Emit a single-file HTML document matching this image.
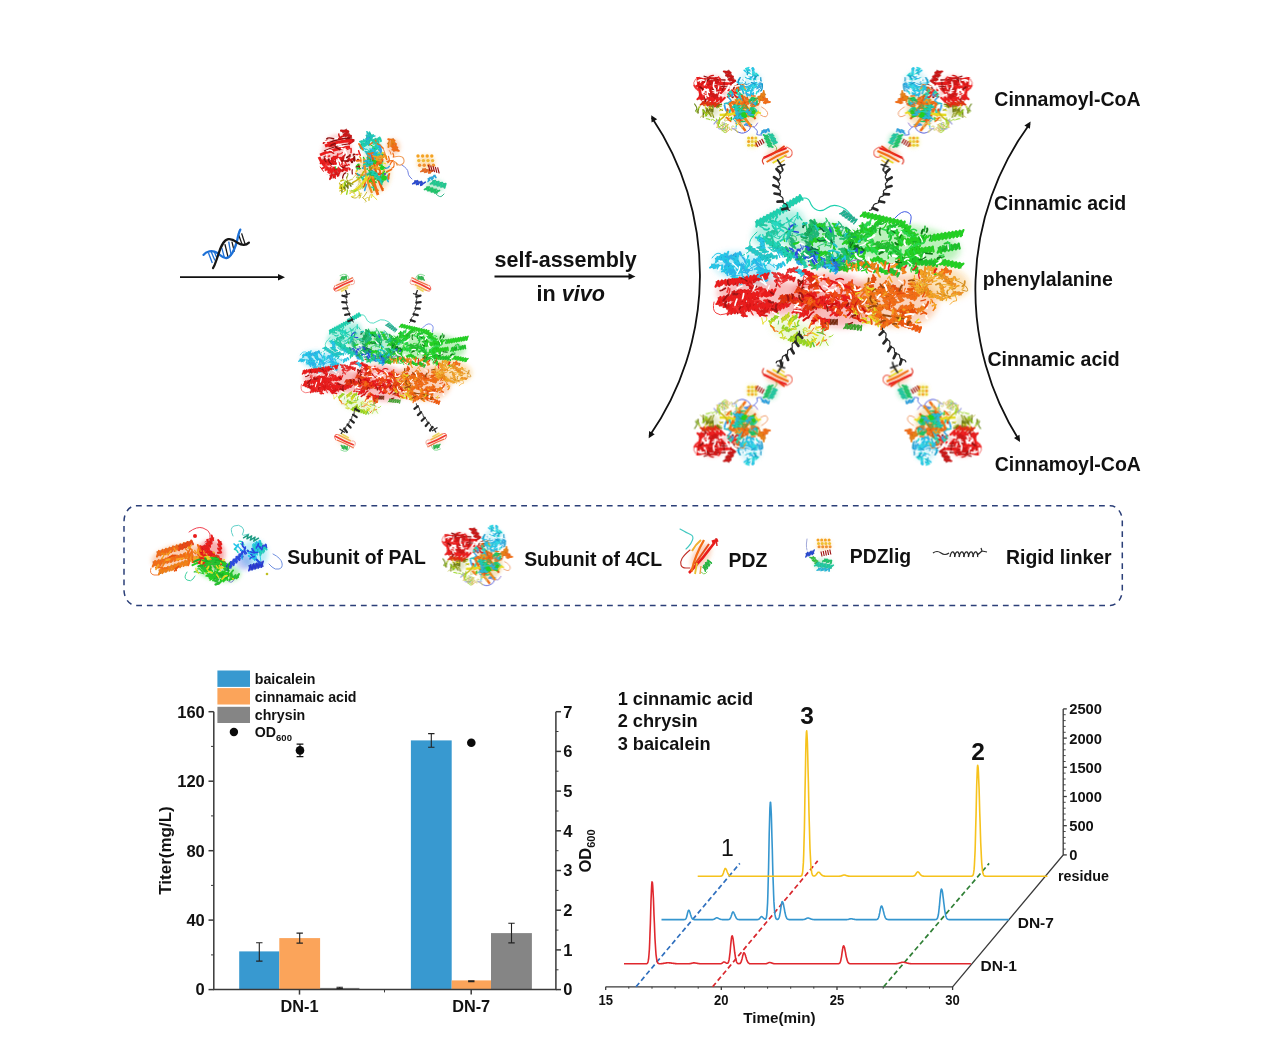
<!DOCTYPE html>
<html><head><meta charset="utf-8"><title>Figure</title>
<style>html,body{margin:0;padding:0;background:#fff}svg{display:block}</style></head>
<body>
<svg width="1269" height="1051" viewBox="0 0 1269 1051" font-family="&quot;Liberation Sans&quot;, sans-serif">
<defs>
<filter id="bl3" x="-30%" y="-30%" width="160%" height="160%"><feGaussianBlur stdDeviation="3"/></filter>
<filter id="bl2" x="-40%" y="-40%" width="180%" height="180%"><feGaussianBlur stdDeviation="2"/></filter>
<filter id="bl05" x="-5%" y="-5%" width="110%" height="110%"><feGaussianBlur stdDeviation="0.45"/></filter>
<g id="core"><g filter="url(#bl3)"><ellipse cx="778" cy="228" rx="28" ry="15" transform="rotate(-28 778 228)" fill="#1fd0ae" opacity="0.34"/><ellipse cx="825" cy="245" rx="40" ry="23" transform="rotate(8 825 245)" fill="#1fc46a" opacity="0.3"/><ellipse cx="905" cy="246" rx="55" ry="21" transform="rotate(5 905 246)" fill="#22d022" opacity="0.3"/><ellipse cx="745" cy="268" rx="32" ry="15" transform="rotate(12 745 268)" fill="#25c6e8" opacity="0.34"/><ellipse cx="770" cy="297" rx="53" ry="18" transform="rotate(5 770 297)" fill="#ea1d1d" opacity="0.3"/><ellipse cx="835" cy="300" rx="43" ry="27" transform="rotate(10 835 300)" fill="#ea1d1d" opacity="0.3"/><ellipse cx="895" cy="300" rx="43" ry="27" transform="rotate(5 895 300)" fill="#f26c14" opacity="0.3"/><ellipse cx="940" cy="282" rx="30" ry="17" transform="rotate(10 940 282)" fill="#f4a224" opacity="0.3"/><ellipse cx="800" cy="333" rx="30" ry="10" transform="rotate(15 800 333)" fill="#98d622" opacity="0.2"/></g><line x1="781.7" y1="320.2" x2="789.1" y2="314.7" stroke="#a0ac19" stroke-width="3.8" stroke-dasharray="2.2 1.4" opacity="0.8"/><path d="M782.1,322.2 L782.9,317.2 L785.0,320.0 L785.8,315.0 L788.0,317.8 L788.8,312.8" fill="none" stroke="#c8d820" stroke-width="1.5" stroke-linejoin="round" stroke-linecap="round"/><line x1="788.7" y1="325.1" x2="793.5" y2="317.0" stroke="#b8b01b" stroke-width="3.4" stroke-dasharray="2.2 1.4" opacity="0.8"/><path d="M789.6,326.7 L788.7,321.9 L791.6,323.4 L790.6,318.6 L793.5,320.2 L792.6,315.4" fill="none" stroke="#e6dc22" stroke-width="1.5" stroke-linejoin="round" stroke-linecap="round"/><path d="M761.7,317.8 Q763.6,325.6 762.9,324.3 Q762.2,323.0 764.7,321.8 Q767.3,320.7 766.8,318.9 L766.3,317.2" fill="none" stroke="#e6dc22" stroke-width="0.9" stroke-linecap="round" opacity="1"/><path d="M803.9,332.6 Q802.9,327.5 805.0,327.8 Q807.2,328.0 807.0,329.4 Q806.7,330.8 804.8,330.3 L802.8,329.8" fill="none" stroke="#c8d820" stroke-width="0.9" stroke-linecap="round" opacity="1"/><line x1="778.4" y1="314.9" x2="769.4" y2="322.5" stroke="#79ab1b" stroke-width="3.4" stroke-dasharray="2.2 1.4" opacity="0.8"/><path d="M778.0,313.1 L777.2,318.0 L775.0,315.7 L774.2,320.6 L772.0,318.2 L771.2,323.1 L769.1,320.7" fill="none" stroke="#98d622" stroke-width="1.5" stroke-linejoin="round" stroke-linecap="round"/><path d="M816.1,328.0 Q823.0,325.7 823.2,327.1 Q823.4,328.5 822.5,330.6 Q821.6,332.7 820.9,332.9 L820.1,333.1" fill="none" stroke="#f26c14" stroke-width="0.9" stroke-linecap="round" opacity="1"/><path d="M824.4,327.3 Q818.4,330.3 822.0,328.5 Q825.6,326.7 823.2,329.4 Q820.7,332.1 823.2,333.7 L825.7,335.3" fill="none" stroke="#f26c14" stroke-width="0.9" stroke-linecap="round" opacity="1"/><path d="M815.8,326.1 Q816.6,329.5 819.0,328.0 Q821.4,326.5 817.4,327.5 Q813.4,328.6 815.9,329.6 L818.4,330.6" fill="none" stroke="#e6dc22" stroke-width="0.9" stroke-linecap="round" opacity="1"/><path d="M828.2,345.5 Q825.9,340.7 824.2,339.7 Q822.4,338.7 822.9,338.8 Q823.5,338.8 821.7,342.3 L819.9,345.9" fill="none" stroke="#98d622" stroke-width="0.9" stroke-linecap="round" opacity="1"/><line x1="789.5" y1="321.4" x2="797.2" y2="316.0" stroke="#79ab1b" stroke-width="3.4" stroke-dasharray="2.2 1.4" opacity="0.8"/><path d="M789.7,323.2 L790.8,318.4 L792.7,321.1 L793.9,316.3 L795.8,318.9 L797.0,314.1" fill="none" stroke="#98d622" stroke-width="1.5" stroke-linejoin="round" stroke-linecap="round"/><line x1="790.0" y1="330.8" x2="782.2" y2="326.5" stroke="#79ab1b" stroke-width="3.9" stroke-dasharray="2.2 1.4" opacity="0.8"/><path d="M791.7,329.6 L786.4,330.9 L787.8,327.5 L782.5,328.8 L783.9,325.4" fill="none" stroke="#98d622" stroke-width="1.5" stroke-linejoin="round" stroke-linecap="round"/><path d="M794.7,327.2 Q790.0,331.4 790.8,330.2 Q791.5,328.9 794.2,329.2 Q796.9,329.6 793.9,329.0 L790.9,328.4" fill="none" stroke="#c8d820" stroke-width="0.9" stroke-linecap="round" opacity="1"/><line x1="790.1" y1="339.7" x2="797.6" y2="334.3" stroke="#a0ac19" stroke-width="3.4" stroke-dasharray="2.2 1.4" opacity="0.8"/><path d="M790.4,341.5 L791.4,336.8 L793.4,339.4 L794.4,334.6 L796.4,337.2 L797.4,332.5" fill="none" stroke="#c8d820" stroke-width="1.5" stroke-linejoin="round" stroke-linecap="round"/><path d="M812.4,340.9 Q817.4,341.5 814.8,338.5 Q812.2,335.5 812.9,336.2 Q813.5,337.0 814.6,338.9 L815.6,340.8" fill="none" stroke="#e6dc22" stroke-width="0.9" stroke-linecap="round" opacity="1"/><path d="M783.7,339.7 Q786.0,335.2 785.0,336.9 Q784.0,338.6 781.0,337.9 Q778.0,337.1 782.4,337.8 L786.8,338.4" fill="none" stroke="#c8d820" stroke-width="0.9" stroke-linecap="round" opacity="1"/><path d="M813.9,328.0 Q808.3,336.7 807.7,334.7 Q807.0,332.8 809.1,333.1 Q811.2,333.4 811.9,333.1 L812.6,332.9" fill="none" stroke="#f26c14" stroke-width="0.9" stroke-linecap="round" opacity="1"/><line x1="790.0" y1="338.0" x2="812.0" y2="345.0" stroke="#79ab1b" stroke-width="5.0" stroke-dasharray="2.2 1.4" opacity="0.8"/><path d="M788.4,340.0 L793.4,336.6 L792.1,341.2 L797.1,337.7 L795.7,342.3 L800.8,338.9 L799.4,343.5 L804.4,340.1 L803.1,344.7 L808.1,341.2 L806.7,345.8 L811.8,342.4 L810.4,347.0" fill="none" stroke="#98d622" stroke-width="1.9" stroke-linejoin="round" stroke-linecap="round"/><line x1="845.0" y1="326.0" x2="862.0" y2="328.0" stroke="#2e8421" stroke-width="5.5" stroke-dasharray="2.0 1.2" opacity="0.8"/><path d="M843.8,328.5 L847.9,323.7 L847.2,328.9 L851.3,324.1 L850.6,329.3 L854.7,324.5 L854.0,329.7 L858.1,324.9 L857.4,330.1 L861.5,325.3 L860.8,330.5" fill="none" stroke="#3aa52a" stroke-width="1.3" stroke-linejoin="round" stroke-linecap="round"/><line x1="822.0" y1="322.0" x2="838.0" y2="322.0" stroke="#61210c" stroke-width="5.5" stroke-dasharray="2.0 1.2" opacity="0.8"/><path d="M821.1,324.6 L824.5,319.4 L824.3,324.6 L827.7,319.4 L827.5,324.6 L830.9,319.4 L830.7,324.6 L834.1,319.4 L833.9,324.6 L837.3,319.4 L837.1,324.6" fill="none" stroke="#7a2a10" stroke-width="1.3" stroke-linejoin="round" stroke-linecap="round"/><path d="M747.1,281.0 Q740.5,285.3 739.8,284.8 Q739.1,284.3 742.1,279.4 Q745.0,274.5 740.7,275.1 L736.4,275.7" fill="none" stroke="#25c6e8" stroke-width="0.9" stroke-linecap="round" opacity="1"/><path d="M731.6,272.4 Q730.5,271.3 729.5,271.3 Q728.5,271.4 731.0,266.7 Q733.5,261.9 728.5,264.5 L723.6,267.1" fill="none" stroke="#25c6e8" stroke-width="0.9" stroke-linecap="round" opacity="1"/><path d="M763.9,283.5 Q765.3,276.7 765.0,278.7 Q764.7,280.6 767.0,276.8 Q769.2,273.0 767.3,274.2 L765.4,275.4" fill="none" stroke="#25c6e8" stroke-width="0.9" stroke-linecap="round" opacity="1"/><line x1="723.6" y1="269.9" x2="735.3" y2="274.4" stroke="#1d9eb9" stroke-width="4.3" stroke-dasharray="2.2 1.4" opacity="0.8"/><path d="M722.0,271.5 L727.1,269.1 L725.9,273.0 L731.0,270.6 L729.8,274.5 L734.9,272.0 L733.7,275.9" fill="none" stroke="#25c6e8" stroke-width="1.9" stroke-linejoin="round" stroke-linecap="round"/><line x1="739.8" y1="264.7" x2="748.8" y2="272.1" stroke="#2190b9" stroke-width="4.1" stroke-dasharray="2.2 1.4" opacity="0.8"/><path d="M737.8,265.6 L743.2,265.0 L740.8,268.1 L746.2,267.4 L743.8,270.5 L749.2,269.9 L746.8,273.0" fill="none" stroke="#2ab4e8" stroke-width="1.9" stroke-linejoin="round" stroke-linecap="round"/><line x1="724.9" y1="258.9" x2="733.2" y2="272.0" stroke="#2190b9" stroke-width="3.7" stroke-dasharray="2.2 1.4" opacity="0.8"/><path d="M723.0,259.1 L727.9,260.4 L725.0,262.4 L730.0,263.6 L727.1,265.6 L732.1,266.9 L729.2,268.9 L734.1,270.2 L731.2,272.1" fill="none" stroke="#2ab4e8" stroke-width="1.9" stroke-linejoin="round" stroke-linecap="round"/><path d="M736.0,267.4 Q745.0,270.2 741.0,269.1 Q737.0,268.0 740.2,264.3 Q743.4,260.7 744.8,265.9 L746.2,271.1" fill="none" stroke="#2ab4e8" stroke-width="0.9" stroke-linecap="round" opacity="1"/><line x1="735.5" y1="259.6" x2="740.7" y2="273.2" stroke="#1d9eb9" stroke-width="4.8" stroke-dasharray="2.2 1.4" opacity="0.8"/><path d="M733.0,259.5 L738.6,261.3 L734.3,263.0 L739.9,264.7 L735.6,266.4 L741.2,268.1 L736.9,269.8 L742.5,271.6 L738.3,273.2" fill="none" stroke="#25c6e8" stroke-width="1.9" stroke-linejoin="round" stroke-linecap="round"/><path d="M739.3,264.2 Q733.7,263.0 736.9,264.0 Q740.1,264.9 737.1,267.4 Q734.2,269.9 738.0,269.8 L741.8,269.7" fill="none" stroke="#25c6e8" stroke-width="0.9" stroke-linecap="round" opacity="1"/><line x1="715.7" y1="260.2" x2="728.5" y2="254.0" stroke="#1d9eb9" stroke-width="4.6" stroke-dasharray="2.2 1.4" opacity="0.8"/><path d="M715.8,262.6 L717.4,257.0 L719.5,260.8 L721.0,255.2 L723.1,259.0 L724.7,253.4 L726.8,257.2 L728.3,251.6" fill="none" stroke="#25c6e8" stroke-width="1.9" stroke-linejoin="round" stroke-linecap="round"/><line x1="761.2" y1="271.8" x2="766.0" y2="281.9" stroke="#2190b9" stroke-width="4.2" stroke-dasharray="2.2 1.4" opacity="0.8"/><path d="M759.0,271.8 L764.1,273.4 L760.6,275.2 L765.8,276.8 L762.2,278.6 L767.4,280.2 L763.8,282.0" fill="none" stroke="#2ab4e8" stroke-width="1.9" stroke-linejoin="round" stroke-linecap="round"/><line x1="751.8" y1="262.8" x2="764.1" y2="257.3" stroke="#1d9eb9" stroke-width="3.8" stroke-dasharray="2.2 1.4" opacity="0.8"/><path d="M751.7,264.8 L753.7,260.0 L755.3,263.2 L757.2,258.5 L758.8,261.7 L760.7,256.9 L762.3,260.1 L764.2,255.3" fill="none" stroke="#25c6e8" stroke-width="1.9" stroke-linejoin="round" stroke-linecap="round"/><line x1="724.4" y1="268.4" x2="734.4" y2="267.1" stroke="#1d9eb9" stroke-width="3.9" stroke-dasharray="2.2 1.4" opacity="0.8"/><path d="M723.7,270.4 L727.0,266.2 L727.7,269.8 L731.0,265.7 L731.7,269.3 L735.0,265.1" fill="none" stroke="#25c6e8" stroke-width="1.9" stroke-linejoin="round" stroke-linecap="round"/><line x1="740.3" y1="279.8" x2="749.3" y2="279.3" stroke="#2190b9" stroke-width="4.7" stroke-dasharray="2.2 1.4" opacity="0.8"/><path d="M739.5,282.1 L742.9,277.4 L743.1,281.9 L746.5,277.2 L746.7,281.7 L750.1,277.0" fill="none" stroke="#2ab4e8" stroke-width="1.9" stroke-linejoin="round" stroke-linecap="round"/><path d="M749.3,263.7 Q747.9,263.7 751.3,267.4 Q754.6,271.1 750.8,270.6 Q747.1,270.0 752.2,267.5 L757.4,264.9" fill="none" stroke="#2ab4e8" stroke-width="0.9" stroke-linecap="round" opacity="1"/><line x1="756.2" y1="267.8" x2="770.0" y2="272.7" stroke="#1d9eb9" stroke-width="3.8" stroke-dasharray="2.2 1.4" opacity="0.8"/><path d="M754.7,269.2 L759.3,267.0 L758.2,270.4 L762.8,268.2 L761.6,271.7 L766.3,269.5 L765.1,272.9 L769.7,270.7 L768.5,274.1" fill="none" stroke="#25c6e8" stroke-width="1.9" stroke-linejoin="round" stroke-linecap="round"/><line x1="721.3" y1="258.9" x2="736.2" y2="256.2" stroke="#2190b9" stroke-width="4.0" stroke-dasharray="2.2 1.4" opacity="0.8"/><path d="M720.8,260.9 L723.7,256.6 L724.5,260.2 L727.4,255.9 L728.2,259.6 L731.2,255.2 L731.9,258.9 L734.9,254.6 L735.6,258.3" fill="none" stroke="#2ab4e8" stroke-width="1.9" stroke-linejoin="round" stroke-linecap="round"/><line x1="733.4" y1="256.0" x2="741.6" y2="253.5" stroke="#2190b9" stroke-width="4.0" stroke-dasharray="2.2 1.4" opacity="0.8"/><path d="M733.1,258.1 L735.7,253.3 L737.2,256.8 L739.8,252.1 L741.3,255.6" fill="none" stroke="#2ab4e8" stroke-width="1.9" stroke-linejoin="round" stroke-linecap="round"/><line x1="711.0" y1="265.8" x2="723.0" y2="267.5" stroke="#1d9eb9" stroke-width="4.4" stroke-dasharray="2.2 1.4" opacity="0.8"/><path d="M709.9,267.7 L714.2,264.2 L713.8,268.3 L718.2,264.7 L717.8,268.9 L722.2,265.3 L721.8,269.4" fill="none" stroke="#25c6e8" stroke-width="1.9" stroke-linejoin="round" stroke-linecap="round"/><line x1="735.0" y1="257.0" x2="738.9" y2="266.9" stroke="#1d9eb9" stroke-width="3.8" stroke-dasharray="2.2 1.4" opacity="0.8"/><path d="M733.0,256.9 L737.8,259.2 L734.5,260.8 L739.4,263.1 L736.1,264.7 L740.9,267.1" fill="none" stroke="#25c6e8" stroke-width="1.9" stroke-linejoin="round" stroke-linecap="round"/><path d="M712.0,258.0 Q716.0,252.0 720.0,253.5 Q724.0,255.0 723.0,258.5 Q722.0,262.0 726.0,263.0 L730.0,264.0" fill="none" stroke="#25c6e8" stroke-width="1.0" stroke-linecap="round" opacity="1"/><line x1="756.0" y1="224.0" x2="786.0" y2="208.0" stroke="#18a68b" stroke-width="5.5" stroke-dasharray="2.2 1.4" opacity="0.8"/><path d="M756.4,226.7 L757.2,220.4 L759.8,224.9 L760.6,218.6 L763.1,223.2 L763.9,216.8 L766.4,221.4 L767.2,215.1 L769.8,219.6 L770.6,213.3 L773.1,217.8 L773.9,211.5 L776.4,216.1 L777.2,209.7 L779.8,214.3 L780.6,207.9 L783.1,212.5 L783.9,206.2 L786.4,210.7" fill="none" stroke="#1fd0ae" stroke-width="2.2" stroke-linejoin="round" stroke-linecap="round"/><line x1="783.0" y1="208.0" x2="802.0" y2="197.0" stroke="#18a68b" stroke-width="5.5" stroke-dasharray="2.2 1.4" opacity="0.8"/><path d="M783.5,210.7 L784.1,204.4 L786.7,208.9 L787.2,202.5 L789.9,207.0 L790.4,200.7 L793.0,205.2 L793.6,198.9 L796.2,203.4 L796.7,197.0 L799.4,201.5 L799.9,195.2 L802.5,199.7" fill="none" stroke="#1fd0ae" stroke-width="2.2" stroke-linejoin="round" stroke-linecap="round"/><line x1="763.0" y1="238.0" x2="792.0" y2="257.0" stroke="#18a68b" stroke-width="5.0" stroke-dasharray="2.2 1.4" opacity="0.8"/><path d="M760.9,239.5 L766.6,237.5 L764.0,241.5 L769.6,239.5 L767.0,243.5 L772.7,241.5 L770.1,245.5 L775.8,243.5 L773.1,247.5 L778.8,245.5 L776.2,249.5 L781.9,247.5 L779.2,251.5 L784.9,249.5 L782.3,253.5 L788.0,251.5 L785.4,255.5 L791.0,253.5 L788.4,257.5 L794.1,255.5" fill="none" stroke="#1fd0ae" stroke-width="2.1" stroke-linejoin="round" stroke-linecap="round"/><line x1="748.0" y1="247.0" x2="770.0" y2="262.0" stroke="#19a0a0" stroke-width="4.6" stroke-dasharray="2.2 1.4" opacity="0.8"/><path d="M746.0,248.3 L751.6,246.8 L749.2,250.5 L754.7,248.9 L752.3,252.6 L757.8,251.0 L755.4,254.7 L761.0,253.2 L758.6,256.9 L764.1,255.3 L761.7,259.0 L767.3,257.5 L764.9,261.2 L770.4,259.6 L768.0,263.3" fill="none" stroke="#20c8c8" stroke-width="1.9" stroke-linejoin="round" stroke-linecap="round"/><path d="M800.0,199.0 Q808.0,196.0 810.0,202.0 Q812.0,208.0 817.0,210.0 Q822.0,212.0 827.0,208.0 Q832.0,204.0 838.5,206.0 Q845.0,208.0 848.5,212.0 L852.0,216.0" fill="none" stroke="#1fd0ae" stroke-width="1.1" stroke-linecap="round" opacity="1"/><path d="M757.0,232.0 Q748.0,240.0 750.0,245.0 Q752.0,250.0 747.0,253.0 L742.0,256.0" fill="none" stroke="#1fd0ae" stroke-width="1.0" stroke-linecap="round" opacity="1"/><line x1="842.0" y1="212.0" x2="856.0" y2="222.0" stroke="#188c73" stroke-width="5.9" stroke-dasharray="2.0 1.2" opacity="0.8"/><path d="M839.6,213.8 L845.8,211.2 L842.4,215.8 L848.6,213.2 L845.2,217.8 L851.4,215.2 L848.0,219.8 L854.2,217.2 L850.8,221.8 L857.0,219.2 L853.6,223.8" fill="none" stroke="#1fb090" stroke-width="1.4" stroke-linejoin="round" stroke-linecap="round"/><path d="M781.0,229.5 Q778.4,232.3 776.8,233.6 Q775.2,234.9 774.0,236.7 Q772.9,238.5 777.1,234.1 L781.4,229.6" fill="none" stroke="#1fd0ae" stroke-width="0.9" stroke-linecap="round" opacity="1"/><path d="M802.5,233.7 Q792.2,236.6 798.6,235.0 Q805.0,233.5 803.8,234.9 Q802.7,236.3 798.2,234.1 L793.7,231.9" fill="none" stroke="#20c8a0" stroke-width="0.9" stroke-linecap="round" opacity="1"/><path d="M778.4,241.3 Q792.7,237.3 788.8,234.8 Q784.8,232.2 781.4,236.0 Q778.1,239.7 779.8,237.6 L781.6,235.5" fill="none" stroke="#1fd0ae" stroke-width="0.9" stroke-linecap="round" opacity="1"/><line x1="769.9" y1="220.9" x2="782.3" y2="225.9" stroke="#18a68b" stroke-width="3.5" stroke-dasharray="2.2 1.4" opacity="0.8"/><path d="M768.4,222.1 L773.1,220.4 L772.0,223.5 L776.6,221.8 L775.5,224.9 L780.2,223.3 L779.1,226.4 L783.7,224.7" fill="none" stroke="#1fd0ae" stroke-width="1.9" stroke-linejoin="round" stroke-linecap="round"/><path d="M789.8,222.2 Q792.0,217.7 792.4,218.9 Q792.8,220.2 787.8,222.1 Q782.9,224.1 783.7,223.9 L784.6,223.8" fill="none" stroke="#1fd0ae" stroke-width="0.9" stroke-linecap="round" opacity="1"/><path d="M771.3,234.9 Q779.9,240.8 779.9,238.0 Q779.9,235.2 778.8,236.4 Q777.7,237.6 777.3,235.2 L777.0,232.8" fill="none" stroke="#1fd0ae" stroke-width="0.9" stroke-linecap="round" opacity="1"/><path d="M786.3,218.9 Q801.3,226.9 796.3,226.2 Q791.4,225.6 795.8,218.7 Q800.3,211.9 793.4,217.3 L786.5,222.8" fill="none" stroke="#1fd0ae" stroke-width="0.9" stroke-linecap="round" opacity="1"/><line x1="766.3" y1="234.8" x2="777.6" y2="231.2" stroke="#19a080" stroke-width="4.4" stroke-dasharray="2.2 1.4" opacity="0.8"/><path d="M766.1,237.0 L768.4,231.9 L769.8,235.8 L772.2,230.7 L773.6,234.6 L775.9,229.5 L777.3,233.5" fill="none" stroke="#20c8a0" stroke-width="1.9" stroke-linejoin="round" stroke-linecap="round"/><line x1="772.8" y1="247.3" x2="779.8" y2="243.1" stroke="#18a68b" stroke-width="4.4" stroke-dasharray="2.2 1.4" opacity="0.8"/><path d="M773.2,249.6 L774.2,244.0 L776.6,247.4 L777.7,241.9 L780.1,245.3" fill="none" stroke="#1fd0ae" stroke-width="1.9" stroke-linejoin="round" stroke-linecap="round"/><line x1="810.8" y1="247.8" x2="818.2" y2="256.0" stroke="#189c54" stroke-width="3.4" stroke-dasharray="2.2 1.4" opacity="0.8"/><path d="M809.0,248.2 L813.8,248.8 L811.5,250.9 L816.3,251.5 L813.9,253.7 L818.7,254.2 L816.4,256.4" fill="none" stroke="#1fc46a" stroke-width="1.9" stroke-linejoin="round" stroke-linecap="round"/><line x1="832.1" y1="259.5" x2="847.4" y2="261.3" stroke="#189c54" stroke-width="3.8" stroke-dasharray="2.2 1.4" opacity="0.8"/><path d="M831.0,261.2 L835.2,258.1 L834.9,261.7 L839.0,258.5 L838.7,262.1 L842.8,259.0 L842.5,262.6 L846.6,259.4 L846.3,263.0" fill="none" stroke="#1fc46a" stroke-width="1.9" stroke-linejoin="round" stroke-linecap="round"/><line x1="818.1" y1="232.1" x2="810.0" y2="241.9" stroke="#189360" stroke-width="4.5" stroke-dasharray="2.2 1.4" opacity="0.8"/><path d="M817.1,230.0 L818.0,235.5 L814.7,232.8 L815.7,238.3 L812.4,235.6 L813.4,241.1 L810.1,238.4 L811.0,243.9" fill="none" stroke="#1fb878" stroke-width="1.9" stroke-linejoin="round" stroke-linecap="round"/><line x1="844.4" y1="237.5" x2="857.6" y2="236.9" stroke="#189c54" stroke-width="3.8" stroke-dasharray="2.2 1.4" opacity="0.8"/><path d="M843.6,239.3 L847.1,235.6 L847.3,239.2 L850.9,235.4 L851.1,239.0 L854.7,235.2 L854.9,238.8 L858.5,235.0" fill="none" stroke="#1fc46a" stroke-width="1.9" stroke-linejoin="round" stroke-linecap="round"/><line x1="819.9" y1="224.3" x2="831.5" y2="234.9" stroke="#189c54" stroke-width="4.3" stroke-dasharray="2.2 1.4" opacity="0.8"/><path d="M817.9,225.2 L823.4,224.7 L820.8,227.9 L826.3,227.4 L823.7,230.5 L829.2,230.0 L826.6,233.1 L832.1,232.6 L829.5,235.8" fill="none" stroke="#1fc46a" stroke-width="1.9" stroke-linejoin="round" stroke-linecap="round"/><line x1="818.4" y1="253.5" x2="832.3" y2="252.7" stroke="#1ba61b" stroke-width="3.6" stroke-dasharray="2.2 1.4" opacity="0.8"/><path d="M817.6,255.2 L821.2,251.6 L821.6,255.0 L825.2,251.4 L825.5,254.8 L829.1,251.2 L829.5,254.6 L833.1,251.0" fill="none" stroke="#22d022" stroke-width="1.9" stroke-linejoin="round" stroke-linecap="round"/><line x1="853.8" y1="240.8" x2="848.0" y2="251.8" stroke="#189c54" stroke-width="3.9" stroke-dasharray="2.2 1.4" opacity="0.8"/><path d="M852.6,239.1 L854.0,244.3 L850.6,242.8 L852.1,247.9 L848.7,246.5 L850.2,251.6 L846.8,250.1" fill="none" stroke="#1fc46a" stroke-width="1.9" stroke-linejoin="round" stroke-linecap="round"/><line x1="809.3" y1="247.2" x2="803.3" y2="255.3" stroke="#189c54" stroke-width="4.2" stroke-dasharray="2.2 1.4" opacity="0.8"/><path d="M808.3,245.3 L809.2,250.8 L805.9,248.6 L806.8,254.0 L803.5,251.8 L804.4,257.2" fill="none" stroke="#1fc46a" stroke-width="1.9" stroke-linejoin="round" stroke-linecap="round"/><line x1="812.4" y1="226.3" x2="821.8" y2="228.4" stroke="#1ba61b" stroke-width="4.0" stroke-dasharray="2.2 1.4" opacity="0.8"/><path d="M811.1,228.0 L815.6,225.1 L814.8,228.9 L819.3,225.9 L818.6,229.7 L823.1,226.8" fill="none" stroke="#22d022" stroke-width="1.9" stroke-linejoin="round" stroke-linecap="round"/><path d="M806.5,246.5 Q805.0,248.9 807.4,253.6 Q809.9,258.3 811.2,254.8 Q812.5,251.2 810.0,252.1 L807.6,252.9" fill="none" stroke="#1fc46a" stroke-width="0.9" stroke-linecap="round" opacity="1"/><path d="M814.8,236.2 Q819.2,231.2 815.5,231.4 Q811.9,231.6 812.7,232.8 Q813.5,234.0 816.9,236.5 L820.3,238.9" fill="none" stroke="#1fb878" stroke-width="0.9" stroke-linecap="round" opacity="1"/><line x1="851.7" y1="242.2" x2="854.2" y2="249.8" stroke="#1ba61b" stroke-width="4.7" stroke-dasharray="2.2 1.4" opacity="0.8"/><path d="M849.3,242.0 L854.7,244.3 L850.5,245.9 L856.0,248.1 L851.7,249.7" fill="none" stroke="#22d022" stroke-width="1.9" stroke-linejoin="round" stroke-linecap="round"/><path d="M825.7,245.0 Q832.8,245.7 830.3,246.1 Q827.8,246.4 826.2,244.6 Q824.6,242.8 821.0,244.8 L817.4,246.7" fill="none" stroke="#1fc46a" stroke-width="0.9" stroke-linecap="round" opacity="1"/><line x1="799.4" y1="253.3" x2="801.2" y2="263.6" stroke="#189c54" stroke-width="4.1" stroke-dasharray="2.2 1.4" opacity="0.8"/><path d="M797.3,252.8 L801.9,255.9 L798.0,256.9 L802.6,260.1 L798.7,261.0 L803.3,264.2" fill="none" stroke="#1fc46a" stroke-width="1.9" stroke-linejoin="round" stroke-linecap="round"/><path d="M813.7,257.5 Q810.4,254.3 816.7,252.7 Q822.9,251.1 818.6,254.6 Q814.4,258.1 813.9,256.1 L813.5,254.2" fill="none" stroke="#18a860" stroke-width="0.9" stroke-linecap="round" opacity="1"/><path d="M829.4,225.7 Q828.2,219.1 830.1,224.4 Q832.1,229.7 828.6,222.7 Q825.1,215.6 826.0,218.7 L826.9,221.7" fill="none" stroke="#1fc46a" stroke-width="0.9" stroke-linecap="round" opacity="1"/><path d="M838.5,226.8 Q843.0,226.7 840.5,227.3 Q838.0,227.9 841.5,226.6 Q845.1,225.2 842.9,229.4 L840.7,233.6" fill="none" stroke="#18a860" stroke-width="0.9" stroke-linecap="round" opacity="1"/><path d="M851.8,243.6 Q857.7,242.9 853.1,242.5 Q848.4,242.1 850.1,246.3 Q851.8,250.6 854.3,249.7 L856.8,248.9" fill="none" stroke="#18a860" stroke-width="0.9" stroke-linecap="round" opacity="1"/><line x1="815.7" y1="221.5" x2="808.5" y2="233.5" stroke="#189c54" stroke-width="4.4" stroke-dasharray="2.2 1.4" opacity="0.8"/><path d="M814.3,219.6 L816.0,225.1 L812.3,223.1 L813.9,228.5 L810.2,226.5 L811.9,231.9 L808.2,229.9 L809.8,235.3" fill="none" stroke="#1fc46a" stroke-width="1.9" stroke-linejoin="round" stroke-linecap="round"/><line x1="816.7" y1="225.3" x2="825.4" y2="225.4" stroke="#1ba61b" stroke-width="3.5" stroke-dasharray="2.2 1.4" opacity="0.8"/><path d="M815.8,227.0 L819.8,223.6 L820.1,227.0 L824.2,223.7 L824.5,227.1" fill="none" stroke="#22d022" stroke-width="1.9" stroke-linejoin="round" stroke-linecap="round"/><line x1="811.7" y1="250.0" x2="808.7" y2="261.0" stroke="#189c54" stroke-width="3.6" stroke-dasharray="2.2 1.4" opacity="0.8"/><path d="M810.3,248.6 L812.7,253.1 L809.3,252.3 L811.7,256.8 L808.3,256.0 L810.7,260.5 L807.3,259.7" fill="none" stroke="#1fc46a" stroke-width="1.9" stroke-linejoin="round" stroke-linecap="round"/><path d="M825.0,246.3 Q830.9,233.4 824.8,233.6 Q818.7,233.8 826.1,235.4 Q833.5,237.0 832.0,242.4 L830.6,247.7" fill="none" stroke="#22d022" stroke-width="0.9" stroke-linecap="round" opacity="1"/><line x1="815.9" y1="226.0" x2="808.7" y2="236.7" stroke="#189360" stroke-width="4.4" stroke-dasharray="2.2 1.4" opacity="0.8"/><path d="M814.7,224.1 L816.1,229.5 L812.6,227.2 L814.0,232.5 L810.5,230.2 L812.0,235.6 L808.5,233.3 L809.9,238.6" fill="none" stroke="#1fb878" stroke-width="1.9" stroke-linejoin="round" stroke-linecap="round"/><path d="M852.1,238.3 Q863.2,245.6 858.8,240.2 Q854.4,234.8 854.8,236.7 Q855.1,238.6 858.9,236.2 L862.7,233.8" fill="none" stroke="#1fc46a" stroke-width="0.9" stroke-linecap="round" opacity="1"/><line x1="846.2" y1="249.7" x2="842.5" y2="263.4" stroke="#13864c" stroke-width="4.6" stroke-dasharray="2.2 1.4" opacity="0.8"/><path d="M844.3,248.3 L847.5,253.1 L843.2,252.2 L846.5,257.1 L842.2,256.1 L845.4,261.0 L841.1,260.0 L844.3,264.9" fill="none" stroke="#18a860" stroke-width="1.9" stroke-linejoin="round" stroke-linecap="round"/><line x1="816.6" y1="249.2" x2="820.0" y2="260.7" stroke="#1ba61b" stroke-width="3.7" stroke-dasharray="2.2 1.4" opacity="0.8"/><path d="M814.6,248.8 L819.1,251.4 L815.8,252.7 L820.3,255.3 L816.9,256.5 L821.4,259.2 L818.1,260.4" fill="none" stroke="#22d022" stroke-width="1.9" stroke-linejoin="round" stroke-linecap="round"/><line x1="832.6" y1="230.0" x2="823.5" y2="242.0" stroke="#189c54" stroke-width="3.5" stroke-dasharray="2.2 1.4" opacity="0.8"/><path d="M831.8,228.2 L832.2,233.2 L829.5,231.2 L829.9,236.2 L827.2,234.2 L827.7,239.2 L825.0,237.2 L825.4,242.2 L822.7,240.2" fill="none" stroke="#1fc46a" stroke-width="1.9" stroke-linejoin="round" stroke-linecap="round"/><path d="M792.1,244.1 Q789.0,239.2 792.7,240.7 Q796.4,242.3 796.5,239.0 Q796.5,235.8 793.0,235.6 L789.6,235.4" fill="none" stroke="#1fc46a" stroke-width="0.9" stroke-linecap="round" opacity="1"/><path d="M810.3,230.8 Q804.0,228.8 807.8,229.4 Q811.6,230.0 807.2,231.8 Q802.9,233.5 805.3,234.5 L807.7,235.5" fill="none" stroke="#1fc46a" stroke-width="0.9" stroke-linecap="round" opacity="1"/><path d="M789.6,231.0 Q787.7,246.1 791.2,245.7 Q794.7,245.3 792.8,244.7 Q791.0,244.2 791.6,238.8 L792.3,233.5" fill="none" stroke="#1fb878" stroke-width="0.9" stroke-linecap="round" opacity="1"/><line x1="791.6" y1="238.3" x2="793.9" y2="247.8" stroke="#189360" stroke-width="3.4" stroke-dasharray="2.2 1.4" opacity="0.8"/><path d="M789.8,237.8 L793.9,240.7 L790.7,241.6 L794.8,244.5 L791.6,245.4 L795.6,248.3" fill="none" stroke="#1fb878" stroke-width="1.9" stroke-linejoin="round" stroke-linecap="round"/><line x1="839.7" y1="256.4" x2="836.2" y2="270.6" stroke="#1ba61b" stroke-width="3.6" stroke-dasharray="2.2 1.4" opacity="0.8"/><path d="M838.3,255.1 L840.7,259.5 L837.4,258.7 L839.8,263.0 L836.5,262.2 L839.0,266.6 L835.6,265.7 L838.1,270.1 L834.7,269.3" fill="none" stroke="#22d022" stroke-width="1.9" stroke-linejoin="round" stroke-linecap="round"/><line x1="811.9" y1="222.0" x2="809.5" y2="234.2" stroke="#189c54" stroke-width="4.5" stroke-dasharray="2.2 1.4" opacity="0.8"/><path d="M810.0,220.7 L813.4,225.3 L809.1,224.8 L812.6,229.4 L808.3,228.8 L811.8,233.4 L807.5,232.9" fill="none" stroke="#1fc46a" stroke-width="1.9" stroke-linejoin="round" stroke-linecap="round"/><line x1="834.6" y1="223.7" x2="840.3" y2="235.7" stroke="#1ba61b" stroke-width="4.0" stroke-dasharray="2.2 1.4" opacity="0.8"/><path d="M832.6,223.7 L837.5,225.4 L834.2,227.1 L839.1,228.8 L835.8,230.5 L840.8,232.3 L837.4,233.9 L842.4,235.7" fill="none" stroke="#22d022" stroke-width="1.9" stroke-linejoin="round" stroke-linecap="round"/><line x1="810.8" y1="227.9" x2="805.0" y2="236.7" stroke="#13864c" stroke-width="4.0" stroke-dasharray="2.2 1.4" opacity="0.8"/><path d="M809.7,226.2 L810.7,231.5 L807.4,229.7 L808.4,235.0 L805.1,233.2 L806.1,238.5" fill="none" stroke="#18a860" stroke-width="1.9" stroke-linejoin="round" stroke-linecap="round"/><line x1="840.9" y1="248.5" x2="848.9" y2="256.4" stroke="#189c54" stroke-width="3.6" stroke-dasharray="2.2 1.4" opacity="0.8"/><path d="M839.0,249.1 L844.0,249.3 L841.7,251.8 L846.7,251.9 L844.3,254.4 L849.4,254.5 L847.0,257.0" fill="none" stroke="#1fc46a" stroke-width="1.9" stroke-linejoin="round" stroke-linecap="round"/><line x1="830.3" y1="233.5" x2="829.0" y2="242.4" stroke="#189c54" stroke-width="4.3" stroke-dasharray="2.2 1.4" opacity="0.8"/><path d="M828.4,232.3 L832.0,236.4 L827.9,235.9 L831.5,240.0 L827.4,239.4 L830.9,243.6" fill="none" stroke="#1fc46a" stroke-width="1.9" stroke-linejoin="round" stroke-linecap="round"/><path d="M829.4,233.9 Q831.7,241.5 834.0,241.7 Q836.2,242.0 833.5,242.2 Q830.8,242.4 829.4,242.8 L828.0,243.2" fill="none" stroke="#1fb878" stroke-width="0.9" stroke-linecap="round" opacity="1"/><line x1="807.6" y1="241.5" x2="809.2" y2="250.0" stroke="#13864c" stroke-width="4.7" stroke-dasharray="2.2 1.4" opacity="0.8"/><path d="M805.2,241.0 L810.3,244.1 L806.0,245.3 L811.1,248.3 L806.9,249.5" fill="none" stroke="#18a860" stroke-width="1.9" stroke-linejoin="round" stroke-linecap="round"/><line x1="829.9" y1="253.7" x2="832.8" y2="266.3" stroke="#189c54" stroke-width="3.6" stroke-dasharray="2.2 1.4" opacity="0.8"/><path d="M828.0,253.2 L832.2,256.0 L828.9,256.8 L833.1,259.6 L829.7,260.4 L833.9,263.2 L830.5,264.0 L834.7,266.8" fill="none" stroke="#1fc46a" stroke-width="1.9" stroke-linejoin="round" stroke-linecap="round"/><path d="M808.7,239.8 Q798.3,240.7 802.6,239.3 Q806.9,237.9 805.8,235.6 Q804.6,233.3 802.8,234.2 L800.9,235.1" fill="none" stroke="#1fc46a" stroke-width="0.9" stroke-linecap="round" opacity="1"/><line x1="846.7" y1="253.6" x2="848.4" y2="264.0" stroke="#189c54" stroke-width="4.3" stroke-dasharray="2.2 1.4" opacity="0.8"/><path d="M844.6,253.1 L849.2,256.3 L845.2,257.2 L849.9,260.4 L845.9,261.3 L850.6,264.5" fill="none" stroke="#1fc46a" stroke-width="1.9" stroke-linejoin="round" stroke-linecap="round"/><line x1="812.9" y1="240.5" x2="825.8" y2="239.0" stroke="#1ba61b" stroke-width="4.0" stroke-dasharray="2.2 1.4" opacity="0.8"/><path d="M812.3,242.5 L815.4,238.3 L815.9,242.1 L819.1,237.9 L819.6,241.6 L822.8,237.4 L823.3,241.2 L826.5,237.0" fill="none" stroke="#22d022" stroke-width="1.9" stroke-linejoin="round" stroke-linecap="round"/><path d="M823.5,256.9 Q822.9,257.1 826.5,253.7 Q830.1,250.2 831.2,250.5 Q832.3,250.9 833.2,256.9 L834.0,263.0" fill="none" stroke="#22d022" stroke-width="0.9" stroke-linecap="round" opacity="1"/><path d="M820.9,225.2 Q829.1,218.5 825.4,223.7 Q821.7,228.8 822.8,228.3 Q823.8,227.8 827.1,227.0 L830.5,226.2" fill="none" stroke="#1fc46a" stroke-width="0.9" stroke-linecap="round" opacity="1"/><path d="M847.5,229.7 Q846.2,227.7 843.8,233.7 Q841.4,239.7 839.1,234.6 Q836.8,229.5 839.1,230.0 L841.4,230.4" fill="none" stroke="#1fb878" stroke-width="0.9" stroke-linecap="round" opacity="1"/><line x1="811.9" y1="255.9" x2="808.2" y2="259.9" stroke="#2139b3" stroke-width="2.9" stroke-dasharray="2.2 1.4" opacity="0.8"/><path d="M811.5,254.3 L811.1,258.8 L809.0,257.0 L808.6,261.5" fill="none" stroke="#2a48e0" stroke-width="1.5" stroke-linejoin="round" stroke-linecap="round"/><line x1="816.7" y1="253.5" x2="814.2" y2="248.7" stroke="#214cb3" stroke-width="2.9" stroke-dasharray="2.2 1.4" opacity="0.8"/><path d="M818.4,253.6 L814.2,251.8 L816.7,250.4 L812.5,248.6" fill="none" stroke="#2a60e0" stroke-width="1.5" stroke-linejoin="round" stroke-linecap="round"/><path d="M803.1,244.5 Q803.6,245.8 803.0,248.1 Q802.4,250.5 802.2,249.4 Q802.1,248.4 801.2,246.3 L800.3,244.2" fill="none" stroke="#2a48e0" stroke-width="0.9" stroke-linecap="round" opacity="1"/><line x1="809.8" y1="250.9" x2="806.7" y2="246.4" stroke="#2139b3" stroke-width="2.6" stroke-dasharray="2.2 1.4" opacity="0.8"/><path d="M811.4,250.9 L807.3,249.4 L809.2,247.9 L805.1,246.4" fill="none" stroke="#2a48e0" stroke-width="1.5" stroke-linejoin="round" stroke-linecap="round"/><line x1="790.9" y1="248.2" x2="794.1" y2="254.5" stroke="#214cb3" stroke-width="3.2" stroke-dasharray="2.2 1.4" opacity="0.8"/><path d="M789.1,248.0 L793.7,250.4 L791.3,252.3 L795.9,254.6" fill="none" stroke="#2a60e0" stroke-width="1.5" stroke-linejoin="round" stroke-linecap="round"/><line x1="793.7" y1="255.6" x2="799.8" y2="249.3" stroke="#2139b3" stroke-width="3.0" stroke-dasharray="2.2 1.4" opacity="0.8"/><path d="M794.1,257.3 L794.8,252.4 L797.1,254.1 L797.8,249.3 L800.2,251.0" fill="none" stroke="#2a48e0" stroke-width="1.5" stroke-linejoin="round" stroke-linecap="round"/><line x1="893.7" y1="229.3" x2="904.4" y2="240.9" stroke="#1ba61b" stroke-width="4.2" stroke-dasharray="2.2 1.4" opacity="0.8"/><path d="M891.7,230.0 L897.2,230.0 L894.3,232.9 L899.8,232.9 L897.0,235.7 L902.5,235.8 L899.7,238.6 L905.1,238.7 L902.3,241.5" fill="none" stroke="#22d022" stroke-width="1.9" stroke-linejoin="round" stroke-linecap="round"/><line x1="864.8" y1="248.9" x2="880.2" y2="249.8" stroke="#20ac39" stroke-width="4.7" stroke-dasharray="2.2 1.4" opacity="0.8"/><path d="M863.8,251.1 L867.7,246.8 L867.6,251.3 L871.6,247.1 L871.5,251.5 L875.5,247.3 L875.4,251.7 L879.3,247.5 L879.2,252.0" fill="none" stroke="#28d848" stroke-width="1.9" stroke-linejoin="round" stroke-linecap="round"/><line x1="843.6" y1="242.3" x2="853.5" y2="242.1" stroke="#1ba61b" stroke-width="3.5" stroke-dasharray="2.2 1.4" opacity="0.8"/><path d="M842.7,244.0 L846.4,240.6 L846.7,243.9 L850.4,240.5 L850.6,243.8 L854.3,240.4" fill="none" stroke="#22d022" stroke-width="1.9" stroke-linejoin="round" stroke-linecap="round"/><line x1="888.3" y1="254.2" x2="898.4" y2="249.2" stroke="#20ac39" stroke-width="3.6" stroke-dasharray="2.2 1.4" opacity="0.8"/><path d="M888.3,256.1 L890.0,251.4 L891.6,254.4 L893.4,249.7 L895.0,252.8 L896.8,248.0 L898.4,251.1" fill="none" stroke="#28d848" stroke-width="1.9" stroke-linejoin="round" stroke-linecap="round"/><line x1="865.2" y1="239.2" x2="876.0" y2="228.6" stroke="#20ac39" stroke-width="3.4" stroke-dasharray="2.2 1.4" opacity="0.8"/><path d="M865.6,241.0 L866.0,236.1 L868.3,238.3 L868.7,233.5 L871.0,235.7 L871.5,230.8 L873.8,233.1 L874.2,228.2 L876.5,230.4" fill="none" stroke="#28d848" stroke-width="1.9" stroke-linejoin="round" stroke-linecap="round"/><path d="M919.8,253.2 Q913.9,250.8 916.0,257.6 Q918.1,264.3 918.5,258.7 Q918.9,253.2 911.5,256.3 L904.0,259.4" fill="none" stroke="#28d848" stroke-width="0.9" stroke-linecap="round" opacity="1"/><line x1="894.6" y1="246.6" x2="902.5" y2="260.2" stroke="#199926" stroke-width="4.8" stroke-dasharray="2.2 1.4" opacity="0.8"/><path d="M892.2,246.9 L898.0,247.9 L894.2,250.3 L900.0,251.3 L896.2,253.7 L902.0,254.7 L898.1,257.2 L903.9,258.2 L900.1,260.6" fill="none" stroke="#20c030" stroke-width="1.9" stroke-linejoin="round" stroke-linecap="round"/><line x1="857.6" y1="262.4" x2="864.4" y2="254.9" stroke="#1ba61b" stroke-width="3.7" stroke-dasharray="2.2 1.4" opacity="0.8"/><path d="M858.3,264.3 L858.3,259.1 L861.0,261.3 L861.0,256.1 L863.7,258.3 L863.7,253.1" fill="none" stroke="#22d022" stroke-width="1.9" stroke-linejoin="round" stroke-linecap="round"/><line x1="855.8" y1="234.9" x2="866.0" y2="239.1" stroke="#20ac39" stroke-width="4.1" stroke-dasharray="2.2 1.4" opacity="0.8"/><path d="M854.2,236.4 L859.0,234.1 L857.6,237.8 L862.5,235.5 L861.0,239.2 L865.9,236.9 L864.4,240.5" fill="none" stroke="#28d848" stroke-width="1.9" stroke-linejoin="round" stroke-linecap="round"/><path d="M907.4,253.4 Q921.1,257.0 915.1,254.6 Q909.1,252.2 908.3,257.2 Q907.6,262.3 912.1,262.3 L916.6,262.4" fill="none" stroke="#22d022" stroke-width="0.9" stroke-linecap="round" opacity="1"/><line x1="900.4" y1="224.7" x2="910.6" y2="228.6" stroke="#1ba61b" stroke-width="4.5" stroke-dasharray="2.2 1.4" opacity="0.8"/><path d="M898.8,226.3 L903.7,223.7 L902.2,227.6 L907.1,224.9 L905.6,228.9 L910.5,226.2 L909.0,230.2" fill="none" stroke="#22d022" stroke-width="1.9" stroke-linejoin="round" stroke-linecap="round"/><path d="M906.3,244.0 Q903.8,244.1 903.8,241.0 Q903.8,237.9 900.7,236.8 Q897.7,235.7 901.5,236.4 L905.3,237.0" fill="none" stroke="#22d022" stroke-width="0.9" stroke-linecap="round" opacity="1"/><path d="M874.0,244.3 Q874.1,240.6 872.4,238.7 Q870.6,236.8 872.2,239.9 Q873.8,242.9 869.5,241.3 L865.2,239.6" fill="none" stroke="#20c030" stroke-width="0.9" stroke-linecap="round" opacity="1"/><line x1="848.6" y1="244.2" x2="857.6" y2="235.5" stroke="#1ba61b" stroke-width="3.8" stroke-dasharray="2.2 1.4" opacity="0.8"/><path d="M849.2,246.1 L849.5,240.8 L852.2,243.2 L852.5,237.9 L855.2,240.3 L855.5,235.0 L858.2,237.4" fill="none" stroke="#22d022" stroke-width="1.9" stroke-linejoin="round" stroke-linecap="round"/><path d="M879.7,244.4 Q884.8,239.3 882.3,240.7 Q879.7,242.0 882.6,241.3 Q885.4,240.6 886.3,240.8 L887.3,241.0" fill="none" stroke="#22d022" stroke-width="0.9" stroke-linecap="round" opacity="1"/><line x1="857.1" y1="250.0" x2="865.9" y2="251.5" stroke="#1ba61b" stroke-width="4.8" stroke-dasharray="2.2 1.4" opacity="0.8"/><path d="M855.8,252.1 L860.6,248.3 L860.2,252.9 L865.0,249.0 L864.6,253.6" fill="none" stroke="#22d022" stroke-width="1.9" stroke-linejoin="round" stroke-linecap="round"/><line x1="887.1" y1="227.9" x2="895.7" y2="226.3" stroke="#20ac39" stroke-width="4.5" stroke-dasharray="2.2 1.4" opacity="0.8"/><path d="M886.6,230.2 L889.7,225.3 L890.9,229.3 L894.0,224.4 L895.2,228.5" fill="none" stroke="#28d848" stroke-width="1.9" stroke-linejoin="round" stroke-linecap="round"/><line x1="873.0" y1="250.3" x2="883.4" y2="249.4" stroke="#20ac39" stroke-width="4.1" stroke-dasharray="2.2 1.4" opacity="0.8"/><path d="M872.3,252.4 L875.8,248.1 L876.5,252.0 L880.0,247.7 L880.6,251.6 L884.1,247.3" fill="none" stroke="#28d848" stroke-width="1.9" stroke-linejoin="round" stroke-linecap="round"/><line x1="868.5" y1="262.2" x2="879.3" y2="257.8" stroke="#1ba61b" stroke-width="3.8" stroke-dasharray="2.2 1.4" opacity="0.8"/><path d="M868.3,264.2 L870.4,259.4 L872.0,262.8 L874.1,258.0 L875.6,261.3 L877.7,256.5 L879.2,259.8" fill="none" stroke="#22d022" stroke-width="1.9" stroke-linejoin="round" stroke-linecap="round"/><line x1="850.1" y1="253.2" x2="862.3" y2="260.1" stroke="#1ba61b" stroke-width="4.4" stroke-dasharray="2.2 1.4" opacity="0.8"/><path d="M848.3,254.6 L853.7,252.8 L851.8,256.5 L857.2,254.8 L855.3,258.5 L860.6,256.7 L858.7,260.5 L864.1,258.7" fill="none" stroke="#22d022" stroke-width="1.9" stroke-linejoin="round" stroke-linecap="round"/><line x1="860.2" y1="231.6" x2="873.2" y2="229.4" stroke="#1ba61b" stroke-width="3.8" stroke-dasharray="2.2 1.4" opacity="0.8"/><path d="M859.6,233.6 L862.6,229.4 L863.3,232.9 L866.3,228.8 L867.0,232.3 L870.0,228.1 L870.7,231.6 L873.7,227.5" fill="none" stroke="#22d022" stroke-width="1.9" stroke-linejoin="round" stroke-linecap="round"/><line x1="897.8" y1="257.3" x2="910.3" y2="262.9" stroke="#1ba61b" stroke-width="4.2" stroke-dasharray="2.2 1.4" opacity="0.8"/><path d="M896.1,258.8 L901.2,256.6 L899.7,260.4 L904.8,258.2 L903.3,262.0 L908.4,259.8 L906.9,263.6 L912.0,261.4" fill="none" stroke="#22d022" stroke-width="1.9" stroke-linejoin="round" stroke-linecap="round"/><path d="M875.9,227.7 Q869.7,227.1 870.6,228.0 Q871.6,228.9 871.4,227.8 Q871.2,226.7 875.1,227.7 L878.9,228.7" fill="none" stroke="#22d022" stroke-width="0.9" stroke-linecap="round" opacity="1"/><line x1="910.9" y1="250.7" x2="920.8" y2="239.6" stroke="#20ac39" stroke-width="4.1" stroke-dasharray="2.2 1.4" opacity="0.8"/><path d="M911.8,252.6 L911.3,247.3 L914.2,249.8 L913.7,244.5 L916.7,247.1 L916.2,241.7 L919.2,244.3 L918.7,239.0 L921.6,241.5" fill="none" stroke="#28d848" stroke-width="1.9" stroke-linejoin="round" stroke-linecap="round"/><path d="M891.7,248.7 Q898.8,244.7 898.4,246.6 Q898.0,248.6 898.1,247.2 Q898.3,245.7 899.9,245.6 L901.5,245.5" fill="none" stroke="#28d848" stroke-width="0.9" stroke-linecap="round" opacity="1"/><line x1="888.8" y1="234.8" x2="896.7" y2="230.6" stroke="#20ac39" stroke-width="4.3" stroke-dasharray="2.2 1.4" opacity="0.8"/><path d="M888.9,237.0 L890.6,231.5 L892.9,234.9 L894.5,229.4 L896.9,232.8" fill="none" stroke="#28d848" stroke-width="1.9" stroke-linejoin="round" stroke-linecap="round"/><line x1="848.3" y1="232.9" x2="858.2" y2="242.4" stroke="#1ba61b" stroke-width="4.0" stroke-dasharray="2.2 1.4" opacity="0.8"/><path d="M846.4,233.7 L851.7,233.5 L849.2,236.4 L854.5,236.2 L852.0,239.1 L857.3,239.0 L854.8,241.8 L860.2,241.7" fill="none" stroke="#22d022" stroke-width="1.9" stroke-linejoin="round" stroke-linecap="round"/><line x1="874.3" y1="249.1" x2="887.7" y2="248.9" stroke="#1ba61b" stroke-width="3.8" stroke-dasharray="2.2 1.4" opacity="0.8"/><path d="M873.4,251.0 L877.0,247.2 L877.2,250.9 L880.9,247.2 L881.0,250.8 L884.7,247.1 L884.9,250.8 L888.5,247.1" fill="none" stroke="#22d022" stroke-width="1.9" stroke-linejoin="round" stroke-linecap="round"/><line x1="859.9" y1="225.3" x2="872.6" y2="234.5" stroke="#1ba61b" stroke-width="3.5" stroke-dasharray="2.2 1.4" opacity="0.8"/><path d="M858.2,226.1 L863.2,225.6 L861.4,228.4 L866.4,227.9 L864.5,230.7 L869.5,230.2 L867.7,233.0 L872.7,232.5 L870.9,235.3" fill="none" stroke="#22d022" stroke-width="1.9" stroke-linejoin="round" stroke-linecap="round"/><line x1="885.9" y1="242.8" x2="895.7" y2="249.9" stroke="#199926" stroke-width="4.0" stroke-dasharray="2.2 1.4" opacity="0.8"/><path d="M884.1,243.8 L889.4,242.9 L887.3,246.1 L892.6,245.3 L890.6,248.5 L895.9,247.7 L893.8,250.9" fill="none" stroke="#20c030" stroke-width="1.9" stroke-linejoin="round" stroke-linecap="round"/><line x1="896.7" y1="237.6" x2="903.5" y2="243.5" stroke="#199926" stroke-width="3.7" stroke-dasharray="2.2 1.4" opacity="0.8"/><path d="M894.9,238.3 L900.3,238.4 L898.3,241.3 L903.6,241.3 L901.6,244.3" fill="none" stroke="#20c030" stroke-width="1.9" stroke-linejoin="round" stroke-linecap="round"/><line x1="871.5" y1="229.0" x2="883.0" y2="218.9" stroke="#199926" stroke-width="3.5" stroke-dasharray="2.2 1.4" opacity="0.8"/><path d="M871.9,230.8 L872.5,225.9 L874.8,228.3 L875.4,223.4 L877.7,225.8 L878.3,220.8 L880.6,223.3 L881.2,218.3 L883.5,220.8" fill="none" stroke="#20c030" stroke-width="1.9" stroke-linejoin="round" stroke-linecap="round"/><line x1="866.3" y1="231.2" x2="873.1" y2="245.4" stroke="#20ac39" stroke-width="3.6" stroke-dasharray="2.2 1.4" opacity="0.8"/><path d="M864.4,231.1 L869.1,233.0 L866.1,234.6 L870.8,236.6 L867.8,238.2 L872.5,240.1 L869.5,241.8 L874.2,243.7 L871.2,245.3" fill="none" stroke="#28d848" stroke-width="1.9" stroke-linejoin="round" stroke-linecap="round"/><line x1="903.8" y1="229.5" x2="916.1" y2="235.8" stroke="#1ba61b" stroke-width="4.3" stroke-dasharray="2.2 1.4" opacity="0.8"/><path d="M902.1,230.9 L907.3,229.0 L905.6,232.7 L910.8,230.8 L909.1,234.5 L914.3,232.6 L912.6,236.3 L917.8,234.3" fill="none" stroke="#22d022" stroke-width="1.9" stroke-linejoin="round" stroke-linecap="round"/><line x1="904.0" y1="259.5" x2="914.3" y2="260.6" stroke="#1ba61b" stroke-width="4.1" stroke-dasharray="2.2 1.4" opacity="0.8"/><path d="M902.9,261.3 L907.2,257.9 L907.1,261.8 L911.3,258.4 L911.2,262.2 L915.4,258.8" fill="none" stroke="#22d022" stroke-width="1.9" stroke-linejoin="round" stroke-linecap="round"/><line x1="903.1" y1="230.3" x2="914.2" y2="238.0" stroke="#20ac39" stroke-width="4.1" stroke-dasharray="2.2 1.4" opacity="0.8"/><path d="M901.2,231.4 L906.5,230.3 L904.4,233.6 L909.7,232.5 L907.6,235.8 L912.9,234.7 L910.8,238.0 L916.0,236.9" fill="none" stroke="#28d848" stroke-width="1.9" stroke-linejoin="round" stroke-linecap="round"/><line x1="901.6" y1="260.0" x2="914.8" y2="258.4" stroke="#199926" stroke-width="4.0" stroke-dasharray="2.2 1.4" opacity="0.8"/><path d="M901.0,262.0 L904.2,257.8 L904.7,261.6 L907.9,257.4 L908.5,261.1 L911.7,256.9 L912.2,260.6 L915.4,256.4" fill="none" stroke="#20c030" stroke-width="1.9" stroke-linejoin="round" stroke-linecap="round"/><path d="M901.4,259.5 Q900.6,245.3 901.0,249.8 Q901.5,254.4 893.9,248.6 Q886.4,242.9 895.0,248.9 L903.7,254.8" fill="none" stroke="#28d848" stroke-width="0.9" stroke-linecap="round" opacity="1"/><line x1="862.5" y1="227.5" x2="870.8" y2="222.1" stroke="#20ac39" stroke-width="3.6" stroke-dasharray="2.2 1.4" opacity="0.8"/><path d="M862.6,229.4 L863.9,224.5 L865.9,227.2 L867.3,222.3 L869.3,225.1 L870.6,220.2" fill="none" stroke="#28d848" stroke-width="1.9" stroke-linejoin="round" stroke-linecap="round"/><line x1="909.5" y1="263.4" x2="922.6" y2="255.8" stroke="#1ba61b" stroke-width="4.7" stroke-dasharray="2.2 1.4" opacity="0.8"/><path d="M909.9,265.7 L910.8,260.0 L913.1,263.9 L914.1,258.2 L916.4,262.0 L917.4,256.3 L919.7,260.1 L920.7,254.4 L923.0,258.2" fill="none" stroke="#22d022" stroke-width="1.9" stroke-linejoin="round" stroke-linecap="round"/><line x1="900.6" y1="263.9" x2="912.7" y2="257.9" stroke="#1ba61b" stroke-width="4.0" stroke-dasharray="2.2 1.4" opacity="0.8"/><path d="M900.6,266.0 L902.3,260.9 L904.1,264.3 L905.8,259.2 L907.6,262.5 L909.2,257.5 L911.0,260.8 L912.7,255.7" fill="none" stroke="#22d022" stroke-width="1.9" stroke-linejoin="round" stroke-linecap="round"/><line x1="910.6" y1="250.6" x2="920.0" y2="247.5" stroke="#1ba61b" stroke-width="4.2" stroke-dasharray="2.2 1.4" opacity="0.8"/><path d="M910.4,252.8 L912.7,247.8 L914.1,251.6 L916.5,246.6 L917.9,250.3 L920.2,245.4" fill="none" stroke="#22d022" stroke-width="1.9" stroke-linejoin="round" stroke-linecap="round"/><line x1="878.1" y1="258.9" x2="886.3" y2="264.5" stroke="#1ba61b" stroke-width="4.6" stroke-dasharray="2.2 1.4" opacity="0.8"/><path d="M876.1,260.2 L881.7,258.7 L879.4,262.4 L885.0,260.9 L882.7,264.7 L888.3,263.1" fill="none" stroke="#22d022" stroke-width="1.9" stroke-linejoin="round" stroke-linecap="round"/><line x1="875.8" y1="242.9" x2="888.6" y2="250.2" stroke="#199926" stroke-width="4.8" stroke-dasharray="2.2 1.4" opacity="0.8"/><path d="M873.9,244.4 L879.3,242.2 L877.1,246.2 L882.5,244.1 L880.3,248.1 L885.7,245.9 L883.5,249.9 L888.9,247.7 L886.7,251.7" fill="none" stroke="#20c030" stroke-width="1.9" stroke-linejoin="round" stroke-linecap="round"/><line x1="898.0" y1="243.0" x2="926.0" y2="239.0" stroke="#1ba61b" stroke-width="5.9" stroke-dasharray="2.2 1.4" opacity="0.8"/><path d="M897.5,245.9 L900.4,239.8 L901.2,245.4 L904.1,239.3 L905.0,244.8 L907.8,238.8 L908.7,244.3 L911.6,238.2 L912.4,243.8 L915.3,237.7 L916.2,243.2 L919.0,237.2 L919.9,242.7 L922.8,236.6 L923.6,242.2 L926.5,236.1" fill="none" stroke="#22d022" stroke-width="2.3" stroke-linejoin="round" stroke-linecap="round"/><line x1="932.0" y1="238.0" x2="963.0" y2="233.0" stroke="#1ba61b" stroke-width="5.9" stroke-dasharray="2.2 1.4" opacity="0.8"/><path d="M931.6,240.9 L934.3,234.8 L935.2,240.3 L937.9,234.2 L938.9,239.7 L941.6,233.6 L942.5,239.1 L945.2,233.0 L946.1,238.6 L948.9,232.4 L949.8,238.0 L952.5,231.9 L953.4,237.4 L956.1,231.3 L957.1,236.8 L959.8,230.7 L960.7,236.2 L963.4,230.1" fill="none" stroke="#22d022" stroke-width="2.3" stroke-linejoin="round" stroke-linecap="round"/><line x1="905.0" y1="253.0" x2="934.0" y2="249.0" stroke="#1ba61b" stroke-width="5.5" stroke-dasharray="2.2 1.4" opacity="0.8"/><path d="M904.5,255.7 L907.3,250.1 L908.1,255.2 L911.0,249.6 L911.7,254.7 L914.6,249.1 L915.3,254.2 L918.2,248.6 L919.0,253.7 L921.8,248.1 L922.6,253.2 L925.5,247.6 L926.2,252.7 L929.1,247.1 L929.8,252.2 L932.7,246.6 L933.5,251.7" fill="none" stroke="#22d022" stroke-width="2.2" stroke-linejoin="round" stroke-linecap="round"/><line x1="938.0" y1="250.0" x2="960.0" y2="246.0" stroke="#189b21" stroke-width="5.5" stroke-dasharray="2.2 1.4" opacity="0.8"/><path d="M937.6,252.7 L940.3,246.9 L941.2,252.1 L943.9,246.3 L944.9,251.4 L947.6,245.6 L948.6,250.7 L951.3,244.9 L952.2,250.1 L954.9,244.3 L955.9,249.4 L958.6,243.6 L959.6,248.7" fill="none" stroke="#1fc22a" stroke-width="2.2" stroke-linejoin="round" stroke-linecap="round"/><line x1="912.0" y1="261.0" x2="938.0" y2="264.0" stroke="#189b21" stroke-width="5.5" stroke-dasharray="2.2 1.4" opacity="0.8"/><path d="M910.8,263.5 L915.0,258.7 L914.5,263.9 L918.8,259.2 L918.2,264.3 L922.5,259.6 L922.0,264.8 L926.2,260.0 L925.7,265.2 L929.9,260.4 L929.4,265.6 L933.6,260.9 L933.1,266.1 L937.3,261.3 L936.8,266.5" fill="none" stroke="#1fc22a" stroke-width="2.2" stroke-linejoin="round" stroke-linecap="round"/><line x1="942.0" y1="262.0" x2="962.0" y2="266.0" stroke="#1ba61b" stroke-width="5.5" stroke-dasharray="2.2 1.4" opacity="0.8"/><path d="M940.6,264.4 L945.2,260.0 L944.2,265.1 L948.8,260.7 L947.9,265.8 L952.5,261.4 L951.5,266.6 L956.1,262.2 L955.2,267.3 L959.8,262.9 L958.8,268.0 L963.4,263.6" fill="none" stroke="#22d022" stroke-width="2.2" stroke-linejoin="round" stroke-linecap="round"/><line x1="862.0" y1="214.0" x2="905.0" y2="224.0" stroke="#1ba61b" stroke-width="5.2" stroke-dasharray="2.2 1.4" opacity="0.8"/><path d="M860.6,216.2 L865.2,212.2 L864.1,217.1 L868.8,213.0 L867.7,217.9 L872.4,213.9 L871.3,218.7 L876.0,214.7 L874.9,219.6 L879.6,215.5 L878.5,220.4 L883.2,216.4 L882.1,221.2 L886.7,217.2 L885.6,222.1 L890.3,218.0 L889.2,222.9 L893.9,218.9 L892.8,223.7 L897.5,219.7 L896.4,224.6 L901.1,220.5 L900.0,225.4 L904.7,221.4 L903.6,226.2" fill="none" stroke="#22d022" stroke-width="2.0" stroke-linejoin="round" stroke-linecap="round"/><path d="M895.0,218.0 Q902.0,210.0 907.0,212.0 Q912.0,214.0 911.0,219.0 L910.0,224.0" fill="none" stroke="#2a48e0" stroke-width="0.9" stroke-linecap="round" opacity="1"/><path d="M850.0,262.0 Q858.0,258.0 862.0,261.0 Q866.0,264.0 863.0,267.0 L860.0,270.0" fill="none" stroke="#a040c0" stroke-width="0.9" stroke-linecap="round" opacity="1"/><line x1="857.3" y1="248.1" x2="855.4" y2="251.7" stroke="#2139b3" stroke-width="3.1" stroke-dasharray="2.2 1.4" opacity="0.8"/><path d="M856.4,246.6 L857.2,251.4 L854.5,250.2" fill="none" stroke="#2a48e0" stroke-width="1.2" stroke-linejoin="round" stroke-linecap="round"/><path d="M853.4,253.7 Q850.2,255.0 851.4,253.7 Q852.6,252.4 851.2,253.2 Q849.8,254.1 850.3,255.8 L850.8,257.4" fill="none" stroke="#2a48e0" stroke-width="0.9" stroke-linecap="round" opacity="1"/><line x1="841.8" y1="257.8" x2="843.2" y2="262.7" stroke="#6140a6" stroke-width="2.8" stroke-dasharray="2.2 1.4" opacity="0.8"/><path d="M840.3,257.3 L844.1,260.7 L841.7,262.2" fill="none" stroke="#7a50d0" stroke-width="1.2" stroke-linejoin="round" stroke-linecap="round"/><line x1="857.4" y1="253.1" x2="863.6" y2="251.5" stroke="#2139b3" stroke-width="2.2" stroke-dasharray="2.2 1.4" opacity="0.8"/><path d="M856.9,254.4 L860.1,251.3 L860.9,253.3 L864.2,250.2" fill="none" stroke="#2a48e0" stroke-width="1.2" stroke-linejoin="round" stroke-linecap="round"/><path d="M761.7,315.1 Q766.5,314.5 764.2,313.0 Q761.8,311.5 764.6,310.8 Q767.3,310.1 765.1,311.7 L762.8,313.4" fill="none" stroke="#ea1d1d" stroke-width="0.9" stroke-linecap="round" opacity="1"/><line x1="760.3" y1="313.0" x2="768.6" y2="308.8" stroke="#ac1313" stroke-width="4.5" stroke-dasharray="2.2 1.4" opacity="0.8"/><path d="M760.4,315.3 L761.8,309.9 L763.8,313.7 L765.1,308.2 L767.1,312.0 L768.5,306.5" fill="none" stroke="#d81818" stroke-width="1.9" stroke-linejoin="round" stroke-linecap="round"/><line x1="773.0" y1="304.6" x2="789.4" y2="305.1" stroke="#bb1717" stroke-width="3.7" stroke-dasharray="2.2 1.4" opacity="0.8"/><path d="M772.1,306.4 L775.8,302.9 L775.7,306.5 L779.5,303.0 L779.4,306.6 L783.1,303.2 L783.0,306.7 L786.8,303.3 L786.7,306.8 L790.4,303.4" fill="none" stroke="#ea1d1d" stroke-width="1.9" stroke-linejoin="round" stroke-linecap="round"/><line x1="731.6" y1="293.5" x2="744.5" y2="292.8" stroke="#ac1313" stroke-width="4.7" stroke-dasharray="2.2 1.4" opacity="0.8"/><path d="M730.8,295.7 L734.2,291.1 L734.5,295.5 L737.9,290.9 L738.2,295.3 L741.6,290.7 L741.8,295.1 L745.2,290.5" fill="none" stroke="#d81818" stroke-width="1.9" stroke-linejoin="round" stroke-linecap="round"/><line x1="746.4" y1="291.9" x2="757.2" y2="303.6" stroke="#bb1717" stroke-width="4.7" stroke-dasharray="2.2 1.4" opacity="0.8"/><path d="M744.1,292.7 L750.0,292.5 L746.8,295.6 L752.7,295.4 L749.5,298.6 L755.4,298.4 L752.2,301.5 L758.1,301.3 L754.9,304.5" fill="none" stroke="#ea1d1d" stroke-width="1.9" stroke-linejoin="round" stroke-linecap="round"/><line x1="742.5" y1="279.7" x2="756.7" y2="280.7" stroke="#ac1313" stroke-width="4.1" stroke-dasharray="2.2 1.4" opacity="0.8"/><path d="M741.4,281.6 L745.5,278.0 L745.5,281.9 L749.6,278.3 L749.6,282.1 L753.7,278.5 L753.7,282.4 L757.8,278.8" fill="none" stroke="#d81818" stroke-width="1.9" stroke-linejoin="round" stroke-linecap="round"/><line x1="742.1" y1="280.3" x2="751.6" y2="285.7" stroke="#bb1717" stroke-width="4.0" stroke-dasharray="2.2 1.4" opacity="0.8"/><path d="M740.4,281.5 L745.4,280.0 L743.6,283.3 L748.6,281.8 L746.8,285.1 L751.8,283.5 L749.9,286.9" fill="none" stroke="#ea1d1d" stroke-width="1.9" stroke-linejoin="round" stroke-linecap="round"/><line x1="727.3" y1="281.2" x2="738.5" y2="283.6" stroke="#ac1313" stroke-width="4.4" stroke-dasharray="2.2 1.4" opacity="0.8"/><path d="M726.0,283.1 L730.5,279.7 L729.7,283.9 L734.2,280.5 L733.5,284.7 L738.0,281.3 L737.2,285.5" fill="none" stroke="#d81818" stroke-width="1.9" stroke-linejoin="round" stroke-linecap="round"/><line x1="766.1" y1="299.9" x2="776.0" y2="312.0" stroke="#bb1717" stroke-width="4.2" stroke-dasharray="2.2 1.4" opacity="0.8"/><path d="M764.0,300.5 L769.4,300.9 L766.4,303.5 L771.9,303.9 L768.9,306.5 L774.4,306.9 L771.4,309.5 L776.8,309.9 L773.9,312.5" fill="none" stroke="#ea1d1d" stroke-width="1.9" stroke-linejoin="round" stroke-linecap="round"/><line x1="746.3" y1="295.8" x2="756.4" y2="309.7" stroke="#bb1717" stroke-width="3.4" stroke-dasharray="2.2 1.4" opacity="0.8"/><path d="M744.5,296.0 L749.3,297.1 L746.7,299.1 L751.5,300.2 L749.0,302.2 L753.8,303.3 L751.2,305.3 L756.0,306.4 L753.5,308.4 L758.3,309.5" fill="none" stroke="#ea1d1d" stroke-width="1.9" stroke-linejoin="round" stroke-linecap="round"/><line x1="729.8" y1="306.2" x2="745.7" y2="300.9" stroke="#bb1717" stroke-width="3.8" stroke-dasharray="2.2 1.4" opacity="0.8"/><path d="M729.5,308.2 L731.9,303.6 L733.1,307.1 L735.4,302.5 L736.6,305.9 L738.9,301.3 L740.1,304.7 L742.5,300.1 L743.7,303.5 L746.0,298.9" fill="none" stroke="#ea1d1d" stroke-width="1.9" stroke-linejoin="round" stroke-linecap="round"/><line x1="748.4" y1="281.1" x2="753.2" y2="289.9" stroke="#ac1313" stroke-width="4.5" stroke-dasharray="2.2 1.4" opacity="0.8"/><path d="M746.1,281.3 L751.7,282.6 L748.0,284.9 L753.6,286.2 L749.9,288.4 L755.5,289.7" fill="none" stroke="#d81818" stroke-width="1.9" stroke-linejoin="round" stroke-linecap="round"/><line x1="743.9" y1="305.3" x2="755.2" y2="307.3" stroke="#ac1313" stroke-width="3.8" stroke-dasharray="2.2 1.4" opacity="0.8"/><path d="M742.7,306.9 L747.0,304.0 L746.4,307.5 L750.7,304.7 L750.2,308.2 L754.5,305.3 L753.9,308.9" fill="none" stroke="#d81818" stroke-width="1.9" stroke-linejoin="round" stroke-linecap="round"/><line x1="755.2" y1="297.8" x2="765.4" y2="308.0" stroke="#ac1313" stroke-width="3.4" stroke-dasharray="2.2 1.4" opacity="0.8"/><path d="M753.4,298.3 L758.4,298.7 L756.3,301.2 L761.3,301.7 L759.2,304.1 L764.2,304.6 L762.1,307.0 L767.1,307.5" fill="none" stroke="#d81818" stroke-width="1.9" stroke-linejoin="round" stroke-linecap="round"/><line x1="717.8" y1="302.5" x2="734.1" y2="309.6" stroke="#bb1717" stroke-width="4.4" stroke-dasharray="2.2 1.4" opacity="0.8"/><path d="M716.2,304.1 L721.3,301.8 L719.8,305.7 L724.9,303.3 L723.4,307.2 L728.6,304.9 L727.1,308.8 L732.2,306.5 L730.7,310.4 L735.8,308.1" fill="none" stroke="#ea1d1d" stroke-width="1.9" stroke-linejoin="round" stroke-linecap="round"/><line x1="754.1" y1="306.9" x2="762.2" y2="315.2" stroke="#bb1717" stroke-width="3.8" stroke-dasharray="2.2 1.4" opacity="0.8"/><path d="M752.2,307.5 L757.3,307.7 L754.9,310.3 L760.0,310.5 L757.6,313.0 L762.7,313.2 L760.2,315.8" fill="none" stroke="#ea1d1d" stroke-width="1.9" stroke-linejoin="round" stroke-linecap="round"/><path d="M775.9,311.9 Q770.6,311.7 770.3,310.2 Q770.0,308.7 770.3,308.4 Q770.5,308.1 769.6,309.9 L768.6,311.8" fill="none" stroke="#d81818" stroke-width="0.9" stroke-linecap="round" opacity="1"/><line x1="732.0" y1="280.2" x2="747.3" y2="281.4" stroke="#bb1717" stroke-width="3.4" stroke-dasharray="2.2 1.4" opacity="0.8"/><path d="M731.0,281.7 L734.9,278.8 L734.8,282.0 L738.8,279.1 L738.6,282.3 L742.6,279.4 L742.5,282.7 L746.4,279.7 L746.3,283.0" fill="none" stroke="#ea1d1d" stroke-width="1.9" stroke-linejoin="round" stroke-linecap="round"/><line x1="737.9" y1="295.7" x2="749.4" y2="299.6" stroke="#bb1717" stroke-width="4.2" stroke-dasharray="2.2 1.4" opacity="0.8"/><path d="M736.4,297.3 L741.3,294.7 L740.2,298.6 L745.1,296.0 L744.1,299.9 L749.0,297.3 L747.9,301.2" fill="none" stroke="#ea1d1d" stroke-width="1.9" stroke-linejoin="round" stroke-linecap="round"/><path d="M757.6,293.6 Q754.6,294.5 755.9,297.7 Q757.2,300.9 753.8,301.4 Q750.4,301.8 752.0,301.4 L753.6,301.0" fill="none" stroke="#ea1d1d" stroke-width="0.9" stroke-linecap="round" opacity="1"/><line x1="737.6" y1="297.6" x2="748.2" y2="292.3" stroke="#bb1717" stroke-width="4.1" stroke-dasharray="2.2 1.4" opacity="0.8"/><path d="M737.7,299.8 L739.3,294.6 L741.2,298.0 L742.8,292.8 L744.7,296.2 L746.3,291.0 L748.3,294.4" fill="none" stroke="#ea1d1d" stroke-width="1.9" stroke-linejoin="round" stroke-linecap="round"/><path d="M749.8,301.0 Q752.9,292.1 755.2,294.1 Q757.4,296.1 758.9,296.5 Q760.3,296.8 751.0,293.6 L741.7,290.3" fill="none" stroke="#ea1d1d" stroke-width="0.9" stroke-linecap="round" opacity="1"/><line x1="734.0" y1="301.2" x2="750.1" y2="305.1" stroke="#bb1717" stroke-width="4.3" stroke-dasharray="2.2 1.4" opacity="0.8"/><path d="M732.6,303.0 L737.1,299.8 L736.2,303.8 L740.7,300.7 L739.8,304.7 L744.3,301.6 L743.4,305.6 L747.9,302.5 L747.0,306.4 L751.5,303.3" fill="none" stroke="#ea1d1d" stroke-width="1.9" stroke-linejoin="round" stroke-linecap="round"/><line x1="776.3" y1="309.2" x2="787.0" y2="304.0" stroke="#bb1717" stroke-width="4.8" stroke-dasharray="2.2 1.4" opacity="0.8"/><path d="M776.5,311.7 L777.9,305.9 L780.1,309.9 L781.5,304.2 L783.6,308.2 L785.0,302.5 L787.2,306.5" fill="none" stroke="#ea1d1d" stroke-width="1.9" stroke-linejoin="round" stroke-linecap="round"/><line x1="759.3" y1="293.6" x2="769.6" y2="295.3" stroke="#bb1717" stroke-width="3.7" stroke-dasharray="2.2 1.4" opacity="0.8"/><path d="M758.2,295.1 L762.6,292.3 L762.3,295.8 L766.7,293.0 L766.4,296.6 L770.8,293.8" fill="none" stroke="#ea1d1d" stroke-width="1.9" stroke-linejoin="round" stroke-linecap="round"/><line x1="735.5" y1="302.9" x2="744.9" y2="316.5" stroke="#bb1717" stroke-width="4.1" stroke-dasharray="2.2 1.4" opacity="0.8"/><path d="M733.4,303.3 L738.7,304.0 L735.5,306.3 L740.8,307.1 L737.5,309.3 L742.8,310.1 L739.6,312.4 L744.9,313.1 L741.7,315.4 L747.0,316.2" fill="none" stroke="#ea1d1d" stroke-width="1.9" stroke-linejoin="round" stroke-linecap="round"/><line x1="763.6" y1="306.2" x2="773.2" y2="308.5" stroke="#bb1717" stroke-width="4.7" stroke-dasharray="2.2 1.4" opacity="0.8"/><path d="M762.2,308.2 L766.9,304.7 L766.0,309.1 L770.8,305.6 L769.9,310.0 L774.6,306.5" fill="none" stroke="#ea1d1d" stroke-width="1.9" stroke-linejoin="round" stroke-linecap="round"/><line x1="758.1" y1="288.1" x2="772.5" y2="294.5" stroke="#bb1717" stroke-width="3.9" stroke-dasharray="2.2 1.4" opacity="0.8"/><path d="M756.5,289.4 L761.5,287.5 L760.1,291.0 L765.1,289.2 L763.7,292.6 L768.7,290.8 L767.3,294.2 L772.3,292.4 L770.9,295.9" fill="none" stroke="#ea1d1d" stroke-width="1.9" stroke-linejoin="round" stroke-linecap="round"/><line x1="738.0" y1="291.7" x2="751.0" y2="292.4" stroke="#bb1717" stroke-width="4.7" stroke-dasharray="2.2 1.4" opacity="0.8"/><path d="M737.0,293.9 L740.9,289.7 L740.7,294.1 L744.6,289.9 L744.4,294.3 L748.3,290.0 L748.1,294.5 L752.0,290.2" fill="none" stroke="#ea1d1d" stroke-width="1.9" stroke-linejoin="round" stroke-linecap="round"/><path d="M750.0,309.2 Q751.6,314.3 752.9,315.2 Q754.2,316.1 750.6,310.4 Q747.0,304.8 745.1,310.7 L743.2,316.7" fill="none" stroke="#ea1d1d" stroke-width="0.9" stroke-linecap="round" opacity="1"/><line x1="716.0" y1="284.0" x2="768.0" y2="276.0" stroke="#bb1717" stroke-width="5.5" stroke-dasharray="2.2 1.4" opacity="0.8"/><path d="M715.5,286.7 L718.3,281.0 L719.1,286.2 L721.9,280.5 L722.7,285.6 L725.5,279.9 L726.3,285.1 L729.0,279.4 L729.9,284.5 L732.6,278.8 L733.4,283.9 L736.2,278.3 L737.0,283.4 L739.8,277.7 L740.6,282.8 L743.4,277.2 L744.2,282.3 L747.0,276.6 L747.8,281.7 L750.6,276.1 L751.4,281.2 L754.1,275.5 L755.0,280.6 L757.7,274.9 L758.5,280.1 L761.3,274.4 L762.1,279.5 L764.9,273.8 L765.7,279.0 L768.5,273.3" fill="none" stroke="#ea1d1d" stroke-width="2.2" stroke-linejoin="round" stroke-linecap="round"/><line x1="718.0" y1="300.0" x2="775.0" y2="292.0" stroke="#bb1717" stroke-width="5.5" stroke-dasharray="2.2 1.4" opacity="0.8"/><path d="M717.5,302.7 L720.4,297.0 L721.1,302.2 L724.0,296.5 L724.8,301.7 L727.7,296.0 L728.5,301.2 L731.4,295.5 L732.2,300.6 L735.1,295.0 L735.9,300.1 L738.8,294.5 L739.5,299.6 L742.4,293.9 L743.2,299.1 L746.1,293.4 L746.9,298.6 L749.8,292.9 L750.6,298.1 L753.5,292.4 L754.2,297.5 L757.1,291.9 L757.9,297.0 L760.8,291.4 L761.6,296.5 L764.5,290.8 L765.3,296.0 L768.2,290.3 L769.0,295.5 L771.9,289.8 L772.6,295.0 L775.5,289.3" fill="none" stroke="#ea1d1d" stroke-width="2.2" stroke-linejoin="round" stroke-linecap="round"/><line x1="728.0" y1="312.0" x2="770.0" y2="304.0" stroke="#bb1717" stroke-width="5.2" stroke-dasharray="2.2 1.4" opacity="0.8"/><path d="M727.6,314.6 L730.2,309.0 L731.2,313.9 L733.9,308.3 L734.9,313.2 L737.5,307.6 L738.5,312.5 L741.2,306.9 L742.2,311.8 L744.9,306.2 L745.8,311.1 L748.5,305.5 L749.5,310.5 L752.2,304.9 L753.1,309.8 L755.8,304.2 L756.8,309.1 L759.5,303.5 L760.5,308.4 L763.1,302.8 L764.1,307.7 L766.8,302.1 L767.8,307.0 L770.4,301.4" fill="none" stroke="#ea1d1d" stroke-width="2.1" stroke-linejoin="round" stroke-linecap="round"/><path d="M714.0,302.0 Q712.0,310.0 716.0,313.0 Q720.0,316.0 725.0,314.0 L730.0,312.0" fill="none" stroke="#f04040" stroke-width="1.0" stroke-linecap="round" opacity="1"/><line x1="808.6" y1="287.8" x2="817.9" y2="282.1" stroke="#b3260c" stroke-width="3.4" stroke-dasharray="2.2 1.4" opacity="0.8"/><path d="M808.7,289.7 L810.0,285.0 L811.8,287.8 L813.1,283.1 L814.9,285.9 L816.3,281.2 L818.0,284.0" fill="none" stroke="#e03010" stroke-width="1.9" stroke-linejoin="round" stroke-linecap="round"/><line x1="834.7" y1="308.9" x2="848.1" y2="302.1" stroke="#b3260c" stroke-width="3.7" stroke-dasharray="2.2 1.4" opacity="0.8"/><path d="M834.7,310.9 L836.4,306.0 L838.1,309.2 L839.7,304.3 L841.4,307.5 L843.1,302.7 L844.7,305.8 L846.4,301.0 L848.1,304.1" fill="none" stroke="#e03010" stroke-width="1.9" stroke-linejoin="round" stroke-linecap="round"/><line x1="779.8" y1="297.1" x2="794.2" y2="296.4" stroke="#b3260c" stroke-width="3.8" stroke-dasharray="2.2 1.4" opacity="0.8"/><path d="M779.0,298.9 L782.4,295.1 L782.6,298.8 L786.0,295.0 L786.2,298.6 L789.6,294.8 L789.8,298.5 L793.2,294.7 L793.4,298.3" fill="none" stroke="#e03010" stroke-width="1.9" stroke-linejoin="round" stroke-linecap="round"/><path d="M858.3,320.1 Q853.8,310.1 852.4,309.9 Q851.0,309.7 852.1,311.0 Q853.2,312.2 851.5,315.2 L849.9,318.2" fill="none" stroke="#e03010" stroke-width="0.9" stroke-linecap="round" opacity="1"/><path d="M841.3,299.6 Q831.9,298.3 837.2,296.7 Q842.5,295.1 840.0,294.5 Q837.5,294.0 834.7,298.5 L831.9,303.1" fill="none" stroke="#f04818" stroke-width="0.9" stroke-linecap="round" opacity="1"/><line x1="840.7" y1="291.2" x2="847.7" y2="286.0" stroke="#c03913" stroke-width="3.6" stroke-dasharray="2.2 1.4" opacity="0.8"/><path d="M841.1,293.2 L842.1,288.0 L844.5,290.5 L845.6,285.4 L848.0,287.9" fill="none" stroke="#f04818" stroke-width="1.9" stroke-linejoin="round" stroke-linecap="round"/><line x1="792.0" y1="299.3" x2="798.0" y2="306.7" stroke="#b3260c" stroke-width="3.5" stroke-dasharray="2.2 1.4" opacity="0.8"/><path d="M790.1,299.7 L795.0,300.4 L792.5,302.6 L797.4,303.4 L795.0,305.5 L799.9,306.3" fill="none" stroke="#e03010" stroke-width="1.9" stroke-linejoin="round" stroke-linecap="round"/><line x1="842.3" y1="295.0" x2="845.9" y2="302.7" stroke="#b3260c" stroke-width="4.6" stroke-dasharray="2.2 1.4" opacity="0.8"/><path d="M840.0,295.1 L845.6,296.9 L841.7,299.0 L847.3,300.7 L843.5,302.8" fill="none" stroke="#e03010" stroke-width="1.9" stroke-linejoin="round" stroke-linecap="round"/><path d="M856.8,300.1 Q854.9,313.6 850.1,311.0 Q845.3,308.4 850.2,309.9 Q855.1,311.3 853.1,312.0 L851.1,312.7" fill="none" stroke="#f04818" stroke-width="0.9" stroke-linecap="round" opacity="1"/><line x1="814.9" y1="278.4" x2="816.8" y2="293.5" stroke="#c03913" stroke-width="4.7" stroke-dasharray="2.2 1.4" opacity="0.8"/><path d="M812.6,277.7 L817.4,280.9 L813.0,281.5 L817.9,284.7 L813.5,285.3 L818.4,288.5 L814.0,289.1 L818.9,292.2 L814.5,292.9" fill="none" stroke="#f04818" stroke-width="1.9" stroke-linejoin="round" stroke-linecap="round"/><line x1="809.6" y1="273.2" x2="814.1" y2="283.9" stroke="#bb1717" stroke-width="4.1" stroke-dasharray="2.2 1.4" opacity="0.8"/><path d="M807.4,273.2 L812.5,275.1 L808.9,276.7 L814.0,278.6 L810.4,280.3 L815.5,282.2 L811.9,283.8" fill="none" stroke="#ea1d1d" stroke-width="1.9" stroke-linejoin="round" stroke-linecap="round"/><path d="M811.0,284.0 Q803.0,285.2 805.3,283.0 Q807.5,280.7 805.1,280.6 Q802.7,280.5 803.4,278.4 L804.1,276.3" fill="none" stroke="#ea1d1d" stroke-width="0.9" stroke-linecap="round" opacity="1"/><path d="M795.8,290.7 Q802.2,280.7 799.8,284.0 Q797.4,287.4 799.2,285.3 Q801.0,283.2 804.7,280.4 L808.4,277.5" fill="none" stroke="#e03010" stroke-width="0.9" stroke-linecap="round" opacity="1"/><line x1="829.5" y1="306.5" x2="838.5" y2="315.6" stroke="#bb1717" stroke-width="4.7" stroke-dasharray="2.2 1.4" opacity="0.8"/><path d="M827.3,307.4 L833.1,306.8 L829.9,310.0 L835.6,309.4 L832.4,312.6 L838.2,312.1 L835.0,315.2 L840.8,314.7" fill="none" stroke="#ea1d1d" stroke-width="1.9" stroke-linejoin="round" stroke-linecap="round"/><line x1="842.9" y1="297.3" x2="853.4" y2="295.1" stroke="#c03913" stroke-width="4.2" stroke-dasharray="2.2 1.4" opacity="0.8"/><path d="M842.4,299.4 L845.5,294.7 L846.6,298.6 L849.7,293.9 L850.8,297.7 L853.9,293.0" fill="none" stroke="#f04818" stroke-width="1.9" stroke-linejoin="round" stroke-linecap="round"/><line x1="812.1" y1="301.3" x2="821.2" y2="301.7" stroke="#b3260c" stroke-width="4.0" stroke-dasharray="2.2 1.4" opacity="0.8"/><path d="M811.1,303.2 L814.9,299.5 L814.8,303.3 L818.5,299.7 L818.4,303.5 L822.2,299.8" fill="none" stroke="#e03010" stroke-width="1.9" stroke-linejoin="round" stroke-linecap="round"/><line x1="833.1" y1="293.0" x2="840.1" y2="297.9" stroke="#c03913" stroke-width="4.3" stroke-dasharray="2.2 1.4" opacity="0.8"/><path d="M831.2,294.2 L836.8,293.0 L834.7,296.6 L840.3,295.5 L838.2,299.1" fill="none" stroke="#f04818" stroke-width="1.9" stroke-linejoin="round" stroke-linecap="round"/><line x1="796.3" y1="290.6" x2="811.8" y2="294.3" stroke="#c03913" stroke-width="4.5" stroke-dasharray="2.2 1.4" opacity="0.8"/><path d="M794.9,292.5 L799.6,289.1 L798.8,293.4 L803.5,290.1 L802.7,294.3 L807.4,291.0 L806.5,295.3 L811.2,291.9 L810.4,296.2" fill="none" stroke="#f04818" stroke-width="1.9" stroke-linejoin="round" stroke-linecap="round"/><line x1="780.5" y1="301.1" x2="793.8" y2="299.4" stroke="#b3260c" stroke-width="4.5" stroke-dasharray="2.2 1.4" opacity="0.8"/><path d="M779.9,303.4 L783.0,298.6 L783.7,302.9 L786.8,298.1 L787.5,302.4 L790.6,297.6 L791.3,301.9 L794.4,297.1" fill="none" stroke="#e03010" stroke-width="1.9" stroke-linejoin="round" stroke-linecap="round"/><path d="M796.7,291.8 Q795.2,287.5 797.4,289.6 Q799.7,291.6 798.1,288.4 Q796.6,285.1 797.4,287.5 L798.2,289.9" fill="none" stroke="#e03010" stroke-width="0.9" stroke-linecap="round" opacity="1"/><line x1="806.3" y1="290.6" x2="811.0" y2="299.2" stroke="#c03913" stroke-width="4.4" stroke-dasharray="2.2 1.4" opacity="0.8"/><path d="M804.0,290.8 L809.5,292.1 L805.9,294.2 L811.4,295.5 L807.8,297.7 L813.2,298.9" fill="none" stroke="#f04818" stroke-width="1.9" stroke-linejoin="round" stroke-linecap="round"/><path d="M819.2,297.3 Q822.2,308.3 821.1,308.0 Q820.1,307.7 818.4,307.9 Q816.8,308.1 817.9,303.7 L819.0,299.3" fill="none" stroke="#e03010" stroke-width="0.9" stroke-linecap="round" opacity="1"/><line x1="799.6" y1="315.8" x2="807.8" y2="313.6" stroke="#bb1717" stroke-width="3.5" stroke-dasharray="2.2 1.4" opacity="0.8"/><path d="M799.2,317.6 L802.1,313.4 L803.3,316.5 L806.2,312.3 L807.4,315.4" fill="none" stroke="#ea1d1d" stroke-width="1.9" stroke-linejoin="round" stroke-linecap="round"/><line x1="850.5" y1="305.9" x2="859.0" y2="298.7" stroke="#c03913" stroke-width="4.5" stroke-dasharray="2.2 1.4" opacity="0.8"/><path d="M851.2,308.1 L851.2,302.5 L854.0,305.7 L854.1,300.1 L856.9,303.3 L856.9,297.7 L859.7,301.0" fill="none" stroke="#f04818" stroke-width="1.9" stroke-linejoin="round" stroke-linecap="round"/><line x1="818.5" y1="316.8" x2="826.6" y2="330.0" stroke="#c03913" stroke-width="3.9" stroke-dasharray="2.2 1.4" opacity="0.8"/><path d="M816.5,317.0 L821.6,318.3 L818.5,320.3 L823.6,321.6 L820.5,323.6 L825.6,324.9 L822.6,326.9 L827.7,328.2 L824.6,330.2" fill="none" stroke="#f04818" stroke-width="1.9" stroke-linejoin="round" stroke-linecap="round"/><line x1="837.3" y1="300.7" x2="838.4" y2="315.2" stroke="#bb1717" stroke-width="4.5" stroke-dasharray="2.2 1.4" opacity="0.8"/><path d="M835.2,299.9 L839.6,303.2 L835.4,303.5 L839.9,306.9 L835.7,307.2 L840.2,310.5 L835.9,310.8 L840.4,314.1 L836.2,314.5" fill="none" stroke="#ea1d1d" stroke-width="1.9" stroke-linejoin="round" stroke-linecap="round"/><line x1="844.0" y1="295.8" x2="847.4" y2="309.1" stroke="#bb1717" stroke-width="3.5" stroke-dasharray="2.2 1.4" opacity="0.8"/><path d="M842.1,295.4 L846.3,298.2 L843.1,299.1 L847.3,301.9 L844.1,302.9 L848.2,305.7 L845.0,306.7 L849.2,309.5" fill="none" stroke="#ea1d1d" stroke-width="1.9" stroke-linejoin="round" stroke-linecap="round"/><line x1="812.7" y1="304.0" x2="822.3" y2="298.2" stroke="#bb1717" stroke-width="4.5" stroke-dasharray="2.2 1.4" opacity="0.8"/><path d="M813.1,306.3 L814.0,300.7 L816.3,304.4 L817.2,298.8 L819.5,302.5 L820.4,296.9 L822.7,300.5" fill="none" stroke="#ea1d1d" stroke-width="1.9" stroke-linejoin="round" stroke-linecap="round"/><line x1="847.8" y1="309.2" x2="859.2" y2="311.3" stroke="#c03913" stroke-width="3.9" stroke-dasharray="2.2 1.4" opacity="0.8"/><path d="M846.5,310.8 L850.9,307.9 L850.3,311.5 L854.7,308.6 L854.1,312.3 L858.5,309.3 L858.0,313.0" fill="none" stroke="#f04818" stroke-width="1.9" stroke-linejoin="round" stroke-linecap="round"/><line x1="808.6" y1="294.5" x2="817.8" y2="303.9" stroke="#bb1717" stroke-width="4.6" stroke-dasharray="2.2 1.4" opacity="0.8"/><path d="M806.4,295.4 L812.1,294.9 L809.0,298.1 L814.7,297.6 L811.7,300.8 L817.4,300.3 L814.3,303.4 L820.0,303.0" fill="none" stroke="#ea1d1d" stroke-width="1.9" stroke-linejoin="round" stroke-linecap="round"/><line x1="820.5" y1="299.2" x2="830.3" y2="295.5" stroke="#bb1717" stroke-width="3.9" stroke-dasharray="2.2 1.4" opacity="0.8"/><path d="M820.4,301.2 L822.7,296.4 L824.3,299.8 L826.6,294.9 L828.2,298.3 L830.5,293.5" fill="none" stroke="#ea1d1d" stroke-width="1.9" stroke-linejoin="round" stroke-linecap="round"/><line x1="793.3" y1="311.1" x2="809.1" y2="311.9" stroke="#bb1717" stroke-width="3.7" stroke-dasharray="2.2 1.4" opacity="0.8"/><path d="M792.3,312.8 L796.3,309.5 L796.3,313.0 L800.2,309.7 L800.2,313.2 L804.2,309.9 L804.1,313.4 L808.1,310.1 L808.1,313.6" fill="none" stroke="#ea1d1d" stroke-width="1.9" stroke-linejoin="round" stroke-linecap="round"/><line x1="813.0" y1="321.5" x2="818.6" y2="315.3" stroke="#c03913" stroke-width="4.1" stroke-dasharray="2.2 1.4" opacity="0.8"/><path d="M813.9,323.5 L813.5,318.0 L816.7,320.4 L816.3,314.8 L819.4,317.2" fill="none" stroke="#f04818" stroke-width="1.9" stroke-linejoin="round" stroke-linecap="round"/><line x1="802.4" y1="300.6" x2="816.1" y2="305.6" stroke="#c03913" stroke-width="3.9" stroke-dasharray="2.2 1.4" opacity="0.8"/><path d="M800.9,302.0 L805.6,299.8 L804.3,303.3 L809.0,301.0 L807.7,304.5 L812.4,302.3 L811.2,305.7 L815.8,303.5 L814.6,307.0" fill="none" stroke="#f04818" stroke-width="1.9" stroke-linejoin="round" stroke-linecap="round"/><path d="M831.7,292.7 Q834.7,295.5 837.3,298.6 Q839.8,301.8 836.7,297.5 Q833.5,293.3 834.6,297.8 L835.7,302.3" fill="none" stroke="#ea1d1d" stroke-width="0.9" stroke-linecap="round" opacity="1"/><line x1="811.6" y1="294.6" x2="813.2" y2="303.9" stroke="#b3260c" stroke-width="3.5" stroke-dasharray="2.2 1.4" opacity="0.8"/><path d="M809.9,294.0 L813.7,297.1 L810.5,297.7 L814.3,300.8 L811.1,301.4 L814.9,304.5" fill="none" stroke="#e03010" stroke-width="1.9" stroke-linejoin="round" stroke-linecap="round"/><line x1="809.8" y1="277.8" x2="815.8" y2="286.3" stroke="#b3260c" stroke-width="4.8" stroke-dasharray="2.2 1.4" opacity="0.8"/><path d="M807.4,278.4 L813.4,278.9 L809.8,281.8 L815.8,282.3 L812.2,285.2 L818.2,285.7" fill="none" stroke="#e03010" stroke-width="1.9" stroke-linejoin="round" stroke-linecap="round"/><line x1="851.6" y1="303.8" x2="860.9" y2="299.5" stroke="#bb1717" stroke-width="3.6" stroke-dasharray="2.2 1.4" opacity="0.8"/><path d="M851.5,305.8 L853.5,301.0 L855.2,304.0 L857.3,299.3 L859.0,302.3 L861.0,297.5" fill="none" stroke="#ea1d1d" stroke-width="1.9" stroke-linejoin="round" stroke-linecap="round"/><line x1="795.2" y1="297.8" x2="802.6" y2="305.7" stroke="#bb1717" stroke-width="3.4" stroke-dasharray="2.2 1.4" opacity="0.8"/><path d="M793.4,298.3 L798.2,298.7 L795.9,300.9 L800.7,301.3 L798.4,303.5 L803.2,303.9 L800.8,306.1" fill="none" stroke="#ea1d1d" stroke-width="1.9" stroke-linejoin="round" stroke-linecap="round"/><line x1="821.4" y1="319.4" x2="830.0" y2="321.5" stroke="#bb1717" stroke-width="3.6" stroke-dasharray="2.2 1.4" opacity="0.8"/><path d="M820.1,320.9 L824.8,318.5 L824.4,321.9 L829.1,319.5 L828.7,323.0" fill="none" stroke="#ea1d1d" stroke-width="1.9" stroke-linejoin="round" stroke-linecap="round"/><line x1="817.9" y1="303.3" x2="830.9" y2="301.6" stroke="#bb1717" stroke-width="4.0" stroke-dasharray="2.2 1.4" opacity="0.8"/><path d="M817.2,305.3 L820.4,301.1 L820.9,304.8 L824.1,300.6 L824.7,304.4 L827.8,300.1 L828.4,303.9 L831.6,299.6" fill="none" stroke="#ea1d1d" stroke-width="1.9" stroke-linejoin="round" stroke-linecap="round"/><line x1="844.8" y1="287.6" x2="852.6" y2="282.4" stroke="#c03913" stroke-width="4.3" stroke-dasharray="2.2 1.4" opacity="0.8"/><path d="M845.2,289.8 L846.0,284.4 L848.3,287.7 L849.1,282.3 L851.4,285.6 L852.2,280.2" fill="none" stroke="#f04818" stroke-width="1.9" stroke-linejoin="round" stroke-linecap="round"/><line x1="804.6" y1="307.2" x2="813.9" y2="308.3" stroke="#b3260c" stroke-width="4.6" stroke-dasharray="2.2 1.4" opacity="0.8"/><path d="M803.5,309.3 L807.6,305.3 L807.2,309.7 L811.3,305.7 L810.9,310.1 L815.0,306.2" fill="none" stroke="#e03010" stroke-width="1.9" stroke-linejoin="round" stroke-linecap="round"/><line x1="796.3" y1="305.1" x2="803.0" y2="298.0" stroke="#c03913" stroke-width="4.8" stroke-dasharray="2.2 1.4" opacity="0.8"/><path d="M797.4,307.3 L796.6,301.5 L800.0,304.5 L799.3,298.7 L802.7,301.7 L802.0,295.8" fill="none" stroke="#f04818" stroke-width="1.9" stroke-linejoin="round" stroke-linecap="round"/><line x1="815.1" y1="305.6" x2="823.4" y2="304.1" stroke="#bb1717" stroke-width="4.7" stroke-dasharray="2.2 1.4" opacity="0.8"/><path d="M814.6,307.9 L817.7,302.9 L818.7,307.2 L821.8,302.1 L822.9,306.5" fill="none" stroke="#ea1d1d" stroke-width="1.9" stroke-linejoin="round" stroke-linecap="round"/><line x1="846.1" y1="289.4" x2="856.9" y2="300.8" stroke="#c03913" stroke-width="3.5" stroke-dasharray="2.2 1.4" opacity="0.8"/><path d="M844.3,289.9 L849.3,290.4 L847.0,292.8 L852.0,293.2 L849.7,295.6 L854.7,296.0 L852.4,298.4 L857.4,298.9 L855.1,301.3" fill="none" stroke="#f04818" stroke-width="1.9" stroke-linejoin="round" stroke-linecap="round"/><line x1="833.4" y1="306.8" x2="841.6" y2="314.6" stroke="#c03913" stroke-width="4.1" stroke-dasharray="2.2 1.4" opacity="0.8"/><path d="M831.4,307.6 L836.8,307.3 L834.2,310.2 L839.5,309.9 L836.9,312.8 L842.2,312.5 L839.6,315.4" fill="none" stroke="#f04818" stroke-width="1.9" stroke-linejoin="round" stroke-linecap="round"/><path d="M855.2,290.6 Q848.4,289.8 851.7,289.8 Q855.0,289.8 853.6,293.9 Q852.2,298.0 850.7,297.6 L849.2,297.3" fill="none" stroke="#ea1d1d" stroke-width="0.9" stroke-linecap="round" opacity="1"/><path d="M832.3,293.4 Q825.7,298.1 825.3,295.3 Q824.9,292.5 829.7,291.5 Q834.5,290.6 832.0,295.2 L829.4,299.8" fill="none" stroke="#f04818" stroke-width="0.9" stroke-linecap="round" opacity="1"/><line x1="845.0" y1="287.4" x2="858.7" y2="288.9" stroke="#c03913" stroke-width="4.2" stroke-dasharray="2.2 1.4" opacity="0.8"/><path d="M843.9,289.2 L848.1,285.7 L847.8,289.7 L852.0,286.1 L851.7,290.1 L855.9,286.6 L855.6,290.6 L859.8,287.0" fill="none" stroke="#f04818" stroke-width="1.9" stroke-linejoin="round" stroke-linecap="round"/><line x1="802.1" y1="298.3" x2="816.3" y2="293.8" stroke="#bb1717" stroke-width="4.8" stroke-dasharray="2.2 1.4" opacity="0.8"/><path d="M802.0,300.7 L804.1,295.2 L805.5,299.6 L807.6,294.1 L809.1,298.5 L811.2,293.0 L812.6,297.4 L814.7,291.9 L816.1,296.3" fill="none" stroke="#ea1d1d" stroke-width="1.9" stroke-linejoin="round" stroke-linecap="round"/><line x1="835.0" y1="292.7" x2="831.1" y2="304.3" stroke="#c03913" stroke-width="3.7" stroke-dasharray="2.2 1.4" opacity="0.8"/><path d="M833.6,291.3 L835.7,296.0 L832.3,295.2 L834.4,299.9 L831.0,299.0 L833.1,303.8 L829.7,302.9" fill="none" stroke="#f04818" stroke-width="1.9" stroke-linejoin="round" stroke-linecap="round"/><path d="M790.0,270.0 Q826.1,277.5 860.0,292.0" fill="none" stroke="#ea1d1d" stroke-width="2.6" stroke-linecap="butt"/><path d="M894.6,298.1 Q882.6,307.7 888.4,308.3 Q894.2,308.8 890.2,303.8 Q886.3,298.8 891.9,297.8 L897.5,296.8" fill="none" stroke="#e85010" stroke-width="0.9" stroke-linecap="round" opacity="1"/><path d="M914.1,286.8 Q910.9,293.4 912.8,293.2 Q914.8,293.1 915.2,289.2 Q915.7,285.3 912.6,284.7 L909.5,284.2" fill="none" stroke="#f08018" stroke-width="0.9" stroke-linecap="round" opacity="1"/><line x1="898.2" y1="309.5" x2="909.1" y2="312.7" stroke="#b9400c" stroke-width="4.6" stroke-dasharray="2.2 1.4" opacity="0.8"/><path d="M896.7,311.4 L901.5,308.2 L900.3,312.4 L905.1,309.2 L904.0,313.5 L908.7,310.3 L907.6,314.5" fill="none" stroke="#e85010" stroke-width="1.9" stroke-linejoin="round" stroke-linecap="round"/><line x1="873.3" y1="308.0" x2="882.1" y2="306.3" stroke="#c15610" stroke-width="3.4" stroke-dasharray="2.2 1.4" opacity="0.8"/><path d="M872.7,309.7 L876.1,305.8 L877.1,308.9 L880.4,304.9 L881.5,308.1" fill="none" stroke="#f26c14" stroke-width="1.9" stroke-linejoin="round" stroke-linecap="round"/><line x1="862.9" y1="289.0" x2="870.6" y2="292.0" stroke="#c06613" stroke-width="4.7" stroke-dasharray="2.2 1.4" opacity="0.8"/><path d="M861.2,290.8 L866.5,287.9 L865.1,292.3 L870.4,289.4 L869.0,293.8" fill="none" stroke="#f08018" stroke-width="1.9" stroke-linejoin="round" stroke-linecap="round"/><line x1="891.6" y1="285.5" x2="901.0" y2="293.3" stroke="#b9400c" stroke-width="4.2" stroke-dasharray="2.2 1.4" opacity="0.8"/><path d="M889.6,286.5 L895.1,285.9 L892.8,289.1 L898.3,288.5 L895.9,291.7 L901.4,291.0 L899.0,294.3" fill="none" stroke="#e85010" stroke-width="1.9" stroke-linejoin="round" stroke-linecap="round"/><line x1="912.2" y1="304.0" x2="908.5" y2="318.5" stroke="#c15610" stroke-width="4.4" stroke-dasharray="2.2 1.4" opacity="0.8"/><path d="M910.4,302.6 L913.5,307.2 L909.5,306.3 L912.6,310.8 L908.6,309.9 L911.7,314.5 L907.7,313.5 L910.8,318.1 L906.7,317.2" fill="none" stroke="#f26c14" stroke-width="1.9" stroke-linejoin="round" stroke-linecap="round"/><line x1="853.3" y1="284.7" x2="854.4" y2="295.5" stroke="#c15610" stroke-width="4.5" stroke-dasharray="2.2 1.4" opacity="0.8"/><path d="M851.1,284.1 L855.8,287.6 L851.6,288.3 L856.2,291.9 L852.0,292.6 L856.6,296.1" fill="none" stroke="#f26c14" stroke-width="1.9" stroke-linejoin="round" stroke-linecap="round"/><line x1="860.1" y1="299.2" x2="875.1" y2="303.5" stroke="#b9400c" stroke-width="4.4" stroke-dasharray="2.2 1.4" opacity="0.8"/><path d="M858.7,301.0 L863.4,298.0 L862.4,302.1 L867.2,299.1 L866.2,303.1 L870.9,300.1 L870.0,304.2 L874.7,301.2 L873.7,305.2" fill="none" stroke="#e85010" stroke-width="1.9" stroke-linejoin="round" stroke-linecap="round"/><line x1="904.8" y1="314.4" x2="910.5" y2="324.5" stroke="#c15610" stroke-width="3.7" stroke-dasharray="2.2 1.4" opacity="0.8"/><path d="M902.8,314.5 L907.7,316.0 L904.7,317.8 L909.6,319.4 L906.6,321.2 L911.5,322.7 L908.5,324.6" fill="none" stroke="#f26c14" stroke-width="1.9" stroke-linejoin="round" stroke-linecap="round"/><path d="M905.2,324.2 Q898.9,320.4 904.0,321.1 Q909.1,321.7 906.0,319.0 Q903.0,316.2 899.5,317.0 L896.0,317.7" fill="none" stroke="#f26c14" stroke-width="0.9" stroke-linecap="round" opacity="1"/><line x1="879.7" y1="286.3" x2="888.7" y2="287.9" stroke="#b9400c" stroke-width="3.7" stroke-dasharray="2.2 1.4" opacity="0.8"/><path d="M878.5,287.9 L882.7,285.1 L882.1,288.5 L886.3,285.7 L885.7,289.2 L889.9,286.3" fill="none" stroke="#e85010" stroke-width="1.9" stroke-linejoin="round" stroke-linecap="round"/><line x1="862.7" y1="296.9" x2="876.0" y2="304.9" stroke="#c06613" stroke-width="3.6" stroke-dasharray="2.2 1.4" opacity="0.8"/><path d="M861.1,297.9 L866.0,296.9 L864.4,299.9 L869.3,298.9 L867.7,301.9 L872.7,301.0 L871.0,303.9 L876.0,303.0 L874.3,305.9" fill="none" stroke="#f08018" stroke-width="1.9" stroke-linejoin="round" stroke-linecap="round"/><line x1="899.7" y1="307.8" x2="912.7" y2="307.5" stroke="#c15610" stroke-width="4.5" stroke-dasharray="2.2 1.4" opacity="0.8"/><path d="M898.8,310.0 L902.4,305.6 L902.6,309.9 L906.1,305.5 L906.3,309.8 L909.8,305.4 L910.0,309.7 L913.5,305.3" fill="none" stroke="#f26c14" stroke-width="1.9" stroke-linejoin="round" stroke-linecap="round"/><line x1="859.7" y1="302.8" x2="866.2" y2="312.5" stroke="#b9400c" stroke-width="3.5" stroke-dasharray="2.2 1.4" opacity="0.8"/><path d="M857.8,303.0 L862.6,304.2 L860.0,306.2 L864.8,307.5 L862.1,309.5 L867.0,310.7 L864.3,312.7" fill="none" stroke="#e85010" stroke-width="1.9" stroke-linejoin="round" stroke-linecap="round"/><line x1="869.6" y1="294.4" x2="878.0" y2="293.3" stroke="#c06613" stroke-width="3.5" stroke-dasharray="2.2 1.4" opacity="0.8"/><path d="M868.9,296.1 L872.4,292.3 L873.1,295.6 L876.6,291.8 L877.3,295.1" fill="none" stroke="#f08018" stroke-width="1.9" stroke-linejoin="round" stroke-linecap="round"/><path d="M862.8,303.0 Q863.1,300.1 862.1,300.0 Q861.2,300.0 860.7,299.4 Q860.3,298.8 864.6,297.8 L868.9,296.9" fill="none" stroke="#f26c14" stroke-width="0.9" stroke-linecap="round" opacity="1"/><line x1="909.2" y1="294.1" x2="917.5" y2="296.8" stroke="#c06613" stroke-width="4.7" stroke-dasharray="2.2 1.4" opacity="0.8"/><path d="M907.7,296.0 L912.8,292.9 L911.8,297.3 L917.0,294.2 L916.0,298.7" fill="none" stroke="#f08018" stroke-width="1.9" stroke-linejoin="round" stroke-linecap="round"/><path d="M902.1,287.3 Q901.8,296.2 902.6,295.9 Q903.5,295.5 904.3,291.2 Q905.2,286.8 905.4,288.0 L905.6,289.1" fill="none" stroke="#f26c14" stroke-width="0.9" stroke-linecap="round" opacity="1"/><line x1="897.4" y1="292.2" x2="902.2" y2="301.9" stroke="#c15610" stroke-width="4.2" stroke-dasharray="2.2 1.4" opacity="0.8"/><path d="M895.2,292.3 L900.4,293.7 L896.8,295.5 L902.0,297.0 L898.4,298.7 L903.6,300.2 L900.0,302.0" fill="none" stroke="#f26c14" stroke-width="1.9" stroke-linejoin="round" stroke-linecap="round"/><line x1="874.0" y1="317.1" x2="882.4" y2="316.8" stroke="#b9400c" stroke-width="4.7" stroke-dasharray="2.2 1.4" opacity="0.8"/><path d="M873.2,319.3 L876.9,314.7 L877.4,319.2 L881.1,314.6 L881.5,319.1" fill="none" stroke="#e85010" stroke-width="1.9" stroke-linejoin="round" stroke-linecap="round"/><path d="M886.2,297.4 Q891.3,300.7 893.4,303.5 Q895.5,306.3 892.4,302.4 Q889.3,298.4 888.6,297.3 L888.0,296.1" fill="none" stroke="#f26c14" stroke-width="0.9" stroke-linecap="round" opacity="1"/><line x1="894.0" y1="315.7" x2="900.8" y2="321.8" stroke="#c15610" stroke-width="4.1" stroke-dasharray="2.2 1.4" opacity="0.8"/><path d="M892.0,316.5 L897.4,316.0 L894.8,319.0 L900.1,318.5 L897.5,321.4 L902.8,320.9" fill="none" stroke="#f26c14" stroke-width="1.9" stroke-linejoin="round" stroke-linecap="round"/><line x1="878.6" y1="290.4" x2="890.2" y2="297.1" stroke="#c15610" stroke-width="3.6" stroke-dasharray="2.2 1.4" opacity="0.8"/><path d="M877.0,291.4 L881.9,290.3 L880.3,293.3 L885.2,292.2 L883.6,295.2 L888.5,294.1 L886.9,297.2 L891.8,296.1" fill="none" stroke="#f26c14" stroke-width="1.9" stroke-linejoin="round" stroke-linecap="round"/><line x1="870.5" y1="293.7" x2="877.4" y2="302.0" stroke="#c15610" stroke-width="4.2" stroke-dasharray="2.2 1.4" opacity="0.8"/><path d="M868.4,294.3 L874.0,294.8 L871.2,297.6 L876.7,298.1 L873.9,300.9 L879.5,301.4" fill="none" stroke="#f26c14" stroke-width="1.9" stroke-linejoin="round" stroke-linecap="round"/><line x1="887.1" y1="294.0" x2="896.2" y2="303.3" stroke="#c15610" stroke-width="4.8" stroke-dasharray="2.2 1.4" opacity="0.8"/><path d="M884.8,295.0 L890.6,294.4 L887.4,297.7 L893.2,297.1 L890.0,300.3 L895.8,299.7 L892.6,303.0 L898.4,302.4" fill="none" stroke="#f26c14" stroke-width="1.9" stroke-linejoin="round" stroke-linecap="round"/><line x1="892.5" y1="321.1" x2="904.0" y2="314.3" stroke="#c06613" stroke-width="4.0" stroke-dasharray="2.2 1.4" opacity="0.8"/><path d="M892.6,323.2 L893.9,318.0 L896.0,321.3 L897.2,316.1 L899.3,319.3 L900.5,314.2 L902.6,317.4 L903.9,312.2" fill="none" stroke="#f08018" stroke-width="1.9" stroke-linejoin="round" stroke-linecap="round"/><line x1="871.8" y1="310.9" x2="886.0" y2="306.2" stroke="#c15610" stroke-width="3.7" stroke-dasharray="2.2 1.4" opacity="0.8"/><path d="M871.5,312.8 L873.9,308.4 L875.0,311.7 L877.4,307.2 L878.6,310.5 L881.0,306.0 L882.1,309.4 L884.5,304.9 L885.7,308.2" fill="none" stroke="#f26c14" stroke-width="1.9" stroke-linejoin="round" stroke-linecap="round"/><line x1="902.2" y1="314.6" x2="914.4" y2="311.0" stroke="#b9400c" stroke-width="3.7" stroke-dasharray="2.2 1.4" opacity="0.8"/><path d="M901.9,316.6 L904.3,312.2 L905.3,315.5 L907.8,311.1 L908.8,314.5 L911.3,310.1 L912.3,313.5 L914.7,309.1" fill="none" stroke="#e85010" stroke-width="1.9" stroke-linejoin="round" stroke-linecap="round"/><line x1="878.5" y1="290.7" x2="894.2" y2="289.7" stroke="#c15610" stroke-width="3.5" stroke-dasharray="2.2 1.4" opacity="0.8"/><path d="M877.7,292.4 L881.2,288.8 L881.6,292.1 L885.2,288.6 L885.5,291.9 L889.1,288.3 L889.5,291.6 L893.0,288.1 L893.4,291.4" fill="none" stroke="#f26c14" stroke-width="1.9" stroke-linejoin="round" stroke-linecap="round"/><line x1="914.3" y1="295.3" x2="925.5" y2="290.2" stroke="#c06613" stroke-width="3.7" stroke-dasharray="2.2 1.4" opacity="0.8"/><path d="M914.3,297.3 L916.3,292.5 L918.0,295.6 L920.0,290.8 L921.7,293.9 L923.7,289.1 L925.4,292.1" fill="none" stroke="#f08018" stroke-width="1.9" stroke-linejoin="round" stroke-linecap="round"/><line x1="884.3" y1="297.1" x2="888.7" y2="310.3" stroke="#c15610" stroke-width="4.4" stroke-dasharray="2.2 1.4" opacity="0.8"/><path d="M882.0,296.9 L887.2,299.2 L883.3,300.7 L888.4,302.9 L884.6,304.4 L889.7,306.7 L885.8,308.2 L891.0,310.5" fill="none" stroke="#f26c14" stroke-width="1.9" stroke-linejoin="round" stroke-linecap="round"/><line x1="910.9" y1="282.7" x2="920.0" y2="290.5" stroke="#c15610" stroke-width="4.8" stroke-dasharray="2.2 1.4" opacity="0.8"/><path d="M908.7,283.8 L914.6,282.9 L911.8,286.4 L917.6,285.5 L914.8,289.1 L920.7,288.1 L917.9,291.7" fill="none" stroke="#f26c14" stroke-width="1.9" stroke-linejoin="round" stroke-linecap="round"/><line x1="889.2" y1="294.4" x2="893.5" y2="306.0" stroke="#c15610" stroke-width="4.5" stroke-dasharray="2.2 1.4" opacity="0.8"/><path d="M886.9,294.3 L892.3,296.4 L888.3,298.2 L893.7,300.3 L889.8,302.0 L895.1,304.2 L891.2,305.9" fill="none" stroke="#f26c14" stroke-width="1.9" stroke-linejoin="round" stroke-linecap="round"/><path d="M862.3,318.1 Q859.4,308.2 857.5,312.8 Q855.6,317.5 855.3,318.0 Q855.0,318.5 855.7,313.3 L856.4,308.1" fill="none" stroke="#f08018" stroke-width="0.9" stroke-linecap="round" opacity="1"/><line x1="901.8" y1="294.3" x2="915.8" y2="299.0" stroke="#c15610" stroke-width="3.5" stroke-dasharray="2.2 1.4" opacity="0.8"/><path d="M900.4,295.6 L905.0,293.6 L903.9,296.8 L908.4,294.7 L907.4,297.9 L911.9,295.9 L910.9,299.1 L915.4,297.1 L914.4,300.3" fill="none" stroke="#f26c14" stroke-width="1.9" stroke-linejoin="round" stroke-linecap="round"/><line x1="881.4" y1="306.1" x2="876.3" y2="318.9" stroke="#c15610" stroke-width="3.9" stroke-dasharray="2.2 1.4" opacity="0.8"/><path d="M880.0,304.5 L882.1,309.4 L878.6,308.2 L880.6,313.1 L877.1,311.9 L879.2,316.7 L875.7,315.5 L877.7,320.4" fill="none" stroke="#f26c14" stroke-width="1.9" stroke-linejoin="round" stroke-linecap="round"/><line x1="876.9" y1="289.3" x2="881.5" y2="296.2" stroke="#c15610" stroke-width="3.6" stroke-dasharray="2.2 1.4" opacity="0.8"/><path d="M875.0,289.5 L880.0,290.8 L877.3,292.9 L882.3,294.3 L879.6,296.4" fill="none" stroke="#f26c14" stroke-width="1.9" stroke-linejoin="round" stroke-linecap="round"/><line x1="881.7" y1="314.2" x2="887.0" y2="321.4" stroke="#c15610" stroke-width="3.5" stroke-dasharray="2.2 1.4" opacity="0.8"/><path d="M879.8,314.5 L884.9,315.7 L882.5,318.1 L887.5,319.3 L885.2,321.6" fill="none" stroke="#f26c14" stroke-width="1.9" stroke-linejoin="round" stroke-linecap="round"/><line x1="874.6" y1="276.5" x2="869.8" y2="290.7" stroke="#b9400c" stroke-width="4.2" stroke-dasharray="2.2 1.4" opacity="0.8"/><path d="M873.0,275.0 L875.6,279.8 L871.8,278.5 L874.4,283.3 L870.6,282.1 L873.2,286.9 L869.4,285.6 L872.0,290.4 L868.2,289.2" fill="none" stroke="#e85010" stroke-width="1.9" stroke-linejoin="round" stroke-linecap="round"/><line x1="908.3" y1="290.6" x2="915.3" y2="294.9" stroke="#c15610" stroke-width="4.1" stroke-dasharray="2.2 1.4" opacity="0.8"/><path d="M906.5,291.8 L911.8,290.5 L910.0,294.0 L915.3,292.6 L913.5,296.1" fill="none" stroke="#f26c14" stroke-width="1.9" stroke-linejoin="round" stroke-linecap="round"/><line x1="852.7" y1="299.1" x2="858.5" y2="310.5" stroke="#b9400c" stroke-width="4.4" stroke-dasharray="2.2 1.4" opacity="0.8"/><path d="M850.4,299.2 L855.8,300.6 L852.1,302.5 L857.4,303.8 L853.7,305.7 L859.1,307.1 L855.4,309.0 L860.8,310.4" fill="none" stroke="#e85010" stroke-width="1.9" stroke-linejoin="round" stroke-linecap="round"/><line x1="889.4" y1="283.1" x2="884.6" y2="294.3" stroke="#c06613" stroke-width="3.7" stroke-dasharray="2.2 1.4" opacity="0.8"/><path d="M888.2,281.6 L889.9,286.5 L886.6,285.3 L888.3,290.2 L885.0,289.0 L886.7,293.9 L883.4,292.7" fill="none" stroke="#f08018" stroke-width="1.9" stroke-linejoin="round" stroke-linecap="round"/><line x1="917.1" y1="311.6" x2="924.9" y2="306.5" stroke="#c06613" stroke-width="3.8" stroke-dasharray="2.2 1.4" opacity="0.8"/><path d="M917.3,313.6 L918.4,308.5 L920.5,311.5 L921.6,306.5 L923.6,309.5 L924.7,304.4" fill="none" stroke="#f08018" stroke-width="1.9" stroke-linejoin="round" stroke-linecap="round"/><line x1="880.4" y1="321.7" x2="890.9" y2="323.7" stroke="#b9400c" stroke-width="3.4" stroke-dasharray="2.2 1.4" opacity="0.8"/><path d="M879.2,323.2 L883.7,320.7 L883.4,323.9 L887.9,321.5 L887.6,324.7 L892.1,322.2" fill="none" stroke="#e85010" stroke-width="1.9" stroke-linejoin="round" stroke-linecap="round"/><line x1="880.9" y1="327.5" x2="888.6" y2="322.5" stroke="#c15610" stroke-width="3.8" stroke-dasharray="2.2 1.4" opacity="0.8"/><path d="M881.1,329.4 L882.2,324.5 L884.2,327.5 L885.3,322.5 L887.3,325.5 L888.4,320.5" fill="none" stroke="#f26c14" stroke-width="1.9" stroke-linejoin="round" stroke-linecap="round"/><line x1="887.2" y1="285.9" x2="894.8" y2="295.4" stroke="#c15610" stroke-width="3.4" stroke-dasharray="2.2 1.4" opacity="0.8"/><path d="M885.3,286.2 L890.3,287.1 L887.9,289.4 L892.8,290.3 L890.4,292.5 L895.4,293.5 L893.0,295.7" fill="none" stroke="#f26c14" stroke-width="1.9" stroke-linejoin="round" stroke-linecap="round"/><line x1="894.9" y1="308.4" x2="892.5" y2="322.4" stroke="#c15610" stroke-width="3.8" stroke-dasharray="2.2 1.4" opacity="0.8"/><path d="M893.3,307.2 L896.2,311.6 L892.6,311.2 L895.5,315.6 L891.9,315.2 L894.8,319.6 L891.2,319.2 L894.1,323.6" fill="none" stroke="#f26c14" stroke-width="1.9" stroke-linejoin="round" stroke-linecap="round"/><line x1="879.2" y1="325.0" x2="875.5" y2="319.9" stroke="#c09919" stroke-width="3.1" stroke-dasharray="2.2 1.4" opacity="0.8"/><path d="M880.9,324.8 L876.2,323.4 L878.5,321.5 L873.8,320.0" fill="none" stroke="#f0c020" stroke-width="1.5" stroke-linejoin="round" stroke-linecap="round"/><line x1="867.9" y1="305.4" x2="870.1" y2="310.2" stroke="#c09919" stroke-width="3.5" stroke-dasharray="2.2 1.4" opacity="0.8"/><path d="M866.0,305.3 L870.9,307.9 L868.2,310.1" fill="none" stroke="#f0c020" stroke-width="1.5" stroke-linejoin="round" stroke-linecap="round"/><path d="M871.4,316.1 Q876.2,311.5 876.8,310.7 Q877.4,310.0 875.3,308.7 Q873.1,307.4 873.8,308.7 L874.6,310.0" fill="none" stroke="#e6dc22" stroke-width="0.9" stroke-linecap="round" opacity="1"/><line x1="875.4" y1="309.4" x2="872.2" y2="317.5" stroke="#b8b01b" stroke-width="2.9" stroke-dasharray="2.2 1.4" opacity="0.8"/><path d="M874.4,308.1 L875.5,312.7 L872.8,312.1 L873.9,316.8 L871.3,316.1" fill="none" stroke="#e6dc22" stroke-width="1.5" stroke-linejoin="round" stroke-linecap="round"/><line x1="856.2" y1="314.6" x2="852.6" y2="307.6" stroke="#b8b01b" stroke-width="2.9" stroke-dasharray="2.2 1.4" opacity="0.8"/><path d="M857.8,314.8 L853.6,312.7 L856.0,311.3 L851.9,309.2 L854.2,307.8" fill="none" stroke="#e6dc22" stroke-width="1.5" stroke-linejoin="round" stroke-linecap="round"/><line x1="862.0" y1="318.5" x2="866.8" y2="320.0" stroke="#b8b01b" stroke-width="2.7" stroke-dasharray="2.2 1.4" opacity="0.8"/><path d="M860.7,319.4 L865.7,318.3 L865.6,321.0" fill="none" stroke="#e6dc22" stroke-width="1.5" stroke-linejoin="round" stroke-linecap="round"/><line x1="863.4" y1="321.7" x2="871.3" y2="322.7" stroke="#b8b01b" stroke-width="2.6" stroke-dasharray="2.2 1.4" opacity="0.8"/><path d="M862.4,322.8 L866.4,320.8 L866.3,323.3 L870.4,321.3 L870.2,323.8" fill="none" stroke="#e6dc22" stroke-width="1.5" stroke-linejoin="round" stroke-linecap="round"/><line x1="877.1" y1="325.2" x2="879.1" y2="319.8" stroke="#b8b01b" stroke-width="3.5" stroke-dasharray="2.2 1.4" opacity="0.8"/><path d="M878.3,326.6 L876.5,322.0 L879.7,323.1 L877.8,318.4" fill="none" stroke="#e6dc22" stroke-width="1.5" stroke-linejoin="round" stroke-linecap="round"/><line x1="919.9" y1="270.2" x2="926.6" y2="279.6" stroke="#c07319" stroke-width="4.1" stroke-dasharray="2.2 1.4" opacity="0.8"/><path d="M917.8,270.6 L923.1,271.4 L920.0,273.7 L925.4,274.5 L922.2,276.9 L927.6,277.7 L924.5,280.0" fill="none" stroke="#f09020" stroke-width="1.6" stroke-linejoin="round" stroke-linecap="round"/><line x1="916.2" y1="285.8" x2="919.9" y2="292.5" stroke="#c08c26" stroke-width="4.3" stroke-dasharray="2.2 1.4" opacity="0.8"/><path d="M914.0,286.0 L919.4,287.3 L915.8,289.4 L921.2,290.6 L917.6,292.7" fill="none" stroke="#f0b030" stroke-width="1.6" stroke-linejoin="round" stroke-linecap="round"/><line x1="928.8" y1="290.5" x2="931.0" y2="297.3" stroke="#c08c26" stroke-width="4.3" stroke-dasharray="2.2 1.4" opacity="0.8"/><path d="M926.6,290.2 L931.8,293.0 L928.1,294.8 L933.3,297.5" fill="none" stroke="#f0b030" stroke-width="1.6" stroke-linejoin="round" stroke-linecap="round"/><path d="M909.8,281.3 Q916.8,279.4 914.1,279.3 Q911.5,279.2 913.3,282.1 Q915.0,285.0 912.1,285.7 L909.1,286.3" fill="none" stroke="#f4a224" stroke-width="0.9" stroke-linecap="round" opacity="1"/><line x1="938.6" y1="272.7" x2="948.8" y2="280.3" stroke="#c07319" stroke-width="4.1" stroke-dasharray="2.2 1.4" opacity="0.8"/><path d="M936.7,273.7 L941.9,272.8 L939.6,275.9 L944.8,274.9 L942.5,278.0 L947.7,277.1 L945.4,280.2 L950.6,279.3" fill="none" stroke="#f09020" stroke-width="1.6" stroke-linejoin="round" stroke-linecap="round"/><line x1="925.7" y1="283.2" x2="926.2" y2="293.3" stroke="#c08c26" stroke-width="3.7" stroke-dasharray="2.2 1.4" opacity="0.8"/><path d="M923.9,282.4 L927.6,286.0 L924.1,286.4 L927.8,290.1 L924.3,290.5 L928.1,294.1" fill="none" stroke="#f0b030" stroke-width="1.6" stroke-linejoin="round" stroke-linecap="round"/><path d="M928.2,272.7 Q931.5,277.6 929.8,273.9 Q928.2,270.1 927.8,270.5 Q927.5,270.9 928.5,271.1 L929.6,271.4" fill="none" stroke="#f0b030" stroke-width="0.9" stroke-linecap="round" opacity="1"/><line x1="940.9" y1="284.4" x2="944.0" y2="297.1" stroke="#c3811c" stroke-width="3.5" stroke-dasharray="2.2 1.4" opacity="0.8"/><path d="M939.1,283.9 L943.2,286.7 L939.9,287.5 L944.0,290.3 L940.8,291.2 L944.9,294.0 L941.7,294.8 L945.8,297.6" fill="none" stroke="#f4a224" stroke-width="1.6" stroke-linejoin="round" stroke-linecap="round"/><line x1="948.4" y1="279.8" x2="951.2" y2="287.8" stroke="#c08c26" stroke-width="3.5" stroke-dasharray="2.2 1.4" opacity="0.8"/><path d="M946.5,279.6 L951.0,282.1 L947.9,283.6 L952.4,286.1 L949.4,287.6" fill="none" stroke="#f0b030" stroke-width="1.6" stroke-linejoin="round" stroke-linecap="round"/><path d="M922.6,286.2 Q925.6,281.4 923.5,283.9 Q921.4,286.3 923.9,290.1 Q926.4,293.8 924.4,288.8 L922.3,283.7" fill="none" stroke="#f4a224" stroke-width="0.9" stroke-linecap="round" opacity="1"/><line x1="921.6" y1="272.8" x2="930.0" y2="274.4" stroke="#c3811c" stroke-width="3.6" stroke-dasharray="2.2 1.4" opacity="0.8"/><path d="M920.4,274.3 L924.9,271.7 L924.6,275.1 L929.1,272.5 L928.8,275.9" fill="none" stroke="#f4a224" stroke-width="1.6" stroke-linejoin="round" stroke-linecap="round"/><line x1="917.1" y1="288.5" x2="930.2" y2="293.2" stroke="#c3811c" stroke-width="4.3" stroke-dasharray="2.2 1.4" opacity="0.8"/><path d="M915.6,290.1 L920.5,287.5 L919.3,291.4 L924.3,288.9 L923.1,292.8 L928.0,290.2 L926.8,294.1 L931.7,291.6" fill="none" stroke="#f4a224" stroke-width="1.6" stroke-linejoin="round" stroke-linecap="round"/><path d="M920.8,274.1 Q918.9,274.0 920.7,272.4 Q922.5,270.8 922.5,271.5 Q922.5,272.1 922.1,274.2 L921.6,276.4" fill="none" stroke="#f4a224" stroke-width="0.9" stroke-linecap="round" opacity="1"/><line x1="918.4" y1="284.7" x2="918.5" y2="293.8" stroke="#c3811c" stroke-width="3.2" stroke-dasharray="2.2 1.4" opacity="0.8"/><path d="M916.9,283.8 L920.0,287.4 L916.9,287.5 L920.0,291.1 L917.0,291.1 L920.1,294.7" fill="none" stroke="#f4a224" stroke-width="1.6" stroke-linejoin="round" stroke-linecap="round"/><line x1="921.0" y1="280.9" x2="933.3" y2="280.7" stroke="#c07319" stroke-width="3.1" stroke-dasharray="2.2 1.4" opacity="0.8"/><path d="M920.2,282.4 L924.0,279.3 L924.3,282.3 L928.1,279.3 L928.3,282.3 L932.1,279.2 L932.4,282.2" fill="none" stroke="#f09020" stroke-width="1.6" stroke-linejoin="round" stroke-linecap="round"/><line x1="922.6" y1="287.5" x2="931.0" y2="297.7" stroke="#c3811c" stroke-width="3.3" stroke-dasharray="2.2 1.4" opacity="0.8"/><path d="M920.8,287.8 L925.5,288.7 L923.2,290.7 L928.0,291.6 L925.6,293.6 L930.4,294.5 L928.0,296.5 L932.8,297.4" fill="none" stroke="#f4a224" stroke-width="1.6" stroke-linejoin="round" stroke-linecap="round"/><path d="M923.1,275.1 Q911.9,287.9 918.0,284.8 Q924.2,281.7 917.3,279.6 Q910.3,277.4 914.2,280.3 L918.0,283.3" fill="none" stroke="#f4a224" stroke-width="0.9" stroke-linecap="round" opacity="1"/><line x1="931.7" y1="294.4" x2="943.5" y2="299.7" stroke="#c3811c" stroke-width="3.3" stroke-dasharray="2.2 1.4" opacity="0.8"/><path d="M930.3,295.5 L934.9,294.1 L933.6,297.0 L938.2,295.6 L937.0,298.5 L941.6,297.1 L940.3,300.0 L945.0,298.6" fill="none" stroke="#f4a224" stroke-width="1.6" stroke-linejoin="round" stroke-linecap="round"/><line x1="948.0" y1="281.4" x2="956.0" y2="277.6" stroke="#c3811c" stroke-width="3.3" stroke-dasharray="2.2 1.4" opacity="0.8"/><path d="M947.8,283.2 L950.1,278.6 L951.8,281.3 L954.1,276.7 L955.9,279.4" fill="none" stroke="#f4a224" stroke-width="1.6" stroke-linejoin="round" stroke-linecap="round"/><line x1="926.8" y1="267.4" x2="935.5" y2="269.5" stroke="#c08c26" stroke-width="4.3" stroke-dasharray="2.2 1.4" opacity="0.8"/><path d="M925.4,269.2 L930.3,266.1 L929.8,270.2 L934.7,267.1 L934.1,271.3" fill="none" stroke="#f0b030" stroke-width="1.6" stroke-linejoin="round" stroke-linecap="round"/><line x1="952.6" y1="292.8" x2="961.8" y2="293.8" stroke="#c07319" stroke-width="3.2" stroke-dasharray="2.2 1.4" opacity="0.8"/><path d="M951.6,294.3 L955.5,291.6 L955.3,294.7 L959.2,292.0 L958.9,295.0 L962.9,292.4" fill="none" stroke="#f09020" stroke-width="1.6" stroke-linejoin="round" stroke-linecap="round"/><path d="M950.1,304.3 Q953.2,300.2 955.5,300.9 Q957.9,301.7 955.3,295.8 Q952.7,289.9 952.3,289.5 L952.0,289.1" fill="none" stroke="#f4a224" stroke-width="0.9" stroke-linecap="round" opacity="1"/><line x1="945.2" y1="280.2" x2="955.6" y2="285.7" stroke="#c07319" stroke-width="3.4" stroke-dasharray="2.2 1.4" opacity="0.8"/><path d="M943.6,281.2 L948.5,280.1 L947.1,283.0 L952.0,281.9 L950.6,284.9 L955.4,283.8 L954.0,286.7" fill="none" stroke="#f09020" stroke-width="1.6" stroke-linejoin="round" stroke-linecap="round"/><path d="M951.2,298.8 Q947.8,298.4 947.9,297.1 Q948.0,295.9 949.5,296.9 Q950.9,297.9 949.0,297.6 L947.0,297.3" fill="none" stroke="#f09020" stroke-width="0.9" stroke-linecap="round" opacity="1"/><line x1="900.0" y1="322.0" x2="921.0" y2="330.0" stroke="#c0480c" stroke-width="5.5" stroke-dasharray="2.2 1.4" opacity="0.8"/><path d="M898.2,324.1 L903.5,320.6 L901.7,325.4 L907.0,321.9 L905.2,326.8 L910.5,323.2 L908.7,328.1 L914.0,324.6 L912.2,329.4 L917.5,325.9 L915.7,330.8 L921.0,327.2 L919.2,332.1" fill="none" stroke="#f05a10" stroke-width="2.1" stroke-linejoin="round" stroke-linecap="round"/><path d="M955.0,280.0 Q965.0,284.0 967.0,288.0 Q969.0,292.0 965.5,291.0 L962.0,290.0" fill="none" stroke="#d09020" stroke-width="1.0" stroke-linecap="round" opacity="1"/><line x1="894.2" y1="264.8" x2="902.1" y2="268.2" stroke="#199926" stroke-width="3.7" stroke-dasharray="2.2 1.4" opacity="0.8"/><path d="M892.7,266.0 L897.7,264.4 L896.6,267.7 L901.6,266.1 L900.5,269.5" fill="none" stroke="#20c030" stroke-width="1.8" stroke-linejoin="round" stroke-linecap="round"/><line x1="902.1" y1="266.8" x2="904.6" y2="273.7" stroke="#c06613" stroke-width="3.5" stroke-dasharray="2.2 1.4" opacity="0.8"/><path d="M900.2,266.5 L904.6,268.8 L901.5,270.0 L905.8,272.3 L902.7,273.4" fill="none" stroke="#f08018" stroke-width="1.8" stroke-linejoin="round" stroke-linecap="round"/><line x1="851.3" y1="263.6" x2="858.1" y2="267.7" stroke="#199926" stroke-width="4.5" stroke-dasharray="2.2 1.4" opacity="0.8"/><path d="M849.5,265.0 L854.9,263.3 L852.9,267.0 L858.3,265.3 L856.3,269.1" fill="none" stroke="#20c030" stroke-width="1.8" stroke-linejoin="round" stroke-linecap="round"/><line x1="931.9" y1="268.8" x2="936.4" y2="276.5" stroke="#c3811c" stroke-width="4.3" stroke-dasharray="2.2 1.4" opacity="0.8"/><path d="M929.6,269.1 L935.2,270.5 L931.9,273.0 L937.5,274.3 L934.2,276.8" fill="none" stroke="#f4a224" stroke-width="1.8" stroke-linejoin="round" stroke-linecap="round"/><line x1="858.6" y1="264.3" x2="870.3" y2="262.8" stroke="#c06613" stroke-width="4.1" stroke-dasharray="2.2 1.4" opacity="0.8"/><path d="M857.9,266.3 L861.2,262.0 L861.8,265.8 L865.1,261.5 L865.7,265.3 L869.0,261.0 L869.6,264.8" fill="none" stroke="#f08018" stroke-width="1.8" stroke-linejoin="round" stroke-linecap="round"/><line x1="863.2" y1="265.3" x2="870.9" y2="265.8" stroke="#199926" stroke-width="3.4" stroke-dasharray="2.2 1.4" opacity="0.8"/><path d="M862.2,266.9 L866.1,263.8 L866.0,267.1 L870.0,264.1 L869.9,267.4" fill="none" stroke="#20c030" stroke-width="1.8" stroke-linejoin="round" stroke-linecap="round"/><line x1="891.2" y1="267.0" x2="899.4" y2="261.4" stroke="#c15610" stroke-width="3.9" stroke-dasharray="2.2 1.4" opacity="0.8"/><path d="M891.5,269.0 L892.5,263.8 L894.8,266.8 L895.8,261.6 L898.0,264.5 L899.1,259.3" fill="none" stroke="#f26c14" stroke-width="1.8" stroke-linejoin="round" stroke-linecap="round"/><path d="M925.4,270.2 Q926.2,266.9 926.0,269.0 Q925.9,271.2 925.3,270.3 Q924.6,269.5 927.9,267.7 L931.1,265.9" fill="none" stroke="#f4a224" stroke-width="0.9" stroke-linecap="round" opacity="1"/><line x1="879.7" y1="269.6" x2="888.2" y2="273.3" stroke="#1ba61b" stroke-width="3.7" stroke-dasharray="2.2 1.4" opacity="0.8"/><path d="M878.2,270.8 L883.0,269.1 L881.6,272.3 L886.3,270.6 L884.9,273.8 L889.7,272.1" fill="none" stroke="#22d022" stroke-width="1.8" stroke-linejoin="round" stroke-linecap="round"/><line x1="943.5" y1="269.5" x2="951.4" y2="272.8" stroke="#c15610" stroke-width="4.0" stroke-dasharray="2.2 1.4" opacity="0.8"/><path d="M942.0,270.9 L947.1,268.9 L945.9,272.6 L951.0,270.6 L949.8,274.2" fill="none" stroke="#f26c14" stroke-width="1.8" stroke-linejoin="round" stroke-linecap="round"/><line x1="874.5" y1="270.6" x2="881.8" y2="269.2" stroke="#199926" stroke-width="3.9" stroke-dasharray="2.2 1.4" opacity="0.8"/><path d="M873.9,272.6 L876.8,268.2 L877.6,271.9 L880.5,267.5 L881.2,271.2" fill="none" stroke="#20c030" stroke-width="1.8" stroke-linejoin="round" stroke-linecap="round"/><line x1="889.7" y1="270.6" x2="895.1" y2="275.3" stroke="#c06613" stroke-width="4.5" stroke-dasharray="2.2 1.4" opacity="0.8"/><path d="M887.6,271.7 L893.6,271.2 L891.2,274.8 L897.2,274.3" fill="none" stroke="#f08018" stroke-width="1.8" stroke-linejoin="round" stroke-linecap="round"/><line x1="914.9" y1="265.8" x2="917.7" y2="273.4" stroke="#1ba61b" stroke-width="3.9" stroke-dasharray="2.2 1.4" opacity="0.8"/><path d="M912.8,265.6 L917.6,267.9 L914.3,269.4 L919.1,271.7 L915.7,273.2" fill="none" stroke="#22d022" stroke-width="1.8" stroke-linejoin="round" stroke-linecap="round"/><line x1="889.3" y1="269.4" x2="899.1" y2="275.2" stroke="#199926" stroke-width="4.5" stroke-dasharray="2.2 1.4" opacity="0.8"/><path d="M887.4,270.8 L892.8,269.0 L890.7,272.7 L896.1,270.9 L894.0,274.7 L899.3,272.9 L897.3,276.6" fill="none" stroke="#20c030" stroke-width="1.8" stroke-linejoin="round" stroke-linecap="round"/><line x1="864.4" y1="266.4" x2="874.1" y2="265.8" stroke="#1ba61b" stroke-width="3.3" stroke-dasharray="2.2 1.4" opacity="0.8"/><path d="M863.6,268.0 L867.1,264.6 L867.4,267.7 L871.0,264.4 L871.3,267.5 L874.9,264.1" fill="none" stroke="#22d022" stroke-width="1.8" stroke-linejoin="round" stroke-linecap="round"/><line x1="841.7" y1="267.9" x2="848.7" y2="270.1" stroke="#c15610" stroke-width="3.9" stroke-dasharray="2.2 1.4" opacity="0.8"/><path d="M840.3,269.4 L844.8,267.0 L843.8,270.5 L848.3,268.1 L847.2,271.6" fill="none" stroke="#f26c14" stroke-width="1.8" stroke-linejoin="round" stroke-linecap="round"/><line x1="836.1" y1="268.2" x2="846.6" y2="268.2" stroke="#199926" stroke-width="4.4" stroke-dasharray="2.2 1.4" opacity="0.8"/><path d="M835.2,270.3 L839.1,266.1 L839.4,270.3 L843.3,266.1 L843.6,270.3 L847.5,266.1" fill="none" stroke="#20c030" stroke-width="1.8" stroke-linejoin="round" stroke-linecap="round"/><line x1="848.6" y1="264.5" x2="855.5" y2="265.9" stroke="#c06613" stroke-width="3.6" stroke-dasharray="2.2 1.4" opacity="0.8"/><path d="M847.3,265.9 L852.1,263.5 L851.9,266.9 L856.7,264.5" fill="none" stroke="#f08018" stroke-width="1.8" stroke-linejoin="round" stroke-linecap="round"/><line x1="868.4" y1="261.3" x2="874.6" y2="269.5" stroke="#c06613" stroke-width="4.1" stroke-dasharray="2.2 1.4" opacity="0.8"/><path d="M866.2,261.8 L871.7,262.5 L868.7,265.1 L874.2,265.8 L871.2,268.4 L876.7,269.1" fill="none" stroke="#f08018" stroke-width="1.8" stroke-linejoin="round" stroke-linecap="round"/><line x1="866.0" y1="265.7" x2="875.6" y2="264.9" stroke="#c06613" stroke-width="3.5" stroke-dasharray="2.2 1.4" opacity="0.8"/><path d="M865.2,267.4 L868.7,263.8 L869.0,267.1 L872.5,263.5 L872.9,266.8 L876.3,263.2" fill="none" stroke="#f08018" stroke-width="1.8" stroke-linejoin="round" stroke-linecap="round"/><path d="M819.2,264.3 Q817.3,266.5 815.5,268.1" fill="none" stroke="#f4a224" stroke-width="2.1" stroke-linecap="round"/><path d="M858.7,270.4 Q859.1,264.8 857.1,264.3" fill="none" stroke="#22d022" stroke-width="1.6" stroke-linecap="round"/><path d="M889.7,263.9 Q888.0,268.5 888.7,270.8" fill="none" stroke="#ea1d1d" stroke-width="1.8" stroke-linecap="round"/><path d="M866.1,269.1 Q865.7,272.2 867.3,273.0" fill="none" stroke="#22d022" stroke-width="1.2" stroke-linecap="round"/><path d="M891.1,267.2 Q895.1,265.9 896.2,264.5" fill="none" stroke="#f4a224" stroke-width="2.0" stroke-linecap="round"/><path d="M884.5,268.4 Q885.1,265.0 885.6,261.9" fill="none" stroke="#f26c14" stroke-width="2.0" stroke-linecap="round"/><path d="M944.3,273.1 Q944.5,271.9 941.9,269.5" fill="none" stroke="#f26c14" stroke-width="2.1" stroke-linecap="round"/><path d="M832.3,269.5 Q834.3,267.1 832.7,262.2" fill="none" stroke="#f26c14" stroke-width="1.5" stroke-linecap="round"/><path d="M845.3,264.0 Q847.2,266.1 847.0,271.6" fill="none" stroke="#22d022" stroke-width="1.5" stroke-linecap="round"/><path d="M833.9,266.6 Q830.5,262.2 830.2,261.3" fill="none" stroke="#f26c14" stroke-width="1.6" stroke-linecap="round"/><path d="M904.4,267.3 Q906.5,267.1 906.1,264.1" fill="none" stroke="#ea1d1d" stroke-width="1.7" stroke-linecap="round"/><path d="M850.8,268.4 Q852.7,263.9 850.8,262.9" fill="none" stroke="#20c030" stroke-width="1.5" stroke-linecap="round"/><path d="M852.3,270.6 Q852.3,269.4 852.5,266.6" fill="none" stroke="#f26c14" stroke-width="1.8" stroke-linecap="round"/><path d="M850.8,267.6 Q851.2,267.7 853.2,269.4" fill="none" stroke="#f4a224" stroke-width="1.3" stroke-linecap="round"/><path d="M856.6,263.8 Q855.0,268.7 856.8,270.5" fill="none" stroke="#f4a224" stroke-width="2.0" stroke-linecap="round"/><path d="M911.3,271.9 Q910.3,269.8 911.3,268.3" fill="none" stroke="#22d022" stroke-width="1.2" stroke-linecap="round"/><path d="M883.2,265.7 Q882.3,263.8 881.0,262.8" fill="none" stroke="#f4a224" stroke-width="1.9" stroke-linecap="round"/><path d="M913.7,270.5 Q911.5,269.4 911.9,267.6" fill="none" stroke="#20c030" stroke-width="1.5" stroke-linecap="round"/><path d="M846.7,260.7 Q846.2,262.7 847.0,264.4" fill="none" stroke="#f4a224" stroke-width="1.7" stroke-linecap="round"/><path d="M835.4,267.1 Q831.8,266.6 830.6,266.9" fill="none" stroke="#f26c14" stroke-width="2.2" stroke-linecap="round"/><path d="M939.0,275.2 Q935.6,273.4 934.9,274.3" fill="none" stroke="#22d022" stroke-width="1.7" stroke-linecap="round"/><path d="M921.4,273.9 Q921.5,270.8 919.9,270.1" fill="none" stroke="#f4a224" stroke-width="2.2" stroke-linecap="round"/><path d="M867.0,268.1 Q867.5,270.7 871.6,271.8" fill="none" stroke="#f26c14" stroke-width="1.4" stroke-linecap="round"/><path d="M893.5,274.7 Q892.5,273.4 892.7,271.5" fill="none" stroke="#22d022" stroke-width="1.2" stroke-linecap="round"/><path d="M895.5,274.3 Q897.6,272.0 897.3,270.0" fill="none" stroke="#f26c14" stroke-width="1.2" stroke-linecap="round"/><path d="M943.0,270.2 Q940.9,271.8 940.2,272.1" fill="none" stroke="#f26c14" stroke-width="1.4" stroke-linecap="round"/><path d="M857.8,261.6 Q857.9,265.1 859.1,265.5" fill="none" stroke="#22d022" stroke-width="2.0" stroke-linecap="round"/><path d="M876.5,272.5 Q878.7,269.6 877.9,265.1" fill="none" stroke="#f26c14" stroke-width="2.1" stroke-linecap="round"/><path d="M819.9,262.4 Q819.6,264.5 814.6,265.7" fill="none" stroke="#20c030" stroke-width="1.9" stroke-linecap="round"/><path d="M912.7,269.8 Q917.0,267.9 916.4,263.0" fill="none" stroke="#ea1d1d" stroke-width="1.4" stroke-linecap="round"/><path d="M861.4,270.9 Q865.1,270.3 866.5,268.8" fill="none" stroke="#22d022" stroke-width="1.3" stroke-linecap="round"/><path d="M919.4,278.3 Q917.9,275.2 919.4,271.1" fill="none" stroke="#ea1d1d" stroke-width="1.4" stroke-linecap="round"/><path d="M880.0,276.8 Q878.1,275.3 877.4,270.8" fill="none" stroke="#f4a224" stroke-width="2.0" stroke-linecap="round"/><path d="M869.2,266.3 Q866.2,263.9 865.1,260.4" fill="none" stroke="#20c030" stroke-width="2.0" stroke-linecap="round"/><path d="M809.0,265.1 Q811.6,265.0 812.5,265.4" fill="none" stroke="#ea1d1d" stroke-width="1.5" stroke-linecap="round"/><path d="M828.3,265.7 Q830.3,265.1 832.6,268.2" fill="none" stroke="#f4a224" stroke-width="1.3" stroke-linecap="round"/><path d="M850.8,268.6 Q849.4,267.8 844.9,270.9" fill="none" stroke="#22d022" stroke-width="1.6" stroke-linecap="round"/><path d="M936.4,269.0 Q934.5,270.1 934.6,272.2" fill="none" stroke="#ea1d1d" stroke-width="2.1" stroke-linecap="round"/><path d="M946.0,266.7 Q946.2,270.7 943.0,273.4" fill="none" stroke="#f26c14" stroke-width="1.6" stroke-linecap="round"/><path d="M827.6,264.3 Q825.9,263.9 821.9,261.8" fill="none" stroke="#ea1d1d" stroke-width="1.9" stroke-linecap="round"/><line x1="830.2" y1="269.8" x2="840.1" y2="263.9" stroke="#189c54" stroke-width="3.1" stroke-dasharray="2.2 1.4" opacity="0.8"/><path d="M830.2,271.6 L831.8,267.1 L833.5,269.6 L835.1,265.1 L836.8,267.6 L838.4,263.2 L840.0,265.6" fill="none" stroke="#1fc46a" stroke-width="1.7" stroke-linejoin="round" stroke-linecap="round"/><line x1="823.0" y1="258.1" x2="823.9" y2="267.3" stroke="#2159b3" stroke-width="4.1" stroke-dasharray="2.2 1.4" opacity="0.8"/><path d="M820.9,257.4 L825.2,260.7 L821.3,261.1 L825.6,264.3 L821.7,264.7 L825.9,268.0" fill="none" stroke="#2a70e0" stroke-width="1.7" stroke-linejoin="round" stroke-linecap="round"/><path d="M775.9,265.8 Q772.2,262.7 773.5,265.6 Q774.8,268.6 774.6,267.6 Q774.5,266.7 769.8,263.9 L765.2,261.0" fill="none" stroke="#25c6e8" stroke-width="0.9" stroke-linecap="round" opacity="1"/><line x1="816.6" y1="267.9" x2="823.4" y2="261.4" stroke="#18a68b" stroke-width="3.4" stroke-dasharray="2.2 1.4" opacity="0.8"/><path d="M817.0,269.7 L817.5,264.8 L819.8,267.1 L820.2,262.2 L822.5,264.5 L822.9,259.6" fill="none" stroke="#1fd0ae" stroke-width="1.7" stroke-linejoin="round" stroke-linecap="round"/><line x1="832.0" y1="258.8" x2="840.6" y2="263.0" stroke="#2159b3" stroke-width="4.1" stroke-dasharray="2.2 1.4" opacity="0.8"/><path d="M830.3,260.2 L835.4,258.3 L833.8,261.9 L838.8,260.0 L837.2,263.5 L842.2,261.7" fill="none" stroke="#2a70e0" stroke-width="1.7" stroke-linejoin="round" stroke-linecap="round"/><line x1="827.8" y1="256.3" x2="828.8" y2="267.5" stroke="#189c54" stroke-width="4.1" stroke-dasharray="2.2 1.4" opacity="0.8"/><path d="M825.8,255.6 L830.0,258.9 L826.1,259.4 L830.4,262.7 L826.4,263.1 L830.7,266.4 L826.8,266.8" fill="none" stroke="#1fc46a" stroke-width="1.7" stroke-linejoin="round" stroke-linecap="round"/><line x1="806.4" y1="253.2" x2="817.6" y2="258.3" stroke="#2086b9" stroke-width="4.2" stroke-dasharray="2.2 1.4" opacity="0.8"/><path d="M804.7,254.6 L809.9,252.6 L808.5,256.3 L813.6,254.3 L812.2,258.1 L817.4,256.0 L816.0,259.8" fill="none" stroke="#28a8e8" stroke-width="1.7" stroke-linejoin="round" stroke-linecap="round"/><line x1="776.8" y1="267.1" x2="784.7" y2="263.2" stroke="#1d9eb9" stroke-width="4.3" stroke-dasharray="2.2 1.4" opacity="0.8"/><path d="M776.9,269.4 L778.7,263.9 L780.9,267.4 L782.7,262.0 L784.8,265.5" fill="none" stroke="#25c6e8" stroke-width="1.7" stroke-linejoin="round" stroke-linecap="round"/><line x1="834.6" y1="258.9" x2="840.5" y2="265.3" stroke="#2159b3" stroke-width="3.4" stroke-dasharray="2.2 1.4" opacity="0.8"/><path d="M832.8,259.4 L837.9,260.1 L835.8,262.6 L840.9,263.2 L838.7,265.7" fill="none" stroke="#2a70e0" stroke-width="1.7" stroke-linejoin="round" stroke-linecap="round"/><line x1="802.1" y1="257.5" x2="811.2" y2="255.3" stroke="#2159b3" stroke-width="3.6" stroke-dasharray="2.2 1.4" opacity="0.8"/><path d="M801.6,259.4 L804.4,255.2 L805.3,258.6 L808.0,254.3 L808.9,257.7 L811.7,253.4" fill="none" stroke="#2a70e0" stroke-width="1.7" stroke-linejoin="round" stroke-linecap="round"/><path d="M821.2,264.0 Q824.8,266.9 823.6,263.3 Q822.4,259.6 822.3,262.6 Q822.2,265.7 822.3,266.1 L822.3,266.6" fill="none" stroke="#1fc46a" stroke-width="0.9" stroke-linecap="round" opacity="1"/><line x1="802.7" y1="252.6" x2="812.9" y2="257.3" stroke="#189c54" stroke-width="4.3" stroke-dasharray="2.2 1.4" opacity="0.8"/><path d="M801.0,254.1 L806.1,251.9 L804.4,255.7 L809.4,253.5 L807.8,257.2 L812.8,255.0 L811.2,258.8" fill="none" stroke="#1fc46a" stroke-width="1.7" stroke-linejoin="round" stroke-linecap="round"/><line x1="786.7" y1="261.1" x2="794.6" y2="254.4" stroke="#18a68b" stroke-width="3.6" stroke-dasharray="2.2 1.4" opacity="0.8"/><path d="M787.2,263.0 L787.9,257.9 L790.3,260.3 L791.0,255.2 L793.4,257.7 L794.2,252.6" fill="none" stroke="#1fd0ae" stroke-width="1.7" stroke-linejoin="round" stroke-linecap="round"/><line x1="835.2" y1="258.9" x2="846.0" y2="257.6" stroke="#1d9eb9" stroke-width="3.5" stroke-dasharray="2.2 1.4" opacity="0.8"/><path d="M834.5,260.7 L837.7,256.9 L838.1,260.3 L841.3,256.5 L841.7,259.8 L844.9,256.0 L845.3,259.4" fill="none" stroke="#25c6e8" stroke-width="1.7" stroke-linejoin="round" stroke-linecap="round"/><line x1="795.5" y1="256.5" x2="799.6" y2="264.6" stroke="#2086b9" stroke-width="3.2" stroke-dasharray="2.2 1.4" opacity="0.8"/><path d="M793.7,256.4 L798.1,258.2 L795.4,259.6 L799.7,261.4 L797.0,262.8 L801.4,264.7" fill="none" stroke="#28a8e8" stroke-width="1.7" stroke-linejoin="round" stroke-linecap="round"/><line x1="833.0" y1="258.5" x2="834.5" y2="267.1" stroke="#2086b9" stroke-width="3.1" stroke-dasharray="2.2 1.4" opacity="0.8"/><path d="M831.3,257.8 L835.0,261.2 L832.1,262.1 L835.7,265.5 L832.9,266.4" fill="none" stroke="#28a8e8" stroke-width="1.7" stroke-linejoin="round" stroke-linecap="round"/><line x1="802.1" y1="257.5" x2="806.0" y2="267.8" stroke="#18a68b" stroke-width="3.3" stroke-dasharray="2.2 1.4" opacity="0.8"/><path d="M800.3,257.2 L804.5,259.5 L801.6,260.6 L805.8,262.9 L802.9,264.0 L807.1,266.3 L804.2,267.5" fill="none" stroke="#1fd0ae" stroke-width="1.7" stroke-linejoin="round" stroke-linecap="round"/><line x1="828.5" y1="264.4" x2="837.1" y2="273.0" stroke="#2086b9" stroke-width="3.9" stroke-dasharray="2.2 1.4" opacity="0.8"/><path d="M826.5,265.0 L831.9,265.1 L829.4,267.9 L834.7,268.0 L832.2,270.8 L837.6,270.8 L835.1,273.6" fill="none" stroke="#28a8e8" stroke-width="1.7" stroke-linejoin="round" stroke-linecap="round"/><line x1="833.8" y1="258.2" x2="836.9" y2="270.2" stroke="#2159b3" stroke-width="3.2" stroke-dasharray="2.2 1.4" opacity="0.8"/><path d="M832.1,257.7 L836.0,260.7 L833.1,261.7 L837.0,264.7 L834.2,265.7 L838.1,268.7 L835.2,269.7" fill="none" stroke="#2a70e0" stroke-width="1.7" stroke-linejoin="round" stroke-linecap="round"/><line x1="827.1" y1="264.7" x2="834.1" y2="269.8" stroke="#1d9eb9" stroke-width="3.8" stroke-dasharray="2.2 1.4" opacity="0.8"/><path d="M825.3,265.7 L830.6,265.0 L828.8,268.2 L834.1,267.5 L832.3,270.7" fill="none" stroke="#25c6e8" stroke-width="1.7" stroke-linejoin="round" stroke-linecap="round"/><line x1="811.7" y1="260.5" x2="813.8" y2="269.1" stroke="#189c54" stroke-width="4.3" stroke-dasharray="2.2 1.4" opacity="0.8"/><path d="M809.5,260.1 L814.4,263.0 L810.5,264.4 L815.5,267.3 L811.6,268.7" fill="none" stroke="#1fc46a" stroke-width="1.7" stroke-linejoin="round" stroke-linecap="round"/><line x1="837.4" y1="259.5" x2="842.4" y2="265.0" stroke="#189c54" stroke-width="3.6" stroke-dasharray="2.2 1.4" opacity="0.8"/><path d="M835.5,259.9 L840.5,260.3 L838.0,262.7 L843.0,263.1 L840.5,265.5" fill="none" stroke="#1fc46a" stroke-width="1.7" stroke-linejoin="round" stroke-linecap="round"/><line x1="776.2" y1="249.2" x2="786.4" y2="255.3" stroke="#19a0a0" stroke-width="4.3" stroke-dasharray="2.2 1.4" opacity="0.8"/><path d="M774.4,250.6 L779.7,248.9 L777.8,252.6 L783.1,250.9 L781.2,254.6 L786.5,252.9 L784.6,256.6" fill="none" stroke="#20c8c8" stroke-width="1.8" stroke-linejoin="round" stroke-linecap="round"/><line x1="757.7" y1="236.9" x2="763.8" y2="243.1" stroke="#1d9eb9" stroke-width="3.5" stroke-dasharray="2.2 1.4" opacity="0.8"/><path d="M755.8,237.5 L761.0,237.9 L758.9,240.6 L764.1,241.0 L761.9,243.7" fill="none" stroke="#25c6e8" stroke-width="1.8" stroke-linejoin="round" stroke-linecap="round"/><line x1="765.8" y1="256.3" x2="777.6" y2="257.1" stroke="#19a0a0" stroke-width="3.2" stroke-dasharray="2.2 1.4" opacity="0.8"/><path d="M764.8,257.8 L768.8,255.0 L768.7,258.1 L772.7,255.2 L772.7,258.3 L776.7,255.5 L776.6,258.6" fill="none" stroke="#20c8c8" stroke-width="1.8" stroke-linejoin="round" stroke-linecap="round"/><path d="M768.0,247.3 Q778.2,247.5 776.5,250.4 Q774.7,253.3 771.0,250.2 Q767.3,247.1 770.2,248.8 L773.1,250.5" fill="none" stroke="#20c8c8" stroke-width="0.9" stroke-linecap="round" opacity="1"/><line x1="759.1" y1="246.7" x2="766.2" y2="252.5" stroke="#19a0a0" stroke-width="4.1" stroke-dasharray="2.2 1.4" opacity="0.8"/><path d="M757.2,247.7 L762.4,246.9 L760.0,250.0 L765.3,249.3 L762.8,252.3 L768.1,251.6" fill="none" stroke="#20c8c8" stroke-width="1.8" stroke-linejoin="round" stroke-linecap="round"/><path d="M764.5,243.8 Q763.4,251.1 763.2,251.0 Q763.0,250.9 760.5,250.9 Q757.9,250.8 760.9,248.6 L763.9,246.5" fill="none" stroke="#1fd0ae" stroke-width="0.9" stroke-linecap="round" opacity="1"/><path d="M783.1,257.4 Q780.7,252.6 779.2,252.1 Q777.8,251.5 779.3,255.9 Q780.7,260.2 779.0,255.3 L777.3,250.3" fill="none" stroke="#25c6e8" stroke-width="0.9" stroke-linecap="round" opacity="1"/><line x1="760.8" y1="237.9" x2="763.2" y2="248.7" stroke="#1d9eb9" stroke-width="3.7" stroke-dasharray="2.2 1.4" opacity="0.8"/><path d="M758.9,237.4 L763.1,240.2 L759.7,241.0 L763.9,243.8 L760.5,244.6 L764.7,247.4 L761.3,248.2" fill="none" stroke="#25c6e8" stroke-width="1.8" stroke-linejoin="round" stroke-linecap="round"/><line x1="783.9" y1="247.3" x2="786.2" y2="256.4" stroke="#18a68b" stroke-width="4.3" stroke-dasharray="2.2 1.4" opacity="0.8"/><path d="M781.7,246.9 L786.6,249.5 L782.6,250.6 L787.5,253.1 L783.5,254.2 L788.4,256.8" fill="none" stroke="#1fd0ae" stroke-width="1.8" stroke-linejoin="round" stroke-linecap="round"/><line x1="765.3" y1="256.7" x2="772.6" y2="254.8" stroke="#19a0a0" stroke-width="3.7" stroke-dasharray="2.2 1.4" opacity="0.8"/><path d="M764.9,258.7 L767.6,254.3 L768.6,257.7 L771.2,253.3 L772.2,256.8" fill="none" stroke="#20c8c8" stroke-width="1.8" stroke-linejoin="round" stroke-linecap="round"/><line x1="781.0" y1="274.0" x2="784.7" y2="281.1" stroke="#b92626" stroke-width="4.6" stroke-dasharray="2.2 1.4" opacity="0.8"/><path d="M778.6,274.2 L784.2,275.6 L780.5,277.8 L786.1,279.1 L782.3,281.3" fill="none" stroke="#e83030" stroke-width="1.8" stroke-linejoin="round" stroke-linecap="round"/><path d="M780.2,275.2 Q787.8,277.4 784.0,280.4 Q780.2,283.4 785.3,280.9 Q790.5,278.5 785.6,281.3 L780.6,284.1" fill="none" stroke="#e83030" stroke-width="0.9" stroke-linecap="round" opacity="1"/><line x1="787.2" y1="271.1" x2="797.1" y2="269.2" stroke="#b92626" stroke-width="4.1" stroke-dasharray="2.2 1.4" opacity="0.8"/><path d="M786.7,273.2 L789.7,268.7 L790.7,272.4 L793.7,267.9 L794.6,271.7 L797.6,267.1" fill="none" stroke="#e83030" stroke-width="1.8" stroke-linejoin="round" stroke-linecap="round"/><path d="M780.3,275.9 Q775.6,272.0 778.2,272.6 Q780.7,273.2 780.7,273.6 Q780.7,274.0 778.8,273.8 L777.0,273.5" fill="none" stroke="#ea1d1d" stroke-width="0.9" stroke-linecap="round" opacity="1"/><line x1="802.7" y1="270.2" x2="812.7" y2="275.6" stroke="#bb1717" stroke-width="3.8" stroke-dasharray="2.2 1.4" opacity="0.8"/><path d="M801.1,271.4 L806.0,269.9 L804.4,273.2 L809.4,271.7 L807.7,275.0 L812.7,273.5 L811.0,276.8" fill="none" stroke="#ea1d1d" stroke-width="1.8" stroke-linejoin="round" stroke-linecap="round"/><path d="M805.1,284.6 Q805.0,277.8 808.2,280.3 Q811.4,282.8 810.5,282.3 Q809.6,281.8 806.2,278.1 L802.8,274.4" fill="none" stroke="#e83030" stroke-width="0.9" stroke-linecap="round" opacity="1"/><line x1="774.0" y1="272.7" x2="778.8" y2="281.7" stroke="#b92626" stroke-width="3.4" stroke-dasharray="2.2 1.4" opacity="0.8"/><path d="M772.1,272.7 L776.8,274.6 L774.0,276.3 L778.7,278.1 L776.0,279.9 L780.7,281.7" fill="none" stroke="#e83030" stroke-width="1.8" stroke-linejoin="round" stroke-linecap="round"/><line x1="797.8" y1="269.7" x2="803.1" y2="275.4" stroke="#1d9eb9" stroke-width="3.9" stroke-dasharray="2.2 1.4" opacity="0.8"/><path d="M795.8,270.3 L801.1,270.5 L798.5,273.1 L803.7,273.3 L801.1,276.0" fill="none" stroke="#25c6e8" stroke-width="1.8" stroke-linejoin="round" stroke-linecap="round"/><line x1="809.9" y1="273.2" x2="814.1" y2="279.3" stroke="#bb1717" stroke-width="4.3" stroke-dasharray="2.2 1.4" opacity="0.8"/><path d="M807.7,273.7 L813.2,274.3 L809.8,276.7 L815.2,277.3 L811.9,279.7" fill="none" stroke="#ea1d1d" stroke-width="1.8" stroke-linejoin="round" stroke-linecap="round"/><line x1="784.9" y1="275.7" x2="795.1" y2="279.7" stroke="#bb1717" stroke-width="4.1" stroke-dasharray="2.2 1.4" opacity="0.8"/><path d="M783.3,277.2 L788.1,274.8 L786.7,278.5 L791.5,276.2 L790.1,279.8 L794.9,277.5 L793.5,281.2" fill="none" stroke="#ea1d1d" stroke-width="1.8" stroke-linejoin="round" stroke-linecap="round"/><path d="M833.8,245.0 Q831.0,241.0 831.0,239.9" fill="none" stroke="#0f6a40" stroke-width="1.4" stroke-linecap="round"/><path d="M839.9,259.1 Q838.8,253.0 836.2,252.1" fill="none" stroke="#20c8c8" stroke-width="1.9" stroke-linecap="round"/><path d="M789.0,229.7 Q789.3,225.6 794.9,224.4" fill="none" stroke="#2a48e0" stroke-width="2.0" stroke-linecap="round"/><path d="M791.1,244.2 Q791.7,241.4 797.8,243.3" fill="none" stroke="#1fb878" stroke-width="1.9" stroke-linecap="round"/><path d="M848.9,230.9 Q848.6,234.0 843.0,236.1" fill="none" stroke="#18a860" stroke-width="2.1" stroke-linecap="round"/><path d="M836.6,260.4 Q840.9,255.8 842.7,256.6" fill="none" stroke="#22d022" stroke-width="2.0" stroke-linecap="round"/><path d="M813.6,255.2 Q814.8,260.0 816.8,262.2" fill="none" stroke="#2a48e0" stroke-width="2.0" stroke-linecap="round"/><path d="M813.7,223.7 Q816.7,226.8 817.8,230.3" fill="none" stroke="#20c8c8" stroke-width="1.5" stroke-linecap="round"/><path d="M801.7,236.1 Q805.0,237.8 805.8,236.7" fill="none" stroke="#20c8c8" stroke-width="1.2" stroke-linecap="round"/><path d="M847.0,233.2 Q845.1,233.4 845.1,236.1" fill="none" stroke="#20c8c8" stroke-width="1.6" stroke-linecap="round"/><path d="M810.8,220.4 Q811.5,220.3 814.7,224.0" fill="none" stroke="#18a860" stroke-width="2.1" stroke-linecap="round"/><path d="M814.6,263.6 Q810.6,258.2 811.7,256.4" fill="none" stroke="#2a48e0" stroke-width="2.0" stroke-linecap="round"/><path d="M853.9,255.9 Q853.5,256.9 850.6,257.4" fill="none" stroke="#22d022" stroke-width="1.9" stroke-linecap="round"/><path d="M840.9,254.6 Q839.3,257.4 841.0,258.9" fill="none" stroke="#18a860" stroke-width="1.8" stroke-linecap="round"/><path d="M831.5,253.0 Q830.1,249.8 831.3,249.3" fill="none" stroke="#ffffff" stroke-width="1.5" stroke-linecap="round"/><path d="M820.5,265.4 Q820.6,262.3 818.8,261.4" fill="none" stroke="#1fb878" stroke-width="1.5" stroke-linecap="round"/><path d="M811.6,246.9 Q815.9,252.7 815.3,253.9" fill="none" stroke="#0f6a40" stroke-width="1.5" stroke-linecap="round"/><path d="M848.6,237.5 Q851.7,233.5 852.9,232.0" fill="none" stroke="#1fc46a" stroke-width="2.0" stroke-linecap="round"/><path d="M845.2,251.2 Q842.8,253.1 843.6,255.2" fill="none" stroke="#1fc46a" stroke-width="1.6" stroke-linecap="round"/><path d="M834.4,246.1 Q833.3,248.7 834.9,249.4" fill="none" stroke="#22d022" stroke-width="2.1" stroke-linecap="round"/><path d="M810.2,241.1 Q812.2,242.7 812.4,245.4" fill="none" stroke="#22d022" stroke-width="1.7" stroke-linecap="round"/><path d="M793.1,229.8 Q793.3,228.6 794.4,225.6" fill="none" stroke="#18a860" stroke-width="1.8" stroke-linecap="round"/><path d="M850.8,260.4 Q853.3,258.0 853.3,257.1" fill="none" stroke="#1fc46a" stroke-width="1.3" stroke-linecap="round"/><path d="M833.8,257.9 Q833.7,258.5 834.1,261.0" fill="none" stroke="#0f6a40" stroke-width="1.8" stroke-linecap="round"/><path d="M826.8,238.4 Q825.5,238.3 819.2,239.1" fill="none" stroke="#1fc46a" stroke-width="1.3" stroke-linecap="round"/><path d="M793.4,231.4 Q790.0,229.5 785.8,232.9" fill="none" stroke="#18a860" stroke-width="1.7" stroke-linecap="round"/><path d="M796.0,244.7 Q799.1,242.0 803.6,244.7" fill="none" stroke="#ffffff" stroke-width="1.7" stroke-linecap="round"/><path d="M803.1,227.3 Q803.0,225.0 805.7,224.2" fill="none" stroke="#0f6a40" stroke-width="2.0" stroke-linecap="round"/><path d="M793.1,253.5 Q791.3,253.1 790.8,251.0" fill="none" stroke="#1fb878" stroke-width="1.3" stroke-linecap="round"/><path d="M860.8,246.2 Q861.8,247.6 862.1,249.0" fill="none" stroke="#1fc46a" stroke-width="1.8" stroke-linecap="round"/><path d="M834.0,258.1 Q832.7,256.2 832.1,254.9" fill="none" stroke="#20c8c8" stroke-width="1.9" stroke-linecap="round"/><path d="M850.5,242.3 Q851.3,241.5 853.7,240.1" fill="none" stroke="#1fb878" stroke-width="1.6" stroke-linecap="round"/><path d="M848.5,238.1 Q850.9,236.5 855.6,237.0" fill="none" stroke="#18a860" stroke-width="2.1" stroke-linecap="round"/><path d="M810.3,249.4 Q812.5,249.6 818.0,250.0" fill="none" stroke="#0f6a40" stroke-width="1.9" stroke-linecap="round"/><path d="M796.8,255.0 Q796.9,258.7 798.7,260.0" fill="none" stroke="#2a48e0" stroke-width="1.4" stroke-linecap="round"/><path d="M862.6,239.1 Q861.3,238.6 858.7,241.7" fill="none" stroke="#20c8c8" stroke-width="2.0" stroke-linecap="round"/><path d="M798.2,251.9 Q800.8,254.6 802.2,257.7" fill="none" stroke="#ffffff" stroke-width="1.3" stroke-linecap="round"/><path d="M802.9,224.0 Q803.7,223.6 806.6,223.1" fill="none" stroke="#20c8c8" stroke-width="2.1" stroke-linecap="round"/><path d="M798.5,242.3 Q797.7,243.7 793.7,243.8" fill="none" stroke="#22d022" stroke-width="2.2" stroke-linecap="round"/><path d="M803.4,258.8 Q803.1,258.7 800.6,260.6" fill="none" stroke="#1fc46a" stroke-width="2.1" stroke-linecap="round"/><path d="M786.6,247.6 Q786.2,248.9 788.3,250.9" fill="none" stroke="#2a48e0" stroke-width="2.0" stroke-linecap="round"/><path d="M833.5,243.9 Q835.6,245.6 836.6,246.7" fill="none" stroke="#20c8c8" stroke-width="2.1" stroke-linecap="round"/><path d="M831.3,231.9 Q829.6,229.4 829.8,227.9" fill="none" stroke="#2a48e0" stroke-width="1.9" stroke-linecap="round"/><path d="M789.6,250.6 Q788.5,250.0 785.8,246.9" fill="none" stroke="#1fc46a" stroke-width="1.6" stroke-linecap="round"/><path d="M805.1,253.6 Q808.5,251.5 812.3,251.6" fill="none" stroke="#18a860" stroke-width="2.2" stroke-linecap="round"/><path d="M824.7,236.7 Q826.3,240.3 829.2,241.7" fill="none" stroke="#ffffff" stroke-width="1.9" stroke-linecap="round"/><path d="M846.1,227.7 Q845.7,228.2 846.8,231.8" fill="none" stroke="#22d022" stroke-width="2.1" stroke-linecap="round"/><path d="M833.9,250.2 Q830.6,250.8 828.7,251.2" fill="none" stroke="#20c8c8" stroke-width="1.9" stroke-linecap="round"/><path d="M821.5,228.0 Q820.4,227.3 818.5,228.3" fill="none" stroke="#20c8c8" stroke-width="1.3" stroke-linecap="round"/><path d="M836.4,236.0 Q833.7,235.7 832.6,234.8" fill="none" stroke="#18a860" stroke-width="1.6" stroke-linecap="round"/><path d="M849.0,252.0 Q849.7,253.8 850.7,254.8" fill="none" stroke="#1fc46a" stroke-width="1.4" stroke-linecap="round"/><path d="M784.7,241.3 Q782.9,237.4 784.0,237.0" fill="none" stroke="#22d022" stroke-width="1.3" stroke-linecap="round"/><path d="M803.4,222.6 Q806.8,224.4 806.8,229.3" fill="none" stroke="#1fc46a" stroke-width="1.3" stroke-linecap="round"/><path d="M798.4,232.2 Q795.9,231.8 793.9,231.6" fill="none" stroke="#2a48e0" stroke-width="1.5" stroke-linecap="round"/><path d="M858.5,235.8 Q857.1,238.7 858.1,239.1" fill="none" stroke="#22d022" stroke-width="2.0" stroke-linecap="round"/><path d="M844.1,238.5 Q843.4,238.8 840.1,238.8" fill="none" stroke="#1fc46a" stroke-width="2.0" stroke-linecap="round"/><path d="M850.8,241.9 Q849.9,242.4 849.9,244.9" fill="none" stroke="#0f6a40" stroke-width="1.3" stroke-linecap="round"/><path d="M832.6,233.9 Q833.4,229.0 830.8,227.1" fill="none" stroke="#1fb878" stroke-width="2.0" stroke-linecap="round"/><path d="M817.3,239.6 Q819.4,242.0 825.0,240.2" fill="none" stroke="#0f6a40" stroke-width="1.4" stroke-linecap="round"/><path d="M807.6,237.7 Q801.9,238.2 801.1,236.3" fill="none" stroke="#18a860" stroke-width="1.7" stroke-linecap="round"/><path d="M800.7,248.7 Q797.8,250.8 796.9,249.8" fill="none" stroke="#2a48e0" stroke-width="1.3" stroke-linecap="round"/><path d="M790.3,233.7 Q789.5,237.6 786.8,239.3" fill="none" stroke="#2a48e0" stroke-width="1.6" stroke-linecap="round"/><path d="M825.6,237.1 Q825.2,234.2 826.4,232.6" fill="none" stroke="#18a860" stroke-width="1.4" stroke-linecap="round"/><path d="M819.8,227.5 Q821.9,228.8 823.8,231.3" fill="none" stroke="#0f6a40" stroke-width="1.7" stroke-linecap="round"/><path d="M845.0,227.9 Q847.2,227.9 849.5,230.0" fill="none" stroke="#18a860" stroke-width="1.6" stroke-linecap="round"/><path d="M818.6,251.8 Q816.5,250.0 811.9,250.3" fill="none" stroke="#1fc46a" stroke-width="1.3" stroke-linecap="round"/><path d="M818.9,246.9 Q819.9,249.5 818.4,250.0" fill="none" stroke="#22d022" stroke-width="1.3" stroke-linecap="round"/><path d="M842.4,227.8 Q841.4,223.9 838.4,221.8" fill="none" stroke="#1fb878" stroke-width="1.3" stroke-linecap="round"/><path d="M837.5,256.2 Q838.4,255.0 837.2,253.0" fill="none" stroke="#1fb878" stroke-width="1.9" stroke-linecap="round"/><path d="M808.5,256.4 Q805.4,254.4 804.5,253.3" fill="none" stroke="#ffffff" stroke-width="1.9" stroke-linecap="round"/><path d="M812.5,257.8 Q807.8,260.6 806.9,259.3" fill="none" stroke="#ffffff" stroke-width="1.7" stroke-linecap="round"/><path d="M859.2,250.0 Q859.4,253.6 857.9,255.2" fill="none" stroke="#22d022" stroke-width="1.9" stroke-linecap="round"/><path d="M854.1,249.3 Q857.3,245.1 857.8,245.2" fill="none" stroke="#0f6a40" stroke-width="2.0" stroke-linecap="round"/><path d="M833.7,239.7 Q834.3,237.1 832.8,232.6" fill="none" stroke="#1fc46a" stroke-width="2.0" stroke-linecap="round"/><path d="M847.9,250.1 Q851.9,252.5 854.7,250.5" fill="none" stroke="#20c8c8" stroke-width="1.4" stroke-linecap="round"/><path d="M804.1,258.3 Q806.7,257.2 808.4,256.9" fill="none" stroke="#2a48e0" stroke-width="1.3" stroke-linecap="round"/><path d="M801.5,256.2 Q800.8,259.1 796.3,259.5" fill="none" stroke="#18a860" stroke-width="2.0" stroke-linecap="round"/><path d="M835.7,226.3 Q836.1,224.5 838.6,223.9" fill="none" stroke="#20c8c8" stroke-width="1.6" stroke-linecap="round"/><path d="M854.4,231.4 Q853.4,230.2 849.9,230.2" fill="none" stroke="#22d022" stroke-width="2.0" stroke-linecap="round"/><path d="M832.6,250.5 Q836.4,251.4 839.6,252.7" fill="none" stroke="#20c8c8" stroke-width="1.7" stroke-linecap="round"/><path d="M888.1,258.4 Q889.1,253.2 891.6,252.7" fill="none" stroke="#22d022" stroke-width="1.5" stroke-linecap="round"/><path d="M845.9,248.9 Q846.3,252.7 847.5,253.9" fill="none" stroke="#18b028" stroke-width="1.5" stroke-linecap="round"/><path d="M911.7,262.9 Q909.4,262.4 904.3,264.3" fill="none" stroke="#28d848" stroke-width="1.8" stroke-linecap="round"/><path d="M850.1,247.5 Q851.4,244.7 852.8,242.6" fill="none" stroke="#107a18" stroke-width="1.4" stroke-linecap="round"/><path d="M860.1,245.5 Q864.7,244.9 865.7,242.7" fill="none" stroke="#ffffff" stroke-width="1.2" stroke-linecap="round"/><path d="M905.7,245.4 Q903.5,243.0 904.7,240.4" fill="none" stroke="#ffffff" stroke-width="2.0" stroke-linecap="round"/><path d="M880.5,235.0 Q878.8,233.6 880.2,228.0" fill="none" stroke="#107a18" stroke-width="1.6" stroke-linecap="round"/><path d="M879.3,253.9 Q880.5,252.5 882.9,252.2" fill="none" stroke="#107a18" stroke-width="2.2" stroke-linecap="round"/><path d="M889.4,255.7 Q893.7,255.3 896.7,256.2" fill="none" stroke="#ffffff" stroke-width="2.1" stroke-linecap="round"/><path d="M907.7,261.1 Q907.8,261.0 912.1,264.9" fill="none" stroke="#ffffff" stroke-width="1.2" stroke-linecap="round"/><path d="M890.6,264.8 Q893.8,265.2 896.9,260.2" fill="none" stroke="#ffffff" stroke-width="1.4" stroke-linecap="round"/><path d="M855.4,238.6 Q857.8,239.3 859.0,239.3" fill="none" stroke="#20c030" stroke-width="1.6" stroke-linecap="round"/><path d="M895.3,242.9 Q896.2,244.3 897.8,244.6" fill="none" stroke="#107a18" stroke-width="2.0" stroke-linecap="round"/><path d="M899.3,235.5 Q899.2,234.9 901.2,231.8" fill="none" stroke="#ffffff" stroke-width="1.9" stroke-linecap="round"/><path d="M854.1,240.7 Q853.5,239.4 850.7,238.5" fill="none" stroke="#ffffff" stroke-width="1.3" stroke-linecap="round"/><path d="M942.5,245.9 Q944.7,247.2 945.3,247.6" fill="none" stroke="#20c030" stroke-width="1.5" stroke-linecap="round"/><path d="M862.5,230.1 Q861.0,231.4 857.7,228.7" fill="none" stroke="#20c030" stroke-width="1.4" stroke-linecap="round"/><path d="M885.3,247.5 Q883.8,248.1 884.1,251.1" fill="none" stroke="#20c030" stroke-width="1.8" stroke-linecap="round"/><path d="M857.8,230.7 Q856.2,233.0 851.5,234.2" fill="none" stroke="#18b028" stroke-width="2.1" stroke-linecap="round"/><path d="M894.6,232.5 Q892.0,230.2 891.5,230.5" fill="none" stroke="#107a18" stroke-width="1.6" stroke-linecap="round"/><path d="M922.3,243.5 Q922.1,239.8 920.3,236.6" fill="none" stroke="#ffffff" stroke-width="1.7" stroke-linecap="round"/><path d="M893.2,248.3 Q894.7,245.8 891.7,242.1" fill="none" stroke="#20c030" stroke-width="1.8" stroke-linecap="round"/><path d="M910.2,257.4 Q911.5,257.9 913.7,256.3" fill="none" stroke="#28d848" stroke-width="1.8" stroke-linecap="round"/><path d="M912.3,240.7 Q914.6,238.2 917.7,238.7" fill="none" stroke="#22d022" stroke-width="1.3" stroke-linecap="round"/><path d="M908.6,258.8 Q906.7,257.9 904.5,260.3" fill="none" stroke="#ffffff" stroke-width="1.7" stroke-linecap="round"/><path d="M943.8,254.9 Q941.1,255.6 939.2,255.6" fill="none" stroke="#28d848" stroke-width="1.2" stroke-linecap="round"/><path d="M924.8,253.3 Q927.3,253.6 932.2,253.9" fill="none" stroke="#107a18" stroke-width="1.6" stroke-linecap="round"/><path d="M923.1,229.6 Q922.1,230.3 921.6,233.4" fill="none" stroke="#107a18" stroke-width="2.1" stroke-linecap="round"/><path d="M898.5,268.1 Q899.8,264.9 899.0,264.4" fill="none" stroke="#18b028" stroke-width="2.1" stroke-linecap="round"/><path d="M881.7,228.5 Q884.6,228.7 886.4,223.6" fill="none" stroke="#22d022" stroke-width="1.3" stroke-linecap="round"/><path d="M874.1,249.6 Q873.7,250.6 876.7,254.2" fill="none" stroke="#28d848" stroke-width="1.9" stroke-linecap="round"/><path d="M944.4,243.7 Q946.5,242.4 949.6,243.1" fill="none" stroke="#20c030" stroke-width="1.7" stroke-linecap="round"/><path d="M939.1,263.9 Q936.6,262.3 934.7,259.4" fill="none" stroke="#22d022" stroke-width="2.0" stroke-linecap="round"/><path d="M896.1,262.1 Q896.7,262.9 901.3,262.5" fill="none" stroke="#107a18" stroke-width="1.6" stroke-linecap="round"/><path d="M939.0,250.1 Q939.9,252.2 941.4,253.2" fill="none" stroke="#22d022" stroke-width="1.7" stroke-linecap="round"/><path d="M937.2,259.3 Q939.8,259.1 943.9,256.5" fill="none" stroke="#20c030" stroke-width="1.8" stroke-linecap="round"/><path d="M916.6,244.2 Q923.0,243.9 924.1,242.2" fill="none" stroke="#28d848" stroke-width="2.1" stroke-linecap="round"/><path d="M863.8,250.4 Q862.9,249.0 861.6,248.4" fill="none" stroke="#107a18" stroke-width="2.0" stroke-linecap="round"/><path d="M866.5,244.5 Q868.5,246.3 870.5,250.6" fill="none" stroke="#22d022" stroke-width="1.7" stroke-linecap="round"/><path d="M890.6,224.9 Q888.7,226.7 886.8,227.2" fill="none" stroke="#22d022" stroke-width="1.3" stroke-linecap="round"/><path d="M927.2,228.5 Q927.9,230.1 926.6,232.0" fill="none" stroke="#107a18" stroke-width="2.0" stroke-linecap="round"/><path d="M850.4,237.6 Q850.2,238.2 848.2,239.9" fill="none" stroke="#22d022" stroke-width="1.9" stroke-linecap="round"/><path d="M867.8,239.1 Q874.2,236.7 874.5,235.3" fill="none" stroke="#ffffff" stroke-width="1.9" stroke-linecap="round"/><path d="M913.4,238.5 Q912.7,237.4 910.6,234.9" fill="none" stroke="#22d022" stroke-width="1.2" stroke-linecap="round"/><path d="M931.5,259.0 Q932.4,263.0 929.8,264.8" fill="none" stroke="#20c030" stroke-width="1.6" stroke-linecap="round"/><path d="M870.1,242.4 Q867.6,243.7 867.2,243.5" fill="none" stroke="#22d022" stroke-width="1.4" stroke-linecap="round"/><path d="M902.6,261.4 Q905.8,262.8 906.5,263.5" fill="none" stroke="#20c030" stroke-width="1.8" stroke-linecap="round"/><path d="M921.6,255.7 Q921.5,255.2 923.8,252.0" fill="none" stroke="#20c030" stroke-width="1.7" stroke-linecap="round"/><path d="M925.5,237.9 Q928.6,237.2 929.0,235.7" fill="none" stroke="#22d022" stroke-width="1.8" stroke-linecap="round"/><path d="M898.9,260.3 Q898.4,261.7 895.6,261.5" fill="none" stroke="#107a18" stroke-width="1.3" stroke-linecap="round"/><path d="M884.5,250.2 Q880.3,249.5 878.8,250.9" fill="none" stroke="#ffffff" stroke-width="1.9" stroke-linecap="round"/><path d="M900.4,239.8 Q901.2,241.3 902.2,243.0" fill="none" stroke="#28d848" stroke-width="1.8" stroke-linecap="round"/><path d="M848.8,241.4 Q850.5,239.5 853.3,240.7" fill="none" stroke="#18b028" stroke-width="2.2" stroke-linecap="round"/><path d="M904.4,264.4 Q901.4,264.1 900.1,268.1" fill="none" stroke="#20c030" stroke-width="1.7" stroke-linecap="round"/><path d="M947.6,244.9 Q947.6,248.5 942.9,249.9" fill="none" stroke="#18b028" stroke-width="2.1" stroke-linecap="round"/><path d="M907.5,250.6 Q908.8,248.7 911.6,245.8" fill="none" stroke="#28d848" stroke-width="1.5" stroke-linecap="round"/><path d="M919.4,257.5 Q916.0,254.4 915.0,254.9" fill="none" stroke="#ffffff" stroke-width="1.7" stroke-linecap="round"/><path d="M909.3,256.5 Q914.0,256.1 916.4,252.9" fill="none" stroke="#22d022" stroke-width="1.5" stroke-linecap="round"/><path d="M870.4,262.8 Q868.8,261.2 868.5,257.6" fill="none" stroke="#ffffff" stroke-width="2.0" stroke-linecap="round"/><path d="M855.5,254.2 Q857.2,258.8 861.7,258.8" fill="none" stroke="#ffffff" stroke-width="2.2" stroke-linecap="round"/><path d="M913.0,241.7 Q914.8,242.1 916.2,241.5" fill="none" stroke="#18b028" stroke-width="1.3" stroke-linecap="round"/><path d="M921.4,235.4 Q923.5,239.0 924.3,239.2" fill="none" stroke="#22d022" stroke-width="2.2" stroke-linecap="round"/><path d="M906.2,250.1 Q908.2,252.2 909.7,255.7" fill="none" stroke="#28d848" stroke-width="1.5" stroke-linecap="round"/><path d="M855.3,224.2 Q858.5,225.0 858.8,229.0" fill="none" stroke="#ffffff" stroke-width="1.8" stroke-linecap="round"/><path d="M854.0,240.2 Q852.0,239.6 847.5,241.7" fill="none" stroke="#20c030" stroke-width="1.4" stroke-linecap="round"/><path d="M923.2,238.0 Q922.8,236.1 925.1,234.3" fill="none" stroke="#18b028" stroke-width="1.6" stroke-linecap="round"/><path d="M890.2,225.3 Q891.3,227.8 898.1,224.1" fill="none" stroke="#20c030" stroke-width="2.1" stroke-linecap="round"/><path d="M906.1,231.3 Q907.2,230.9 909.2,232.7" fill="none" stroke="#107a18" stroke-width="1.3" stroke-linecap="round"/><path d="M924.0,231.3 Q925.3,227.4 925.0,226.2" fill="none" stroke="#18b028" stroke-width="1.5" stroke-linecap="round"/><path d="M940.9,257.1 Q937.7,256.8 937.4,258.8" fill="none" stroke="#107a18" stroke-width="1.8" stroke-linecap="round"/><path d="M854.3,246.2 Q856.2,245.4 859.5,248.2" fill="none" stroke="#107a18" stroke-width="1.9" stroke-linecap="round"/><path d="M861.3,235.8 Q860.8,237.7 861.8,239.9" fill="none" stroke="#20c030" stroke-width="2.1" stroke-linecap="round"/><path d="M882.3,229.1 Q887.6,230.0 887.8,232.5" fill="none" stroke="#28d848" stroke-width="1.9" stroke-linecap="round"/><path d="M881.3,221.3 Q875.7,220.7 875.0,224.9" fill="none" stroke="#22d022" stroke-width="1.7" stroke-linecap="round"/><path d="M853.1,241.1 Q851.7,241.3 849.2,241.4" fill="none" stroke="#18b028" stroke-width="1.5" stroke-linecap="round"/><path d="M895.3,228.8 Q894.0,229.6 891.7,229.2" fill="none" stroke="#ffffff" stroke-width="2.2" stroke-linecap="round"/><path d="M917.5,261.4 Q918.8,259.1 918.4,258.2" fill="none" stroke="#20c030" stroke-width="1.8" stroke-linecap="round"/><path d="M920.8,242.8 Q920.8,239.6 919.2,238.2" fill="none" stroke="#18b028" stroke-width="1.6" stroke-linecap="round"/><path d="M919.6,264.6 Q919.5,263.8 917.1,261.7" fill="none" stroke="#22d022" stroke-width="2.0" stroke-linecap="round"/><path d="M849.2,225.8 Q848.9,227.7 853.5,231.9" fill="none" stroke="#ffffff" stroke-width="1.5" stroke-linecap="round"/><path d="M936.7,263.7 Q940.9,262.1 940.7,259.2" fill="none" stroke="#ffffff" stroke-width="1.7" stroke-linecap="round"/><path d="M875.7,232.0 Q875.0,230.4 875.2,228.4" fill="none" stroke="#20c030" stroke-width="1.8" stroke-linecap="round"/><path d="M911.4,229.9 Q914.3,228.4 916.5,230.6" fill="none" stroke="#28d848" stroke-width="1.5" stroke-linecap="round"/><path d="M923.3,259.3 Q922.7,258.4 924.4,253.8" fill="none" stroke="#ffffff" stroke-width="1.7" stroke-linecap="round"/><path d="M899.9,237.7 Q900.0,235.9 901.4,235.0" fill="none" stroke="#107a18" stroke-width="1.4" stroke-linecap="round"/><path d="M891.1,236.1 Q891.3,239.2 889.5,240.6" fill="none" stroke="#20c030" stroke-width="2.0" stroke-linecap="round"/><path d="M948.4,248.8 Q947.8,245.0 948.0,244.5" fill="none" stroke="#ffffff" stroke-width="1.3" stroke-linecap="round"/><path d="M878.8,223.8 Q882.3,225.3 884.3,222.5" fill="none" stroke="#20c030" stroke-width="1.5" stroke-linecap="round"/><path d="M891.3,256.3 Q889.9,253.4 891.0,252.4" fill="none" stroke="#18b028" stroke-width="1.2" stroke-linecap="round"/><path d="M858.6,232.5 Q853.9,232.3 851.8,236.3" fill="none" stroke="#20c030" stroke-width="2.2" stroke-linecap="round"/><path d="M862.4,223.2 Q863.8,225.9 860.9,230.7" fill="none" stroke="#20c030" stroke-width="2.1" stroke-linecap="round"/><path d="M887.9,233.2 Q886.7,232.4 888.6,228.4" fill="none" stroke="#18b028" stroke-width="1.7" stroke-linecap="round"/><path d="M947.4,241.8 Q950.1,242.8 950.1,248.1" fill="none" stroke="#28d848" stroke-width="1.5" stroke-linecap="round"/><path d="M913.6,250.7 Q914.6,252.5 914.8,253.6" fill="none" stroke="#28d848" stroke-width="1.3" stroke-linecap="round"/><path d="M916.3,259.6 Q917.6,263.9 916.6,265.0" fill="none" stroke="#22d022" stroke-width="1.2" stroke-linecap="round"/><path d="M877.5,251.3 Q873.6,248.4 873.1,248.0" fill="none" stroke="#28d848" stroke-width="2.2" stroke-linecap="round"/><path d="M868.4,233.2 Q865.5,234.2 863.3,236.9" fill="none" stroke="#20c030" stroke-width="1.6" stroke-linecap="round"/><path d="M929.5,240.5 Q932.0,235.9 930.3,235.2" fill="none" stroke="#18b028" stroke-width="1.7" stroke-linecap="round"/><path d="M909.3,233.3 Q909.0,230.3 904.9,230.2" fill="none" stroke="#22d022" stroke-width="2.2" stroke-linecap="round"/><path d="M919.0,259.7 Q921.3,260.5 925.8,257.0" fill="none" stroke="#107a18" stroke-width="1.2" stroke-linecap="round"/><path d="M738.9,264.8 Q737.4,264.7 734.5,264.5" fill="none" stroke="#2ab4e8" stroke-width="1.3" stroke-linecap="round"/><path d="M748.4,255.8 Q746.4,258.0 747.0,261.3" fill="none" stroke="#20d0e0" stroke-width="1.8" stroke-linecap="round"/><path d="M748.5,266.0 Q749.8,264.7 748.9,260.0" fill="none" stroke="#20d0e0" stroke-width="1.9" stroke-linecap="round"/><path d="M748.5,260.8 Q745.9,263.5 745.1,267.2" fill="none" stroke="#20d0e0" stroke-width="1.4" stroke-linecap="round"/><path d="M727.5,263.4 Q725.0,265.7 724.7,266.7" fill="none" stroke="#2ab4e8" stroke-width="2.0" stroke-linecap="round"/><path d="M733.4,272.0 Q736.9,273.0 737.4,272.7" fill="none" stroke="#25c6e8" stroke-width="1.7" stroke-linecap="round"/><path d="M742.6,257.2 Q745.0,258.8 745.5,262.7" fill="none" stroke="#2ab4e8" stroke-width="1.9" stroke-linecap="round"/><path d="M757.5,277.0 Q759.1,276.2 760.5,273.8" fill="none" stroke="#25c6e8" stroke-width="1.3" stroke-linecap="round"/><path d="M734.7,271.0 Q733.2,270.5 728.9,269.3" fill="none" stroke="#2ab4e8" stroke-width="1.9" stroke-linecap="round"/><path d="M756.7,263.9 Q759.2,266.7 761.8,269.0" fill="none" stroke="#2ab4e8" stroke-width="2.0" stroke-linecap="round"/><path d="M756.3,260.9 Q756.2,261.1 753.9,258.9" fill="none" stroke="#2ab4e8" stroke-width="1.5" stroke-linecap="round"/><path d="M764.7,266.6 Q763.9,265.9 767.4,261.6" fill="none" stroke="#ffffff" stroke-width="1.3" stroke-linecap="round"/><path d="M763.2,268.9 Q762.8,271.3 763.5,272.8" fill="none" stroke="#25c6e8" stroke-width="1.3" stroke-linecap="round"/><path d="M731.0,276.4 Q731.9,277.9 737.6,277.3" fill="none" stroke="#20d0e0" stroke-width="1.5" stroke-linecap="round"/><path d="M758.9,256.7 Q760.6,263.4 761.1,264.2" fill="none" stroke="#25c6e8" stroke-width="2.0" stroke-linecap="round"/><path d="M755.9,261.9 Q759.4,264.7 762.3,266.0" fill="none" stroke="#2ab4e8" stroke-width="1.6" stroke-linecap="round"/><path d="M745.9,268.8 Q749.7,263.8 748.4,262.0" fill="none" stroke="#20d0e0" stroke-width="1.9" stroke-linecap="round"/><path d="M765.6,268.1 Q763.7,264.6 764.0,263.4" fill="none" stroke="#20d0e0" stroke-width="1.7" stroke-linecap="round"/><path d="M737.6,268.1 Q736.8,266.9 732.7,263.3" fill="none" stroke="#ffffff" stroke-width="1.4" stroke-linecap="round"/><path d="M735.2,274.1 Q733.9,270.6 732.4,269.9" fill="none" stroke="#2ab4e8" stroke-width="1.7" stroke-linecap="round"/><path d="M741.8,272.3 Q742.1,277.0 743.9,278.5" fill="none" stroke="#25c6e8" stroke-width="1.5" stroke-linecap="round"/><path d="M737.8,253.6 Q738.8,255.6 736.6,259.4" fill="none" stroke="#25c6e8" stroke-width="2.1" stroke-linecap="round"/><path d="M729.0,270.8 Q731.1,274.8 732.7,275.2" fill="none" stroke="#2ab4e8" stroke-width="1.5" stroke-linecap="round"/><path d="M765.3,283.0 Q763.4,280.8 762.2,276.6" fill="none" stroke="#ffffff" stroke-width="1.4" stroke-linecap="round"/><path d="M722.9,260.9 Q720.2,261.9 719.2,260.7" fill="none" stroke="#ffffff" stroke-width="1.5" stroke-linecap="round"/><path d="M718.3,270.3 Q719.6,267.7 720.3,267.0" fill="none" stroke="#ffffff" stroke-width="2.0" stroke-linecap="round"/><path d="M761.3,273.6 Q760.2,272.5 757.3,272.6" fill="none" stroke="#2ab4e8" stroke-width="2.1" stroke-linecap="round"/><path d="M722.8,257.9 Q728.3,258.1 728.4,262.2" fill="none" stroke="#20d0e0" stroke-width="1.4" stroke-linecap="round"/><path d="M742.8,272.4 Q747.8,272.0 748.6,276.7" fill="none" stroke="#2ab4e8" stroke-width="1.4" stroke-linecap="round"/><path d="M728.0,271.5 Q726.3,274.7 727.7,275.4" fill="none" stroke="#2ab4e8" stroke-width="1.6" stroke-linecap="round"/><path d="M758.2,275.9 Q758.1,276.7 761.3,278.6" fill="none" stroke="#25c6e8" stroke-width="1.7" stroke-linecap="round"/><path d="M745.6,253.4 Q745.3,255.3 746.4,258.1" fill="none" stroke="#ffffff" stroke-width="1.4" stroke-linecap="round"/><path d="M737.3,273.1 Q739.5,270.5 739.7,266.8" fill="none" stroke="#ffffff" stroke-width="1.5" stroke-linecap="round"/><path d="M762.4,264.0 Q765.9,266.0 766.3,265.3" fill="none" stroke="#25c6e8" stroke-width="1.3" stroke-linecap="round"/><path d="M732.7,276.3 Q734.6,276.4 735.8,275.8" fill="none" stroke="#2ab4e8" stroke-width="1.7" stroke-linecap="round"/><path d="M724.2,261.5 Q721.9,259.1 722.7,255.1" fill="none" stroke="#25c6e8" stroke-width="1.9" stroke-linecap="round"/><path d="M760.4,234.8 Q758.2,235.7 757.7,240.1" fill="none" stroke="#28d8c0" stroke-width="1.3" stroke-linecap="round"/><path d="M793.9,224.2 Q795.2,227.0 795.7,227.1" fill="none" stroke="#20c8a0" stroke-width="1.2" stroke-linecap="round"/><path d="M786.8,217.7 Q787.9,219.6 789.0,222.2" fill="none" stroke="#1fd0ae" stroke-width="1.3" stroke-linecap="round"/><path d="M780.0,227.9 Q779.5,228.2 776.7,229.1" fill="none" stroke="#1fd0ae" stroke-width="1.5" stroke-linecap="round"/><path d="M792.9,230.2 Q789.1,230.2 787.6,234.4" fill="none" stroke="#1fd0ae" stroke-width="1.9" stroke-linecap="round"/><path d="M773.7,241.1 Q775.5,242.5 776.5,245.1" fill="none" stroke="#28d8c0" stroke-width="1.7" stroke-linecap="round"/><path d="M780.5,241.0 Q782.4,239.5 783.9,238.5" fill="none" stroke="#1fd0ae" stroke-width="1.8" stroke-linecap="round"/><path d="M788.3,232.3 Q791.6,229.3 792.7,229.6" fill="none" stroke="#1fd0ae" stroke-width="1.6" stroke-linecap="round"/><path d="M783.2,237.4 Q785.3,233.6 785.0,232.9" fill="none" stroke="#1fd0ae" stroke-width="1.4" stroke-linecap="round"/><path d="M775.2,221.6 Q775.3,218.2 777.4,217.0" fill="none" stroke="#1fd0ae" stroke-width="1.8" stroke-linecap="round"/><path d="M802.0,220.1 Q799.1,216.8 799.5,216.4" fill="none" stroke="#20c8a0" stroke-width="1.3" stroke-linecap="round"/><path d="M789.7,227.8 Q789.3,224.5 788.9,223.5" fill="none" stroke="#20c8a0" stroke-width="1.2" stroke-linecap="round"/><path d="M779.0,225.9 Q776.1,223.0 773.1,224.0" fill="none" stroke="#28d8c0" stroke-width="1.7" stroke-linecap="round"/><path d="M766.6,225.4 Q764.8,224.7 761.1,225.1" fill="none" stroke="#20c8a0" stroke-width="2.1" stroke-linecap="round"/><path d="M783.4,231.1 Q781.5,229.8 780.0,228.7" fill="none" stroke="#28d8c0" stroke-width="2.0" stroke-linecap="round"/><path d="M762.7,234.8 Q762.4,236.0 767.6,239.9" fill="none" stroke="#28d8c0" stroke-width="1.4" stroke-linecap="round"/><path d="M770.3,233.6 Q772.1,234.4 772.1,238.6" fill="none" stroke="#28d8c0" stroke-width="2.0" stroke-linecap="round"/><path d="M770.9,238.8 Q770.0,240.2 765.9,237.9" fill="none" stroke="#20c8a0" stroke-width="1.6" stroke-linecap="round"/><path d="M776.4,230.0 Q776.1,226.3 774.2,223.7" fill="none" stroke="#28d8c0" stroke-width="1.6" stroke-linecap="round"/><path d="M772.5,225.7 Q773.5,228.1 776.0,230.0" fill="none" stroke="#1fd0ae" stroke-width="2.0" stroke-linecap="round"/><path d="M772.8,243.2 Q774.0,241.8 771.1,235.7" fill="none" stroke="#20c8a0" stroke-width="2.1" stroke-linecap="round"/><path d="M779.4,227.4 Q778.7,223.1 773.0,222.7" fill="none" stroke="#28d8c0" stroke-width="1.9" stroke-linecap="round"/><path d="M763.7,228.4 Q761.3,226.2 760.0,226.7" fill="none" stroke="#1fd0ae" stroke-width="1.3" stroke-linecap="round"/><path d="M786.5,241.5 Q786.7,235.2 789.5,234.2" fill="none" stroke="#1fd0ae" stroke-width="1.6" stroke-linecap="round"/><path d="M759.7,236.5 Q759.4,237.2 757.4,238.6" fill="none" stroke="#1fd0ae" stroke-width="1.3" stroke-linecap="round"/><path d="M797.5,212.8 Q797.5,215.4 797.9,218.7" fill="none" stroke="#28d8c0" stroke-width="1.7" stroke-linecap="round"/><path d="M764.3,229.3 Q768.5,230.3 769.0,228.4" fill="none" stroke="#1fd0ae" stroke-width="2.0" stroke-linecap="round"/><path d="M788.6,230.8 Q785.3,226.8 782.2,227.0" fill="none" stroke="#20c8a0" stroke-width="1.4" stroke-linecap="round"/><path d="M780.4,220.6 Q779.5,222.0 777.2,222.9" fill="none" stroke="#28d8c0" stroke-width="1.8" stroke-linecap="round"/><path d="M788.2,238.1 Q788.5,237.4 790.5,232.8" fill="none" stroke="#20c8a0" stroke-width="1.7" stroke-linecap="round"/><path d="M742.2,285.9 Q739.5,286.9 737.1,288.3" fill="none" stroke="#ffffff" stroke-width="1.5" stroke-linecap="round"/><path d="M724.6,300.3 Q726.0,299.6 726.2,296.3" fill="none" stroke="#d81818" stroke-width="1.4" stroke-linecap="round"/><path d="M733.1,298.6 Q734.8,300.7 734.9,302.9" fill="none" stroke="#ea1d1d" stroke-width="1.8" stroke-linecap="round"/><path d="M759.9,279.0 Q759.2,279.0 754.8,279.6" fill="none" stroke="#d81818" stroke-width="2.0" stroke-linecap="round"/><path d="M769.3,285.7 Q767.9,288.9 767.5,290.8" fill="none" stroke="#ffffff" stroke-width="1.2" stroke-linecap="round"/><path d="M753.3,286.6 Q755.7,287.4 756.4,286.4" fill="none" stroke="#a01212" stroke-width="1.9" stroke-linecap="round"/><path d="M764.8,300.3 Q766.3,301.0 769.7,300.7" fill="none" stroke="#ea1d1d" stroke-width="1.7" stroke-linecap="round"/><path d="M761.0,281.2 Q763.6,282.7 766.2,284.8" fill="none" stroke="#ffffff" stroke-width="1.8" stroke-linecap="round"/><path d="M723.3,300.5 Q727.6,294.7 728.7,294.7" fill="none" stroke="#a01212" stroke-width="1.9" stroke-linecap="round"/><path d="M737.4,313.7 Q737.6,310.8 740.8,307.0" fill="none" stroke="#a01212" stroke-width="1.3" stroke-linecap="round"/><path d="M768.8,301.0 Q770.0,302.9 773.1,302.4" fill="none" stroke="#a01212" stroke-width="2.1" stroke-linecap="round"/><path d="M761.6,314.7 Q764.5,316.1 766.9,315.6" fill="none" stroke="#d81818" stroke-width="1.8" stroke-linecap="round"/><path d="M760.8,302.3 Q760.0,299.1 754.5,301.0" fill="none" stroke="#f03030" stroke-width="1.9" stroke-linecap="round"/><path d="M776.7,304.3 Q774.8,306.6 776.9,311.8" fill="none" stroke="#a01212" stroke-width="2.0" stroke-linecap="round"/><path d="M777.5,307.1 Q781.5,304.7 784.2,306.3" fill="none" stroke="#ea1d1d" stroke-width="1.4" stroke-linecap="round"/><path d="M763.8,290.1 Q759.9,293.4 759.8,295.9" fill="none" stroke="#f03030" stroke-width="2.1" stroke-linecap="round"/><path d="M756.2,309.5 Q757.4,312.9 759.9,315.7" fill="none" stroke="#ea1d1d" stroke-width="1.5" stroke-linecap="round"/><path d="M720.2,290.6 Q720.7,291.1 725.4,288.2" fill="none" stroke="#a01212" stroke-width="1.7" stroke-linecap="round"/><path d="M726.8,307.6 Q729.1,306.8 728.6,303.9" fill="none" stroke="#d81818" stroke-width="2.1" stroke-linecap="round"/><path d="M736.5,307.1 Q737.7,310.7 738.6,311.8" fill="none" stroke="#f03030" stroke-width="2.2" stroke-linecap="round"/><path d="M729.2,285.3 Q727.1,283.6 727.8,280.5" fill="none" stroke="#a01212" stroke-width="1.5" stroke-linecap="round"/><path d="M735.7,293.9 Q740.4,295.1 740.5,299.4" fill="none" stroke="#ea1d1d" stroke-width="1.9" stroke-linecap="round"/><path d="M725.7,306.3 Q724.5,303.3 726.2,301.8" fill="none" stroke="#a01212" stroke-width="2.0" stroke-linecap="round"/><path d="M761.6,293.9 Q762.4,294.1 765.8,296.6" fill="none" stroke="#ea1d1d" stroke-width="1.3" stroke-linecap="round"/><path d="M776.0,280.2 Q777.9,282.9 776.1,286.5" fill="none" stroke="#a01212" stroke-width="1.3" stroke-linecap="round"/><path d="M754.1,286.8 Q751.3,285.3 749.7,284.1" fill="none" stroke="#f03030" stroke-width="1.9" stroke-linecap="round"/><path d="M728.3,287.9 Q728.5,289.0 727.1,292.1" fill="none" stroke="#f03030" stroke-width="1.6" stroke-linecap="round"/><path d="M730.8,310.2 Q731.9,306.6 732.1,305.9" fill="none" stroke="#ea1d1d" stroke-width="1.6" stroke-linecap="round"/><path d="M764.8,308.4 Q763.4,310.5 764.6,312.7" fill="none" stroke="#d81818" stroke-width="1.7" stroke-linecap="round"/><path d="M803.0,297.2 Q802.2,293.0 799.4,292.7" fill="none" stroke="#a01212" stroke-width="1.9" stroke-linecap="round"/><path d="M743.7,293.5 Q743.0,297.8 742.5,298.6" fill="none" stroke="#ffffff" stroke-width="1.7" stroke-linecap="round"/><path d="M794.7,307.1 Q798.5,303.3 798.2,303.4" fill="none" stroke="#ffffff" stroke-width="2.0" stroke-linecap="round"/><path d="M747.2,304.5 Q747.8,307.3 748.7,311.1" fill="none" stroke="#d81818" stroke-width="1.9" stroke-linecap="round"/><path d="M779.9,286.8 Q776.1,281.9 774.7,280.8" fill="none" stroke="#f03030" stroke-width="1.8" stroke-linecap="round"/><path d="M770.8,292.2 Q772.2,293.4 773.4,294.2" fill="none" stroke="#a01212" stroke-width="2.0" stroke-linecap="round"/><path d="M800.5,307.4 Q796.4,306.7 794.9,304.8" fill="none" stroke="#ffffff" stroke-width="1.7" stroke-linecap="round"/><path d="M755.4,285.0 Q754.0,289.6 753.2,290.0" fill="none" stroke="#ffffff" stroke-width="1.7" stroke-linecap="round"/><path d="M771.1,308.7 Q771.7,308.4 775.3,310.2" fill="none" stroke="#a01212" stroke-width="2.0" stroke-linecap="round"/><path d="M756.3,298.2 Q753.7,298.3 753.2,297.6" fill="none" stroke="#ea1d1d" stroke-width="1.6" stroke-linecap="round"/><path d="M747.0,281.0 Q742.6,277.7 741.0,278.9" fill="none" stroke="#a01212" stroke-width="1.5" stroke-linecap="round"/><path d="M792.3,298.7 Q793.9,295.4 791.6,293.9" fill="none" stroke="#a01212" stroke-width="1.4" stroke-linecap="round"/><path d="M788.3,300.1 Q789.0,298.1 787.3,295.4" fill="none" stroke="#a01212" stroke-width="2.0" stroke-linecap="round"/><path d="M723.9,285.0 Q721.6,287.7 721.1,288.3" fill="none" stroke="#ffffff" stroke-width="1.5" stroke-linecap="round"/><path d="M732.7,307.0 Q736.9,308.4 737.9,307.5" fill="none" stroke="#f03030" stroke-width="1.5" stroke-linecap="round"/><path d="M736.9,299.1 Q735.1,303.7 734.9,305.4" fill="none" stroke="#ffffff" stroke-width="1.6" stroke-linecap="round"/><path d="M772.7,311.8 Q776.4,315.1 779.1,315.4" fill="none" stroke="#ffffff" stroke-width="1.7" stroke-linecap="round"/><path d="M750.2,304.0 Q750.3,306.0 748.6,307.7" fill="none" stroke="#d81818" stroke-width="1.7" stroke-linecap="round"/><path d="M733.2,293.8 Q735.9,294.7 737.5,293.8" fill="none" stroke="#a01212" stroke-width="2.0" stroke-linecap="round"/><path d="M770.4,307.7 Q768.4,312.1 769.2,313.0" fill="none" stroke="#f03030" stroke-width="1.6" stroke-linecap="round"/><path d="M729.8,288.8 Q729.6,293.0 728.8,293.6" fill="none" stroke="#f03030" stroke-width="1.5" stroke-linecap="round"/><path d="M830.4,293.5 Q831.9,292.4 836.1,288.3" fill="none" stroke="#ffffff" stroke-width="2.1" stroke-linecap="round"/><path d="M812.4,308.1 Q814.2,306.1 819.0,306.9" fill="none" stroke="#8a1a10" stroke-width="1.4" stroke-linecap="round"/><path d="M817.2,320.1 Q819.7,317.8 824.3,321.1" fill="none" stroke="#f04818" stroke-width="1.3" stroke-linecap="round"/><path d="M819.2,304.5 Q817.3,305.0 816.1,309.1" fill="none" stroke="#d01010" stroke-width="1.7" stroke-linecap="round"/><path d="M818.1,302.3 Q818.6,301.2 819.5,299.5" fill="none" stroke="#f04818" stroke-width="1.8" stroke-linecap="round"/><path d="M827.0,290.5 Q830.1,290.9 831.9,296.0" fill="none" stroke="#e03010" stroke-width="2.1" stroke-linecap="round"/><path d="M806.8,302.0 Q808.0,300.6 809.2,297.9" fill="none" stroke="#e03010" stroke-width="1.9" stroke-linecap="round"/><path d="M809.2,298.7 Q807.2,297.9 806.0,299.2" fill="none" stroke="#f04818" stroke-width="1.3" stroke-linecap="round"/><path d="M799.1,295.2 Q798.5,299.0 802.3,301.4" fill="none" stroke="#8a1a10" stroke-width="1.6" stroke-linecap="round"/><path d="M813.9,301.7 Q813.0,304.0 812.2,304.7" fill="none" stroke="#e03010" stroke-width="2.2" stroke-linecap="round"/><path d="M811.5,324.0 Q813.2,324.1 814.6,321.4" fill="none" stroke="#ea1d1d" stroke-width="1.9" stroke-linecap="round"/><path d="M822.1,321.0 Q821.8,322.5 823.2,327.7" fill="none" stroke="#e03010" stroke-width="2.0" stroke-linecap="round"/><path d="M851.1,298.6 Q851.1,294.4 849.0,293.9" fill="none" stroke="#ffffff" stroke-width="1.6" stroke-linecap="round"/><path d="M854.5,307.1 Q855.5,303.3 856.2,302.9" fill="none" stroke="#d01010" stroke-width="1.4" stroke-linecap="round"/><path d="M808.6,291.0 Q807.6,288.6 805.2,289.1" fill="none" stroke="#ffffff" stroke-width="1.3" stroke-linecap="round"/><path d="M846.1,317.1 Q846.0,316.0 843.7,315.2" fill="none" stroke="#f26c14" stroke-width="1.9" stroke-linecap="round"/><path d="M808.4,317.3 Q806.1,317.8 803.5,320.4" fill="none" stroke="#d01010" stroke-width="2.2" stroke-linecap="round"/><path d="M850.1,288.2 Q853.3,291.7 854.6,294.2" fill="none" stroke="#e03010" stroke-width="1.7" stroke-linecap="round"/><path d="M818.1,318.3 Q815.1,322.1 812.1,320.9" fill="none" stroke="#d01010" stroke-width="2.2" stroke-linecap="round"/><path d="M853.1,317.5 Q856.2,318.3 859.3,319.2" fill="none" stroke="#e03010" stroke-width="2.0" stroke-linecap="round"/><path d="M822.6,319.2 Q817.4,316.6 815.0,319.0" fill="none" stroke="#ea1d1d" stroke-width="1.7" stroke-linecap="round"/><path d="M839.5,309.4 Q841.6,309.8 843.7,305.8" fill="none" stroke="#e03010" stroke-width="1.3" stroke-linecap="round"/><path d="M798.4,281.2 Q797.8,281.8 798.8,284.4" fill="none" stroke="#d01010" stroke-width="1.7" stroke-linecap="round"/><path d="M860.0,320.6 Q858.5,318.5 859.2,313.9" fill="none" stroke="#e03010" stroke-width="1.3" stroke-linecap="round"/><path d="M846.9,302.6 Q845.5,302.1 843.7,303.2" fill="none" stroke="#f04818" stroke-width="2.2" stroke-linecap="round"/><path d="M798.3,280.1 Q802.2,282.9 803.5,284.2" fill="none" stroke="#8a1a10" stroke-width="2.1" stroke-linecap="round"/><path d="M840.2,287.3 Q839.0,284.6 838.9,284.3" fill="none" stroke="#f26c14" stroke-width="2.0" stroke-linecap="round"/><path d="M841.5,283.6 Q838.9,285.0 836.9,285.9" fill="none" stroke="#f04818" stroke-width="1.7" stroke-linecap="round"/><path d="M803.8,282.2 Q802.6,284.2 802.0,288.0" fill="none" stroke="#ea1d1d" stroke-width="1.6" stroke-linecap="round"/><path d="M826.4,304.2 Q823.3,307.0 823.6,307.3" fill="none" stroke="#ffffff" stroke-width="1.5" stroke-linecap="round"/><path d="M825.2,291.5 Q830.7,291.3 832.1,294.2" fill="none" stroke="#f04818" stroke-width="2.0" stroke-linecap="round"/><path d="M827.3,279.1 Q830.4,281.6 830.1,285.6" fill="none" stroke="#f04818" stroke-width="1.8" stroke-linecap="round"/><path d="M826.6,282.7 Q827.4,285.6 832.8,285.2" fill="none" stroke="#ffffff" stroke-width="1.8" stroke-linecap="round"/><path d="M855.6,289.1 Q854.9,287.7 854.6,286.2" fill="none" stroke="#ffffff" stroke-width="1.9" stroke-linecap="round"/><path d="M802.7,280.7 Q800.2,282.9 799.5,285.6" fill="none" stroke="#8a1a10" stroke-width="2.0" stroke-linecap="round"/><path d="M845.5,306.9 Q846.4,308.2 852.0,305.5" fill="none" stroke="#ea1d1d" stroke-width="1.3" stroke-linecap="round"/><path d="M823.0,308.6 Q819.8,305.3 820.0,305.0" fill="none" stroke="#f26c14" stroke-width="1.4" stroke-linecap="round"/><path d="M857.4,305.9 Q858.3,311.7 862.1,312.2" fill="none" stroke="#ffffff" stroke-width="1.5" stroke-linecap="round"/><path d="M856.5,286.6 Q858.0,287.8 856.1,291.8" fill="none" stroke="#e03010" stroke-width="1.6" stroke-linecap="round"/><path d="M857.5,315.4 Q858.1,320.6 860.8,321.7" fill="none" stroke="#d01010" stroke-width="1.4" stroke-linecap="round"/><path d="M821.3,280.6 Q821.2,279.9 824.2,275.0" fill="none" stroke="#f04818" stroke-width="1.9" stroke-linecap="round"/><path d="M819.7,286.2 Q821.3,290.2 824.6,291.8" fill="none" stroke="#d01010" stroke-width="1.7" stroke-linecap="round"/><path d="M843.6,288.7 Q842.9,284.1 838.7,282.4" fill="none" stroke="#ffffff" stroke-width="1.9" stroke-linecap="round"/><path d="M828.3,277.8 Q829.3,280.0 828.1,281.8" fill="none" stroke="#f04818" stroke-width="1.8" stroke-linecap="round"/><path d="M852.8,316.5 Q852.9,315.1 851.7,313.4" fill="none" stroke="#ffffff" stroke-width="1.3" stroke-linecap="round"/><path d="M808.4,302.5 Q809.4,298.6 811.0,297.2" fill="none" stroke="#f26c14" stroke-width="2.0" stroke-linecap="round"/><path d="M818.7,277.6 Q822.0,276.0 822.9,277.1" fill="none" stroke="#ffffff" stroke-width="2.0" stroke-linecap="round"/><path d="M853.8,312.0 Q855.3,310.6 852.0,305.5" fill="none" stroke="#f26c14" stroke-width="1.8" stroke-linecap="round"/><path d="M847.2,292.2 Q848.3,292.7 846.7,295.6" fill="none" stroke="#f26c14" stroke-width="1.6" stroke-linecap="round"/><path d="M836.0,308.8 Q835.3,312.0 833.7,312.5" fill="none" stroke="#ffffff" stroke-width="1.7" stroke-linecap="round"/><path d="M810.1,304.6 Q810.2,302.2 814.7,301.1" fill="none" stroke="#f26c14" stroke-width="1.7" stroke-linecap="round"/><path d="M830.4,315.6 Q830.5,315.4 834.6,312.3" fill="none" stroke="#ea1d1d" stroke-width="1.9" stroke-linecap="round"/><path d="M808.4,317.8 Q811.1,312.7 813.7,312.0" fill="none" stroke="#d01010" stroke-width="1.8" stroke-linecap="round"/><path d="M834.1,290.2 Q835.1,291.2 836.5,294.9" fill="none" stroke="#f04818" stroke-width="1.6" stroke-linecap="round"/><path d="M836.7,303.3 Q831.5,304.4 830.9,307.3" fill="none" stroke="#d01010" stroke-width="2.1" stroke-linecap="round"/><path d="M865.9,322.0 Q862.9,319.1 859.1,320.4" fill="none" stroke="#f04818" stroke-width="1.8" stroke-linecap="round"/><path d="M801.7,289.6 Q801.7,287.7 803.7,287.3" fill="none" stroke="#8a1a10" stroke-width="1.6" stroke-linecap="round"/><path d="M816.3,277.7 Q816.6,280.0 812.7,282.8" fill="none" stroke="#ffffff" stroke-width="2.0" stroke-linecap="round"/><path d="M821.6,291.1 Q820.4,290.1 814.9,290.6" fill="none" stroke="#ffffff" stroke-width="1.7" stroke-linecap="round"/><path d="M849.3,298.6 Q846.2,295.9 843.6,296.6" fill="none" stroke="#ea1d1d" stroke-width="2.0" stroke-linecap="round"/><path d="M816.2,275.0 Q814.6,280.6 818.8,282.4" fill="none" stroke="#f26c14" stroke-width="1.5" stroke-linecap="round"/><path d="M862.5,308.3 Q864.5,311.5 865.3,311.5" fill="none" stroke="#d01010" stroke-width="1.8" stroke-linecap="round"/><path d="M852.2,316.6 Q852.4,315.3 855.2,315.3" fill="none" stroke="#8a1a10" stroke-width="2.1" stroke-linecap="round"/><path d="M814.4,316.0 Q818.6,320.4 818.7,321.9" fill="none" stroke="#f26c14" stroke-width="1.6" stroke-linecap="round"/><path d="M826.8,291.6 Q831.2,289.7 833.5,289.9" fill="none" stroke="#ffffff" stroke-width="2.0" stroke-linecap="round"/><path d="M829.3,283.9 Q828.3,283.1 826.7,281.4" fill="none" stroke="#f04818" stroke-width="2.2" stroke-linecap="round"/><path d="M846.7,306.1 Q847.3,305.2 848.9,303.1" fill="none" stroke="#8a1a10" stroke-width="1.6" stroke-linecap="round"/><path d="M843.4,279.6 Q839.4,277.2 835.8,279.9" fill="none" stroke="#d01010" stroke-width="1.5" stroke-linecap="round"/><path d="M807.4,294.2 Q812.7,296.3 814.0,297.7" fill="none" stroke="#d01010" stroke-width="1.8" stroke-linecap="round"/><path d="M835.8,304.1 Q835.0,302.7 828.6,304.7" fill="none" stroke="#d01010" stroke-width="1.3" stroke-linecap="round"/><path d="M798.4,287.1 Q802.2,290.3 802.0,290.7" fill="none" stroke="#e03010" stroke-width="1.4" stroke-linecap="round"/><path d="M817.3,277.3 Q815.8,277.1 812.9,276.5" fill="none" stroke="#f26c14" stroke-width="1.9" stroke-linecap="round"/><path d="M852.2,310.9 Q850.8,310.5 849.6,308.0" fill="none" stroke="#d01010" stroke-width="1.2" stroke-linecap="round"/><path d="M824.8,303.9 Q828.4,309.3 827.6,310.6" fill="none" stroke="#8a1a10" stroke-width="2.1" stroke-linecap="round"/><path d="M864.8,291.9 Q863.3,293.3 860.7,296.3" fill="none" stroke="#f26c14" stroke-width="1.6" stroke-linecap="round"/><path d="M813.9,302.3 Q815.7,307.0 819.4,307.0" fill="none" stroke="#f04818" stroke-width="2.0" stroke-linecap="round"/><path d="M794.3,310.6 Q800.0,310.9 801.5,311.6" fill="none" stroke="#ffffff" stroke-width="1.5" stroke-linecap="round"/><path d="M804.8,298.0 Q806.5,297.2 808.8,298.0" fill="none" stroke="#f04818" stroke-width="1.5" stroke-linecap="round"/><path d="M811.8,299.3 Q812.0,303.6 808.0,303.8" fill="none" stroke="#f26c14" stroke-width="1.5" stroke-linecap="round"/><path d="M819.3,320.2 Q819.5,321.6 819.2,325.1" fill="none" stroke="#ffffff" stroke-width="1.7" stroke-linecap="round"/><path d="M827.2,303.6 Q824.6,304.2 824.3,308.4" fill="none" stroke="#ea1d1d" stroke-width="1.9" stroke-linecap="round"/><path d="M852.4,322.6 Q849.4,324.0 848.5,323.9" fill="none" stroke="#8a1a10" stroke-width="1.5" stroke-linecap="round"/><path d="M827.7,329.1 Q829.1,325.5 827.0,322.8" fill="none" stroke="#f26c14" stroke-width="1.8" stroke-linecap="round"/><path d="M868.3,312.4 Q870.1,311.9 870.3,309.8" fill="none" stroke="#f04818" stroke-width="1.4" stroke-linecap="round"/><path d="M823.3,304.6 Q820.9,305.7 820.5,305.9" fill="none" stroke="#e03010" stroke-width="1.3" stroke-linecap="round"/><path d="M825.9,308.7 Q825.6,308.3 823.1,302.7" fill="none" stroke="#ea1d1d" stroke-width="1.8" stroke-linecap="round"/><path d="M830.0,290.1 Q824.8,285.4 823.3,286.0" fill="none" stroke="#ffffff" stroke-width="1.4" stroke-linecap="round"/><path d="M812.7,279.2 Q811.0,279.7 809.6,277.4" fill="none" stroke="#e03010" stroke-width="2.0" stroke-linecap="round"/><path d="M832.5,282.9 Q830.7,285.5 828.7,286.5" fill="none" stroke="#ea1d1d" stroke-width="1.7" stroke-linecap="round"/><path d="M850.1,312.6 Q849.2,314.7 847.6,315.3" fill="none" stroke="#d01010" stroke-width="2.2" stroke-linecap="round"/><path d="M882.5,285.1 Q886.2,282.1 886.1,281.0" fill="none" stroke="#f26c14" stroke-width="2.1" stroke-linecap="round"/><path d="M935.1,306.6 Q934.6,309.2 933.2,310.3" fill="none" stroke="#f08018" stroke-width="1.6" stroke-linecap="round"/><path d="M920.7,322.2 Q918.2,323.4 915.3,322.1" fill="none" stroke="#f08018" stroke-width="1.4" stroke-linecap="round"/><path d="M860.8,288.7 Q858.2,291.5 854.1,289.7" fill="none" stroke="#ffffff" stroke-width="1.7" stroke-linecap="round"/><path d="M886.5,305.5 Q886.1,306.6 882.6,305.0" fill="none" stroke="#f08018" stroke-width="1.4" stroke-linecap="round"/><path d="M920.9,300.9 Q923.6,300.5 925.5,299.7" fill="none" stroke="#e85010" stroke-width="1.4" stroke-linecap="round"/><path d="M904.5,325.4 Q911.3,328.1 912.2,326.6" fill="none" stroke="#ffffff" stroke-width="1.6" stroke-linecap="round"/><path d="M927.5,318.6 Q925.6,317.8 926.4,315.0" fill="none" stroke="#ffffff" stroke-width="1.9" stroke-linecap="round"/><path d="M889.3,308.9 Q889.5,304.0 890.1,301.6" fill="none" stroke="#e85010" stroke-width="1.2" stroke-linecap="round"/><path d="M890.5,316.4 Q888.6,315.7 883.3,315.2" fill="none" stroke="#9a4a10" stroke-width="2.0" stroke-linecap="round"/><path d="M917.3,285.1 Q920.0,286.2 920.8,285.4" fill="none" stroke="#e6dc22" stroke-width="2.2" stroke-linecap="round"/><path d="M886.7,290.2 Q886.4,287.5 884.3,284.6" fill="none" stroke="#ffffff" stroke-width="2.0" stroke-linecap="round"/><path d="M914.5,308.5 Q920.2,310.8 921.3,308.0" fill="none" stroke="#f26c14" stroke-width="1.4" stroke-linecap="round"/><path d="M869.6,283.9 Q873.5,283.2 874.5,283.8" fill="none" stroke="#ffffff" stroke-width="1.3" stroke-linecap="round"/><path d="M935.5,308.1 Q935.8,304.7 933.8,302.8" fill="none" stroke="#f4a224" stroke-width="1.4" stroke-linecap="round"/><path d="M886.8,321.8 Q886.5,323.1 887.1,325.0" fill="none" stroke="#f08018" stroke-width="1.6" stroke-linecap="round"/><path d="M898.6,280.1 Q899.1,279.8 902.3,282.7" fill="none" stroke="#ffffff" stroke-width="1.3" stroke-linecap="round"/><path d="M927.0,308.0 Q924.1,305.6 923.3,304.5" fill="none" stroke="#ffffff" stroke-width="2.1" stroke-linecap="round"/><path d="M901.2,322.6 Q902.2,323.0 903.2,326.4" fill="none" stroke="#e85010" stroke-width="1.4" stroke-linecap="round"/><path d="M868.4,291.9 Q871.5,291.6 873.7,288.3" fill="none" stroke="#e6dc22" stroke-width="1.6" stroke-linecap="round"/><path d="M917.5,284.2 Q919.6,284.3 920.7,286.9" fill="none" stroke="#f26c14" stroke-width="1.4" stroke-linecap="round"/><path d="M866.7,299.0 Q864.3,303.4 862.0,304.3" fill="none" stroke="#ffffff" stroke-width="1.4" stroke-linecap="round"/><path d="M880.1,294.7 Q876.9,297.7 877.2,298.2" fill="none" stroke="#ffffff" stroke-width="1.8" stroke-linecap="round"/><path d="M903.6,309.4 Q906.6,312.1 908.3,312.0" fill="none" stroke="#f4a224" stroke-width="2.1" stroke-linecap="round"/><path d="M863.0,300.0 Q860.9,299.6 859.7,298.6" fill="none" stroke="#ffffff" stroke-width="1.4" stroke-linecap="round"/><path d="M903.3,318.7 Q898.7,318.5 897.1,317.5" fill="none" stroke="#9a4a10" stroke-width="2.1" stroke-linecap="round"/><path d="M865.1,288.5 Q868.1,293.9 867.3,295.4" fill="none" stroke="#f4a224" stroke-width="1.5" stroke-linecap="round"/><path d="M866.2,293.4 Q867.1,294.7 870.0,296.8" fill="none" stroke="#f4a224" stroke-width="2.0" stroke-linecap="round"/><path d="M868.7,278.5 Q868.8,281.7 867.6,284.6" fill="none" stroke="#9a4a10" stroke-width="1.9" stroke-linecap="round"/><path d="M932.3,305.9 Q933.2,304.9 936.1,304.7" fill="none" stroke="#f4a224" stroke-width="1.6" stroke-linecap="round"/><path d="M922.9,311.5 Q925.0,312.7 926.4,313.7" fill="none" stroke="#f26c14" stroke-width="1.9" stroke-linecap="round"/><path d="M897.2,327.2 Q896.9,326.6 897.3,323.6" fill="none" stroke="#f4a224" stroke-width="1.7" stroke-linecap="round"/><path d="M879.7,321.5 Q877.8,324.5 875.6,324.6" fill="none" stroke="#f08018" stroke-width="2.0" stroke-linecap="round"/><path d="M897.8,316.1 Q898.2,314.7 892.8,310.1" fill="none" stroke="#f08018" stroke-width="1.4" stroke-linecap="round"/><path d="M885.1,320.5 Q883.7,319.8 880.3,322.7" fill="none" stroke="#9a4a10" stroke-width="1.6" stroke-linecap="round"/><path d="M905.3,315.0 Q911.2,313.2 913.3,314.5" fill="none" stroke="#ffffff" stroke-width="2.1" stroke-linecap="round"/><path d="M914.2,280.6 Q912.1,279.2 908.6,280.7" fill="none" stroke="#9a4a10" stroke-width="1.5" stroke-linecap="round"/><path d="M858.3,297.5 Q859.9,297.8 861.8,299.1" fill="none" stroke="#e6dc22" stroke-width="1.5" stroke-linecap="round"/><path d="M881.9,305.9 Q876.9,306.1 876.0,307.5" fill="none" stroke="#f08018" stroke-width="1.6" stroke-linecap="round"/><path d="M880.3,312.6 Q874.1,310.7 873.3,312.9" fill="none" stroke="#f08018" stroke-width="2.1" stroke-linecap="round"/><path d="M868.7,289.4 Q871.1,291.7 872.7,293.7" fill="none" stroke="#f26c14" stroke-width="1.8" stroke-linecap="round"/><path d="M900.3,317.7 Q900.7,319.1 898.7,320.4" fill="none" stroke="#e6dc22" stroke-width="1.8" stroke-linecap="round"/><path d="M929.7,294.0 Q926.8,295.4 925.0,296.7" fill="none" stroke="#f08018" stroke-width="1.5" stroke-linecap="round"/><path d="M927.5,288.4 Q929.3,289.4 926.8,293.8" fill="none" stroke="#f08018" stroke-width="1.7" stroke-linecap="round"/><path d="M892.7,309.8 Q893.3,310.4 892.6,313.2" fill="none" stroke="#f4a224" stroke-width="2.0" stroke-linecap="round"/><path d="M891.0,321.0 Q887.7,321.3 886.8,321.6" fill="none" stroke="#f26c14" stroke-width="2.0" stroke-linecap="round"/><path d="M913.9,288.5 Q909.6,287.5 907.9,288.6" fill="none" stroke="#f26c14" stroke-width="1.3" stroke-linecap="round"/><path d="M871.8,324.0 Q871.9,322.9 870.9,318.5" fill="none" stroke="#e85010" stroke-width="1.8" stroke-linecap="round"/><path d="M864.3,284.5 Q866.4,286.4 867.9,288.7" fill="none" stroke="#f4a224" stroke-width="1.2" stroke-linecap="round"/><path d="M868.7,312.3 Q869.0,312.6 866.2,316.0" fill="none" stroke="#e85010" stroke-width="2.2" stroke-linecap="round"/><path d="M859.4,292.6 Q858.2,294.7 855.4,294.0" fill="none" stroke="#f08018" stroke-width="1.4" stroke-linecap="round"/><path d="M926.3,286.0 Q925.0,286.9 924.5,290.2" fill="none" stroke="#f08018" stroke-width="1.5" stroke-linecap="round"/><path d="M904.0,285.2 Q905.8,281.5 904.1,280.1" fill="none" stroke="#f26c14" stroke-width="1.4" stroke-linecap="round"/><path d="M855.7,293.8 Q858.8,291.6 860.4,292.9" fill="none" stroke="#e6dc22" stroke-width="1.3" stroke-linecap="round"/><path d="M893.9,304.3 Q891.5,299.8 893.7,297.2" fill="none" stroke="#f26c14" stroke-width="1.3" stroke-linecap="round"/><path d="M868.8,307.8 Q874.9,304.7 876.5,306.3" fill="none" stroke="#9a4a10" stroke-width="2.0" stroke-linecap="round"/><path d="M870.9,296.4 Q869.0,297.7 872.3,302.7" fill="none" stroke="#9a4a10" stroke-width="2.1" stroke-linecap="round"/><path d="M869.0,316.3 Q873.9,318.9 874.3,320.8" fill="none" stroke="#e6dc22" stroke-width="2.0" stroke-linecap="round"/><path d="M870.1,283.2 Q865.6,282.7 865.2,285.8" fill="none" stroke="#f08018" stroke-width="1.9" stroke-linecap="round"/><path d="M873.2,315.6 Q872.6,315.2 868.6,314.2" fill="none" stroke="#f08018" stroke-width="1.3" stroke-linecap="round"/><path d="M892.0,282.0 Q890.3,280.1 889.7,277.2" fill="none" stroke="#f4a224" stroke-width="1.4" stroke-linecap="round"/><path d="M903.9,293.2 Q898.1,293.7 897.4,294.2" fill="none" stroke="#e85010" stroke-width="1.7" stroke-linecap="round"/><path d="M889.8,321.1 Q890.2,319.2 892.7,319.3" fill="none" stroke="#f26c14" stroke-width="1.7" stroke-linecap="round"/><path d="M871.1,313.2 Q867.8,314.5 866.3,313.2" fill="none" stroke="#ffffff" stroke-width="2.1" stroke-linecap="round"/><path d="M874.8,279.9 Q874.7,279.2 872.7,277.6" fill="none" stroke="#e85010" stroke-width="1.8" stroke-linecap="round"/><path d="M875.6,288.8 Q872.7,290.1 872.6,291.6" fill="none" stroke="#9a4a10" stroke-width="1.3" stroke-linecap="round"/><path d="M867.3,287.2 Q870.7,289.9 873.4,288.4" fill="none" stroke="#e6dc22" stroke-width="1.9" stroke-linecap="round"/><path d="M889.4,276.1 Q887.4,278.5 887.5,278.7" fill="none" stroke="#f4a224" stroke-width="1.2" stroke-linecap="round"/><path d="M884.1,287.8 Q882.0,287.8 880.1,283.9" fill="none" stroke="#9a4a10" stroke-width="1.4" stroke-linecap="round"/><path d="M885.7,293.7 Q884.8,293.6 883.2,296.1" fill="none" stroke="#f4a224" stroke-width="1.7" stroke-linecap="round"/><path d="M918.9,309.0 Q921.8,309.7 922.4,310.0" fill="none" stroke="#f08018" stroke-width="1.4" stroke-linecap="round"/><path d="M932.8,302.7 Q932.2,300.6 931.0,299.3" fill="none" stroke="#f26c14" stroke-width="1.3" stroke-linecap="round"/><path d="M898.5,327.5 Q893.5,325.5 893.1,322.5" fill="none" stroke="#f08018" stroke-width="2.0" stroke-linecap="round"/><path d="M907.7,324.9 Q907.7,322.0 910.1,321.6" fill="none" stroke="#9a4a10" stroke-width="2.1" stroke-linecap="round"/><path d="M896.4,324.0 Q895.2,323.1 893.0,324.1" fill="none" stroke="#9a4a10" stroke-width="1.7" stroke-linecap="round"/><path d="M928.2,301.8 Q927.8,304.4 925.2,307.4" fill="none" stroke="#e85010" stroke-width="2.1" stroke-linecap="round"/><path d="M875.5,300.6 Q876.2,302.1 877.9,304.4" fill="none" stroke="#9a4a10" stroke-width="1.5" stroke-linecap="round"/><path d="M914.3,292.9 Q918.2,295.5 918.9,295.7" fill="none" stroke="#f26c14" stroke-width="2.2" stroke-linecap="round"/><path d="M930.3,303.6 Q931.3,300.4 931.6,299.8" fill="none" stroke="#f4a224" stroke-width="1.3" stroke-linecap="round"/><path d="M878.1,319.3 Q876.5,318.1 873.0,317.0" fill="none" stroke="#f4a224" stroke-width="2.1" stroke-linecap="round"/><path d="M906.9,310.5 Q905.3,310.4 903.7,313.3" fill="none" stroke="#e85010" stroke-width="1.4" stroke-linecap="round"/><path d="M922.6,296.7 Q924.2,295.0 924.7,290.8" fill="none" stroke="#e85010" stroke-width="1.5" stroke-linecap="round"/><path d="M916.5,322.6 Q916.1,320.5 918.9,319.2" fill="none" stroke="#e6dc22" stroke-width="1.3" stroke-linecap="round"/><path d="M926.5,313.8 Q925.4,312.0 920.8,314.2" fill="none" stroke="#e85010" stroke-width="1.3" stroke-linecap="round"/><path d="M905.3,321.8 Q904.5,320.6 906.3,318.7" fill="none" stroke="#ffffff" stroke-width="2.2" stroke-linecap="round"/><path d="M872.3,299.6 Q872.6,301.1 876.1,302.5" fill="none" stroke="#f4a224" stroke-width="2.0" stroke-linecap="round"/><path d="M881.1,290.5 Q883.5,290.8 884.1,289.2" fill="none" stroke="#f26c14" stroke-width="1.9" stroke-linecap="round"/><path d="M908.1,289.3 Q909.9,290.2 912.6,288.9" fill="none" stroke="#e85010" stroke-width="2.1" stroke-linecap="round"/><path d="M916.6,312.8 Q914.5,312.5 914.7,310.0" fill="none" stroke="#e85010" stroke-width="1.7" stroke-linecap="round"/><path d="M901.9,285.5 Q900.8,286.4 899.5,290.5" fill="none" stroke="#9a4a10" stroke-width="2.2" stroke-linecap="round"/><path d="M951.4,295.7 Q954.4,296.3 956.9,293.8" fill="none" stroke="#f0b030" stroke-width="1.7" stroke-linecap="round"/><path d="M914.6,279.4 Q914.4,277.6 914.4,275.6" fill="none" stroke="#f4a224" stroke-width="1.0" stroke-linecap="round"/><path d="M928.9,270.1 Q930.6,270.7 933.1,268.7" fill="none" stroke="#f0b030" stroke-width="1.5" stroke-linecap="round"/><path d="M933.0,281.8 Q935.0,281.1 936.9,280.7" fill="none" stroke="#f0b030" stroke-width="1.2" stroke-linecap="round"/><path d="M943.4,271.1 Q941.8,273.0 940.7,272.9" fill="none" stroke="#f4a224" stroke-width="1.8" stroke-linecap="round"/><path d="M940.4,293.3 Q938.6,293.9 937.0,293.3" fill="none" stroke="#f09020" stroke-width="1.3" stroke-linecap="round"/><path d="M938.6,277.8 Q939.3,277.4 942.2,276.7" fill="none" stroke="#f09020" stroke-width="1.2" stroke-linecap="round"/><path d="M929.7,278.7 Q931.8,278.3 931.4,275.4" fill="none" stroke="#f0b030" stroke-width="1.3" stroke-linecap="round"/><path d="M942.2,279.4 Q941.9,276.6 940.0,275.4" fill="none" stroke="#d89020" stroke-width="1.5" stroke-linecap="round"/><path d="M927.0,284.9 Q928.6,284.4 931.6,284.1" fill="none" stroke="#f09020" stroke-width="1.1" stroke-linecap="round"/><path d="M921.5,281.0 Q918.3,282.4 917.9,286.5" fill="none" stroke="#f0b030" stroke-width="1.4" stroke-linecap="round"/><path d="M947.5,293.7 Q946.4,292.1 947.6,290.4" fill="none" stroke="#d89020" stroke-width="1.6" stroke-linecap="round"/><path d="M955.7,287.1 Q956.1,286.1 958.8,285.7" fill="none" stroke="#f4a224" stroke-width="1.7" stroke-linecap="round"/><path d="M933.8,278.2 Q930.9,276.8 929.8,277.9" fill="none" stroke="#f0b030" stroke-width="1.8" stroke-linecap="round"/><path d="M945.8,286.7 Q942.3,287.8 941.5,288.5" fill="none" stroke="#f09020" stroke-width="1.2" stroke-linecap="round"/><path d="M929.1,280.0 Q928.0,279.2 923.8,277.0" fill="none" stroke="#f4a224" stroke-width="1.7" stroke-linecap="round"/><path d="M923.2,284.4 Q919.8,283.6 919.2,282.9" fill="none" stroke="#f0b030" stroke-width="1.3" stroke-linecap="round"/><path d="M938.6,274.2 Q939.3,274.8 942.3,275.3" fill="none" stroke="#d89020" stroke-width="1.3" stroke-linecap="round"/><path d="M936.9,278.6 Q937.7,279.1 942.7,277.9" fill="none" stroke="#f4a224" stroke-width="1.3" stroke-linecap="round"/><path d="M944.0,294.8 Q948.8,296.6 950.5,296.7" fill="none" stroke="#d89020" stroke-width="1.7" stroke-linecap="round"/><path d="M914.3,282.8 Q913.6,283.8 910.9,281.9" fill="none" stroke="#f4a224" stroke-width="1.3" stroke-linecap="round"/><path d="M956.2,279.6 Q958.0,279.1 959.5,278.9" fill="none" stroke="#f0b030" stroke-width="1.0" stroke-linecap="round"/><path d="M962.2,289.3 Q964.0,288.0 964.1,286.8" fill="none" stroke="#f0b030" stroke-width="1.1" stroke-linecap="round"/><path d="M955.1,288.4 Q953.4,288.5 952.0,289.1" fill="none" stroke="#d89020" stroke-width="1.5" stroke-linecap="round"/><path d="M947.8,295.1 Q946.5,299.6 946.2,300.6" fill="none" stroke="#f0b030" stroke-width="1.2" stroke-linecap="round"/><path d="M962.3,286.4 Q965.1,285.2 964.8,281.2" fill="none" stroke="#d89020" stroke-width="1.7" stroke-linecap="round"/><path d="M925.5,281.0 Q925.7,280.8 928.4,276.4" fill="none" stroke="#f0b030" stroke-width="1.4" stroke-linecap="round"/><path d="M925.0,272.6 Q924.7,270.2 925.1,266.9" fill="none" stroke="#f09020" stroke-width="1.8" stroke-linecap="round"/><path d="M940.4,283.6 Q938.9,282.7 935.9,284.7" fill="none" stroke="#d89020" stroke-width="1.7" stroke-linecap="round"/><path d="M953.1,285.9 Q950.9,287.3 951.0,288.6" fill="none" stroke="#f0b030" stroke-width="1.3" stroke-linecap="round"/><path d="M936.4,272.5 Q936.8,274.9 939.4,276.4" fill="none" stroke="#f0b030" stroke-width="1.4" stroke-linecap="round"/><path d="M926.8,289.3 Q924.0,290.7 923.2,292.2" fill="none" stroke="#d89020" stroke-width="1.3" stroke-linecap="round"/><path d="M943.5,284.5 Q945.8,285.0 950.3,285.0" fill="none" stroke="#f0b030" stroke-width="1.2" stroke-linecap="round"/><path d="M918.5,288.8 Q916.4,288.6 915.4,288.4" fill="none" stroke="#f0b030" stroke-width="1.5" stroke-linecap="round"/><path d="M937.1,291.1 Q937.1,293.3 941.4,294.7" fill="none" stroke="#d89020" stroke-width="1.2" stroke-linecap="round"/><path d="M948.4,290.5 Q949.4,287.7 953.0,287.6" fill="none" stroke="#f0b030" stroke-width="1.1" stroke-linecap="round"/><path d="M799.0,325.3 Q796.1,327.2 792.6,326.6" fill="none" stroke="#60c040" stroke-width="1.1" stroke-linecap="round"/><path d="M811.0,331.0 Q809.2,330.1 806.0,331.8" fill="none" stroke="#e6dc22" stroke-width="0.9" stroke-linecap="round"/><path d="M816.0,343.2 Q814.1,342.4 811.6,338.3" fill="none" stroke="#e6dc22" stroke-width="1.0" stroke-linecap="round"/><path d="M774.6,331.3 Q775.9,330.2 778.1,331.5" fill="none" stroke="#f26c14" stroke-width="1.0" stroke-linecap="round"/><path d="M798.0,325.2 Q796.8,322.7 799.0,320.3" fill="none" stroke="#98d622" stroke-width="1.5" stroke-linecap="round"/><path d="M803.1,331.8 Q803.2,332.7 805.1,335.6" fill="none" stroke="#60c040" stroke-width="0.9" stroke-linecap="round"/><path d="M770.3,322.5 Q771.9,320.8 774.4,320.7" fill="none" stroke="#c8d820" stroke-width="1.3" stroke-linecap="round"/><path d="M784.1,329.9 Q782.1,329.9 779.3,333.2" fill="none" stroke="#c8d820" stroke-width="1.5" stroke-linecap="round"/><path d="M822.9,332.2 Q822.3,328.7 824.5,328.5" fill="none" stroke="#60c040" stroke-width="1.2" stroke-linecap="round"/><path d="M820.8,327.4 Q819.1,326.5 816.8,327.2" fill="none" stroke="#e6dc22" stroke-width="1.0" stroke-linecap="round"/><path d="M797.1,335.4 Q798.2,333.4 797.1,332.4" fill="none" stroke="#98d622" stroke-width="1.6" stroke-linecap="round"/><path d="M814.2,346.5 Q813.0,344.7 812.2,340.0" fill="none" stroke="#60c040" stroke-width="1.5" stroke-linecap="round"/><path d="M809.1,328.0 Q809.5,326.2 811.9,322.1" fill="none" stroke="#f26c14" stroke-width="1.5" stroke-linecap="round"/><path d="M782.7,336.2 Q783.3,335.2 780.8,331.7" fill="none" stroke="#c8d820" stroke-width="1.3" stroke-linecap="round"/><path d="M816.5,338.3 Q814.5,338.6 812.4,341.2" fill="none" stroke="#c8d820" stroke-width="1.2" stroke-linecap="round"/><path d="M778.7,320.9 Q778.8,321.7 778.2,324.2" fill="none" stroke="#60c040" stroke-width="0.9" stroke-linecap="round"/><path d="M793.0,338.6 Q792.0,340.0 794.3,343.3" fill="none" stroke="#e6dc22" stroke-width="0.9" stroke-linecap="round"/><path d="M816.6,345.1 Q819.3,343.2 819.3,342.1" fill="none" stroke="#f26c14" stroke-width="1.4" stroke-linecap="round"/><path d="M812.5,332.6 Q815.6,334.8 818.0,335.6" fill="none" stroke="#e6dc22" stroke-width="1.4" stroke-linecap="round"/><path d="M809.6,344.5 Q809.8,340.9 814.4,341.1" fill="none" stroke="#e6dc22" stroke-width="1.4" stroke-linecap="round"/><path d="M793.0,318.6 Q791.9,319.5 790.2,323.9" fill="none" stroke="#e6dc22" stroke-width="1.5" stroke-linecap="round"/><path d="M770.0,323.9 Q771.0,327.0 774.2,327.7" fill="none" stroke="#c8d820" stroke-width="1.4" stroke-linecap="round"/><path d="M823.8,334.2 Q821.1,332.6 817.0,332.4" fill="none" stroke="#60c040" stroke-width="1.1" stroke-linecap="round"/><path d="M832.9,335.0 Q831.5,337.3 829.1,337.0" fill="none" stroke="#98d622" stroke-width="1.0" stroke-linecap="round"/><path d="M796.3,337.9 Q799.7,340.7 800.5,341.2" fill="none" stroke="#98d622" stroke-width="1.0" stroke-linecap="round"/><path d="M822.5,340.8 Q823.3,341.3 826.6,339.7" fill="none" stroke="#f26c14" stroke-width="1.1" stroke-linecap="round"/><path d="M784.6,319.3 Q789.2,319.4 789.4,323.4" fill="none" stroke="#c8d820" stroke-width="0.9" stroke-linecap="round"/><path d="M823.7,337.0 Q822.8,340.1 821.9,340.8" fill="none" stroke="#e6dc22" stroke-width="1.3" stroke-linecap="round"/><path d="M796.2,333.9 Q796.7,334.2 798.2,336.8" fill="none" stroke="#98d622" stroke-width="1.4" stroke-linecap="round"/><path d="M807.7,335.7 Q806.1,334.5 803.7,335.8" fill="none" stroke="#f26c14" stroke-width="1.0" stroke-linecap="round"/><path d="M770.8,325.7 Q773.3,326.8 774.2,330.2" fill="none" stroke="#f26c14" stroke-width="1.6" stroke-linecap="round"/><path d="M807.2,339.5 Q808.6,343.1 809.2,343.4" fill="none" stroke="#e6dc22" stroke-width="1.3" stroke-linecap="round"/><path d="M800.0,337.7 Q798.1,336.4 796.0,336.9" fill="none" stroke="#98d622" stroke-width="1.2" stroke-linecap="round"/><path d="M807.4,339.6 Q809.8,342.5 810.4,343.7" fill="none" stroke="#98d622" stroke-width="1.2" stroke-linecap="round"/><path d="M797.7,337.9 Q800.7,336.9 801.4,334.4" fill="none" stroke="#98d622" stroke-width="1.4" stroke-linecap="round"/><path d="M794.6,322.5 Q795.1,324.5 796.1,329.2" fill="none" stroke="#c8d820" stroke-width="1.2" stroke-linecap="round"/></g>
<g id="arm"><g filter="url(#bl2)"><ellipse cx="-18" cy="-13" rx="15" ry="12" transform="rotate(10 -18 -13)" fill="#ea1d1d" opacity="0.25"/><ellipse cx="19" cy="-20" rx="11" ry="10" transform="rotate(0 19 -20)" fill="#25c6e8" opacity="0.2"/><ellipse cx="13" cy="8" rx="15" ry="17" transform="rotate(0 13 8)" fill="#e0a030" opacity="0.3"/><ellipse cx="-20" cy="10" rx="8" ry="6" transform="rotate(0 -20 10)" fill="#8a9a20" opacity="0.25"/></g><path d="M-6.4,24.0 Q-8.2,21.3 -9.0,21.0 Q-9.8,20.8 -9.4,24.4 Q-8.9,28.0 -8.5,26.6 L-8.0,25.2" fill="none" stroke="#c8c860" stroke-width="0.9" stroke-linecap="round" opacity="1"/><path d="M-14.9,26.5 Q-9.1,25.5 -10.5,24.5 Q-11.9,23.5 -12.6,21.7 Q-13.3,19.9 -12.8,18.7 L-12.2,17.6" fill="none" stroke="#c8c860" stroke-width="0.9" stroke-linecap="round" opacity="1"/><path d="M-20.2,19.2 Q-20.5,17.3 -17.7,19.2 Q-14.9,21.2 -14.4,21.1 Q-13.9,21.0 -13.3,23.7 L-12.6,26.4" fill="none" stroke="#98d622" stroke-width="0.9" stroke-linecap="round" opacity="1"/><path d="M2.7,25.8 Q-0.0,23.4 0.3,26.8 Q0.7,30.2 -0.3,29.4 Q-1.4,28.6 -1.8,27.7 L-2.3,26.8" fill="none" stroke="#c8c860" stroke-width="0.9" stroke-linecap="round" opacity="1"/><path d="M-10.4,24.7 Q-3.2,20.0 -3.9,25.8 Q-4.7,31.6 -6.3,31.7 Q-7.9,31.9 -11.4,27.0 L-14.8,22.2" fill="none" stroke="#98d622" stroke-width="0.9" stroke-linecap="round" opacity="1"/><path d="M-5.9,16.4 Q-7.4,20.1 -6.8,20.1 Q-6.2,20.2 -5.8,19.7 Q-5.3,19.1 -3.2,19.2 L-1.1,19.4" fill="none" stroke="#c8c860" stroke-width="0.9" stroke-linecap="round" opacity="1"/><path d="M2.0,28.0 Q8.0,33.0 12.0,32.0 Q16.0,31.0 18.0,28.5 Q20.0,26.0 17.0,25.0 L14.0,24.0" fill="none" stroke="#5a60d8" stroke-width="1.0" stroke-linecap="round" opacity="1"/><path d="M14.0,22.0 Q22.0,28.0 24.0,25.0 L26.0,22.0" fill="none" stroke="#8a70d0" stroke-width="0.9" stroke-linecap="round" opacity="1"/><path d="M30.0,6.0 Q37.0,10.0 36.0,13.5 Q35.0,17.0 32.0,15.5 L29.0,14.0" fill="none" stroke="#f0a070" stroke-width="1.0" stroke-linecap="round" opacity="1"/><line x1="20.7" y1="-8.6" x2="20.9" y2="-15.3" stroke="#26acb9" stroke-width="3.0" stroke-dasharray="2.2 1.4" opacity="0.8"/><path d="M22.1,-7.6 L19.4,-11.8 L22.2,-12.1 L19.5,-16.3" fill="none" stroke="#30d8e8" stroke-width="1.4" stroke-linejoin="round" stroke-linecap="round"/><line x1="8.1" y1="-14.9" x2="15.0" y2="-14.6" stroke="#268cb9" stroke-width="3.4" stroke-dasharray="2.2 1.4" opacity="0.8"/><path d="M7.1,-13.3 L11.4,-16.4 L11.7,-13.1 L16.0,-16.1" fill="none" stroke="#30b0e8" stroke-width="1.4" stroke-linejoin="round" stroke-linecap="round"/><line x1="18.5" y1="-23.5" x2="15.7" y2="-33.9" stroke="#26acb9" stroke-width="3.1" stroke-dasharray="2.2 1.4" opacity="0.8"/><path d="M20.2,-23.0 L16.4,-25.7 L19.3,-26.5 L15.4,-29.2 L18.3,-30.0 L14.5,-32.7 L17.4,-33.5" fill="none" stroke="#30d8e8" stroke-width="1.4" stroke-linejoin="round" stroke-linecap="round"/><path d="M16.9,-9.5 Q18.3,-15.5 16.2,-11.2 Q14.1,-6.8 16.9,-11.2 Q19.7,-15.5 17.9,-14.6 L16.2,-13.7" fill="none" stroke="#25c6e8" stroke-width="0.9" stroke-linecap="round" opacity="1"/><line x1="20.3" y1="-6.3" x2="19.2" y2="-12.9" stroke="#268cb9" stroke-width="3.5" stroke-dasharray="2.2 1.4" opacity="0.8"/><path d="M22.0,-5.7 L18.1,-9.1 L21.3,-10.1 L17.5,-13.5" fill="none" stroke="#30b0e8" stroke-width="1.4" stroke-linejoin="round" stroke-linecap="round"/><line x1="23.8" y1="-15.1" x2="23.4" y2="-21.2" stroke="#1d9eb9" stroke-width="3.1" stroke-dasharray="2.2 1.4" opacity="0.8"/><path d="M25.3,-14.2 L22.1,-17.9 L25.1,-18.4 L21.9,-22.0" fill="none" stroke="#25c6e8" stroke-width="1.4" stroke-linejoin="round" stroke-linecap="round"/><line x1="22.1" y1="-25.7" x2="20.6" y2="-33.0" stroke="#26acb9" stroke-width="2.8" stroke-dasharray="2.2 1.4" opacity="0.8"/><path d="M23.6,-25.1 L20.3,-28.1 L22.8,-28.7 L19.5,-31.8 L22.1,-32.4" fill="none" stroke="#30d8e8" stroke-width="1.4" stroke-linejoin="round" stroke-linecap="round"/><line x1="15.3" y1="-14.6" x2="24.9" y2="-15.0" stroke="#26acb9" stroke-width="3.8" stroke-dasharray="2.2 1.4" opacity="0.8"/><path d="M14.4,-12.8 L18.0,-16.5 L18.3,-12.9 L21.9,-16.6 L22.2,-13.1 L25.8,-16.8" fill="none" stroke="#30d8e8" stroke-width="1.4" stroke-linejoin="round" stroke-linecap="round"/><line x1="10.3" y1="-15.8" x2="20.6" y2="-16.1" stroke="#268cb9" stroke-width="2.7" stroke-dasharray="2.2 1.4" opacity="0.8"/><path d="M9.4,-14.4 L13.2,-17.1 L13.6,-14.6 L17.3,-17.3 L17.7,-14.7 L21.5,-17.4" fill="none" stroke="#30b0e8" stroke-width="1.4" stroke-linejoin="round" stroke-linecap="round"/><line x1="15.6" y1="-28.7" x2="22.4" y2="-32.7" stroke="#1d9eb9" stroke-width="2.8" stroke-dasharray="2.2 1.4" opacity="0.8"/><path d="M15.5,-27.1 L17.4,-31.3 L18.9,-29.1 L20.8,-33.3 L22.3,-31.1" fill="none" stroke="#25c6e8" stroke-width="1.4" stroke-linejoin="round" stroke-linecap="round"/><line x1="25.9" y1="-10.7" x2="30.3" y2="-19.3" stroke="#268cb9" stroke-width="3.7" stroke-dasharray="2.2 1.4" opacity="0.8"/><path d="M27.1,-9.1 L25.7,-14.0 L28.8,-12.5 L27.4,-17.4 L30.6,-16.0 L29.1,-20.9" fill="none" stroke="#30b0e8" stroke-width="1.4" stroke-linejoin="round" stroke-linecap="round"/><path d="M14.0,-18.7 Q12.0,-12.8 10.4,-11.5 Q8.9,-10.2 8.2,-14.3 Q7.6,-18.4 8.9,-16.3 L10.2,-14.3" fill="none" stroke="#30b0e8" stroke-width="0.9" stroke-linecap="round" opacity="1"/><path d="M-31.0,-22.0 Q-15.9,-17.0 0.0,-17.0" fill="none" stroke="#ea1d1d" stroke-width="3.0" stroke-linecap="butt"/><path d="M-30.0,-19.0 Q-16.4,-14.3 -2.0,-14.0" fill="none" stroke="#8c1010" stroke-width="1.2" stroke-linecap="butt"/><path d="M-33.0,-14.0 Q-17.4,-14.1 -2.0,-11.0" fill="none" stroke="#ea1d1d" stroke-width="2.8" stroke-linecap="butt"/><path d="M-28.0,-25.0 Q-17.4,-20.8 -6.0,-21.0" fill="none" stroke="#8c1010" stroke-width="1.3" stroke-linecap="butt"/><path d="M-34.0,-24.0 Q-33.1,-12.8 -30.0,-2.0" fill="none" stroke="#ea1d1d" stroke-width="2.8" stroke-linecap="butt"/><line x1="-5.0" y1="-30.0" x2="2.0" y2="-18.0" stroke="#a01010" stroke-width="5.5" stroke-dasharray="2.6 1.6" opacity="0.8"/><path d="M-7.7,-29.5 L-1.1,-28.5 L-5.4,-25.5 L1.2,-24.5 L-3.0,-21.5 L3.5,-20.5 L-0.7,-17.5" fill="none" stroke="#c81414" stroke-width="2.2" stroke-linejoin="round" stroke-linecap="round"/><line x1="-33.0" y1="-4.0" x2="-8.0" y2="-1.0" stroke="#bb1717" stroke-width="5.0" stroke-dasharray="2.2 1.4" opacity="0.8"/><path d="M-34.2,-1.7 L-29.9,-6.0 L-30.3,-1.3 L-26.1,-5.6 L-26.5,-0.8 L-22.2,-5.1 L-22.6,-0.3 L-18.4,-4.7 L-18.8,0.1 L-14.5,-4.2 L-14.9,0.6 L-10.7,-3.7 L-11.1,1.0 L-6.8,-3.3" fill="none" stroke="#ea1d1d" stroke-width="2.0" stroke-linejoin="round" stroke-linecap="round"/><line x1="-30.0" y1="2.0" x2="-12.0" y2="4.0" stroke="#b3260c" stroke-width="4.2" stroke-dasharray="2.2 1.4" opacity="0.8"/><path d="M-31.1,3.9 L-27.1,0.3 L-27.5,4.3 L-23.5,0.7 L-23.9,4.7 L-19.9,1.1 L-20.3,5.1 L-16.3,1.5 L-16.7,5.5 L-12.7,1.9 L-13.1,5.9" fill="none" stroke="#e03010" stroke-width="1.8" stroke-linejoin="round" stroke-linecap="round"/><line x1="-15.2" y1="-14.9" x2="-8.7" y2="-8.6" stroke="#bb1717" stroke-width="4.3" stroke-dasharray="2.2 1.4" opacity="0.8"/><path d="M-17.3,-14.1 L-11.5,-14.2 L-14.0,-10.9 L-8.3,-11.1 L-10.8,-7.8" fill="none" stroke="#ea1d1d" stroke-width="1.9" stroke-linejoin="round" stroke-linecap="round"/><line x1="-33.4" y1="-16.2" x2="-23.9" y2="-9.7" stroke="#bb1717" stroke-width="4.2" stroke-dasharray="2.2 1.4" opacity="0.8"/><path d="M-35.3,-15.0 L-29.9,-16.2 L-32.1,-12.9 L-26.8,-14.1 L-29.0,-10.7 L-23.6,-11.9 L-25.8,-8.5" fill="none" stroke="#ea1d1d" stroke-width="1.9" stroke-linejoin="round" stroke-linecap="round"/><line x1="-29.6" y1="-19.1" x2="-18.7" y2="-17.2" stroke="#bb1717" stroke-width="4.8" stroke-dasharray="2.2 1.4" opacity="0.8"/><path d="M-30.9,-17.0 L-26.5,-20.8 L-27.2,-16.4 L-22.9,-20.2 L-23.6,-15.7 L-19.3,-19.6 L-20.0,-15.1" fill="none" stroke="#ea1d1d" stroke-width="1.9" stroke-linejoin="round" stroke-linecap="round"/><line x1="-29.2" y1="-18.1" x2="-21.6" y2="-17.3" stroke="#bb1717" stroke-width="3.9" stroke-dasharray="2.2 1.4" opacity="0.8"/><path d="M-30.3,-16.3 L-26.3,-19.6 L-26.5,-15.9 L-22.5,-19.2 L-22.7,-15.5" fill="none" stroke="#ea1d1d" stroke-width="1.9" stroke-linejoin="round" stroke-linecap="round"/><line x1="-24.9" y1="-9.0" x2="-15.1" y2="-4.0" stroke="#a61313" stroke-width="3.5" stroke-dasharray="2.2 1.4" opacity="0.8"/><path d="M-26.5,-8.0 L-21.7,-9.3 L-23.2,-6.3 L-18.5,-7.6 L-19.9,-4.6 L-15.2,-5.9 L-16.7,-2.9" fill="none" stroke="#d01818" stroke-width="1.9" stroke-linejoin="round" stroke-linecap="round"/><line x1="-19.8" y1="-15.1" x2="-14.7" y2="-11.7" stroke="#bb1717" stroke-width="3.6" stroke-dasharray="2.2 1.4" opacity="0.8"/><path d="M-21.5,-14.1 L-16.4,-14.9 L-18.1,-11.9 L-13.0,-12.7" fill="none" stroke="#ea1d1d" stroke-width="1.9" stroke-linejoin="round" stroke-linecap="round"/><path d="M-16.3,-12.7 Q-9.4,-14.9 -13.1,-16.0 Q-16.7,-17.1 -11.9,-16.7 Q-7.0,-16.4 -7.8,-13.1 L-8.5,-9.9" fill="none" stroke="#d01818" stroke-width="0.9" stroke-linecap="round" opacity="1"/><line x1="-22.6" y1="-17.9" x2="-12.1" y2="-20.1" stroke="#a61313" stroke-width="4.1" stroke-dasharray="2.2 1.4" opacity="0.8"/><path d="M-23.1,-15.7 L-20.0,-20.4 L-18.9,-16.6 L-15.8,-21.3 L-14.7,-17.5 L-11.7,-22.2" fill="none" stroke="#d01818" stroke-width="1.9" stroke-linejoin="round" stroke-linecap="round"/><path d="M-36.0,-22.0 Q-39.0,-18.0 -37.5,-15.0 L-36.0,-12.0" fill="none" stroke="#f06060" stroke-width="0.9" stroke-linecap="round" opacity="1"/><circle cx="-1" cy="-9" r="1.3" fill="#8c1010"/><circle cx="1" cy="-4" r="1.2" fill="#8c1010"/><path d="M-28.4,16.1 L-28.1,9.1 L-25.2,14.4 L-24.9,7.4 L-22.1,12.6 L-21.8,5.6 L-18.9,10.9 L-18.6,3.9" fill="none" stroke="#6e7a12" stroke-width="1.5" stroke-linejoin="round" stroke-linecap="round"/><path d="M-37.0,3.0 Q-34.0,7.0 -35.0,8.5 L-36.0,10.0" fill="none" stroke="#6e8a20" stroke-width="1.2" stroke-linecap="round" opacity="1"/><path d="M16.3,14.3 Q15.9,14.2 11.5,18.2" fill="none" stroke="#e6dc22" stroke-width="1.1" stroke-linecap="round"/><path d="M6.5,12.2 Q8.7,12.4 10.3,9.8" fill="none" stroke="#f0a020" stroke-width="1.5" stroke-linecap="round"/><path d="M15.7,-2.7 Q15.9,-4.7 14.6,-8.9" fill="none" stroke="#28b8d8" stroke-width="1.2" stroke-linecap="round"/><path d="M7.5,-13.7 Q8.7,-11.8 5.0,-7.3" fill="none" stroke="#22d022" stroke-width="1.3" stroke-linecap="round"/><path d="M-1.3,4.6 Q-4.2,1.3 -7.1,2.7" fill="none" stroke="#1fc46a" stroke-width="1.4" stroke-linecap="round"/><path d="M-4.5,10.4 Q-6.0,10.0 -7.1,4.3" fill="none" stroke="#30a0e8" stroke-width="1.8" stroke-linecap="round"/><path d="M19.8,23.7 Q14.2,22.3 13.0,24.0" fill="none" stroke="#30a0e8" stroke-width="1.6" stroke-linecap="round"/><path d="M20.0,6.3 Q22.9,7.5 22.6,10.6" fill="none" stroke="#e6dc22" stroke-width="2.0" stroke-linecap="round"/><path d="M23.2,8.7 Q22.7,9.7 22.0,12.1" fill="none" stroke="#e04818" stroke-width="1.2" stroke-linecap="round"/><path d="M12.4,7.1 Q12.4,6.2 10.0,5.2" fill="none" stroke="#e6dc22" stroke-width="1.5" stroke-linecap="round"/><path d="M21.9,5.8 Q24.2,3.1 27.4,2.9" fill="none" stroke="#e04818" stroke-width="1.1" stroke-linecap="round"/><path d="M5.8,20.1 Q7.0,17.4 9.7,17.2" fill="none" stroke="#22d022" stroke-width="1.9" stroke-linecap="round"/><path d="M-4.5,16.9 Q-3.4,17.7 -0.7,17.4" fill="none" stroke="#f0a020" stroke-width="1.7" stroke-linecap="round"/><path d="M4.0,5.9 Q2.8,6.5 -1.4,6.0" fill="none" stroke="#28b8d8" stroke-width="1.7" stroke-linecap="round"/><path d="M16.4,20.7 Q16.0,19.1 12.6,17.3" fill="none" stroke="#28b8d8" stroke-width="1.5" stroke-linecap="round"/><path d="M20.7,12.0 Q22.7,11.4 23.2,8.9" fill="none" stroke="#1fd0ae" stroke-width="1.3" stroke-linecap="round"/><path d="M3.0,19.5 Q5.9,20.9 4.4,26.3" fill="none" stroke="#28b8d8" stroke-width="1.1" stroke-linecap="round"/><path d="M-0.9,0.2 Q-3.8,2.6 -7.1,2.9" fill="none" stroke="#28b8d8" stroke-width="1.4" stroke-linecap="round"/><path d="M-3.1,15.1 Q-2.3,13.3 2.7,11.5" fill="none" stroke="#f0a020" stroke-width="1.5" stroke-linecap="round"/><path d="M14.8,-7.2 Q15.0,-6.3 17.9,-5.7" fill="none" stroke="#30a0e8" stroke-width="1.9" stroke-linecap="round"/><path d="M8.0,-7.6 Q8.4,-7.1 10.7,-5.2" fill="none" stroke="#1fc46a" stroke-width="1.6" stroke-linecap="round"/><path d="M-3.9,12.4 Q-2.7,13.0 -0.9,14.0" fill="none" stroke="#f0a020" stroke-width="1.4" stroke-linecap="round"/><path d="M14.4,-10.4 Q11.8,-13.7 12.5,-16.5" fill="none" stroke="#f0a020" stroke-width="1.4" stroke-linecap="round"/><path d="M1.2,-7.3 Q0.6,-6.7 -1.9,-7.5" fill="none" stroke="#e6dc22" stroke-width="1.6" stroke-linecap="round"/><path d="M1.1,6.8 Q-1.6,7.5 -2.1,11.9" fill="none" stroke="#1fd0ae" stroke-width="1.8" stroke-linecap="round"/><path d="M4.7,23.8 Q8.0,23.1 8.9,19.9" fill="none" stroke="#e6dc22" stroke-width="1.2" stroke-linecap="round"/><path d="M-0.2,16.3 Q0.3,19.2 -1.3,19.5" fill="none" stroke="#22d022" stroke-width="1.2" stroke-linecap="round"/><path d="M26.6,10.2 Q25.4,12.8 23.6,15.0" fill="none" stroke="#e6dc22" stroke-width="1.5" stroke-linecap="round"/><path d="M8.2,-7.0 Q10.2,-6.9 11.6,-3.9" fill="none" stroke="#1fc46a" stroke-width="1.7" stroke-linecap="round"/><path d="M-0.1,1.5 Q1.3,0.8 3.5,2.7" fill="none" stroke="#f26c14" stroke-width="1.3" stroke-linecap="round"/><path d="M6.8,6.3 Q6.0,6.0 2.4,8.9" fill="none" stroke="#e04818" stroke-width="1.8" stroke-linecap="round"/><path d="M-4.5,11.5 Q-3.3,9.0 -4.3,8.3" fill="none" stroke="#e04818" stroke-width="2.0" stroke-linecap="round"/><path d="M24.0,9.0 Q22.1,6.9 20.2,6.3" fill="none" stroke="#e6dc22" stroke-width="1.6" stroke-linecap="round"/><path d="M6.9,-0.4 Q4.5,-1.7 4.0,-4.7" fill="none" stroke="#f26c14" stroke-width="1.0" stroke-linecap="round"/><path d="M20.8,11.2 Q19.9,7.8 17.7,7.7" fill="none" stroke="#f0a020" stroke-width="1.7" stroke-linecap="round"/><path d="M27.2,2.7 Q22.4,3.3 20.4,3.7" fill="none" stroke="#e04818" stroke-width="1.1" stroke-linecap="round"/><path d="M18.5,-12.8 Q18.0,-12.4 15.5,-11.1" fill="none" stroke="#1fd0ae" stroke-width="1.1" stroke-linecap="round"/><path d="M10.0,12.2 Q8.3,12.5 6.1,13.3" fill="none" stroke="#30a0e8" stroke-width="1.8" stroke-linecap="round"/><path d="M-4.0,-4.2 Q-2.3,-3.1 -0.6,-0.6" fill="none" stroke="#30a0e8" stroke-width="1.6" stroke-linecap="round"/><path d="M6.3,-0.7 Q5.6,-2.6 4.2,-5.6" fill="none" stroke="#28b8d8" stroke-width="1.2" stroke-linecap="round"/><path d="M3.4,4.2 Q2.3,1.8 1.0,1.8" fill="none" stroke="#1fc46a" stroke-width="1.9" stroke-linecap="round"/><path d="M-4.0,-4.3 Q-2.1,-5.2 0.9,-4.9" fill="none" stroke="#e04818" stroke-width="1.7" stroke-linecap="round"/><path d="M-0.8,20.5 Q-4.3,18.0 -5.1,16.2" fill="none" stroke="#f26c14" stroke-width="1.4" stroke-linecap="round"/><path d="M-3.3,-5.6 Q-2.8,-6.7 -0.5,-10.2" fill="none" stroke="#1fd0ae" stroke-width="1.4" stroke-linecap="round"/><path d="M4.4,-8.9 Q4.4,-9.9 6.7,-11.3" fill="none" stroke="#e04818" stroke-width="1.8" stroke-linecap="round"/><path d="M6.6,18.8 Q10.2,19.3 10.9,19.1" fill="none" stroke="#f26c14" stroke-width="1.5" stroke-linecap="round"/><path d="M17.6,0.4 Q19.5,-1.4 20.4,-2.2" fill="none" stroke="#1fc46a" stroke-width="1.3" stroke-linecap="round"/><path d="M5.6,11.4 Q7.0,9.9 10.3,8.1" fill="none" stroke="#f26c14" stroke-width="1.5" stroke-linecap="round"/><path d="M15.1,5.1 Q15.4,7.5 20.5,8.2" fill="none" stroke="#e6dc22" stroke-width="1.8" stroke-linecap="round"/><path d="M19.5,-0.4 Q18.4,-0.2 16.7,1.9" fill="none" stroke="#1fc46a" stroke-width="1.8" stroke-linecap="round"/><path d="M20.4,-3.1 Q23.1,-2.5 25.5,-2.4" fill="none" stroke="#22d022" stroke-width="1.7" stroke-linecap="round"/><path d="M10.2,16.7 Q12.2,18.6 13.0,18.4" fill="none" stroke="#1fc46a" stroke-width="1.0" stroke-linecap="round"/><path d="M14.3,-8.0 Q16.0,-10.1 16.2,-12.2" fill="none" stroke="#30a0e8" stroke-width="1.3" stroke-linecap="round"/><path d="M7.8,2.0 Q7.3,-0.0 9.4,-2.0" fill="none" stroke="#1fc46a" stroke-width="1.7" stroke-linecap="round"/><path d="M22.8,4.9 Q25.7,3.8 25.4,-0.1" fill="none" stroke="#1fc46a" stroke-width="1.9" stroke-linecap="round"/><path d="M28.5,12.0 Q27.0,11.2 22.7,11.2" fill="none" stroke="#e6dc22" stroke-width="1.9" stroke-linecap="round"/><path d="M3.2,-5.4 Q0.5,-8.0 -0.5,-9.7" fill="none" stroke="#30a0e8" stroke-width="1.3" stroke-linecap="round"/><path d="M5.3,-7.0 Q1.9,-11.5 1.7,-11.9" fill="none" stroke="#e04818" stroke-width="1.0" stroke-linecap="round"/><path d="M10.1,16.3 Q8.9,18.3 8.6,19.8" fill="none" stroke="#e04818" stroke-width="1.6" stroke-linecap="round"/><path d="M1.0,-8.4 Q1.4,-7.2 0.3,-4.8" fill="none" stroke="#30a0e8" stroke-width="1.9" stroke-linecap="round"/><path d="M14.0,19.9 Q13.4,20.7 9.4,20.4" fill="none" stroke="#1fc46a" stroke-width="1.5" stroke-linecap="round"/><path d="M8.1,7.3 Q7.7,7.6 4.1,6.9" fill="none" stroke="#28b8d8" stroke-width="1.9" stroke-linecap="round"/><path d="M11.2,-5.7 Q7.9,-2.7 5.4,-2.6" fill="none" stroke="#1fd0ae" stroke-width="1.3" stroke-linecap="round"/><path d="M24.8,9.3 Q21.3,6.8 20.3,4.0" fill="none" stroke="#1fd0ae" stroke-width="1.6" stroke-linecap="round"/><path d="M-2.5,-4.9 Q-2.0,-6.3 0.6,-6.7" fill="none" stroke="#30a0e8" stroke-width="1.1" stroke-linecap="round"/><path d="M6.8,5.5 Q10.9,3.9 11.9,4.0" fill="none" stroke="#28b8d8" stroke-width="1.4" stroke-linecap="round"/><path d="M23.6,-5.0 Q19.7,-4.3 18.6,-6.4" fill="none" stroke="#f26c14" stroke-width="1.3" stroke-linecap="round"/><path d="M4.0,8.3 Q4.8,6.3 9.6,8.2" fill="none" stroke="#1fd0ae" stroke-width="1.1" stroke-linecap="round"/><path d="M3.3,5.1 Q7.2,2.0 9.5,3.8" fill="none" stroke="#e6dc22" stroke-width="1.7" stroke-linecap="round"/><path d="M6.9,-4.2 Q10.9,-0.6 11.5,-0.3" fill="none" stroke="#28b8d8" stroke-width="1.9" stroke-linecap="round"/><path d="M-2.0,2.0 Q3.2,17.6 14.0,30.0" fill="none" stroke="#f26c14" stroke-width="2.6" stroke-linecap="butt"/><path d="M4.0,-2.0 Q9.2,13.6 20.0,26.0" fill="none" stroke="#f08a18" stroke-width="2.4" stroke-linecap="butt"/><path d="M-12.0,14.0 Q-2.9,13.9 6.0,12.0" fill="none" stroke="#e6dc22" stroke-width="2.6" stroke-linecap="butt"/><path d="M-14.0,20.0 Q-7.0,17.0 -4.0,10.0" fill="none" stroke="#c8b818" stroke-width="1.6" stroke-linecap="butt"/><path d="M10.0,-6.0 Q14.1,7.7 24.0,18.0" fill="none" stroke="#e05a10" stroke-width="2.2" stroke-linecap="butt"/><line x1="5.9" y1="14.6" x2="4.0" y2="5.0" stroke="#2093ac" stroke-width="2.8" stroke-dasharray="2.2 1.4" opacity="0.8"/><path d="M7.4,15.2 L4.1,12.1 L6.6,11.4 L3.3,8.3 L5.9,7.6 L2.5,4.4" fill="none" stroke="#28b8d8" stroke-width="1.6" stroke-linejoin="round" stroke-linecap="round"/><line x1="3.8" y1="4.7" x2="8.0" y2="-0.1" stroke="#2093ac" stroke-width="3.1" stroke-dasharray="2.2 1.4" opacity="0.8"/><path d="M4.3,6.3 L4.7,1.5 L7.1,3.1 L7.5,-1.7" fill="none" stroke="#28b8d8" stroke-width="1.6" stroke-linejoin="round" stroke-linecap="round"/><line x1="14.0" y1="12.5" x2="23.2" y2="12.0" stroke="#c15610" stroke-width="2.8" stroke-dasharray="2.2 1.4" opacity="0.8"/><path d="M13.2,13.9 L16.7,11.0 L16.9,13.7 L20.4,10.8 L20.5,13.5 L24.0,10.6" fill="none" stroke="#f26c14" stroke-width="1.6" stroke-linejoin="round" stroke-linecap="round"/><line x1="17.1" y1="14.0" x2="7.5" y2="14.3" stroke="#189c54" stroke-width="3.6" stroke-dasharray="2.2 1.4" opacity="0.8"/><path d="M17.9,12.2 L14.3,15.8 L14.1,12.4 L10.5,15.9 L10.2,12.5 L6.6,16.1" fill="none" stroke="#1fc46a" stroke-width="1.6" stroke-linejoin="round" stroke-linecap="round"/><line x1="20.1" y1="1.4" x2="24.6" y2="3.8" stroke="#2093ac" stroke-width="3.1" stroke-dasharray="2.2 1.4" opacity="0.8"/><path d="M18.6,2.2 L23.8,1.7 L23.1,4.6" fill="none" stroke="#28b8d8" stroke-width="1.6" stroke-linejoin="round" stroke-linecap="round"/><line x1="24.6" y1="-1.2" x2="18.4" y2="-2.1" stroke="#189c54" stroke-width="3.5" stroke-dasharray="2.2 1.4" opacity="0.8"/><path d="M25.8,-2.7 L21.4,0.0 L21.6,-3.3 L17.3,-0.6" fill="none" stroke="#1fc46a" stroke-width="1.6" stroke-linejoin="round" stroke-linecap="round"/><line x1="8.2" y1="3.6" x2="-0.6" y2="1.1" stroke="#c15610" stroke-width="3.0" stroke-dasharray="2.2 1.4" opacity="0.8"/><path d="M9.4,2.4 L5.2,4.2 L5.9,1.4 L1.6,3.2 L2.4,0.5 L-1.9,2.2" fill="none" stroke="#f26c14" stroke-width="1.6" stroke-linejoin="round" stroke-linecap="round"/><line x1="14.5" y1="-3.8" x2="15.5" y2="3.7" stroke="#c15610" stroke-width="3.8" stroke-dasharray="2.2 1.4" opacity="0.8"/><path d="M12.6,-4.4 L16.7,-1.3 L13.1,-0.7 L17.2,2.5 L13.6,3.1" fill="none" stroke="#f26c14" stroke-width="1.6" stroke-linejoin="round" stroke-linecap="round"/><line x1="10.8" y1="9.2" x2="18.1" y2="15.7" stroke="#c08019" stroke-width="3.6" stroke-dasharray="2.2 1.4" opacity="0.8"/><path d="M9.0,9.9 L14.0,9.8 L11.9,12.5 L17.0,12.4 L14.8,15.1 L19.9,15.0" fill="none" stroke="#f0a020" stroke-width="1.6" stroke-linejoin="round" stroke-linecap="round"/><line x1="1.9" y1="4.6" x2="7.2" y2="6.1" stroke="#18a68b" stroke-width="3.7" stroke-dasharray="2.2 1.4" opacity="0.8"/><path d="M0.6,6.1 L5.0,3.6 L4.1,7.1 L8.5,4.6" fill="none" stroke="#1fd0ae" stroke-width="1.6" stroke-linejoin="round" stroke-linecap="round"/><line x1="11.3" y1="9.3" x2="14.2" y2="16.5" stroke="#1ba61b" stroke-width="3.0" stroke-dasharray="2.2 1.4" opacity="0.8"/><path d="M9.6,9.0 L13.7,11.4 L11.1,12.6 L15.1,15.0 L12.6,16.2" fill="none" stroke="#22d022" stroke-width="1.6" stroke-linejoin="round" stroke-linecap="round"/><path d="M22.8,11.6 Q19.8,9.4 19.4,7.4 Q19.0,5.4 19.4,9.1 Q19.8,12.8 22.7,11.5 L25.7,10.3" fill="none" stroke="#1fd0ae" stroke-width="0.9" stroke-linecap="round" opacity="1"/><path d="M8.2,6.7 Q9.3,7.5 8.7,8.5 Q8.1,9.6 6.8,9.1 Q5.5,8.7 9.3,7.8 L13.1,6.9" fill="none" stroke="#22d022" stroke-width="0.9" stroke-linecap="round" opacity="1"/><line x1="22.5" y1="9.1" x2="20.3" y2="16.2" stroke="#1ba61b" stroke-width="3.2" stroke-dasharray="2.2 1.4" opacity="0.8"/><path d="M21.3,7.8 L23.1,12.2 L20.2,11.3 L22.0,15.7 L19.1,14.9" fill="none" stroke="#22d022" stroke-width="1.6" stroke-linejoin="round" stroke-linecap="round"/><line x1="19.7" y1="14.4" x2="14.7" y2="9.0" stroke="#2093ac" stroke-width="3.7" stroke-dasharray="2.2 1.4" opacity="0.8"/><path d="M21.6,13.9 L16.6,13.6 L19.1,11.1 L14.1,10.9 L16.6,8.4" fill="none" stroke="#28b8d8" stroke-width="1.6" stroke-linejoin="round" stroke-linecap="round"/><line x1="13.1" y1="7.5" x2="10.2" y2="0.5" stroke="#c15610" stroke-width="3.2" stroke-dasharray="2.2 1.4" opacity="0.8"/><path d="M14.8,7.8 L10.6,5.5 L13.4,4.3 L9.2,2.0 L11.9,0.7" fill="none" stroke="#f26c14" stroke-width="1.6" stroke-linejoin="round" stroke-linecap="round"/><line x1="5.9" y1="7.7" x2="11.5" y2="11.3" stroke="#18a68b" stroke-width="3.7" stroke-dasharray="2.2 1.4" opacity="0.8"/><path d="M4.2,8.6 L9.5,7.9 L7.9,11.1 L13.2,10.3" fill="none" stroke="#1fd0ae" stroke-width="1.6" stroke-linejoin="round" stroke-linecap="round"/><line x1="12.3" y1="16.2" x2="2.4" y2="16.5" stroke="#2093ac" stroke-width="3.3" stroke-dasharray="2.2 1.4" opacity="0.8"/><path d="M13.1,14.5 L9.5,17.8 L9.2,14.7 L5.5,18.0 L5.2,14.8 L1.6,18.1" fill="none" stroke="#28b8d8" stroke-width="1.6" stroke-linejoin="round" stroke-linecap="round"/><line x1="4.8" y1="1.3" x2="9.7" y2="-0.9" stroke="#c08019" stroke-width="3.5" stroke-dasharray="2.2 1.4" opacity="0.8"/><path d="M4.6,3.1 L7.4,-1.7 L9.5,1.0" fill="none" stroke="#f0a020" stroke-width="1.6" stroke-linejoin="round" stroke-linecap="round"/><path d="M19.0,3.8 Q19.7,7.6 22.0,5.4 Q24.3,3.2 22.9,4.6 Q21.4,6.0 20.0,3.1 L18.5,0.2" fill="none" stroke="#f26c14" stroke-width="0.9" stroke-linecap="round" opacity="1"/><path d="M7.7,8.5 Q10.5,4.5 13.7,6.9 Q16.9,9.3 14.5,5.4 Q12.2,1.5 11.3,5.2 L10.4,8.8" fill="none" stroke="#1fc46a" stroke-width="0.9" stroke-linecap="round" opacity="1"/><path d="M24.3,-1.9 Q27.1,-3.5 22.7,0.4 Q18.3,4.2 19.5,5.2 Q20.7,6.1 23.8,5.1 L27.0,4.0" fill="none" stroke="#f26c14" stroke-width="0.9" stroke-linecap="round" opacity="1"/><circle cx="12" cy="14" r="2.4" fill="#22d022"/><circle cx="20" cy="8" r="2" fill="#20c080"/><line x1="29.0" y1="-5.0" x2="36.0" y2="2.0" stroke="#c15610" stroke-width="5.0" stroke-dasharray="2.2 1.4" opacity="0.8"/><path d="M26.7,-3.9 L32.7,-4.7 L29.5,-1.1 L35.5,-1.9 L32.3,1.7 L38.3,0.9" fill="none" stroke="#f26c14" stroke-width="2.0" stroke-linejoin="round" stroke-linecap="round"/><line x1="27.0" y1="-1.0" x2="33.0" y2="-8.0" stroke="#b96613" stroke-width="4.2" stroke-dasharray="2.2 1.4" opacity="0.8"/><path d="M27.9,1.0 L27.3,-4.4 L30.3,-1.8 L29.7,-7.2 L32.7,-4.6 L32.1,-10.0" fill="none" stroke="#e88018" stroke-width="1.8" stroke-linejoin="round" stroke-linecap="round"/><path d="M-4.1,-6.3 Q-3.5,-8.3 0.4,-8.2" fill="none" stroke="#1fd0ae" stroke-width="1.1" stroke-linecap="round"/><path d="M7.5,-10.8 Q6.2,-14.1 6.6,-15.7" fill="none" stroke="#8c1010" stroke-width="1.9" stroke-linecap="round"/><path d="M6.5,-17.0 Q6.3,-15.0 4.4,-10.6" fill="none" stroke="#ea1d1d" stroke-width="1.5" stroke-linecap="round"/><path d="M6.3,-10.3 Q6.0,-12.0 2.9,-11.8" fill="none" stroke="#f26c14" stroke-width="1.3" stroke-linecap="round"/><path d="M2.0,-12.3 Q2.2,-14.6 7.5,-16.5" fill="none" stroke="#8c1010" stroke-width="1.4" stroke-linecap="round"/><path d="M9.8,-12.4 Q11.5,-10.6 12.0,-7.6" fill="none" stroke="#28b8d8" stroke-width="1.8" stroke-linecap="round"/><path d="M2.6,-7.6 Q4.4,-7.8 5.9,-12.3" fill="none" stroke="#f26c14" stroke-width="1.6" stroke-linecap="round"/><path d="M10.9,-16.5 Q8.6,-16.5 5.7,-14.3" fill="none" stroke="#f26c14" stroke-width="1.3" stroke-linecap="round"/><path d="M6.3,-3.8 Q3.7,-3.5 3.1,-6.3" fill="none" stroke="#ea1d1d" stroke-width="1.6" stroke-linecap="round"/><path d="M9.1,-15.7 Q10.0,-14.6 10.9,-13.2" fill="none" stroke="#28b8d8" stroke-width="1.7" stroke-linecap="round"/><path d="M6.7,-6.2 Q4.3,-9.2 5.8,-11.6" fill="none" stroke="#1fd0ae" stroke-width="1.8" stroke-linecap="round"/><path d="M7.6,-3.6 Q8.4,-6.0 8.1,-8.6" fill="none" stroke="#28b8d8" stroke-width="1.3" stroke-linecap="round"/><path d="M-2.9,-4.6 Q-3.6,-7.8 0.1,-10.0" fill="none" stroke="#1fd0ae" stroke-width="1.7" stroke-linecap="round"/><path d="M-0.5,-5.4 Q-1.3,-6.4 -3.4,-7.5" fill="none" stroke="#ea1d1d" stroke-width="1.0" stroke-linecap="round"/><path d="M0.4,-11.1 Q2.4,-7.8 4.8,-8.2" fill="none" stroke="#ea1d1d" stroke-width="1.7" stroke-linecap="round"/><path d="M3.4,-15.0 Q5.4,-15.0 8.2,-10.7" fill="none" stroke="#f26c14" stroke-width="1.4" stroke-linecap="round"/><path d="M-10.1,3.3 Q-14.4,4.2 -14.7,6.5" fill="none" stroke="#6e7a12" stroke-width="1.4" stroke-linecap="round"/><path d="M-31.4,16.3 Q-30.0,14.2 -27.9,14.8" fill="none" stroke="#c8c860" stroke-width="1.0" stroke-linecap="round"/><path d="M-29.0,8.6 Q-28.9,10.1 -27.0,11.9" fill="none" stroke="#98d622" stroke-width="1.1" stroke-linecap="round"/><path d="M-19.9,11.9 Q-18.7,13.8 -17.9,16.4" fill="none" stroke="#8a9a20" stroke-width="1.3" stroke-linecap="round"/><path d="M-23.0,6.7 Q-21.9,6.6 -19.3,7.2" fill="none" stroke="#e6dc22" stroke-width="1.0" stroke-linecap="round"/><path d="M-22.7,5.7 Q-19.7,5.6 -18.6,4.0" fill="none" stroke="#8a9a20" stroke-width="0.8" stroke-linecap="round"/><path d="M-25.8,6.9 Q-23.9,9.9 -20.1,10.1" fill="none" stroke="#6e7a12" stroke-width="1.3" stroke-linecap="round"/><path d="M-22.7,12.1 Q-24.6,11.1 -26.5,12.4" fill="none" stroke="#e6dc22" stroke-width="1.0" stroke-linecap="round"/><path d="M-22.5,9.9 Q-21.7,13.2 -18.6,14.3" fill="none" stroke="#c8c860" stroke-width="0.9" stroke-linecap="round"/><path d="M-25.6,8.0 Q-26.5,7.1 -26.6,3.5" fill="none" stroke="#e6dc22" stroke-width="0.9" stroke-linecap="round"/><path d="M-24.6,10.4 Q-21.3,12.8 -20.5,15.3" fill="none" stroke="#8a9a20" stroke-width="1.4" stroke-linecap="round"/><path d="M-15.3,17.9 Q-13.9,22.8 -14.1,23.5" fill="none" stroke="#98d622" stroke-width="1.0" stroke-linecap="round"/><path d="M-9.9,5.0 Q-13.6,5.5 -14.0,7.0" fill="none" stroke="#98d622" stroke-width="1.0" stroke-linecap="round"/><path d="M-12.1,9.7 Q-9.6,8.4 -8.7,8.0" fill="none" stroke="#e6dc22" stroke-width="1.2" stroke-linecap="round"/><path d="M-13.2,23.4 Q-13.3,22.5 -11.6,18.8" fill="none" stroke="#98d622" stroke-width="1.3" stroke-linecap="round"/><path d="M-31.2,4.9 Q-32.5,5.0 -33.3,7.4" fill="none" stroke="#c8c860" stroke-width="1.4" stroke-linecap="round"/><path d="M-26.4,15.2 Q-26.4,13.7 -24.0,13.1" fill="none" stroke="#98d622" stroke-width="1.2" stroke-linecap="round"/><path d="M-27.1,10.7 Q-25.7,14.7 -25.2,15.2" fill="none" stroke="#98d622" stroke-width="0.8" stroke-linecap="round"/><path d="M-11.7,8.1 Q-10.2,9.1 -8.9,9.5" fill="none" stroke="#8a9a20" stroke-width="1.0" stroke-linecap="round"/><path d="M-25.3,17.7 Q-23.5,17.6 -21.8,18.6" fill="none" stroke="#98d622" stroke-width="1.1" stroke-linecap="round"/><path d="M-33.0,7.9 Q-34.2,9.9 -33.5,11.9" fill="none" stroke="#6e7a12" stroke-width="1.5" stroke-linecap="round"/><path d="M-35.3,11.2 Q-35.6,10.3 -31.8,6.2" fill="none" stroke="#98d622" stroke-width="1.0" stroke-linecap="round"/><path d="M6.6,20.4 Q4.2,20.5 3.7,22.6" fill="none" stroke="#f0b070" stroke-width="1.0" stroke-linecap="round"/><path d="M-3.0,23.3 Q-3.6,24.9 -5.8,26.3" fill="none" stroke="#d8d070" stroke-width="1.0" stroke-linecap="round"/><path d="M-10.9,27.6 Q-6.5,28.5 -5.7,24.7" fill="none" stroke="#98d622" stroke-width="1.1" stroke-linecap="round"/><path d="M-7.2,28.1 Q-12.2,28.4 -12.9,27.7" fill="none" stroke="#a0a0e0" stroke-width="1.1" stroke-linecap="round"/><path d="M-2.2,26.3 Q-5.7,29.1 -6.8,30.0" fill="none" stroke="#f0b070" stroke-width="0.8" stroke-linecap="round"/><path d="M8.2,22.3 Q7.9,22.1 4.9,21.0" fill="none" stroke="#d8d070" stroke-width="1.0" stroke-linecap="round"/><path d="M2.8,28.2 Q5.0,28.8 6.0,31.4" fill="none" stroke="#d8d070" stroke-width="1.2" stroke-linecap="round"/><path d="M-6.1,29.8 Q-6.5,25.3 -4.4,23.3" fill="none" stroke="#f0b070" stroke-width="1.0" stroke-linecap="round"/><path d="M-9.5,29.6 Q-7.4,28.5 -6.3,29.4" fill="none" stroke="#98d622" stroke-width="0.8" stroke-linecap="round"/><path d="M-8.8,26.0 Q-6.6,25.1 -7.3,21.6" fill="none" stroke="#a0a0e0" stroke-width="0.8" stroke-linecap="round"/><path d="M-17.7,23.1 Q-17.0,22.0 -13.9,19.0" fill="none" stroke="#a0a0e0" stroke-width="1.1" stroke-linecap="round"/><path d="M10.4,27.2 Q10.8,23.3 8.6,22.4" fill="none" stroke="#d8d070" stroke-width="1.1" stroke-linecap="round"/><path d="M-5.1,31.4 Q-4.7,31.2 -1.7,28.1" fill="none" stroke="#f0b070" stroke-width="1.0" stroke-linecap="round"/><path d="M-13.8,22.1 Q-14.2,23.6 -14.4,25.9" fill="none" stroke="#f0b070" stroke-width="1.0" stroke-linecap="round"/><path d="M0.6,27.6 Q1.5,28.6 4.9,27.7" fill="none" stroke="#a0a0e0" stroke-width="0.9" stroke-linecap="round"/><path d="M-5.8,26.8 Q-7.0,28.2 -8.4,28.8" fill="none" stroke="#80d0a0" stroke-width="0.8" stroke-linecap="round"/><path d="M-12.1,16.5 Q-11.7,21.8 -12.1,22.7" fill="none" stroke="#98d622" stroke-width="0.8" stroke-linecap="round"/><path d="M-7.6,24.5 Q-10.5,25.6 -9.4,29.2" fill="none" stroke="#f0b070" stroke-width="0.7" stroke-linecap="round"/><path d="M17.9,-7.7 Q18.2,-9.1 19.5,-13.4" fill="none" stroke="#ffffff" stroke-width="1.4" stroke-linecap="round"/><path d="M23.6,-10.6 Q27.2,-11.9 28.1,-12.5" fill="none" stroke="#ffffff" stroke-width="0.9" stroke-linecap="round"/><path d="M21.7,-26.0 Q20.6,-23.4 18.3,-23.1" fill="none" stroke="#30b0e8" stroke-width="1.4" stroke-linecap="round"/><path d="M14.1,-23.6 Q17.1,-23.6 19.3,-21.4" fill="none" stroke="#20d8d0" stroke-width="1.5" stroke-linecap="round"/><path d="M13.2,-11.3 Q9.0,-14.0 7.8,-13.0" fill="none" stroke="#20d8d0" stroke-width="1.2" stroke-linecap="round"/><path d="M12.6,-30.7 Q17.2,-27.3 18.2,-26.8" fill="none" stroke="#25c6e8" stroke-width="1.6" stroke-linecap="round"/><path d="M10.6,-14.1 Q13.0,-9.3 16.0,-9.7" fill="none" stroke="#20d8d0" stroke-width="1.3" stroke-linecap="round"/><path d="M24.7,-7.2 Q25.0,-7.6 25.9,-10.2" fill="none" stroke="#20d8d0" stroke-width="1.5" stroke-linecap="round"/><path d="M19.0,-27.0 Q20.5,-31.8 18.3,-32.6" fill="none" stroke="#ffffff" stroke-width="1.4" stroke-linecap="round"/><path d="M22.9,-17.2 Q22.3,-17.4 19.8,-18.6" fill="none" stroke="#1898c8" stroke-width="1.2" stroke-linecap="round"/><path d="M19.4,-9.9 Q17.3,-11.6 14.9,-9.9" fill="none" stroke="#25c6e8" stroke-width="1.3" stroke-linecap="round"/><path d="M15.2,-23.6 Q16.3,-23.1 18.3,-22.7" fill="none" stroke="#30b0e8" stroke-width="1.7" stroke-linecap="round"/><path d="M24.5,-19.0 Q23.6,-20.4 23.9,-26.0" fill="none" stroke="#20d8d0" stroke-width="1.5" stroke-linecap="round"/><path d="M24.3,-27.7 Q24.9,-27.2 26.8,-25.5" fill="none" stroke="#20d8d0" stroke-width="1.6" stroke-linecap="round"/><path d="M22.7,-21.7 Q23.6,-22.6 24.3,-26.2" fill="none" stroke="#20d8d0" stroke-width="1.3" stroke-linecap="round"/><path d="M7.6,-16.2 Q5.6,-19.4 7.9,-22.7" fill="none" stroke="#25c6e8" stroke-width="1.5" stroke-linecap="round"/><path d="M18.8,-6.5 Q18.9,-9.4 19.8,-10.0" fill="none" stroke="#25c6e8" stroke-width="1.6" stroke-linecap="round"/><path d="M13.7,-19.0 Q13.0,-20.1 11.3,-21.0" fill="none" stroke="#1898c8" stroke-width="1.0" stroke-linecap="round"/><path d="M21.6,-7.1 Q21.9,-9.2 21.1,-10.8" fill="none" stroke="#25c6e8" stroke-width="1.6" stroke-linecap="round"/><path d="M20.5,-8.8 Q21.9,-11.0 25.9,-10.7" fill="none" stroke="#ffffff" stroke-width="1.0" stroke-linecap="round"/><path d="M21.8,-20.1 Q24.3,-18.5 24.2,-17.5" fill="none" stroke="#30b0e8" stroke-width="1.1" stroke-linecap="round"/><path d="M8.3,-10.6 Q8.9,-14.9 12.4,-15.0" fill="none" stroke="#30b0e8" stroke-width="1.2" stroke-linecap="round"/><path d="M28.7,-20.9 Q28.1,-20.8 23.9,-19.5" fill="none" stroke="#ffffff" stroke-width="1.2" stroke-linecap="round"/><path d="M15.5,-29.5 Q20.2,-29.4 20.1,-24.9" fill="none" stroke="#ffffff" stroke-width="1.3" stroke-linecap="round"/><path d="M29.4,-18.0 Q29.1,-22.6 29.2,-23.4" fill="none" stroke="#1898c8" stroke-width="1.2" stroke-linecap="round"/><path d="M20.5,-17.0 Q18.0,-13.7 19.9,-11.4" fill="none" stroke="#25c6e8" stroke-width="1.2" stroke-linecap="round"/><path d="M13.3,-22.5 Q13.3,-19.4 9.8,-17.3" fill="none" stroke="#ffffff" stroke-width="1.4" stroke-linecap="round"/><path d="M16.4,-23.5 Q15.6,-24.8 17.2,-26.5" fill="none" stroke="#ffffff" stroke-width="1.2" stroke-linecap="round"/><path d="M7.8,-15.2 Q5.5,-15.5 3.4,-14.4" fill="none" stroke="#ffffff" stroke-width="1.4" stroke-linecap="round"/><path d="M17.9,-24.0 Q15.0,-23.1 14.6,-24.9" fill="none" stroke="#ffffff" stroke-width="1.2" stroke-linecap="round"/><path d="M20.1,-24.6 Q21.7,-25.9 24.0,-24.9" fill="none" stroke="#1898c8" stroke-width="1.0" stroke-linecap="round"/><path d="M29.2,-10.1 Q30.8,-10.8 30.7,-16.5" fill="none" stroke="#1898c8" stroke-width="1.5" stroke-linecap="round"/><path d="M4.9,-19.1 Q10.4,-16.7 11.3,-18.4" fill="none" stroke="#25c6e8" stroke-width="1.0" stroke-linecap="round"/><path d="M12.7,-16.0 Q13.8,-14.1 18.7,-17.0" fill="none" stroke="#ffffff" stroke-width="1.0" stroke-linecap="round"/><path d="M17.6,-28.2 Q18.9,-25.8 21.9,-25.6" fill="none" stroke="#20d8d0" stroke-width="1.4" stroke-linecap="round"/><path d="M18.7,-5.3 Q16.0,-7.3 15.6,-7.2" fill="none" stroke="#25c6e8" stroke-width="1.5" stroke-linecap="round"/><path d="M19.8,-25.8 Q18.4,-25.2 16.4,-27.3" fill="none" stroke="#ffffff" stroke-width="1.7" stroke-linecap="round"/><path d="M14.0,-32.3 Q16.9,-28.7 17.5,-27.2" fill="none" stroke="#20d8d0" stroke-width="1.1" stroke-linecap="round"/><path d="M24.4,-20.4 Q21.3,-18.9 17.8,-20.1" fill="none" stroke="#ffffff" stroke-width="0.9" stroke-linecap="round"/><path d="M15.9,-29.8 Q17.0,-28.6 15.7,-26.4" fill="none" stroke="#1898c8" stroke-width="1.1" stroke-linecap="round"/><path d="M28.6,-19.2 Q33.2,-18.8 33.1,-13.9" fill="none" stroke="#ffffff" stroke-width="1.1" stroke-linecap="round"/><path d="M25.8,-25.5 Q24.1,-24.3 22.6,-22.1" fill="none" stroke="#1898c8" stroke-width="1.2" stroke-linecap="round"/><path d="M9.8,-22.2 Q7.7,-23.1 6.2,-22.9" fill="none" stroke="#ffffff" stroke-width="1.1" stroke-linecap="round"/><path d="M8.6,-23.3 Q6.5,-20.1 6.6,-18.8" fill="none" stroke="#1898c8" stroke-width="1.5" stroke-linecap="round"/><path d="M-26.9,-12.1 Q-25.3,-11.5 -22.4,-8.6" fill="none" stroke="#ffffff" stroke-width="1.7" stroke-linecap="round"/><path d="M-7.4,-15.8 Q-8.1,-18.4 -7.2,-19.0" fill="none" stroke="#8c1010" stroke-width="1.1" stroke-linecap="round"/><path d="M-32.1,-23.8 Q-32.9,-19.0 -32.9,-17.7" fill="none" stroke="#f03030" stroke-width="1.1" stroke-linecap="round"/><path d="M-14.2,-23.1 Q-16.5,-23.3 -17.3,-20.7" fill="none" stroke="#d01818" stroke-width="1.8" stroke-linecap="round"/><path d="M-13.8,-7.7 Q-13.2,-6.1 -8.2,-5.6" fill="none" stroke="#ffffff" stroke-width="1.1" stroke-linecap="round"/><path d="M-24.2,-5.4 Q-27.7,-7.2 -28.5,-9.3" fill="none" stroke="#ffffff" stroke-width="1.5" stroke-linecap="round"/><path d="M-28.8,-8.1 Q-27.7,-11.9 -23.4,-11.4" fill="none" stroke="#ffffff" stroke-width="1.8" stroke-linecap="round"/><path d="M-22.3,-14.7 Q-24.4,-13.4 -25.5,-13.4" fill="none" stroke="#ea1d1d" stroke-width="1.8" stroke-linecap="round"/><path d="M-5.5,-10.4 Q-3.1,-13.5 -2.6,-15.5" fill="none" stroke="#ffffff" stroke-width="2.0" stroke-linecap="round"/><path d="M-20.5,-3.1 Q-19.8,0.4 -19.3,1.4" fill="none" stroke="#ea1d1d" stroke-width="1.2" stroke-linecap="round"/><path d="M-29.8,-13.7 Q-28.8,-14.6 -24.5,-17.7" fill="none" stroke="#f03030" stroke-width="1.5" stroke-linecap="round"/><path d="M-13.5,-12.1 Q-12.5,-14.7 -12.8,-15.4" fill="none" stroke="#ffffff" stroke-width="1.3" stroke-linecap="round"/><path d="M-15.3,-11.5 Q-14.6,-13.8 -13.4,-17.0" fill="none" stroke="#f03030" stroke-width="1.4" stroke-linecap="round"/><path d="M-19.2,-11.7 Q-16.4,-12.9 -15.0,-12.3" fill="none" stroke="#8c1010" stroke-width="1.4" stroke-linecap="round"/><path d="M-23.7,-22.7 Q-22.2,-25.4 -18.2,-25.6" fill="none" stroke="#d01818" stroke-width="1.4" stroke-linecap="round"/><path d="M-19.6,-9.3 Q-16.6,-9.9 -13.0,-10.3" fill="none" stroke="#d01818" stroke-width="1.2" stroke-linecap="round"/><path d="M-15.0,-6.7 Q-15.4,-7.1 -18.6,-6.7" fill="none" stroke="#d01818" stroke-width="1.6" stroke-linecap="round"/><path d="M-26.9,-21.0 Q-22.5,-23.9 -21.1,-22.8" fill="none" stroke="#d01818" stroke-width="1.2" stroke-linecap="round"/><path d="M-28.9,-11.8 Q-29.5,-12.7 -31.6,-14.0" fill="none" stroke="#8c1010" stroke-width="1.7" stroke-linecap="round"/><path d="M-26.2,0.8 Q-25.4,-0.5 -27.0,-3.3" fill="none" stroke="#8c1010" stroke-width="1.1" stroke-linecap="round"/><path d="M-25.5,-19.4 Q-24.2,-20.9 -21.1,-23.0" fill="none" stroke="#8c1010" stroke-width="1.5" stroke-linecap="round"/><path d="M-26.2,-21.3 Q-25.1,-20.2 -27.1,-16.4" fill="none" stroke="#ffffff" stroke-width="1.9" stroke-linecap="round"/><path d="M-16.3,-7.7 Q-15.9,-8.5 -16.8,-12.8" fill="none" stroke="#ffffff" stroke-width="1.3" stroke-linecap="round"/><path d="M-26.1,-7.8 Q-26.4,-4.6 -25.6,-3.1" fill="none" stroke="#ffffff" stroke-width="1.5" stroke-linecap="round"/><path d="M-17.5,-18.9 Q-19.2,-13.1 -16.7,-12.1" fill="none" stroke="#ffffff" stroke-width="1.7" stroke-linecap="round"/><path d="M-28.5,-18.6 Q-28.3,-16.7 -30.7,-15.8" fill="none" stroke="#d01818" stroke-width="1.0" stroke-linecap="round"/><path d="M-18.5,3.7 Q-18.3,0.9 -21.1,-2.2" fill="none" stroke="#ea1d1d" stroke-width="1.4" stroke-linecap="round"/><path d="M-11.2,-19.0 Q-10.3,-19.9 -13.1,-24.1" fill="none" stroke="#ea1d1d" stroke-width="1.4" stroke-linecap="round"/><path d="M-16.0,-23.1 Q-16.6,-22.6 -21.2,-22.7" fill="none" stroke="#d01818" stroke-width="1.9" stroke-linecap="round"/><path d="M-26.6,-22.4 Q-26.8,-19.6 -27.2,-18.8" fill="none" stroke="#d01818" stroke-width="1.9" stroke-linecap="round"/><path d="M-19.7,-7.2 Q-20.3,-7.9 -21.8,-12.2" fill="none" stroke="#ea1d1d" stroke-width="1.8" stroke-linecap="round"/><path d="M-31.1,-22.8 Q-32.7,-21.4 -33.3,-16.2" fill="none" stroke="#d01818" stroke-width="1.7" stroke-linecap="round"/><path d="M-19.8,-6.7 Q-22.2,-12.0 -19.6,-12.9" fill="none" stroke="#d01818" stroke-width="2.0" stroke-linecap="round"/><path d="M-7.3,-14.3 Q-10.1,-11.4 -9.5,-10.5" fill="none" stroke="#8c1010" stroke-width="1.0" stroke-linecap="round"/><path d="M-23.2,-6.8 Q-24.8,-5.5 -27.6,-7.4" fill="none" stroke="#f03030" stroke-width="1.2" stroke-linecap="round"/><path d="M-27.6,-20.8 Q-31.4,-21.7 -33.6,-20.0" fill="none" stroke="#ffffff" stroke-width="1.6" stroke-linecap="round"/><path d="M-15.8,-8.8 Q-17.6,-10.6 -18.5,-10.2" fill="none" stroke="#ffffff" stroke-width="1.3" stroke-linecap="round"/><path d="M-13.9,-3.7 Q-14.9,-5.1 -12.6,-8.7" fill="none" stroke="#d01818" stroke-width="1.4" stroke-linecap="round"/><path d="M-37.3,-15.4 Q-37.4,-15.2 -33.7,-11.1" fill="none" stroke="#f03030" stroke-width="2.0" stroke-linecap="round"/><path d="M-23.9,-11.6 Q-25.1,-5.8 -23.1,-4.6" fill="none" stroke="#ffffff" stroke-width="1.6" stroke-linecap="round"/><g transform="translate(30,41)"><g filter="url(#bl2)"><ellipse cx="-9" cy="0" rx="6" ry="6" transform="rotate(0 -9 0)" fill="#e6dc22" opacity="0.3"/><ellipse cx="9" cy="-2" rx="7" ry="7" transform="rotate(0 9 -2)" fill="#1fc46a" opacity="0.3"/></g><circle cx="-13.0" cy="-4.0" r="1.5" fill="#e8d030"/><circle cx="-9.4" cy="-4.0" r="1.5" fill="#f4a224"/><circle cx="-5.8" cy="-4.0" r="1.5" fill="#e8c838"/><circle cx="-13.0" cy="-0.4" r="1.5" fill="#f4a224"/><circle cx="-9.4" cy="-0.4" r="1.5" fill="#e8c838"/><circle cx="-5.8" cy="-0.4" r="1.5" fill="#e8d030"/><circle cx="-13.0" cy="3.2" r="1.5" fill="#e8c838"/><circle cx="-9.4" cy="3.2" r="1.5" fill="#e8d030"/><circle cx="-5.8" cy="3.2" r="1.5" fill="#f4a224"/><line x1="-3.5" y1="5.0" x2="-6.0" y2="0.5" stroke="#a01818" stroke-width="1.2"/><line x1="-1.5" y1="3.8" x2="-4.0" y2="-0.7" stroke="#a01818" stroke-width="1.2"/><line x1="0.5" y1="2.6" x2="-2.0" y2="-1.9" stroke="#a01818" stroke-width="1.2"/><line x1="2.5" y1="1.4" x2="0.0" y2="-3.1" stroke="#a01818" stroke-width="1.2"/><line x1="4.0" y1="-7.0" x2="9.0" y2="5.0" stroke="#189c54" stroke-width="4.2" stroke-dasharray="2.2 1.4" opacity="0.8"/><path d="M1.8,-7.1 L6.9,-5.2 L3.2,-3.6 L8.3,-1.8 L4.7,-0.2 L9.8,1.6 L6.1,3.2 L11.2,5.1" fill="none" stroke="#1fc46a" stroke-width="1.7" stroke-linejoin="round" stroke-linecap="round"/><line x1="9.0" y1="-8.0" x2="14.0" y2="2.0" stroke="#19a080" stroke-width="4.2" stroke-dasharray="2.2 1.4" opacity="0.8"/><path d="M6.8,-7.9 L12.0,-6.4 L8.5,-4.6 L13.7,-3.1 L10.1,-1.2 L15.4,0.2 L11.8,2.1" fill="none" stroke="#20c8a0" stroke-width="1.7" stroke-linejoin="round" stroke-linecap="round"/><line x1="0.0" y1="-10.0" x2="8.0" y2="-12.0" stroke="#2080b3" stroke-width="3.2" stroke-dasharray="2.2 1.4" opacity="0.8"/><path d="M-0.5,-8.3 L2.5,-12.2 L3.5,-9.3 L6.5,-13.2 L7.5,-10.3" fill="none" stroke="#28a0e0" stroke-width="1.4" stroke-linejoin="round" stroke-linecap="round"/><path d="M13.0,3.0 Q16.0,6.0 15.0,7.5 L14.0,9.0" fill="none" stroke="#60c040" stroke-width="0.9" stroke-linecap="round" opacity="1"/></g><g transform="translate(45,53)"><g filter="url(#bl2)"><ellipse cx="0" cy="0" rx="12" ry="6" transform="rotate(-20 0 0)" fill="#f07030" opacity="0.3"/></g><path d="M-13.0,4.0 Q-2.0,-2.1 10.0,-6.0" fill="none" stroke="#ea1d1d" stroke-width="2.2" stroke-linecap="butt"/><path d="M-10.0,8.0 Q0.4,1.4 12.0,-3.0" fill="none" stroke="#f26c14" stroke-width="2.0" stroke-linecap="butt"/><path d="M-4.0,9.0 Q3.0,5.0 10.0,1.0" fill="none" stroke="#e6dc22" stroke-width="1.8" stroke-linecap="butt"/><path d="M-6.0,1.0 Q1.4,-2.8 8.0,-8.0" fill="none" stroke="#e83818" stroke-width="1.8" stroke-linecap="butt"/><path d="M10.0,-7.0 Q15.0,-5.0 15.5,-2.0 Q16.0,1.0 14.0,2.5 Q12.0,4.0 10.0,3.0 L8.0,2.0" fill="none" stroke="#f07060" stroke-width="1.1" stroke-linecap="round" opacity="1"/><path d="M-12.0,3.0 Q-15.0,6.0 -14.0,8.0 L-13.0,10.0" fill="none" stroke="#e04030" stroke-width="1.2" stroke-linecap="round" opacity="1"/><path d="M2.0,10.0 Q5.0,8.0 8.0,6.0" fill="none" stroke="#e8c030" stroke-width="1.4" stroke-linecap="butt"/></g><path d="M22.0,26.0 Q27.0,30.0 25.5,32.0 Q24.0,34.0 27.0,34.0 L30.0,34.0" fill="none" stroke="#5a70e0" stroke-width="1.0" stroke-linecap="round" opacity="1"/><path d="M46,59 L50,65 M46,66 L53,63.5 M50,65 L51,69" stroke="#262626" stroke-width="1.6" fill="none" stroke-linecap="round"/></g>
<g id="fclB"><g filter="url(#bl2)"><ellipse cx="-18" cy="-13" rx="15" ry="12" transform="rotate(10 -18 -13)" fill="#ea1d1d" opacity="0.25"/><ellipse cx="19" cy="-20" rx="11" ry="10" transform="rotate(0 19 -20)" fill="#25c6e8" opacity="0.2"/><ellipse cx="13" cy="8" rx="15" ry="17" transform="rotate(0 13 8)" fill="#e0a030" opacity="0.3"/><ellipse cx="-20" cy="10" rx="8" ry="6" transform="rotate(0 -20 10)" fill="#8a9a20" opacity="0.25"/></g><path d="M-6.4,24.0 Q-8.2,21.3 -9.0,21.0 Q-9.8,20.8 -9.4,24.4 Q-8.9,28.0 -8.5,26.6 L-8.0,25.2" fill="none" stroke="#c8c860" stroke-width="0.9" stroke-linecap="round" opacity="1"/><path d="M-14.9,26.5 Q-9.1,25.5 -10.5,24.5 Q-11.9,23.5 -12.6,21.7 Q-13.3,19.9 -12.8,18.7 L-12.2,17.6" fill="none" stroke="#c8c860" stroke-width="0.9" stroke-linecap="round" opacity="1"/><path d="M-20.2,19.2 Q-20.5,17.3 -17.7,19.2 Q-14.9,21.2 -14.4,21.1 Q-13.9,21.0 -13.3,23.7 L-12.6,26.4" fill="none" stroke="#98d622" stroke-width="0.9" stroke-linecap="round" opacity="1"/><path d="M2.7,25.8 Q-0.0,23.4 0.3,26.8 Q0.7,30.2 -0.3,29.4 Q-1.4,28.6 -1.8,27.7 L-2.3,26.8" fill="none" stroke="#c8c860" stroke-width="0.9" stroke-linecap="round" opacity="1"/><path d="M-10.4,24.7 Q-3.2,20.0 -3.9,25.8 Q-4.7,31.6 -6.3,31.7 Q-7.9,31.9 -11.4,27.0 L-14.8,22.2" fill="none" stroke="#98d622" stroke-width="0.9" stroke-linecap="round" opacity="1"/><path d="M-5.9,16.4 Q-7.4,20.1 -6.8,20.1 Q-6.2,20.2 -5.8,19.7 Q-5.3,19.1 -3.2,19.2 L-1.1,19.4" fill="none" stroke="#c8c860" stroke-width="0.9" stroke-linecap="round" opacity="1"/><path d="M2.0,28.0 Q8.0,33.0 12.0,32.0 Q16.0,31.0 18.0,28.5 Q20.0,26.0 17.0,25.0 L14.0,24.0" fill="none" stroke="#5a60d8" stroke-width="1.0" stroke-linecap="round" opacity="1"/><path d="M14.0,22.0 Q22.0,28.0 24.0,25.0 L26.0,22.0" fill="none" stroke="#8a70d0" stroke-width="0.9" stroke-linecap="round" opacity="1"/><path d="M30.0,6.0 Q37.0,10.0 36.0,13.5 Q35.0,17.0 32.0,15.5 L29.0,14.0" fill="none" stroke="#f0a070" stroke-width="1.0" stroke-linecap="round" opacity="1"/><line x1="20.7" y1="-8.6" x2="20.9" y2="-15.3" stroke="#26acb9" stroke-width="3.0" stroke-dasharray="2.2 1.4" opacity="0.8"/><path d="M22.1,-7.6 L19.4,-11.8 L22.2,-12.1 L19.5,-16.3" fill="none" stroke="#30d8e8" stroke-width="1.4" stroke-linejoin="round" stroke-linecap="round"/><line x1="8.1" y1="-14.9" x2="15.0" y2="-14.6" stroke="#268cb9" stroke-width="3.4" stroke-dasharray="2.2 1.4" opacity="0.8"/><path d="M7.1,-13.3 L11.4,-16.4 L11.7,-13.1 L16.0,-16.1" fill="none" stroke="#30b0e8" stroke-width="1.4" stroke-linejoin="round" stroke-linecap="round"/><line x1="18.5" y1="-23.5" x2="15.7" y2="-33.9" stroke="#26acb9" stroke-width="3.1" stroke-dasharray="2.2 1.4" opacity="0.8"/><path d="M20.2,-23.0 L16.4,-25.7 L19.3,-26.5 L15.4,-29.2 L18.3,-30.0 L14.5,-32.7 L17.4,-33.5" fill="none" stroke="#30d8e8" stroke-width="1.4" stroke-linejoin="round" stroke-linecap="round"/><path d="M16.9,-9.5 Q18.3,-15.5 16.2,-11.2 Q14.1,-6.8 16.9,-11.2 Q19.7,-15.5 17.9,-14.6 L16.2,-13.7" fill="none" stroke="#25c6e8" stroke-width="0.9" stroke-linecap="round" opacity="1"/><line x1="20.3" y1="-6.3" x2="19.2" y2="-12.9" stroke="#268cb9" stroke-width="3.5" stroke-dasharray="2.2 1.4" opacity="0.8"/><path d="M22.0,-5.7 L18.1,-9.1 L21.3,-10.1 L17.5,-13.5" fill="none" stroke="#30b0e8" stroke-width="1.4" stroke-linejoin="round" stroke-linecap="round"/><line x1="23.8" y1="-15.1" x2="23.4" y2="-21.2" stroke="#1d9eb9" stroke-width="3.1" stroke-dasharray="2.2 1.4" opacity="0.8"/><path d="M25.3,-14.2 L22.1,-17.9 L25.1,-18.4 L21.9,-22.0" fill="none" stroke="#25c6e8" stroke-width="1.4" stroke-linejoin="round" stroke-linecap="round"/><line x1="22.1" y1="-25.7" x2="20.6" y2="-33.0" stroke="#26acb9" stroke-width="2.8" stroke-dasharray="2.2 1.4" opacity="0.8"/><path d="M23.6,-25.1 L20.3,-28.1 L22.8,-28.7 L19.5,-31.8 L22.1,-32.4" fill="none" stroke="#30d8e8" stroke-width="1.4" stroke-linejoin="round" stroke-linecap="round"/><line x1="15.3" y1="-14.6" x2="24.9" y2="-15.0" stroke="#26acb9" stroke-width="3.8" stroke-dasharray="2.2 1.4" opacity="0.8"/><path d="M14.4,-12.8 L18.0,-16.5 L18.3,-12.9 L21.9,-16.6 L22.2,-13.1 L25.8,-16.8" fill="none" stroke="#30d8e8" stroke-width="1.4" stroke-linejoin="round" stroke-linecap="round"/><line x1="10.3" y1="-15.8" x2="20.6" y2="-16.1" stroke="#268cb9" stroke-width="2.7" stroke-dasharray="2.2 1.4" opacity="0.8"/><path d="M9.4,-14.4 L13.2,-17.1 L13.6,-14.6 L17.3,-17.3 L17.7,-14.7 L21.5,-17.4" fill="none" stroke="#30b0e8" stroke-width="1.4" stroke-linejoin="round" stroke-linecap="round"/><line x1="15.6" y1="-28.7" x2="22.4" y2="-32.7" stroke="#1d9eb9" stroke-width="2.8" stroke-dasharray="2.2 1.4" opacity="0.8"/><path d="M15.5,-27.1 L17.4,-31.3 L18.9,-29.1 L20.8,-33.3 L22.3,-31.1" fill="none" stroke="#25c6e8" stroke-width="1.4" stroke-linejoin="round" stroke-linecap="round"/><line x1="25.9" y1="-10.7" x2="30.3" y2="-19.3" stroke="#268cb9" stroke-width="3.7" stroke-dasharray="2.2 1.4" opacity="0.8"/><path d="M27.1,-9.1 L25.7,-14.0 L28.8,-12.5 L27.4,-17.4 L30.6,-16.0 L29.1,-20.9" fill="none" stroke="#30b0e8" stroke-width="1.4" stroke-linejoin="round" stroke-linecap="round"/><path d="M14.0,-18.7 Q12.0,-12.8 10.4,-11.5 Q8.9,-10.2 8.2,-14.3 Q7.6,-18.4 8.9,-16.3 L10.2,-14.3" fill="none" stroke="#30b0e8" stroke-width="0.9" stroke-linecap="round" opacity="1"/><path d="M-31.0,-22.0 Q-15.9,-17.0 0.0,-17.0" fill="none" stroke="#ea1d1d" stroke-width="3.0" stroke-linecap="butt"/><path d="M-30.0,-19.0 Q-16.4,-14.3 -2.0,-14.0" fill="none" stroke="#8c1010" stroke-width="1.2" stroke-linecap="butt"/><path d="M-33.0,-14.0 Q-17.4,-14.1 -2.0,-11.0" fill="none" stroke="#ea1d1d" stroke-width="2.8" stroke-linecap="butt"/><path d="M-28.0,-25.0 Q-17.4,-20.8 -6.0,-21.0" fill="none" stroke="#8c1010" stroke-width="1.3" stroke-linecap="butt"/><path d="M-34.0,-24.0 Q-33.1,-12.8 -30.0,-2.0" fill="none" stroke="#ea1d1d" stroke-width="2.8" stroke-linecap="butt"/><line x1="-5.0" y1="-30.0" x2="2.0" y2="-18.0" stroke="#a01010" stroke-width="5.5" stroke-dasharray="2.6 1.6" opacity="0.8"/><path d="M-7.7,-29.5 L-1.1,-28.5 L-5.4,-25.5 L1.2,-24.5 L-3.0,-21.5 L3.5,-20.5 L-0.7,-17.5" fill="none" stroke="#c81414" stroke-width="2.2" stroke-linejoin="round" stroke-linecap="round"/><line x1="-33.0" y1="-4.0" x2="-8.0" y2="-1.0" stroke="#bb1717" stroke-width="5.0" stroke-dasharray="2.2 1.4" opacity="0.8"/><path d="M-34.2,-1.7 L-29.9,-6.0 L-30.3,-1.3 L-26.1,-5.6 L-26.5,-0.8 L-22.2,-5.1 L-22.6,-0.3 L-18.4,-4.7 L-18.8,0.1 L-14.5,-4.2 L-14.9,0.6 L-10.7,-3.7 L-11.1,1.0 L-6.8,-3.3" fill="none" stroke="#ea1d1d" stroke-width="2.0" stroke-linejoin="round" stroke-linecap="round"/><line x1="-30.0" y1="2.0" x2="-12.0" y2="4.0" stroke="#b3260c" stroke-width="4.2" stroke-dasharray="2.2 1.4" opacity="0.8"/><path d="M-31.1,3.9 L-27.1,0.3 L-27.5,4.3 L-23.5,0.7 L-23.9,4.7 L-19.9,1.1 L-20.3,5.1 L-16.3,1.5 L-16.7,5.5 L-12.7,1.9 L-13.1,5.9" fill="none" stroke="#e03010" stroke-width="1.8" stroke-linejoin="round" stroke-linecap="round"/><line x1="-15.2" y1="-14.9" x2="-8.7" y2="-8.6" stroke="#bb1717" stroke-width="4.3" stroke-dasharray="2.2 1.4" opacity="0.8"/><path d="M-17.3,-14.1 L-11.5,-14.2 L-14.0,-10.9 L-8.3,-11.1 L-10.8,-7.8" fill="none" stroke="#ea1d1d" stroke-width="1.9" stroke-linejoin="round" stroke-linecap="round"/><line x1="-33.4" y1="-16.2" x2="-23.9" y2="-9.7" stroke="#bb1717" stroke-width="4.2" stroke-dasharray="2.2 1.4" opacity="0.8"/><path d="M-35.3,-15.0 L-29.9,-16.2 L-32.1,-12.9 L-26.8,-14.1 L-29.0,-10.7 L-23.6,-11.9 L-25.8,-8.5" fill="none" stroke="#ea1d1d" stroke-width="1.9" stroke-linejoin="round" stroke-linecap="round"/><line x1="-29.6" y1="-19.1" x2="-18.7" y2="-17.2" stroke="#bb1717" stroke-width="4.8" stroke-dasharray="2.2 1.4" opacity="0.8"/><path d="M-30.9,-17.0 L-26.5,-20.8 L-27.2,-16.4 L-22.9,-20.2 L-23.6,-15.7 L-19.3,-19.6 L-20.0,-15.1" fill="none" stroke="#ea1d1d" stroke-width="1.9" stroke-linejoin="round" stroke-linecap="round"/><line x1="-29.2" y1="-18.1" x2="-21.6" y2="-17.3" stroke="#bb1717" stroke-width="3.9" stroke-dasharray="2.2 1.4" opacity="0.8"/><path d="M-30.3,-16.3 L-26.3,-19.6 L-26.5,-15.9 L-22.5,-19.2 L-22.7,-15.5" fill="none" stroke="#ea1d1d" stroke-width="1.9" stroke-linejoin="round" stroke-linecap="round"/><line x1="-24.9" y1="-9.0" x2="-15.1" y2="-4.0" stroke="#a61313" stroke-width="3.5" stroke-dasharray="2.2 1.4" opacity="0.8"/><path d="M-26.5,-8.0 L-21.7,-9.3 L-23.2,-6.3 L-18.5,-7.6 L-19.9,-4.6 L-15.2,-5.9 L-16.7,-2.9" fill="none" stroke="#d01818" stroke-width="1.9" stroke-linejoin="round" stroke-linecap="round"/><line x1="-19.8" y1="-15.1" x2="-14.7" y2="-11.7" stroke="#bb1717" stroke-width="3.6" stroke-dasharray="2.2 1.4" opacity="0.8"/><path d="M-21.5,-14.1 L-16.4,-14.9 L-18.1,-11.9 L-13.0,-12.7" fill="none" stroke="#ea1d1d" stroke-width="1.9" stroke-linejoin="round" stroke-linecap="round"/><path d="M-16.3,-12.7 Q-9.4,-14.9 -13.1,-16.0 Q-16.7,-17.1 -11.9,-16.7 Q-7.0,-16.4 -7.8,-13.1 L-8.5,-9.9" fill="none" stroke="#d01818" stroke-width="0.9" stroke-linecap="round" opacity="1"/><line x1="-22.6" y1="-17.9" x2="-12.1" y2="-20.1" stroke="#a61313" stroke-width="4.1" stroke-dasharray="2.2 1.4" opacity="0.8"/><path d="M-23.1,-15.7 L-20.0,-20.4 L-18.9,-16.6 L-15.8,-21.3 L-14.7,-17.5 L-11.7,-22.2" fill="none" stroke="#d01818" stroke-width="1.9" stroke-linejoin="round" stroke-linecap="round"/><path d="M-36.0,-22.0 Q-39.0,-18.0 -37.5,-15.0 L-36.0,-12.0" fill="none" stroke="#f06060" stroke-width="0.9" stroke-linecap="round" opacity="1"/><circle cx="-1" cy="-9" r="1.3" fill="#8c1010"/><circle cx="1" cy="-4" r="1.2" fill="#8c1010"/><path d="M-28.4,16.1 L-28.1,9.1 L-25.2,14.4 L-24.9,7.4 L-22.1,12.6 L-21.8,5.6 L-18.9,10.9 L-18.6,3.9" fill="none" stroke="#6e7a12" stroke-width="1.5" stroke-linejoin="round" stroke-linecap="round"/><path d="M-37.0,3.0 Q-34.0,7.0 -35.0,8.5 L-36.0,10.0" fill="none" stroke="#6e8a20" stroke-width="1.2" stroke-linecap="round" opacity="1"/><path d="M16.3,14.3 Q15.9,14.2 11.5,18.2" fill="none" stroke="#e6dc22" stroke-width="1.1" stroke-linecap="round"/><path d="M6.5,12.2 Q8.7,12.4 10.3,9.8" fill="none" stroke="#f0a020" stroke-width="1.5" stroke-linecap="round"/><path d="M15.7,-2.7 Q15.9,-4.7 14.6,-8.9" fill="none" stroke="#28b8d8" stroke-width="1.2" stroke-linecap="round"/><path d="M7.5,-13.7 Q8.7,-11.8 5.0,-7.3" fill="none" stroke="#22d022" stroke-width="1.3" stroke-linecap="round"/><path d="M-1.3,4.6 Q-4.2,1.3 -7.1,2.7" fill="none" stroke="#1fc46a" stroke-width="1.4" stroke-linecap="round"/><path d="M-4.5,10.4 Q-6.0,10.0 -7.1,4.3" fill="none" stroke="#30a0e8" stroke-width="1.8" stroke-linecap="round"/><path d="M19.8,23.7 Q14.2,22.3 13.0,24.0" fill="none" stroke="#30a0e8" stroke-width="1.6" stroke-linecap="round"/><path d="M20.0,6.3 Q22.9,7.5 22.6,10.6" fill="none" stroke="#e6dc22" stroke-width="2.0" stroke-linecap="round"/><path d="M23.2,8.7 Q22.7,9.7 22.0,12.1" fill="none" stroke="#e04818" stroke-width="1.2" stroke-linecap="round"/><path d="M12.4,7.1 Q12.4,6.2 10.0,5.2" fill="none" stroke="#e6dc22" stroke-width="1.5" stroke-linecap="round"/><path d="M21.9,5.8 Q24.2,3.1 27.4,2.9" fill="none" stroke="#e04818" stroke-width="1.1" stroke-linecap="round"/><path d="M5.8,20.1 Q7.0,17.4 9.7,17.2" fill="none" stroke="#22d022" stroke-width="1.9" stroke-linecap="round"/><path d="M-4.5,16.9 Q-3.4,17.7 -0.7,17.4" fill="none" stroke="#f0a020" stroke-width="1.7" stroke-linecap="round"/><path d="M4.0,5.9 Q2.8,6.5 -1.4,6.0" fill="none" stroke="#28b8d8" stroke-width="1.7" stroke-linecap="round"/><path d="M16.4,20.7 Q16.0,19.1 12.6,17.3" fill="none" stroke="#28b8d8" stroke-width="1.5" stroke-linecap="round"/><path d="M20.7,12.0 Q22.7,11.4 23.2,8.9" fill="none" stroke="#1fd0ae" stroke-width="1.3" stroke-linecap="round"/><path d="M3.0,19.5 Q5.9,20.9 4.4,26.3" fill="none" stroke="#28b8d8" stroke-width="1.1" stroke-linecap="round"/><path d="M-0.9,0.2 Q-3.8,2.6 -7.1,2.9" fill="none" stroke="#28b8d8" stroke-width="1.4" stroke-linecap="round"/><path d="M-3.1,15.1 Q-2.3,13.3 2.7,11.5" fill="none" stroke="#f0a020" stroke-width="1.5" stroke-linecap="round"/><path d="M14.8,-7.2 Q15.0,-6.3 17.9,-5.7" fill="none" stroke="#30a0e8" stroke-width="1.9" stroke-linecap="round"/><path d="M8.0,-7.6 Q8.4,-7.1 10.7,-5.2" fill="none" stroke="#1fc46a" stroke-width="1.6" stroke-linecap="round"/><path d="M-3.9,12.4 Q-2.7,13.0 -0.9,14.0" fill="none" stroke="#f0a020" stroke-width="1.4" stroke-linecap="round"/><path d="M14.4,-10.4 Q11.8,-13.7 12.5,-16.5" fill="none" stroke="#f0a020" stroke-width="1.4" stroke-linecap="round"/><path d="M1.2,-7.3 Q0.6,-6.7 -1.9,-7.5" fill="none" stroke="#e6dc22" stroke-width="1.6" stroke-linecap="round"/><path d="M1.1,6.8 Q-1.6,7.5 -2.1,11.9" fill="none" stroke="#1fd0ae" stroke-width="1.8" stroke-linecap="round"/><path d="M4.7,23.8 Q8.0,23.1 8.9,19.9" fill="none" stroke="#e6dc22" stroke-width="1.2" stroke-linecap="round"/><path d="M-0.2,16.3 Q0.3,19.2 -1.3,19.5" fill="none" stroke="#22d022" stroke-width="1.2" stroke-linecap="round"/><path d="M26.6,10.2 Q25.4,12.8 23.6,15.0" fill="none" stroke="#e6dc22" stroke-width="1.5" stroke-linecap="round"/><path d="M8.2,-7.0 Q10.2,-6.9 11.6,-3.9" fill="none" stroke="#1fc46a" stroke-width="1.7" stroke-linecap="round"/><path d="M-0.1,1.5 Q1.3,0.8 3.5,2.7" fill="none" stroke="#f26c14" stroke-width="1.3" stroke-linecap="round"/><path d="M6.8,6.3 Q6.0,6.0 2.4,8.9" fill="none" stroke="#e04818" stroke-width="1.8" stroke-linecap="round"/><path d="M-4.5,11.5 Q-3.3,9.0 -4.3,8.3" fill="none" stroke="#e04818" stroke-width="2.0" stroke-linecap="round"/><path d="M24.0,9.0 Q22.1,6.9 20.2,6.3" fill="none" stroke="#e6dc22" stroke-width="1.6" stroke-linecap="round"/><path d="M6.9,-0.4 Q4.5,-1.7 4.0,-4.7" fill="none" stroke="#f26c14" stroke-width="1.0" stroke-linecap="round"/><path d="M20.8,11.2 Q19.9,7.8 17.7,7.7" fill="none" stroke="#f0a020" stroke-width="1.7" stroke-linecap="round"/><path d="M27.2,2.7 Q22.4,3.3 20.4,3.7" fill="none" stroke="#e04818" stroke-width="1.1" stroke-linecap="round"/><path d="M18.5,-12.8 Q18.0,-12.4 15.5,-11.1" fill="none" stroke="#1fd0ae" stroke-width="1.1" stroke-linecap="round"/><path d="M10.0,12.2 Q8.3,12.5 6.1,13.3" fill="none" stroke="#30a0e8" stroke-width="1.8" stroke-linecap="round"/><path d="M-4.0,-4.2 Q-2.3,-3.1 -0.6,-0.6" fill="none" stroke="#30a0e8" stroke-width="1.6" stroke-linecap="round"/><path d="M6.3,-0.7 Q5.6,-2.6 4.2,-5.6" fill="none" stroke="#28b8d8" stroke-width="1.2" stroke-linecap="round"/><path d="M3.4,4.2 Q2.3,1.8 1.0,1.8" fill="none" stroke="#1fc46a" stroke-width="1.9" stroke-linecap="round"/><path d="M-4.0,-4.3 Q-2.1,-5.2 0.9,-4.9" fill="none" stroke="#e04818" stroke-width="1.7" stroke-linecap="round"/><path d="M-0.8,20.5 Q-4.3,18.0 -5.1,16.2" fill="none" stroke="#f26c14" stroke-width="1.4" stroke-linecap="round"/><path d="M-3.3,-5.6 Q-2.8,-6.7 -0.5,-10.2" fill="none" stroke="#1fd0ae" stroke-width="1.4" stroke-linecap="round"/><path d="M4.4,-8.9 Q4.4,-9.9 6.7,-11.3" fill="none" stroke="#e04818" stroke-width="1.8" stroke-linecap="round"/><path d="M6.6,18.8 Q10.2,19.3 10.9,19.1" fill="none" stroke="#f26c14" stroke-width="1.5" stroke-linecap="round"/><path d="M17.6,0.4 Q19.5,-1.4 20.4,-2.2" fill="none" stroke="#1fc46a" stroke-width="1.3" stroke-linecap="round"/><path d="M5.6,11.4 Q7.0,9.9 10.3,8.1" fill="none" stroke="#f26c14" stroke-width="1.5" stroke-linecap="round"/><path d="M15.1,5.1 Q15.4,7.5 20.5,8.2" fill="none" stroke="#e6dc22" stroke-width="1.8" stroke-linecap="round"/><path d="M19.5,-0.4 Q18.4,-0.2 16.7,1.9" fill="none" stroke="#1fc46a" stroke-width="1.8" stroke-linecap="round"/><path d="M20.4,-3.1 Q23.1,-2.5 25.5,-2.4" fill="none" stroke="#22d022" stroke-width="1.7" stroke-linecap="round"/><path d="M10.2,16.7 Q12.2,18.6 13.0,18.4" fill="none" stroke="#1fc46a" stroke-width="1.0" stroke-linecap="round"/><path d="M14.3,-8.0 Q16.0,-10.1 16.2,-12.2" fill="none" stroke="#30a0e8" stroke-width="1.3" stroke-linecap="round"/><path d="M7.8,2.0 Q7.3,-0.0 9.4,-2.0" fill="none" stroke="#1fc46a" stroke-width="1.7" stroke-linecap="round"/><path d="M22.8,4.9 Q25.7,3.8 25.4,-0.1" fill="none" stroke="#1fc46a" stroke-width="1.9" stroke-linecap="round"/><path d="M28.5,12.0 Q27.0,11.2 22.7,11.2" fill="none" stroke="#e6dc22" stroke-width="1.9" stroke-linecap="round"/><path d="M3.2,-5.4 Q0.5,-8.0 -0.5,-9.7" fill="none" stroke="#30a0e8" stroke-width="1.3" stroke-linecap="round"/><path d="M5.3,-7.0 Q1.9,-11.5 1.7,-11.9" fill="none" stroke="#e04818" stroke-width="1.0" stroke-linecap="round"/><path d="M10.1,16.3 Q8.9,18.3 8.6,19.8" fill="none" stroke="#e04818" stroke-width="1.6" stroke-linecap="round"/><path d="M1.0,-8.4 Q1.4,-7.2 0.3,-4.8" fill="none" stroke="#30a0e8" stroke-width="1.9" stroke-linecap="round"/><path d="M14.0,19.9 Q13.4,20.7 9.4,20.4" fill="none" stroke="#1fc46a" stroke-width="1.5" stroke-linecap="round"/><path d="M8.1,7.3 Q7.7,7.6 4.1,6.9" fill="none" stroke="#28b8d8" stroke-width="1.9" stroke-linecap="round"/><path d="M11.2,-5.7 Q7.9,-2.7 5.4,-2.6" fill="none" stroke="#1fd0ae" stroke-width="1.3" stroke-linecap="round"/><path d="M24.8,9.3 Q21.3,6.8 20.3,4.0" fill="none" stroke="#1fd0ae" stroke-width="1.6" stroke-linecap="round"/><path d="M-2.5,-4.9 Q-2.0,-6.3 0.6,-6.7" fill="none" stroke="#30a0e8" stroke-width="1.1" stroke-linecap="round"/><path d="M6.8,5.5 Q10.9,3.9 11.9,4.0" fill="none" stroke="#28b8d8" stroke-width="1.4" stroke-linecap="round"/><path d="M23.6,-5.0 Q19.7,-4.3 18.6,-6.4" fill="none" stroke="#f26c14" stroke-width="1.3" stroke-linecap="round"/><path d="M4.0,8.3 Q4.8,6.3 9.6,8.2" fill="none" stroke="#1fd0ae" stroke-width="1.1" stroke-linecap="round"/><path d="M3.3,5.1 Q7.2,2.0 9.5,3.8" fill="none" stroke="#e6dc22" stroke-width="1.7" stroke-linecap="round"/><path d="M6.9,-4.2 Q10.9,-0.6 11.5,-0.3" fill="none" stroke="#28b8d8" stroke-width="1.9" stroke-linecap="round"/><path d="M-2.0,2.0 Q3.2,17.6 14.0,30.0" fill="none" stroke="#f26c14" stroke-width="2.6" stroke-linecap="butt"/><path d="M4.0,-2.0 Q9.2,13.6 20.0,26.0" fill="none" stroke="#f08a18" stroke-width="2.4" stroke-linecap="butt"/><path d="M-12.0,14.0 Q-2.9,13.9 6.0,12.0" fill="none" stroke="#e6dc22" stroke-width="2.6" stroke-linecap="butt"/><path d="M-14.0,20.0 Q-7.0,17.0 -4.0,10.0" fill="none" stroke="#c8b818" stroke-width="1.6" stroke-linecap="butt"/><path d="M10.0,-6.0 Q14.1,7.7 24.0,18.0" fill="none" stroke="#e05a10" stroke-width="2.2" stroke-linecap="butt"/><line x1="5.9" y1="14.6" x2="4.0" y2="5.0" stroke="#2093ac" stroke-width="2.8" stroke-dasharray="2.2 1.4" opacity="0.8"/><path d="M7.4,15.2 L4.1,12.1 L6.6,11.4 L3.3,8.3 L5.9,7.6 L2.5,4.4" fill="none" stroke="#28b8d8" stroke-width="1.6" stroke-linejoin="round" stroke-linecap="round"/><line x1="3.8" y1="4.7" x2="8.0" y2="-0.1" stroke="#2093ac" stroke-width="3.1" stroke-dasharray="2.2 1.4" opacity="0.8"/><path d="M4.3,6.3 L4.7,1.5 L7.1,3.1 L7.5,-1.7" fill="none" stroke="#28b8d8" stroke-width="1.6" stroke-linejoin="round" stroke-linecap="round"/><line x1="14.0" y1="12.5" x2="23.2" y2="12.0" stroke="#c15610" stroke-width="2.8" stroke-dasharray="2.2 1.4" opacity="0.8"/><path d="M13.2,13.9 L16.7,11.0 L16.9,13.7 L20.4,10.8 L20.5,13.5 L24.0,10.6" fill="none" stroke="#f26c14" stroke-width="1.6" stroke-linejoin="round" stroke-linecap="round"/><line x1="17.1" y1="14.0" x2="7.5" y2="14.3" stroke="#189c54" stroke-width="3.6" stroke-dasharray="2.2 1.4" opacity="0.8"/><path d="M17.9,12.2 L14.3,15.8 L14.1,12.4 L10.5,15.9 L10.2,12.5 L6.6,16.1" fill="none" stroke="#1fc46a" stroke-width="1.6" stroke-linejoin="round" stroke-linecap="round"/><line x1="20.1" y1="1.4" x2="24.6" y2="3.8" stroke="#2093ac" stroke-width="3.1" stroke-dasharray="2.2 1.4" opacity="0.8"/><path d="M18.6,2.2 L23.8,1.7 L23.1,4.6" fill="none" stroke="#28b8d8" stroke-width="1.6" stroke-linejoin="round" stroke-linecap="round"/><line x1="24.6" y1="-1.2" x2="18.4" y2="-2.1" stroke="#189c54" stroke-width="3.5" stroke-dasharray="2.2 1.4" opacity="0.8"/><path d="M25.8,-2.7 L21.4,0.0 L21.6,-3.3 L17.3,-0.6" fill="none" stroke="#1fc46a" stroke-width="1.6" stroke-linejoin="round" stroke-linecap="round"/><line x1="8.2" y1="3.6" x2="-0.6" y2="1.1" stroke="#c15610" stroke-width="3.0" stroke-dasharray="2.2 1.4" opacity="0.8"/><path d="M9.4,2.4 L5.2,4.2 L5.9,1.4 L1.6,3.2 L2.4,0.5 L-1.9,2.2" fill="none" stroke="#f26c14" stroke-width="1.6" stroke-linejoin="round" stroke-linecap="round"/><line x1="14.5" y1="-3.8" x2="15.5" y2="3.7" stroke="#c15610" stroke-width="3.8" stroke-dasharray="2.2 1.4" opacity="0.8"/><path d="M12.6,-4.4 L16.7,-1.3 L13.1,-0.7 L17.2,2.5 L13.6,3.1" fill="none" stroke="#f26c14" stroke-width="1.6" stroke-linejoin="round" stroke-linecap="round"/><line x1="10.8" y1="9.2" x2="18.1" y2="15.7" stroke="#c08019" stroke-width="3.6" stroke-dasharray="2.2 1.4" opacity="0.8"/><path d="M9.0,9.9 L14.0,9.8 L11.9,12.5 L17.0,12.4 L14.8,15.1 L19.9,15.0" fill="none" stroke="#f0a020" stroke-width="1.6" stroke-linejoin="round" stroke-linecap="round"/><line x1="1.9" y1="4.6" x2="7.2" y2="6.1" stroke="#18a68b" stroke-width="3.7" stroke-dasharray="2.2 1.4" opacity="0.8"/><path d="M0.6,6.1 L5.0,3.6 L4.1,7.1 L8.5,4.6" fill="none" stroke="#1fd0ae" stroke-width="1.6" stroke-linejoin="round" stroke-linecap="round"/><line x1="11.3" y1="9.3" x2="14.2" y2="16.5" stroke="#1ba61b" stroke-width="3.0" stroke-dasharray="2.2 1.4" opacity="0.8"/><path d="M9.6,9.0 L13.7,11.4 L11.1,12.6 L15.1,15.0 L12.6,16.2" fill="none" stroke="#22d022" stroke-width="1.6" stroke-linejoin="round" stroke-linecap="round"/><path d="M22.8,11.6 Q19.8,9.4 19.4,7.4 Q19.0,5.4 19.4,9.1 Q19.8,12.8 22.7,11.5 L25.7,10.3" fill="none" stroke="#1fd0ae" stroke-width="0.9" stroke-linecap="round" opacity="1"/><path d="M8.2,6.7 Q9.3,7.5 8.7,8.5 Q8.1,9.6 6.8,9.1 Q5.5,8.7 9.3,7.8 L13.1,6.9" fill="none" stroke="#22d022" stroke-width="0.9" stroke-linecap="round" opacity="1"/><line x1="22.5" y1="9.1" x2="20.3" y2="16.2" stroke="#1ba61b" stroke-width="3.2" stroke-dasharray="2.2 1.4" opacity="0.8"/><path d="M21.3,7.8 L23.1,12.2 L20.2,11.3 L22.0,15.7 L19.1,14.9" fill="none" stroke="#22d022" stroke-width="1.6" stroke-linejoin="round" stroke-linecap="round"/><line x1="19.7" y1="14.4" x2="14.7" y2="9.0" stroke="#2093ac" stroke-width="3.7" stroke-dasharray="2.2 1.4" opacity="0.8"/><path d="M21.6,13.9 L16.6,13.6 L19.1,11.1 L14.1,10.9 L16.6,8.4" fill="none" stroke="#28b8d8" stroke-width="1.6" stroke-linejoin="round" stroke-linecap="round"/><line x1="13.1" y1="7.5" x2="10.2" y2="0.5" stroke="#c15610" stroke-width="3.2" stroke-dasharray="2.2 1.4" opacity="0.8"/><path d="M14.8,7.8 L10.6,5.5 L13.4,4.3 L9.2,2.0 L11.9,0.7" fill="none" stroke="#f26c14" stroke-width="1.6" stroke-linejoin="round" stroke-linecap="round"/><line x1="5.9" y1="7.7" x2="11.5" y2="11.3" stroke="#18a68b" stroke-width="3.7" stroke-dasharray="2.2 1.4" opacity="0.8"/><path d="M4.2,8.6 L9.5,7.9 L7.9,11.1 L13.2,10.3" fill="none" stroke="#1fd0ae" stroke-width="1.6" stroke-linejoin="round" stroke-linecap="round"/><line x1="12.3" y1="16.2" x2="2.4" y2="16.5" stroke="#2093ac" stroke-width="3.3" stroke-dasharray="2.2 1.4" opacity="0.8"/><path d="M13.1,14.5 L9.5,17.8 L9.2,14.7 L5.5,18.0 L5.2,14.8 L1.6,18.1" fill="none" stroke="#28b8d8" stroke-width="1.6" stroke-linejoin="round" stroke-linecap="round"/><line x1="4.8" y1="1.3" x2="9.7" y2="-0.9" stroke="#c08019" stroke-width="3.5" stroke-dasharray="2.2 1.4" opacity="0.8"/><path d="M4.6,3.1 L7.4,-1.7 L9.5,1.0" fill="none" stroke="#f0a020" stroke-width="1.6" stroke-linejoin="round" stroke-linecap="round"/><path d="M19.0,3.8 Q19.7,7.6 22.0,5.4 Q24.3,3.2 22.9,4.6 Q21.4,6.0 20.0,3.1 L18.5,0.2" fill="none" stroke="#f26c14" stroke-width="0.9" stroke-linecap="round" opacity="1"/><path d="M7.7,8.5 Q10.5,4.5 13.7,6.9 Q16.9,9.3 14.5,5.4 Q12.2,1.5 11.3,5.2 L10.4,8.8" fill="none" stroke="#1fc46a" stroke-width="0.9" stroke-linecap="round" opacity="1"/><path d="M24.3,-1.9 Q27.1,-3.5 22.7,0.4 Q18.3,4.2 19.5,5.2 Q20.7,6.1 23.8,5.1 L27.0,4.0" fill="none" stroke="#f26c14" stroke-width="0.9" stroke-linecap="round" opacity="1"/><circle cx="12" cy="14" r="2.4" fill="#22d022"/><circle cx="20" cy="8" r="2" fill="#20c080"/><line x1="29.0" y1="-5.0" x2="36.0" y2="2.0" stroke="#c15610" stroke-width="5.0" stroke-dasharray="2.2 1.4" opacity="0.8"/><path d="M26.7,-3.9 L32.7,-4.7 L29.5,-1.1 L35.5,-1.9 L32.3,1.7 L38.3,0.9" fill="none" stroke="#f26c14" stroke-width="2.0" stroke-linejoin="round" stroke-linecap="round"/><line x1="27.0" y1="-1.0" x2="33.0" y2="-8.0" stroke="#b96613" stroke-width="4.2" stroke-dasharray="2.2 1.4" opacity="0.8"/><path d="M27.9,1.0 L27.3,-4.4 L30.3,-1.8 L29.7,-7.2 L32.7,-4.6 L32.1,-10.0" fill="none" stroke="#e88018" stroke-width="1.8" stroke-linejoin="round" stroke-linecap="round"/><path d="M-4.1,-6.3 Q-3.5,-8.3 0.4,-8.2" fill="none" stroke="#1fd0ae" stroke-width="1.1" stroke-linecap="round"/><path d="M7.5,-10.8 Q6.2,-14.1 6.6,-15.7" fill="none" stroke="#8c1010" stroke-width="1.9" stroke-linecap="round"/><path d="M6.5,-17.0 Q6.3,-15.0 4.4,-10.6" fill="none" stroke="#ea1d1d" stroke-width="1.5" stroke-linecap="round"/><path d="M6.3,-10.3 Q6.0,-12.0 2.9,-11.8" fill="none" stroke="#f26c14" stroke-width="1.3" stroke-linecap="round"/><path d="M2.0,-12.3 Q2.2,-14.6 7.5,-16.5" fill="none" stroke="#8c1010" stroke-width="1.4" stroke-linecap="round"/><path d="M9.8,-12.4 Q11.5,-10.6 12.0,-7.6" fill="none" stroke="#28b8d8" stroke-width="1.8" stroke-linecap="round"/><path d="M2.6,-7.6 Q4.4,-7.8 5.9,-12.3" fill="none" stroke="#f26c14" stroke-width="1.6" stroke-linecap="round"/><path d="M10.9,-16.5 Q8.6,-16.5 5.7,-14.3" fill="none" stroke="#f26c14" stroke-width="1.3" stroke-linecap="round"/><path d="M6.3,-3.8 Q3.7,-3.5 3.1,-6.3" fill="none" stroke="#ea1d1d" stroke-width="1.6" stroke-linecap="round"/><path d="M9.1,-15.7 Q10.0,-14.6 10.9,-13.2" fill="none" stroke="#28b8d8" stroke-width="1.7" stroke-linecap="round"/><path d="M6.7,-6.2 Q4.3,-9.2 5.8,-11.6" fill="none" stroke="#1fd0ae" stroke-width="1.8" stroke-linecap="round"/><path d="M7.6,-3.6 Q8.4,-6.0 8.1,-8.6" fill="none" stroke="#28b8d8" stroke-width="1.3" stroke-linecap="round"/><path d="M-2.9,-4.6 Q-3.6,-7.8 0.1,-10.0" fill="none" stroke="#1fd0ae" stroke-width="1.7" stroke-linecap="round"/><path d="M-0.5,-5.4 Q-1.3,-6.4 -3.4,-7.5" fill="none" stroke="#ea1d1d" stroke-width="1.0" stroke-linecap="round"/><path d="M0.4,-11.1 Q2.4,-7.8 4.8,-8.2" fill="none" stroke="#ea1d1d" stroke-width="1.7" stroke-linecap="round"/><path d="M3.4,-15.0 Q5.4,-15.0 8.2,-10.7" fill="none" stroke="#f26c14" stroke-width="1.4" stroke-linecap="round"/><path d="M-10.1,3.3 Q-14.4,4.2 -14.7,6.5" fill="none" stroke="#6e7a12" stroke-width="1.4" stroke-linecap="round"/><path d="M-31.4,16.3 Q-30.0,14.2 -27.9,14.8" fill="none" stroke="#c8c860" stroke-width="1.0" stroke-linecap="round"/><path d="M-29.0,8.6 Q-28.9,10.1 -27.0,11.9" fill="none" stroke="#98d622" stroke-width="1.1" stroke-linecap="round"/><path d="M-19.9,11.9 Q-18.7,13.8 -17.9,16.4" fill="none" stroke="#8a9a20" stroke-width="1.3" stroke-linecap="round"/><path d="M-23.0,6.7 Q-21.9,6.6 -19.3,7.2" fill="none" stroke="#e6dc22" stroke-width="1.0" stroke-linecap="round"/><path d="M-22.7,5.7 Q-19.7,5.6 -18.6,4.0" fill="none" stroke="#8a9a20" stroke-width="0.8" stroke-linecap="round"/><path d="M-25.8,6.9 Q-23.9,9.9 -20.1,10.1" fill="none" stroke="#6e7a12" stroke-width="1.3" stroke-linecap="round"/><path d="M-22.7,12.1 Q-24.6,11.1 -26.5,12.4" fill="none" stroke="#e6dc22" stroke-width="1.0" stroke-linecap="round"/><path d="M-22.5,9.9 Q-21.7,13.2 -18.6,14.3" fill="none" stroke="#c8c860" stroke-width="0.9" stroke-linecap="round"/><path d="M-25.6,8.0 Q-26.5,7.1 -26.6,3.5" fill="none" stroke="#e6dc22" stroke-width="0.9" stroke-linecap="round"/><path d="M-24.6,10.4 Q-21.3,12.8 -20.5,15.3" fill="none" stroke="#8a9a20" stroke-width="1.4" stroke-linecap="round"/><path d="M-15.3,17.9 Q-13.9,22.8 -14.1,23.5" fill="none" stroke="#98d622" stroke-width="1.0" stroke-linecap="round"/><path d="M-9.9,5.0 Q-13.6,5.5 -14.0,7.0" fill="none" stroke="#98d622" stroke-width="1.0" stroke-linecap="round"/><path d="M-12.1,9.7 Q-9.6,8.4 -8.7,8.0" fill="none" stroke="#e6dc22" stroke-width="1.2" stroke-linecap="round"/><path d="M-13.2,23.4 Q-13.3,22.5 -11.6,18.8" fill="none" stroke="#98d622" stroke-width="1.3" stroke-linecap="round"/><path d="M-31.2,4.9 Q-32.5,5.0 -33.3,7.4" fill="none" stroke="#c8c860" stroke-width="1.4" stroke-linecap="round"/><path d="M-26.4,15.2 Q-26.4,13.7 -24.0,13.1" fill="none" stroke="#98d622" stroke-width="1.2" stroke-linecap="round"/><path d="M-27.1,10.7 Q-25.7,14.7 -25.2,15.2" fill="none" stroke="#98d622" stroke-width="0.8" stroke-linecap="round"/><path d="M-11.7,8.1 Q-10.2,9.1 -8.9,9.5" fill="none" stroke="#8a9a20" stroke-width="1.0" stroke-linecap="round"/><path d="M-25.3,17.7 Q-23.5,17.6 -21.8,18.6" fill="none" stroke="#98d622" stroke-width="1.1" stroke-linecap="round"/><path d="M-33.0,7.9 Q-34.2,9.9 -33.5,11.9" fill="none" stroke="#6e7a12" stroke-width="1.5" stroke-linecap="round"/><path d="M-35.3,11.2 Q-35.6,10.3 -31.8,6.2" fill="none" stroke="#98d622" stroke-width="1.0" stroke-linecap="round"/><path d="M6.6,20.4 Q4.2,20.5 3.7,22.6" fill="none" stroke="#f0b070" stroke-width="1.0" stroke-linecap="round"/><path d="M-3.0,23.3 Q-3.6,24.9 -5.8,26.3" fill="none" stroke="#d8d070" stroke-width="1.0" stroke-linecap="round"/><path d="M-10.9,27.6 Q-6.5,28.5 -5.7,24.7" fill="none" stroke="#98d622" stroke-width="1.1" stroke-linecap="round"/><path d="M-7.2,28.1 Q-12.2,28.4 -12.9,27.7" fill="none" stroke="#a0a0e0" stroke-width="1.1" stroke-linecap="round"/><path d="M-2.2,26.3 Q-5.7,29.1 -6.8,30.0" fill="none" stroke="#f0b070" stroke-width="0.8" stroke-linecap="round"/><path d="M8.2,22.3 Q7.9,22.1 4.9,21.0" fill="none" stroke="#d8d070" stroke-width="1.0" stroke-linecap="round"/><path d="M2.8,28.2 Q5.0,28.8 6.0,31.4" fill="none" stroke="#d8d070" stroke-width="1.2" stroke-linecap="round"/><path d="M-6.1,29.8 Q-6.5,25.3 -4.4,23.3" fill="none" stroke="#f0b070" stroke-width="1.0" stroke-linecap="round"/><path d="M-9.5,29.6 Q-7.4,28.5 -6.3,29.4" fill="none" stroke="#98d622" stroke-width="0.8" stroke-linecap="round"/><path d="M-8.8,26.0 Q-6.6,25.1 -7.3,21.6" fill="none" stroke="#a0a0e0" stroke-width="0.8" stroke-linecap="round"/><path d="M-17.7,23.1 Q-17.0,22.0 -13.9,19.0" fill="none" stroke="#a0a0e0" stroke-width="1.1" stroke-linecap="round"/><path d="M10.4,27.2 Q10.8,23.3 8.6,22.4" fill="none" stroke="#d8d070" stroke-width="1.1" stroke-linecap="round"/><path d="M-5.1,31.4 Q-4.7,31.2 -1.7,28.1" fill="none" stroke="#f0b070" stroke-width="1.0" stroke-linecap="round"/><path d="M-13.8,22.1 Q-14.2,23.6 -14.4,25.9" fill="none" stroke="#f0b070" stroke-width="1.0" stroke-linecap="round"/><path d="M0.6,27.6 Q1.5,28.6 4.9,27.7" fill="none" stroke="#a0a0e0" stroke-width="0.9" stroke-linecap="round"/><path d="M-5.8,26.8 Q-7.0,28.2 -8.4,28.8" fill="none" stroke="#80d0a0" stroke-width="0.8" stroke-linecap="round"/><path d="M-12.1,16.5 Q-11.7,21.8 -12.1,22.7" fill="none" stroke="#98d622" stroke-width="0.8" stroke-linecap="round"/><path d="M-7.6,24.5 Q-10.5,25.6 -9.4,29.2" fill="none" stroke="#f0b070" stroke-width="0.7" stroke-linecap="round"/><path d="M17.9,-7.7 Q18.2,-9.1 19.5,-13.4" fill="none" stroke="#ffffff" stroke-width="1.4" stroke-linecap="round"/><path d="M23.6,-10.6 Q27.2,-11.9 28.1,-12.5" fill="none" stroke="#ffffff" stroke-width="0.9" stroke-linecap="round"/><path d="M21.7,-26.0 Q20.6,-23.4 18.3,-23.1" fill="none" stroke="#30b0e8" stroke-width="1.4" stroke-linecap="round"/><path d="M14.1,-23.6 Q17.1,-23.6 19.3,-21.4" fill="none" stroke="#20d8d0" stroke-width="1.5" stroke-linecap="round"/><path d="M13.2,-11.3 Q9.0,-14.0 7.8,-13.0" fill="none" stroke="#20d8d0" stroke-width="1.2" stroke-linecap="round"/><path d="M12.6,-30.7 Q17.2,-27.3 18.2,-26.8" fill="none" stroke="#25c6e8" stroke-width="1.6" stroke-linecap="round"/><path d="M10.6,-14.1 Q13.0,-9.3 16.0,-9.7" fill="none" stroke="#20d8d0" stroke-width="1.3" stroke-linecap="round"/><path d="M24.7,-7.2 Q25.0,-7.6 25.9,-10.2" fill="none" stroke="#20d8d0" stroke-width="1.5" stroke-linecap="round"/><path d="M19.0,-27.0 Q20.5,-31.8 18.3,-32.6" fill="none" stroke="#ffffff" stroke-width="1.4" stroke-linecap="round"/><path d="M22.9,-17.2 Q22.3,-17.4 19.8,-18.6" fill="none" stroke="#1898c8" stroke-width="1.2" stroke-linecap="round"/><path d="M19.4,-9.9 Q17.3,-11.6 14.9,-9.9" fill="none" stroke="#25c6e8" stroke-width="1.3" stroke-linecap="round"/><path d="M15.2,-23.6 Q16.3,-23.1 18.3,-22.7" fill="none" stroke="#30b0e8" stroke-width="1.7" stroke-linecap="round"/><path d="M24.5,-19.0 Q23.6,-20.4 23.9,-26.0" fill="none" stroke="#20d8d0" stroke-width="1.5" stroke-linecap="round"/><path d="M24.3,-27.7 Q24.9,-27.2 26.8,-25.5" fill="none" stroke="#20d8d0" stroke-width="1.6" stroke-linecap="round"/><path d="M22.7,-21.7 Q23.6,-22.6 24.3,-26.2" fill="none" stroke="#20d8d0" stroke-width="1.3" stroke-linecap="round"/><path d="M7.6,-16.2 Q5.6,-19.4 7.9,-22.7" fill="none" stroke="#25c6e8" stroke-width="1.5" stroke-linecap="round"/><path d="M18.8,-6.5 Q18.9,-9.4 19.8,-10.0" fill="none" stroke="#25c6e8" stroke-width="1.6" stroke-linecap="round"/><path d="M13.7,-19.0 Q13.0,-20.1 11.3,-21.0" fill="none" stroke="#1898c8" stroke-width="1.0" stroke-linecap="round"/><path d="M21.6,-7.1 Q21.9,-9.2 21.1,-10.8" fill="none" stroke="#25c6e8" stroke-width="1.6" stroke-linecap="round"/><path d="M20.5,-8.8 Q21.9,-11.0 25.9,-10.7" fill="none" stroke="#ffffff" stroke-width="1.0" stroke-linecap="round"/><path d="M21.8,-20.1 Q24.3,-18.5 24.2,-17.5" fill="none" stroke="#30b0e8" stroke-width="1.1" stroke-linecap="round"/><path d="M8.3,-10.6 Q8.9,-14.9 12.4,-15.0" fill="none" stroke="#30b0e8" stroke-width="1.2" stroke-linecap="round"/><path d="M28.7,-20.9 Q28.1,-20.8 23.9,-19.5" fill="none" stroke="#ffffff" stroke-width="1.2" stroke-linecap="round"/><path d="M15.5,-29.5 Q20.2,-29.4 20.1,-24.9" fill="none" stroke="#ffffff" stroke-width="1.3" stroke-linecap="round"/><path d="M29.4,-18.0 Q29.1,-22.6 29.2,-23.4" fill="none" stroke="#1898c8" stroke-width="1.2" stroke-linecap="round"/><path d="M20.5,-17.0 Q18.0,-13.7 19.9,-11.4" fill="none" stroke="#25c6e8" stroke-width="1.2" stroke-linecap="round"/><path d="M13.3,-22.5 Q13.3,-19.4 9.8,-17.3" fill="none" stroke="#ffffff" stroke-width="1.4" stroke-linecap="round"/><path d="M16.4,-23.5 Q15.6,-24.8 17.2,-26.5" fill="none" stroke="#ffffff" stroke-width="1.2" stroke-linecap="round"/><path d="M7.8,-15.2 Q5.5,-15.5 3.4,-14.4" fill="none" stroke="#ffffff" stroke-width="1.4" stroke-linecap="round"/><path d="M17.9,-24.0 Q15.0,-23.1 14.6,-24.9" fill="none" stroke="#ffffff" stroke-width="1.2" stroke-linecap="round"/><path d="M20.1,-24.6 Q21.7,-25.9 24.0,-24.9" fill="none" stroke="#1898c8" stroke-width="1.0" stroke-linecap="round"/><path d="M29.2,-10.1 Q30.8,-10.8 30.7,-16.5" fill="none" stroke="#1898c8" stroke-width="1.5" stroke-linecap="round"/><path d="M4.9,-19.1 Q10.4,-16.7 11.3,-18.4" fill="none" stroke="#25c6e8" stroke-width="1.0" stroke-linecap="round"/><path d="M12.7,-16.0 Q13.8,-14.1 18.7,-17.0" fill="none" stroke="#ffffff" stroke-width="1.0" stroke-linecap="round"/><path d="M17.6,-28.2 Q18.9,-25.8 21.9,-25.6" fill="none" stroke="#20d8d0" stroke-width="1.4" stroke-linecap="round"/><path d="M18.7,-5.3 Q16.0,-7.3 15.6,-7.2" fill="none" stroke="#25c6e8" stroke-width="1.5" stroke-linecap="round"/><path d="M19.8,-25.8 Q18.4,-25.2 16.4,-27.3" fill="none" stroke="#ffffff" stroke-width="1.7" stroke-linecap="round"/><path d="M14.0,-32.3 Q16.9,-28.7 17.5,-27.2" fill="none" stroke="#20d8d0" stroke-width="1.1" stroke-linecap="round"/><path d="M24.4,-20.4 Q21.3,-18.9 17.8,-20.1" fill="none" stroke="#ffffff" stroke-width="0.9" stroke-linecap="round"/><path d="M15.9,-29.8 Q17.0,-28.6 15.7,-26.4" fill="none" stroke="#1898c8" stroke-width="1.1" stroke-linecap="round"/><path d="M28.6,-19.2 Q33.2,-18.8 33.1,-13.9" fill="none" stroke="#ffffff" stroke-width="1.1" stroke-linecap="round"/><path d="M25.8,-25.5 Q24.1,-24.3 22.6,-22.1" fill="none" stroke="#1898c8" stroke-width="1.2" stroke-linecap="round"/><path d="M9.8,-22.2 Q7.7,-23.1 6.2,-22.9" fill="none" stroke="#ffffff" stroke-width="1.1" stroke-linecap="round"/><path d="M8.6,-23.3 Q6.5,-20.1 6.6,-18.8" fill="none" stroke="#1898c8" stroke-width="1.5" stroke-linecap="round"/><path d="M-26.9,-12.1 Q-25.3,-11.5 -22.4,-8.6" fill="none" stroke="#ffffff" stroke-width="1.7" stroke-linecap="round"/><path d="M-7.4,-15.8 Q-8.1,-18.4 -7.2,-19.0" fill="none" stroke="#8c1010" stroke-width="1.1" stroke-linecap="round"/><path d="M-32.1,-23.8 Q-32.9,-19.0 -32.9,-17.7" fill="none" stroke="#f03030" stroke-width="1.1" stroke-linecap="round"/><path d="M-14.2,-23.1 Q-16.5,-23.3 -17.3,-20.7" fill="none" stroke="#d01818" stroke-width="1.8" stroke-linecap="round"/><path d="M-13.8,-7.7 Q-13.2,-6.1 -8.2,-5.6" fill="none" stroke="#ffffff" stroke-width="1.1" stroke-linecap="round"/><path d="M-24.2,-5.4 Q-27.7,-7.2 -28.5,-9.3" fill="none" stroke="#ffffff" stroke-width="1.5" stroke-linecap="round"/><path d="M-28.8,-8.1 Q-27.7,-11.9 -23.4,-11.4" fill="none" stroke="#ffffff" stroke-width="1.8" stroke-linecap="round"/><path d="M-22.3,-14.7 Q-24.4,-13.4 -25.5,-13.4" fill="none" stroke="#ea1d1d" stroke-width="1.8" stroke-linecap="round"/><path d="M-5.5,-10.4 Q-3.1,-13.5 -2.6,-15.5" fill="none" stroke="#ffffff" stroke-width="2.0" stroke-linecap="round"/><path d="M-20.5,-3.1 Q-19.8,0.4 -19.3,1.4" fill="none" stroke="#ea1d1d" stroke-width="1.2" stroke-linecap="round"/><path d="M-29.8,-13.7 Q-28.8,-14.6 -24.5,-17.7" fill="none" stroke="#f03030" stroke-width="1.5" stroke-linecap="round"/><path d="M-13.5,-12.1 Q-12.5,-14.7 -12.8,-15.4" fill="none" stroke="#ffffff" stroke-width="1.3" stroke-linecap="round"/><path d="M-15.3,-11.5 Q-14.6,-13.8 -13.4,-17.0" fill="none" stroke="#f03030" stroke-width="1.4" stroke-linecap="round"/><path d="M-19.2,-11.7 Q-16.4,-12.9 -15.0,-12.3" fill="none" stroke="#8c1010" stroke-width="1.4" stroke-linecap="round"/><path d="M-23.7,-22.7 Q-22.2,-25.4 -18.2,-25.6" fill="none" stroke="#d01818" stroke-width="1.4" stroke-linecap="round"/><path d="M-19.6,-9.3 Q-16.6,-9.9 -13.0,-10.3" fill="none" stroke="#d01818" stroke-width="1.2" stroke-linecap="round"/><path d="M-15.0,-6.7 Q-15.4,-7.1 -18.6,-6.7" fill="none" stroke="#d01818" stroke-width="1.6" stroke-linecap="round"/><path d="M-26.9,-21.0 Q-22.5,-23.9 -21.1,-22.8" fill="none" stroke="#d01818" stroke-width="1.2" stroke-linecap="round"/><path d="M-28.9,-11.8 Q-29.5,-12.7 -31.6,-14.0" fill="none" stroke="#8c1010" stroke-width="1.7" stroke-linecap="round"/><path d="M-26.2,0.8 Q-25.4,-0.5 -27.0,-3.3" fill="none" stroke="#8c1010" stroke-width="1.1" stroke-linecap="round"/><path d="M-25.5,-19.4 Q-24.2,-20.9 -21.1,-23.0" fill="none" stroke="#8c1010" stroke-width="1.5" stroke-linecap="round"/><path d="M-26.2,-21.3 Q-25.1,-20.2 -27.1,-16.4" fill="none" stroke="#ffffff" stroke-width="1.9" stroke-linecap="round"/><path d="M-16.3,-7.7 Q-15.9,-8.5 -16.8,-12.8" fill="none" stroke="#ffffff" stroke-width="1.3" stroke-linecap="round"/><path d="M-26.1,-7.8 Q-26.4,-4.6 -25.6,-3.1" fill="none" stroke="#ffffff" stroke-width="1.5" stroke-linecap="round"/><path d="M-17.5,-18.9 Q-19.2,-13.1 -16.7,-12.1" fill="none" stroke="#ffffff" stroke-width="1.7" stroke-linecap="round"/><path d="M-28.5,-18.6 Q-28.3,-16.7 -30.7,-15.8" fill="none" stroke="#d01818" stroke-width="1.0" stroke-linecap="round"/><path d="M-18.5,3.7 Q-18.3,0.9 -21.1,-2.2" fill="none" stroke="#ea1d1d" stroke-width="1.4" stroke-linecap="round"/><path d="M-11.2,-19.0 Q-10.3,-19.9 -13.1,-24.1" fill="none" stroke="#ea1d1d" stroke-width="1.4" stroke-linecap="round"/><path d="M-16.0,-23.1 Q-16.6,-22.6 -21.2,-22.7" fill="none" stroke="#d01818" stroke-width="1.9" stroke-linecap="round"/><path d="M-26.6,-22.4 Q-26.8,-19.6 -27.2,-18.8" fill="none" stroke="#d01818" stroke-width="1.9" stroke-linecap="round"/><path d="M-19.7,-7.2 Q-20.3,-7.9 -21.8,-12.2" fill="none" stroke="#ea1d1d" stroke-width="1.8" stroke-linecap="round"/><path d="M-31.1,-22.8 Q-32.7,-21.4 -33.3,-16.2" fill="none" stroke="#d01818" stroke-width="1.7" stroke-linecap="round"/><path d="M-19.8,-6.7 Q-22.2,-12.0 -19.6,-12.9" fill="none" stroke="#d01818" stroke-width="2.0" stroke-linecap="round"/><path d="M-7.3,-14.3 Q-10.1,-11.4 -9.5,-10.5" fill="none" stroke="#8c1010" stroke-width="1.0" stroke-linecap="round"/><path d="M-23.2,-6.8 Q-24.8,-5.5 -27.6,-7.4" fill="none" stroke="#f03030" stroke-width="1.2" stroke-linecap="round"/><path d="M-27.6,-20.8 Q-31.4,-21.7 -33.6,-20.0" fill="none" stroke="#ffffff" stroke-width="1.6" stroke-linecap="round"/><path d="M-15.8,-8.8 Q-17.6,-10.6 -18.5,-10.2" fill="none" stroke="#ffffff" stroke-width="1.3" stroke-linecap="round"/><path d="M-13.9,-3.7 Q-14.9,-5.1 -12.6,-8.7" fill="none" stroke="#d01818" stroke-width="1.4" stroke-linecap="round"/><path d="M-37.3,-15.4 Q-37.4,-15.2 -33.7,-11.1" fill="none" stroke="#f03030" stroke-width="2.0" stroke-linecap="round"/><path d="M-23.9,-11.6 Q-25.1,-5.8 -23.1,-4.6" fill="none" stroke="#ffffff" stroke-width="1.6" stroke-linecap="round"/></g>
<g id="pdzS"><g filter="url(#bl2)"><ellipse cx="0" cy="1" rx="8" ry="5" transform="rotate(-20 0 1)" fill="#f08040" opacity="0.18"/></g><path d="M-4.0,-8.0 Q0.0,-10.0 2.0,-9.0 Q4.0,-8.0 4.5,-6.0 L5.0,-4.0" fill="none" stroke="#80d890" stroke-width="0.9" stroke-linecap="round" opacity="1"/><line x1="-3.0" y1="-5.0" x2="3.0" y2="-6.0" stroke="#269340" stroke-width="3.4" stroke-dasharray="1.7 1.1" opacity="0.8"/><path d="M-3.6,-3.3 L-0.9,-7.0 L-0.6,-3.8 L2.1,-7.5 L2.4,-4.3" fill="none" stroke="#30b850" stroke-width="1.4" stroke-linejoin="round" stroke-linecap="round"/><path d="M-10.0,6.0 Q-0.9,0.7 9.0,-3.0" fill="none" stroke="#ee3a30" stroke-width="1.5" stroke-linecap="butt"/><path d="M-8.0,2.0 Q0.8,-1.3 9.0,-6.0" fill="none" stroke="#f06a40" stroke-width="1.3" stroke-linecap="butt"/><path d="M-6.0,7.0 Q0.0,4.0 6.0,1.0" fill="none" stroke="#f4b050" stroke-width="1.4" stroke-linecap="butt"/><path d="M-3.0,8.0 Q0.5,6.0 4.0,4.0" fill="none" stroke="#ecd860" stroke-width="1.5" stroke-linecap="butt"/><path d="M-9.0,2.0 Q-11.0,5.0 -10.0,6.5 Q-9.0,8.0 -7.5,7.5 L-6.0,7.0" fill="none" stroke="#f06050" stroke-width="0.9" stroke-linecap="round" opacity="1"/><path d="M8.0,-6.0 Q11.0,-3.0 10.5,-1.0 Q10.0,1.0 8.5,1.0 L7.0,1.0" fill="none" stroke="#f0a090" stroke-width="0.9" stroke-linecap="round" opacity="1"/></g>
</defs>
<g filter="url(#bl05)">
<use href="#core"/>
<path d="M782.7,168.4 L782.9,169.8 L782.6,170.9 L781.5,171.7 L780.3,172.5 L779.5,173.4 L779.6,174.6 L780.1,176.0 L780.5,177.2 L780.1,178.2 L779.1,179.1 L778.2,180.0 L777.9,181.1 L778.5,182.2 L779.3,183.3 L779.7,184.4 L779.3,185.4 L778.5,186.5 L777.9,187.6 L778.2,188.7 L779.2,189.6 L780.2,190.5 L780.5,191.5 L780.2,192.7 L779.6,194.0 L779.6,195.2 L780.4,196.1 L781.6,196.8 L782.6,197.6 L783.0,198.7 L782.8,200.1 L782.7,201.5 L783.2,202.6 L784.3,203.4 L785.8,203.9 L786.8,204.7 L787.2,206.0 L787.3,207.5 L787.6,209.0 L788.6,210.0 L790.1,210.5" fill="none" stroke="#2a2a2a" stroke-width="1.2" stroke-linejoin="round"/><line x1="780.1" y1="172.7" x2="776.5" y2="169.0" stroke="#262626" stroke-width="2.7" stroke-linecap="round"/><line x1="778.3" y1="180.0" x2="774.0" y2="177.1" stroke="#262626" stroke-width="2.7" stroke-linecap="round"/><line x1="778.2" y1="187.2" x2="773.3" y2="185.3" stroke="#262626" stroke-width="2.7" stroke-linecap="round"/><line x1="779.7" y1="194.3" x2="774.5" y2="193.5" stroke="#262626" stroke-width="2.7" stroke-linecap="round"/><line x1="782.7" y1="201.3" x2="777.5" y2="201.6" stroke="#262626" stroke-width="2.7" stroke-linecap="round"/><line x1="787.4" y1="208.3" x2="782.3" y2="209.4" stroke="#262626" stroke-width="2.7" stroke-linecap="round"/>
<path d="M883.3,168.4 L883.1,169.8 L883.4,170.9 L884.4,171.7 L885.6,172.5 L886.4,173.4 L886.3,174.6 L885.6,175.9 L885.2,177.1 L885.5,178.1 L886.4,179.0 L887.3,180.0 L887.5,181.1 L886.8,182.2 L885.8,183.2 L885.3,184.1 L885.6,185.2 L886.3,186.4 L886.7,187.6 L886.2,188.7 L885.1,189.5 L884.0,190.3 L883.4,191.2 L883.6,192.5 L883.9,193.9 L883.7,195.2 L882.7,196.1 L881.3,196.6 L880.1,197.3 L879.5,198.4 L879.3,199.9 L879.1,201.5 L878.4,202.7 L876.9,203.3 L875.3,203.7 L874.0,204.5 L873.3,205.8 L872.8,207.5 L872.1,209.0 L870.8,210.0 L869.0,210.4" fill="none" stroke="#2a2a2a" stroke-width="1.2" stroke-linejoin="round"/><line x1="885.8" y1="172.7" x2="889.5" y2="169.1" stroke="#262626" stroke-width="2.7" stroke-linecap="round"/><line x1="887.2" y1="180.0" x2="891.7" y2="177.5" stroke="#262626" stroke-width="2.7" stroke-linecap="round"/><line x1="886.5" y1="187.2" x2="891.5" y2="186.0" stroke="#262626" stroke-width="2.7" stroke-linecap="round"/><line x1="883.8" y1="194.2" x2="889.0" y2="194.3" stroke="#262626" stroke-width="2.7" stroke-linecap="round"/><line x1="879.2" y1="201.2" x2="884.2" y2="202.3" stroke="#262626" stroke-width="2.7" stroke-linecap="round"/><line x1="872.6" y1="208.1" x2="877.4" y2="210.1" stroke="#262626" stroke-width="2.7" stroke-linecap="round"/>
<path d="M776.0,363.4 L776.4,362.2 L777.0,361.4 L778.0,361.0 L779.2,360.9 L780.4,360.8 L781.4,360.3 L781.9,359.5 L782.2,358.3 L782.4,357.1 L782.9,356.2 L783.8,355.7 L785.0,355.4 L786.2,355.2 L787.0,354.6 L787.5,353.7 L787.6,352.5 L787.6,351.2 L788.0,350.3 L788.8,349.7 L790.0,349.3 L791.1,348.9 L791.9,348.2 L792.3,347.2 L792.2,345.9 L792.1,344.7 L792.4,343.7 L793.1,343.0 L794.2,342.4 L795.3,341.8 L796.1,341.0 L796.3,340.0 L796.1,338.7 L795.9,337.5 L796.0,336.4 L796.7,335.5 L797.8,334.8 L798.8,334.1 L799.5,333.1 L799.6,332.0 L799.2,330.7" fill="none" stroke="#2a2a2a" stroke-width="1.2" stroke-linejoin="round"/><line x1="780.5" y1="360.7" x2="781.8" y2="365.7" stroke="#262626" stroke-width="2.7" stroke-linecap="round"/><line x1="786.2" y1="355.1" x2="788.1" y2="359.9" stroke="#262626" stroke-width="2.7" stroke-linecap="round"/><line x1="791.1" y1="348.8" x2="793.7" y2="353.3" stroke="#262626" stroke-width="2.7" stroke-linecap="round"/><line x1="795.3" y1="341.7" x2="798.4" y2="345.9" stroke="#262626" stroke-width="2.7" stroke-linecap="round"/><line x1="798.8" y1="334.0" x2="802.3" y2="337.8" stroke="#262626" stroke-width="2.7" stroke-linecap="round"/>
<path d="M906.0,362.4 L905.6,361.2 L905.0,360.3 L904.1,359.9 L902.8,359.7 L901.6,359.5 L900.6,359.0 L900.1,358.1 L899.8,356.9 L899.6,355.7 L899.2,354.7 L898.3,354.2 L897.1,353.9 L895.8,353.5 L895.0,352.9 L894.5,351.9 L894.5,350.7 L894.4,349.4 L894.0,348.4 L893.2,347.8 L892.0,347.3 L890.9,346.8 L890.1,346.1 L889.7,345.0 L889.8,343.8 L889.9,342.5 L889.6,341.4 L888.9,340.6 L887.8,340.0 L886.7,339.4 L885.9,338.5 L885.7,337.4 L885.9,336.1 L886.1,334.8 L886.0,333.7 L885.3,332.8 L884.2,332.0 L883.2,331.2 L882.5,330.2 L882.4,329.1 L882.8,327.8" fill="none" stroke="#2a2a2a" stroke-width="1.2" stroke-linejoin="round"/><line x1="901.6" y1="359.5" x2="900.1" y2="364.4" stroke="#262626" stroke-width="2.7" stroke-linecap="round"/><line x1="895.9" y1="353.5" x2="893.7" y2="358.2" stroke="#262626" stroke-width="2.7" stroke-linecap="round"/><line x1="890.9" y1="346.8" x2="888.2" y2="351.2" stroke="#262626" stroke-width="2.7" stroke-linecap="round"/><line x1="886.7" y1="339.3" x2="883.5" y2="343.4" stroke="#262626" stroke-width="2.7" stroke-linecap="round"/><line x1="883.3" y1="331.2" x2="879.6" y2="334.9" stroke="#262626" stroke-width="2.7" stroke-linecap="round"/>
<use href="#arm" transform="translate(731.6,101)"/>
<use href="#arm" transform="translate(934.4,101) scale(-1,1)"/>
<use href="#arm" transform="translate(731.6,431.5) scale(1,-1)"/>
<use href="#arm" transform="translate(943.6,431.5) scale(-1,-1)"/>
<use href="#core" transform="translate(-175.5,182.5) scale(0.668,0.668)"/>
<path d="M346.9,293.6 L347.1,294.3 L347.1,295.0 L346.9,295.7 L346.5,296.4 L346.2,297.1 L346.0,297.8 L346.1,298.6 L346.4,299.3 L346.6,300.0 L346.8,300.7 L346.7,301.4 L346.4,302.2 L346.2,302.9 L346.2,303.7 L346.4,304.4 L346.8,305.1 L347.2,305.7 L347.4,306.4 L347.4,307.1 L347.3,307.9 L347.2,308.7 L347.3,309.5 L347.6,310.2 L348.1,310.8 L348.6,311.4 L349.0,312.1 L349.2,312.9 L349.2,313.7 L349.2,314.5 L349.4,315.3 L349.9,316.0 L350.5,316.6 L351.1,317.2 L351.6,317.8 L351.8,318.6 L352.0,319.4 L352.2,320.3 L352.5,321.1 L353.1,321.8 L353.8,322.3" fill="none" stroke="#2a2a2a" stroke-width="1.0" stroke-linejoin="round"/><line x1="346.6" y1="296.8" x2="342.4" y2="295.7" stroke="#262626" stroke-width="2.2" stroke-linecap="round"/><line x1="346.6" y1="302.5" x2="342.2" y2="302.1" stroke="#262626" stroke-width="2.2" stroke-linecap="round"/><line x1="347.6" y1="308.3" x2="343.2" y2="308.5" stroke="#262626" stroke-width="2.2" stroke-linecap="round"/><line x1="349.5" y1="314.0" x2="345.2" y2="314.9" stroke="#262626" stroke-width="2.2" stroke-linecap="round"/><line x1="352.3" y1="319.7" x2="348.2" y2="321.2" stroke="#262626" stroke-width="2.2" stroke-linecap="round"/>
<path d="M416.0,293.6 L415.8,294.3 L415.8,295.1 L416.0,295.8 L416.4,296.4 L416.7,297.1 L416.9,297.9 L416.8,298.6 L416.6,299.3 L416.3,300.0 L416.2,300.8 L416.3,301.5 L416.5,302.2 L416.7,303.0 L416.8,303.7 L416.6,304.4 L416.2,305.1 L415.8,305.8 L415.6,306.5 L415.5,307.3 L415.6,308.1 L415.7,308.9 L415.7,309.6 L415.3,310.3 L414.8,311.0 L414.3,311.6 L414.0,312.3 L413.8,313.1 L413.8,313.9 L413.8,314.8 L413.6,315.6 L413.1,316.3 L412.5,316.9 L411.9,317.5 L411.4,318.2 L411.2,319.0 L411.0,319.8 L410.8,320.7 L410.5,321.5 L409.9,322.2 L409.2,322.8" fill="none" stroke="#2a2a2a" stroke-width="1.0" stroke-linejoin="round"/><line x1="416.3" y1="296.8" x2="420.5" y2="295.6" stroke="#262626" stroke-width="2.2" stroke-linecap="round"/><line x1="416.3" y1="302.6" x2="420.7" y2="302.1" stroke="#262626" stroke-width="2.2" stroke-linecap="round"/><line x1="415.4" y1="308.4" x2="419.8" y2="308.6" stroke="#262626" stroke-width="2.2" stroke-linecap="round"/><line x1="413.5" y1="314.2" x2="417.8" y2="315.1" stroke="#262626" stroke-width="2.2" stroke-linecap="round"/><line x1="410.7" y1="320.1" x2="414.8" y2="321.5" stroke="#262626" stroke-width="2.2" stroke-linecap="round"/>
<path d="M342.3,430.8 L342.6,430.1 L342.9,429.6 L343.5,429.2 L344.1,428.9 L344.8,428.6 L345.3,428.2 L345.6,427.6 L345.9,426.9 L346.1,426.2 L346.4,425.7 L346.9,425.2 L347.5,424.8 L348.1,424.4 L348.6,423.9 L348.9,423.3 L349.0,422.6 L349.2,421.9 L349.4,421.2 L349.9,420.7 L350.5,420.2 L351.1,419.7 L351.5,419.2 L351.7,418.5 L351.8,417.7 L351.9,416.9 L352.1,416.2 L352.5,415.6 L353.1,415.1 L353.6,414.5 L354.0,413.9 L354.2,413.1 L354.2,412.3 L354.2,411.5 L354.4,410.8 L354.7,410.1 L355.2,409.4 L355.8,408.8 L356.1,408.1 L356.2,407.3 L356.2,406.4" fill="none" stroke="#2a2a2a" stroke-width="1.0" stroke-linejoin="round"/><line x1="344.3" y1="428.5" x2="346.9" y2="432.1" stroke="#262626" stroke-width="2.2" stroke-linecap="round"/><line x1="347.6" y1="424.4" x2="350.6" y2="427.6" stroke="#262626" stroke-width="2.2" stroke-linecap="round"/><line x1="350.5" y1="419.8" x2="353.9" y2="422.6" stroke="#262626" stroke-width="2.2" stroke-linecap="round"/><line x1="353.1" y1="414.7" x2="356.7" y2="417.1" stroke="#262626" stroke-width="2.2" stroke-linecap="round"/><line x1="355.2" y1="409.0" x2="359.1" y2="411.1" stroke="#262626" stroke-width="2.2" stroke-linecap="round"/>
<path d="M434.7,429.3 L434.4,428.6 L434.0,428.0 L433.4,427.6 L432.7,427.3 L431.9,427.0 L431.3,426.5 L430.9,425.9 L430.6,425.2 L430.4,424.5 L429.9,423.8 L429.4,423.4 L428.7,423.0 L428.0,422.6 L427.4,422.0 L427.0,421.4 L426.8,420.6 L426.5,419.8 L426.1,419.1 L425.6,418.5 L424.9,418.1 L424.2,417.6 L423.6,417.0 L423.3,416.2 L423.1,415.4 L422.9,414.6 L422.5,413.8 L422.0,413.2 L421.3,412.6 L420.6,412.0 L420.1,411.4 L419.8,410.6 L419.6,409.7 L419.4,408.8 L419.1,407.9 L418.6,407.2 L417.9,406.6 L417.2,405.9 L416.7,405.2 L416.4,404.3 L416.3,403.4" fill="none" stroke="#2a2a2a" stroke-width="1.0" stroke-linejoin="round"/><line x1="432.5" y1="426.9" x2="430.0" y2="430.5" stroke="#262626" stroke-width="2.2" stroke-linecap="round"/><line x1="428.5" y1="422.6" x2="425.7" y2="426.0" stroke="#262626" stroke-width="2.2" stroke-linecap="round"/><line x1="424.8" y1="417.7" x2="421.7" y2="420.8" stroke="#262626" stroke-width="2.2" stroke-linecap="round"/><line x1="421.2" y1="412.2" x2="417.9" y2="415.1" stroke="#262626" stroke-width="2.2" stroke-linecap="round"/><line x1="417.9" y1="406.2" x2="414.4" y2="408.9" stroke="#262626" stroke-width="2.2" stroke-linecap="round"/>
<path d="M345.5,290 L347,294 M344,295.5 L350,293.5" stroke="#262626" stroke-width="1.3" fill="none"/>
<path d="M417.5,290 L416,294 M419,295.5 L413,293.5" stroke="#262626" stroke-width="1.3" fill="none"/>
<path d="M343,430.5 L341,434 M339.5,429 L345,432.5" stroke="#262626" stroke-width="1.3" fill="none"/>
<path d="M434,429 L436,432.5 M437.5,427.5 L432,431" stroke="#262626" stroke-width="1.3" fill="none"/>
<use href="#pdzS" transform="translate(344,283.5)"/>
<use href="#pdzS" transform="translate(420.6,283.5) scale(-1,1)"/>
<use href="#pdzS" transform="translate(344.8,442) scale(1,-1)"/>
<use href="#pdzS" transform="translate(436.4,441) scale(-1,-1)"/>
<g transform="translate(358,163)"><g filter="url(#bl2)"><ellipse cx="-21" cy="-8" rx="15" ry="20" transform="rotate(0 -21 -8)" fill="#ea1d1d" opacity="0.25"/><ellipse cx="14" cy="-16" rx="10" ry="9" transform="rotate(0 14 -16)" fill="#1fd0ae" opacity="0.3"/><ellipse cx="16" cy="10" rx="17" ry="20" transform="rotate(0 16 10)" fill="#e0a030" opacity="0.3"/><ellipse cx="35" cy="-16" rx="7" ry="8" transform="rotate(0 35 -16)" fill="#f26c14" opacity="0.3"/></g><path d="M7.6,39.2 Q9.5,38.7 6.7,36.4 Q3.8,34.1 4.5,34.5 Q5.2,34.9 7.0,32.0 L8.7,29.2" fill="none" stroke="#c0b020" stroke-width="0.9" stroke-linecap="round" opacity="1"/><path d="M-4.1,26.8 Q-9.0,32.8 -8.2,30.1 Q-7.4,27.5 -4.3,30.1 Q-1.2,32.8 -4.0,33.1 L-6.7,33.5" fill="none" stroke="#e6dc22" stroke-width="0.9" stroke-linecap="round" opacity="1"/><path d="M3.8,30.3 Q1.5,29.2 2.3,32.0 Q3.2,34.9 1.6,35.3 Q0.0,35.6 1.8,33.7 L3.6,31.8" fill="none" stroke="#d8c840" stroke-width="0.9" stroke-linecap="round" opacity="1"/><path d="M18.8,36.6 Q12.7,30.8 13.7,30.9 Q14.7,30.9 13.8,33.2 Q12.9,35.4 13.3,34.7 L13.7,34.0" fill="none" stroke="#e6dc22" stroke-width="0.9" stroke-linecap="round" opacity="1"/><path d="M6.3,36.8 Q11.0,32.2 10.9,36.0 Q10.7,39.9 11.3,35.6 Q12.0,31.4 12.4,31.7 L12.9,32.0" fill="none" stroke="#d8c840" stroke-width="0.9" stroke-linecap="round" opacity="1"/><path d="M1.1,30.9 Q2.4,34.6 1.9,32.7 Q1.5,30.9 0.1,33.3 Q-1.3,35.7 -3.6,35.0 L-6.0,34.3" fill="none" stroke="#c0b020" stroke-width="0.9" stroke-linecap="round" opacity="1"/><path d="M36.0,-6.0 Q44.0,-8.0 45.5,-4.5 Q47.0,-1.0 44.5,1.0 Q42.0,3.0 40.0,1.5 L38.0,0.0" fill="none" stroke="#f0a060" stroke-width="1.1" stroke-linecap="round" opacity="1"/><path d="M21.6,-26.3 Q17.3,-18.0 15.4,-18.6 Q13.5,-19.1 17.7,-19.6 Q22.0,-20.2 21.1,-22.9 L20.3,-25.6" fill="none" stroke="#1fd0ae" stroke-width="0.9" stroke-linecap="round" opacity="1"/><line x1="8.6" y1="-23.1" x2="15.1" y2="-26.2" stroke="#18a68b" stroke-width="3.8" stroke-dasharray="2.2 1.4" opacity="0.8"/><path d="M8.6,-21.0 L10.8,-26.1 L12.9,-23.1 L15.1,-28.2" fill="none" stroke="#1fd0ae" stroke-width="1.7" stroke-linejoin="round" stroke-linecap="round"/><line x1="2.8" y1="-17.6" x2="11.3" y2="-19.7" stroke="#18a68b" stroke-width="3.4" stroke-dasharray="2.2 1.4" opacity="0.8"/><path d="M2.3,-15.8 L5.4,-19.9 L6.6,-16.9 L9.7,-21.0 L10.8,-17.9" fill="none" stroke="#1fd0ae" stroke-width="1.7" stroke-linejoin="round" stroke-linecap="round"/><line x1="9.8" y1="-19.9" x2="12.8" y2="-29.4" stroke="#18a68b" stroke-width="3.7" stroke-dasharray="2.2 1.4" opacity="0.8"/><path d="M11.2,-18.5 L9.0,-23.2 L12.4,-22.3 L10.2,-27.0 L13.6,-26.1 L11.4,-30.8" fill="none" stroke="#1fd0ae" stroke-width="1.7" stroke-linejoin="round" stroke-linecap="round"/><line x1="9.5" y1="-21.0" x2="10.7" y2="-30.1" stroke="#199999" stroke-width="4.1" stroke-dasharray="2.2 1.4" opacity="0.8"/><path d="M11.3,-19.9 L7.9,-24.0 L11.8,-23.5 L8.4,-27.6 L12.2,-27.2 L8.9,-31.2" fill="none" stroke="#20c0c0" stroke-width="1.7" stroke-linejoin="round" stroke-linecap="round"/><line x1="14.7" y1="-12.8" x2="21.2" y2="-19.0" stroke="#18a68b" stroke-width="3.9" stroke-dasharray="2.2 1.4" opacity="0.8"/><path d="M15.3,-10.8 L15.4,-16.0 L17.9,-13.3 L18.0,-18.5 L20.5,-15.8 L20.6,-21.0" fill="none" stroke="#1fd0ae" stroke-width="1.7" stroke-linejoin="round" stroke-linecap="round"/><line x1="14.7" y1="-21.8" x2="23.4" y2="-23.7" stroke="#18a68b" stroke-width="3.8" stroke-dasharray="2.2 1.4" opacity="0.8"/><path d="M14.2,-19.9 L17.4,-24.3 L18.5,-20.8 L21.7,-25.2 L22.9,-21.7" fill="none" stroke="#1fd0ae" stroke-width="1.7" stroke-linejoin="round" stroke-linecap="round"/><line x1="3.8" y1="-13.9" x2="4.6" y2="-22.6" stroke="#18a68b" stroke-width="3.7" stroke-dasharray="2.2 1.4" opacity="0.8"/><path d="M5.5,-12.9 L2.3,-17.1 L5.9,-17.2 L2.7,-21.5 L6.3,-21.5" fill="none" stroke="#1fd0ae" stroke-width="1.7" stroke-linejoin="round" stroke-linecap="round"/><line x1="16.5" y1="-9.3" x2="24.3" y2="-10.1" stroke="#1d9eb9" stroke-width="3.4" stroke-dasharray="2.2 1.4" opacity="0.8"/><path d="M15.8,-7.6 L19.2,-11.2 L19.7,-8.0 L23.1,-11.7 L23.6,-8.4" fill="none" stroke="#25c6e8" stroke-width="1.5" stroke-linejoin="round" stroke-linecap="round"/><path d="M22.1,-3.0 Q21.5,-9.1 23.0,-7.7 Q24.5,-6.4 24.3,-4.4 Q24.1,-2.3 23.7,-2.3 L23.3,-2.3" fill="none" stroke="#30a0e8" stroke-width="0.9" stroke-linecap="round" opacity="1"/><path d="M14.7,-5.9 Q12.5,-5.6 14.5,-8.7 Q16.5,-11.8 15.7,-10.9 Q15.0,-10.0 13.0,-10.4 L11.0,-10.9" fill="none" stroke="#30a0e8" stroke-width="0.9" stroke-linecap="round" opacity="1"/><line x1="17.6" y1="-9.5" x2="13.3" y2="-14.2" stroke="#1d9eb9" stroke-width="2.6" stroke-dasharray="2.2 1.4" opacity="0.8"/><path d="M19.1,-9.6 L14.6,-10.9 L16.2,-12.8 L11.8,-14.0" fill="none" stroke="#25c6e8" stroke-width="1.5" stroke-linejoin="round" stroke-linecap="round"/><line x1="10.0" y1="-6.3" x2="17.7" y2="-4.5" stroke="#1d9eb9" stroke-width="3.3" stroke-dasharray="2.2 1.4" opacity="0.8"/><path d="M8.8,-5.0 L13.2,-7.2 L12.6,-4.1 L17.0,-6.2 L16.4,-3.2" fill="none" stroke="#25c6e8" stroke-width="1.5" stroke-linejoin="round" stroke-linecap="round"/><line x1="-14.0" y1="-33.0" x2="-6.0" y2="-20.0" stroke="#a01010" stroke-width="5.9" stroke-dasharray="2.7 1.7" opacity="0.8"/><path d="M-16.9,-32.3 L-9.8,-31.5 L-14.2,-28.0 L-7.1,-27.2 L-11.5,-23.6 L-4.5,-22.9 L-8.9,-19.3" fill="none" stroke="#c81414" stroke-width="2.3" stroke-linejoin="round" stroke-linecap="round"/><path d="M-33.0,-17.0 Q-20.0,-22.2 -6.0,-22.0" fill="none" stroke="#ea1d1d" stroke-width="3.0" stroke-linecap="butt"/><path d="M-30.0,-20.0 Q-19.5,-24.7 -8.0,-25.0" fill="none" stroke="#8c1010" stroke-width="1.3" stroke-linecap="butt"/><path d="M-38.0,-8.0 Q-23.6,-14.4 -8.0,-16.0" fill="none" stroke="#ea1d1d" stroke-width="3.0" stroke-linecap="butt"/><path d="M-34.0,-12.0 Q-22.6,-17.4 -10.0,-19.0" fill="none" stroke="#8c1010" stroke-width="1.2" stroke-linecap="butt"/><path d="M-39.0,-6.0 Q-35.3,3.6 -26.0,8.0" fill="none" stroke="#ea1d1d" stroke-width="2.8" stroke-linecap="butt"/><line x1="-36.0" y1="-2.0" x2="-16.0" y2="2.0" stroke="#bb1717" stroke-width="5.2" stroke-dasharray="2.2 1.4" opacity="0.8"/><path d="M-37.4,0.3 L-32.8,-3.9 L-33.7,1.0 L-29.2,-3.2 L-30.1,1.7 L-25.5,-2.5 L-26.5,2.5 L-21.9,-1.7 L-22.8,3.2 L-18.3,-1.0 L-19.2,3.9 L-14.6,-0.3" fill="none" stroke="#ea1d1d" stroke-width="2.0" stroke-linejoin="round" stroke-linecap="round"/><line x1="-30.0" y1="8.0" x2="-8.0" y2="4.0" stroke="#bb1717" stroke-width="5.2" stroke-dasharray="2.2 1.4" opacity="0.8"/><path d="M-30.4,10.6 L-27.7,5.0 L-26.8,10.0 L-24.1,4.4 L-23.1,9.3 L-20.4,3.7 L-19.4,8.6 L-16.7,3.0 L-15.8,8.0 L-13.1,2.4 L-12.1,7.3 L-9.4,1.7 L-8.4,6.6" fill="none" stroke="#ea1d1d" stroke-width="2.0" stroke-linejoin="round" stroke-linecap="round"/><line x1="-28.0" y1="14.0" x2="-18.0" y2="10.0" stroke="#ac1313" stroke-width="4.2" stroke-dasharray="2.2 1.4" opacity="0.8"/><path d="M-28.1,16.2 L-25.9,11.0 L-24.1,14.6 L-21.9,9.4 L-20.1,13.0 L-17.9,7.8" fill="none" stroke="#d81818" stroke-width="1.8" stroke-linejoin="round" stroke-linecap="round"/><line x1="-22.4" y1="5.0" x2="-14.9" y2="5.5" stroke="#a61313" stroke-width="3.9" stroke-dasharray="2.2 1.4" opacity="0.8"/><path d="M-23.4,6.8 L-19.5,3.4 L-19.7,7.1 L-15.8,3.6 L-16.0,7.3" fill="none" stroke="#d01818" stroke-width="1.9" stroke-linejoin="round" stroke-linecap="round"/><line x1="-21.4" y1="3.4" x2="-14.1" y2="6.9" stroke="#a61313" stroke-width="3.6" stroke-dasharray="2.2 1.4" opacity="0.8"/><path d="M-22.9,4.6 L-18.0,3.1 L-19.3,6.3 L-14.4,4.9 L-15.6,8.1" fill="none" stroke="#d01818" stroke-width="1.9" stroke-linejoin="round" stroke-linecap="round"/><line x1="-26.3" y1="-3.1" x2="-20.2" y2="-5.8" stroke="#bb1717" stroke-width="4.7" stroke-dasharray="2.2 1.4" opacity="0.8"/><path d="M-26.2,-0.7 L-24.4,-6.4 L-22.2,-2.5 L-20.3,-8.2" fill="none" stroke="#ea1d1d" stroke-width="1.9" stroke-linejoin="round" stroke-linecap="round"/><line x1="-22.2" y1="0.5" x2="-14.1" y2="-3.9" stroke="#a61313" stroke-width="4.8" stroke-dasharray="2.2 1.4" opacity="0.8"/><path d="M-21.9,2.9 L-20.9,-2.8 L-18.7,1.2 L-17.7,-4.6 L-15.4,-0.6 L-14.5,-6.3" fill="none" stroke="#d01818" stroke-width="1.9" stroke-linejoin="round" stroke-linecap="round"/><line x1="-24.0" y1="-5.5" x2="-16.4" y2="-3.3" stroke="#bb1717" stroke-width="3.7" stroke-dasharray="2.2 1.4" opacity="0.8"/><path d="M-25.4,-4.1 L-20.7,-6.4 L-21.6,-3.0 L-16.9,-5.3 L-17.8,-1.8" fill="none" stroke="#ea1d1d" stroke-width="1.9" stroke-linejoin="round" stroke-linecap="round"/><line x1="-10.3" y1="-3.6" x2="-2.8" y2="-4.5" stroke="#a61313" stroke-width="3.8" stroke-dasharray="2.2 1.4" opacity="0.8"/><path d="M-11.0,-1.7 L-7.7,-5.7 L-7.2,-2.2 L-4.0,-6.2 L-3.4,-2.6" fill="none" stroke="#d01818" stroke-width="1.9" stroke-linejoin="round" stroke-linecap="round"/><circle cx="-21" cy="4" r="2.2" fill="#22d022"/><circle cx="-4" cy="-8" r="1.4" fill="#8c1010"/><circle cx="0" cy="-3" r="1.3" fill="#8c1010"/><circle cx="-6" cy="-1" r="1.2" fill="#8c1010"/><path d="M-16.0,29.2 L-16.5,21.8 L-13.0,27.2 L-13.5,19.8 L-10.0,25.2 L-10.5,17.8 L-7.0,23.2" fill="none" stroke="#6e7a12" stroke-width="1.5" stroke-linejoin="round" stroke-linecap="round"/><path d="M15.9,-9.0 Q13.4,-9.6 12.5,-12.3" fill="none" stroke="#e6dc22" stroke-width="1.0" stroke-linecap="round"/><path d="M13.3,-2.7 Q14.9,-5.1 18.9,-5.2" fill="none" stroke="#1fd0ae" stroke-width="1.7" stroke-linecap="round"/><path d="M5.2,5.8 Q9.2,7.2 10.2,5.5" fill="none" stroke="#1fc46a" stroke-width="1.0" stroke-linecap="round"/><path d="M3.0,-0.9 Q3.3,-5.6 1.6,-6.2" fill="none" stroke="#f0a020" stroke-width="1.4" stroke-linecap="round"/><path d="M21.4,9.5 Q23.2,11.3 25.3,10.5" fill="none" stroke="#30a0e8" stroke-width="1.2" stroke-linecap="round"/><path d="M15.0,21.1 Q14.7,20.2 10.2,17.9" fill="none" stroke="#e6dc22" stroke-width="1.5" stroke-linecap="round"/><path d="M19.2,17.1 Q22.2,14.9 23.2,14.2" fill="none" stroke="#22d022" stroke-width="1.7" stroke-linecap="round"/><path d="M12.1,-0.1 Q10.8,-3.5 13.4,-6.7" fill="none" stroke="#30a0e8" stroke-width="1.9" stroke-linecap="round"/><path d="M33.4,6.5 Q29.2,8.6 28.8,8.8" fill="none" stroke="#f26c14" stroke-width="1.8" stroke-linecap="round"/><path d="M22.0,12.7 Q27.2,15.5 27.8,13.7" fill="none" stroke="#e04818" stroke-width="1.0" stroke-linecap="round"/><path d="M28.7,-3.7 Q27.8,-8.3 24.6,-9.1" fill="none" stroke="#f26c14" stroke-width="1.7" stroke-linecap="round"/><path d="M11.7,-10.8 Q10.7,-9.4 14.1,-5.1" fill="none" stroke="#30a0e8" stroke-width="1.1" stroke-linecap="round"/><path d="M8.4,-13.8 Q11.9,-11.2 13.4,-11.9" fill="none" stroke="#1fd0ae" stroke-width="1.0" stroke-linecap="round"/><path d="M3.3,14.0 Q1.7,15.6 -1.1,14.3" fill="none" stroke="#1fd0ae" stroke-width="1.7" stroke-linecap="round"/><path d="M6.5,11.9 Q3.4,12.4 -0.2,11.7" fill="none" stroke="#f26c14" stroke-width="1.1" stroke-linecap="round"/><path d="M6.7,17.3 Q7.7,22.6 5.3,24.0" fill="none" stroke="#e04818" stroke-width="1.7" stroke-linecap="round"/><path d="M5.0,16.8 Q4.5,14.3 3.2,14.0" fill="none" stroke="#1fc46a" stroke-width="1.5" stroke-linecap="round"/><path d="M16.8,0.4 Q11.3,1.3 10.1,2.0" fill="none" stroke="#30a0e8" stroke-width="1.7" stroke-linecap="round"/><path d="M30.1,12.3 Q31.7,14.4 30.7,15.7" fill="none" stroke="#28b8d8" stroke-width="1.1" stroke-linecap="round"/><path d="M19.0,-2.6 Q19.6,-0.9 19.4,1.7" fill="none" stroke="#e6dc22" stroke-width="1.4" stroke-linecap="round"/><path d="M23.4,-2.9 Q24.6,-0.8 21.8,2.4" fill="none" stroke="#22d022" stroke-width="1.6" stroke-linecap="round"/><path d="M18.8,15.5 Q16.2,15.8 16.1,17.6" fill="none" stroke="#22d022" stroke-width="1.5" stroke-linecap="round"/><path d="M31.2,11.2 Q29.1,14.7 28.5,15.0" fill="none" stroke="#e6dc22" stroke-width="1.3" stroke-linecap="round"/><path d="M14.6,-6.2 Q14.7,-6.6 12.8,-8.9" fill="none" stroke="#e04818" stroke-width="1.2" stroke-linecap="round"/><path d="M5.5,-5.6 Q5.8,-3.9 7.7,-2.0" fill="none" stroke="#22d022" stroke-width="1.3" stroke-linecap="round"/><path d="M22.1,-2.7 Q23.5,-1.2 25.0,-1.5" fill="none" stroke="#1fd0ae" stroke-width="1.1" stroke-linecap="round"/><path d="M22.1,-0.6 Q19.1,-4.6 19.4,-5.8" fill="none" stroke="#22d022" stroke-width="1.6" stroke-linecap="round"/><path d="M17.8,12.7 Q21.2,9.7 22.8,9.6" fill="none" stroke="#f0a020" stroke-width="1.3" stroke-linecap="round"/><path d="M21.9,13.9 Q23.4,17.0 23.9,17.3" fill="none" stroke="#e6dc22" stroke-width="1.7" stroke-linecap="round"/><path d="M9.9,3.5 Q5.7,2.2 4.5,5.2" fill="none" stroke="#30a0e8" stroke-width="1.6" stroke-linecap="round"/><path d="M29.7,12.4 Q27.9,15.4 30.2,18.6" fill="none" stroke="#28b8d8" stroke-width="1.6" stroke-linecap="round"/><path d="M11.9,17.4 Q14.6,19.1 17.9,19.3" fill="none" stroke="#22d022" stroke-width="2.0" stroke-linecap="round"/><path d="M5.8,16.1 Q3.8,15.9 3.4,13.2" fill="none" stroke="#1fc46a" stroke-width="1.1" stroke-linecap="round"/><path d="M2.2,17.8 Q0.0,15.8 -1.1,14.4" fill="none" stroke="#e6dc22" stroke-width="1.5" stroke-linecap="round"/><path d="M21.0,16.5 Q24.0,12.3 26.4,12.1" fill="none" stroke="#e04818" stroke-width="1.1" stroke-linecap="round"/><path d="M24.9,18.4 Q23.1,19.3 23.6,21.7" fill="none" stroke="#1fc46a" stroke-width="1.8" stroke-linecap="round"/><path d="M31.3,10.9 Q29.9,14.1 30.5,15.8" fill="none" stroke="#f26c14" stroke-width="1.9" stroke-linecap="round"/><path d="M24.0,2.2 Q23.6,1.8 24.3,-0.8" fill="none" stroke="#1fd0ae" stroke-width="1.6" stroke-linecap="round"/><path d="M14.9,22.8 Q14.3,21.0 11.1,17.1" fill="none" stroke="#f26c14" stroke-width="1.1" stroke-linecap="round"/><path d="M26.3,6.8 Q24.2,8.7 24.5,10.6" fill="none" stroke="#f0a020" stroke-width="1.3" stroke-linecap="round"/><path d="M15.3,-15.3 Q16.5,-13.8 18.6,-14.2" fill="none" stroke="#22d022" stroke-width="1.2" stroke-linecap="round"/><path d="M13.3,-1.4 Q12.8,0.7 11.8,1.3" fill="none" stroke="#1fc46a" stroke-width="1.3" stroke-linecap="round"/><path d="M16.7,9.4 Q18.3,11.4 20.5,14.1" fill="none" stroke="#f0a020" stroke-width="1.3" stroke-linecap="round"/><path d="M31.3,3.3 Q30.1,5.9 26.9,5.2" fill="none" stroke="#30a0e8" stroke-width="1.5" stroke-linecap="round"/><path d="M12.5,-18.2 Q15.7,-17.4 16.9,-13.6" fill="none" stroke="#22d022" stroke-width="1.0" stroke-linecap="round"/><path d="M15.9,6.8 Q16.6,4.4 19.3,3.7" fill="none" stroke="#28b8d8" stroke-width="1.3" stroke-linecap="round"/><path d="M15.0,19.8 Q16.6,18.8 16.0,15.5" fill="none" stroke="#22d022" stroke-width="1.6" stroke-linecap="round"/><path d="M10.4,-7.5 Q9.8,-11.0 12.8,-11.9" fill="none" stroke="#1fc46a" stroke-width="1.8" stroke-linecap="round"/><path d="M6.7,27.4 Q7.5,24.4 8.4,21.6" fill="none" stroke="#30a0e8" stroke-width="1.6" stroke-linecap="round"/><path d="M22.7,0.4 Q25.6,-0.7 27.7,0.7" fill="none" stroke="#e6dc22" stroke-width="1.0" stroke-linecap="round"/><path d="M23.5,11.1 Q21.2,11.6 18.6,10.6" fill="none" stroke="#e04818" stroke-width="2.0" stroke-linecap="round"/><path d="M24.6,14.2 Q20.9,14.0 18.5,12.8" fill="none" stroke="#30a0e8" stroke-width="1.2" stroke-linecap="round"/><path d="M22.1,13.4 Q23.8,13.4 26.5,8.3" fill="none" stroke="#22d022" stroke-width="1.3" stroke-linecap="round"/><path d="M22.3,-10.0 Q24.4,-11.0 22.4,-15.7" fill="none" stroke="#30a0e8" stroke-width="1.2" stroke-linecap="round"/><path d="M15.3,20.0 Q15.8,22.8 15.8,26.9" fill="none" stroke="#22d022" stroke-width="1.7" stroke-linecap="round"/><path d="M12.7,17.4 Q11.4,16.5 9.0,16.7" fill="none" stroke="#f0a020" stroke-width="1.1" stroke-linecap="round"/><path d="M21.9,10.5 Q22.8,7.3 20.9,6.2" fill="none" stroke="#f26c14" stroke-width="1.8" stroke-linecap="round"/><path d="M13.5,-5.6 Q12.6,-7.2 10.6,-10.0" fill="none" stroke="#30a0e8" stroke-width="1.7" stroke-linecap="round"/><path d="M15.4,3.3 Q11.1,1.6 8.9,2.1" fill="none" stroke="#f0a020" stroke-width="1.2" stroke-linecap="round"/><path d="M16.4,8.8 Q17.4,11.0 17.9,12.3" fill="none" stroke="#f0a020" stroke-width="1.7" stroke-linecap="round"/><path d="M-1.6,8.3 Q-0.9,7.2 1.8,2.4" fill="none" stroke="#e6dc22" stroke-width="1.9" stroke-linecap="round"/><path d="M4.5,16.7 Q4.2,13.5 7.1,12.6" fill="none" stroke="#1fd0ae" stroke-width="1.1" stroke-linecap="round"/><path d="M9.2,2.8 Q9.2,-0.6 9.6,-2.5" fill="none" stroke="#1fd0ae" stroke-width="1.7" stroke-linecap="round"/><path d="M17.9,25.4 Q18.1,25.7 20.6,27.5" fill="none" stroke="#f0a020" stroke-width="1.2" stroke-linecap="round"/><path d="M21.8,-4.3 Q22.1,-3.3 26.3,-6.1" fill="none" stroke="#f0a020" stroke-width="1.1" stroke-linecap="round"/><path d="M13.0,16.5 Q10.8,14.1 6.3,16.9" fill="none" stroke="#e04818" stroke-width="2.0" stroke-linecap="round"/><path d="M24.5,-8.9 Q24.7,-7.0 22.5,-5.9" fill="none" stroke="#1fc46a" stroke-width="1.6" stroke-linecap="round"/><path d="M6.6,0.9 Q6.2,-1.5 9.5,-3.2" fill="none" stroke="#28b8d8" stroke-width="1.3" stroke-linecap="round"/><path d="M19.9,-9.1 Q22.2,-10.9 25.0,-10.1" fill="none" stroke="#e6dc22" stroke-width="1.9" stroke-linecap="round"/><path d="M5.2,2.7 Q7.2,3.0 7.5,5.1" fill="none" stroke="#22d022" stroke-width="1.0" stroke-linecap="round"/><path d="M16.0,27.3 Q18.4,25.3 18.2,24.9" fill="none" stroke="#e04818" stroke-width="1.0" stroke-linecap="round"/><path d="M18.2,27.9 Q15.5,23.6 13.1,24.2" fill="none" stroke="#1fd0ae" stroke-width="1.4" stroke-linecap="round"/><path d="M27.2,5.0 Q25.2,3.8 21.7,1.3" fill="none" stroke="#22d022" stroke-width="1.2" stroke-linecap="round"/><path d="M11.1,18.7 Q12.0,17.8 13.5,12.9" fill="none" stroke="#22d022" stroke-width="2.0" stroke-linecap="round"/><path d="M21.9,20.8 Q23.3,25.6 25.5,25.7" fill="none" stroke="#f0a020" stroke-width="1.2" stroke-linecap="round"/><path d="M10.0,-10.0 Q12.5,11.6 20.0,32.0" fill="none" stroke="#f26c14" stroke-width="2.8" stroke-linecap="butt"/><path d="M14.0,-8.0 Q17.3,10.7 25.0,28.0" fill="none" stroke="#e85a10" stroke-width="2.2" stroke-linecap="butt"/><path d="M6.0,-4.0 Q6.6,13.8 14.0,30.0" fill="none" stroke="#f09020" stroke-width="2.2" stroke-linecap="butt"/><path d="M-4.0,28.0 Q5.4,22.1 10.0,12.0" fill="none" stroke="#e6dc22" stroke-width="2.8" stroke-linecap="butt"/><path d="M-6.0,20.0 Q2.4,16.4 6.0,8.0" fill="none" stroke="#c8b010" stroke-width="1.6" stroke-linecap="butt"/><line x1="14.0" y1="-1.4" x2="22.2" y2="-0.3" stroke="#1ba61b" stroke-width="3.6" stroke-dasharray="2.2 1.4" opacity="0.8"/><path d="M12.9,0.1 L17.2,-2.7 L17.0,0.7 L21.3,-2.2 L21.1,1.3" fill="none" stroke="#22d022" stroke-width="1.6" stroke-linejoin="round" stroke-linecap="round"/><path d="M12.1,14.8 Q10.5,9.1 9.3,11.8 Q8.0,14.5 10.4,11.5 Q12.9,8.4 10.3,9.8 L7.7,11.1" fill="none" stroke="#28b8d8" stroke-width="0.9" stroke-linecap="round" opacity="1"/><line x1="17.2" y1="12.9" x2="11.6" y2="14.3" stroke="#c08019" stroke-width="3.7" stroke-dasharray="2.2 1.4" opacity="0.8"/><path d="M17.6,11.0 L14.9,15.3 L13.9,11.9 L11.2,16.2" fill="none" stroke="#f0a020" stroke-width="1.6" stroke-linejoin="round" stroke-linecap="round"/><line x1="18.3" y1="0.5" x2="24.5" y2="-1.5" stroke="#c15610" stroke-width="3.2" stroke-dasharray="2.2 1.4" opacity="0.8"/><path d="M17.9,2.2 L20.8,-1.9 L22.0,0.9 L24.9,-3.2" fill="none" stroke="#f26c14" stroke-width="1.6" stroke-linejoin="round" stroke-linecap="round"/><line x1="16.6" y1="11.8" x2="10.8" y2="10.1" stroke="#189c54" stroke-width="3.4" stroke-dasharray="2.2 1.4" opacity="0.8"/><path d="M17.9,10.4 L13.4,12.5 L14.0,9.4 L9.5,11.5" fill="none" stroke="#1fc46a" stroke-width="1.6" stroke-linejoin="round" stroke-linecap="round"/><line x1="17.5" y1="-8.5" x2="22.5" y2="-7.2" stroke="#18a68b" stroke-width="2.8" stroke-dasharray="2.2 1.4" opacity="0.8"/><path d="M16.3,-7.4 L21.2,-8.9 L21.3,-6.2" fill="none" stroke="#1fd0ae" stroke-width="1.6" stroke-linejoin="round" stroke-linecap="round"/><line x1="24.3" y1="-3.0" x2="19.0" y2="1.6" stroke="#c15610" stroke-width="2.9" stroke-dasharray="2.2 1.4" opacity="0.8"/><path d="M24.0,-4.6 L22.7,0.1 L20.6,-1.6 L19.3,3.2" fill="none" stroke="#f26c14" stroke-width="1.6" stroke-linejoin="round" stroke-linecap="round"/><line x1="16.0" y1="9.1" x2="21.5" y2="17.0" stroke="#18a68b" stroke-width="3.1" stroke-dasharray="2.2 1.4" opacity="0.8"/><path d="M14.3,9.3 L18.9,10.6 L16.5,12.4 L21.1,13.8 L18.7,15.6 L23.3,16.9" fill="none" stroke="#1fd0ae" stroke-width="1.6" stroke-linejoin="round" stroke-linecap="round"/><line x1="21.6" y1="5.5" x2="14.0" y2="3.8" stroke="#c08019" stroke-width="2.8" stroke-dasharray="2.2 1.4" opacity="0.8"/><path d="M22.8,4.5 L18.5,6.2 L19.0,3.6 L14.7,5.3 L15.2,2.7" fill="none" stroke="#f0a020" stroke-width="1.6" stroke-linejoin="round" stroke-linecap="round"/><line x1="13.2" y1="2.0" x2="7.0" y2="0.5" stroke="#18a68b" stroke-width="2.9" stroke-dasharray="2.2 1.4" opacity="0.8"/><path d="M14.4,0.9 L9.9,2.6 L10.3,-0.1 L5.8,1.6" fill="none" stroke="#1fd0ae" stroke-width="1.6" stroke-linejoin="round" stroke-linecap="round"/><line x1="10.7" y1="1.4" x2="11.3" y2="-4.4" stroke="#189c54" stroke-width="3.4" stroke-dasharray="2.2 1.4" opacity="0.8"/><path d="M12.2,2.5 L9.4,-1.5 L12.6,-1.4 L9.7,-5.4" fill="none" stroke="#1fc46a" stroke-width="1.6" stroke-linejoin="round" stroke-linecap="round"/><path d="M24.4,11.5 Q28.0,11.8 26.2,10.7 Q24.3,9.5 24.6,10.1 Q25.0,10.6 27.0,10.2 L29.0,9.7" fill="none" stroke="#22d022" stroke-width="0.9" stroke-linecap="round" opacity="1"/><line x1="20.3" y1="-6.1" x2="28.5" y2="-6.4" stroke="#c08019" stroke-width="2.8" stroke-dasharray="2.2 1.4" opacity="0.8"/><path d="M19.5,-4.7 L23.2,-7.5 L23.6,-4.9 L27.3,-7.7 L27.7,-5.0" fill="none" stroke="#f0a020" stroke-width="1.6" stroke-linejoin="round" stroke-linecap="round"/><line x1="24.7" y1="13.4" x2="22.2" y2="19.2" stroke="#18a68b" stroke-width="3.7" stroke-dasharray="2.2 1.4" opacity="0.8"/><path d="M23.4,11.9 L25.1,16.9 L21.7,15.7 L23.5,20.7" fill="none" stroke="#1fd0ae" stroke-width="1.6" stroke-linejoin="round" stroke-linecap="round"/><line x1="12.9" y1="7.7" x2="18.6" y2="13.7" stroke="#18a68b" stroke-width="3.4" stroke-dasharray="2.2 1.4" opacity="0.8"/><path d="M11.1,8.2 L16.1,8.8 L13.9,11.2 L19.0,11.8 L16.8,14.2" fill="none" stroke="#1fd0ae" stroke-width="1.6" stroke-linejoin="round" stroke-linecap="round"/><line x1="21.3" y1="-1.8" x2="16.6" y2="-7.2" stroke="#c08019" stroke-width="2.9" stroke-dasharray="2.2 1.4" opacity="0.8"/><path d="M23.0,-2.0 L18.1,-3.4 L19.8,-5.6 L15.0,-7.0" fill="none" stroke="#f0a020" stroke-width="1.6" stroke-linejoin="round" stroke-linecap="round"/><path d="M9.1,5.7 Q11.7,9.5 11.8,8.4 Q11.9,7.3 11.2,7.8 Q10.6,8.4 12.5,6.1 L14.5,3.8" fill="none" stroke="#22d022" stroke-width="0.9" stroke-linecap="round" opacity="1"/><line x1="13.5" y1="0.1" x2="7.7" y2="-2.5" stroke="#2093ac" stroke-width="2.8" stroke-dasharray="2.2 1.4" opacity="0.8"/><path d="M14.8,-0.7 L10.2,0.0 L11.0,-2.5 L6.3,-1.7" fill="none" stroke="#28b8d8" stroke-width="1.6" stroke-linejoin="round" stroke-linecap="round"/><circle cx="26" cy="15" r="2.8" fill="#22d022"/><circle cx="24" cy="5" r="2.2" fill="#22d022"/><circle cx="27" cy="11" r="1" fill="#6030d0"/><line x1="33.0" y1="-24.0" x2="38.0" y2="-12.0" stroke="#c15610" stroke-width="5.5" stroke-dasharray="2.2 1.4" opacity="0.8"/><path d="M30.3,-23.8 L36.5,-22.5 L31.7,-20.4 L37.9,-19.0 L33.1,-17.0 L39.3,-15.6 L34.5,-13.5 L40.7,-12.2" fill="none" stroke="#f26c14" stroke-width="2.1" stroke-linejoin="round" stroke-linecap="round"/><line x1="30.0" y1="-18.0" x2="36.0" y2="-22.0" stroke="#b96613" stroke-width="4.2" stroke-dasharray="2.2 1.4" opacity="0.8"/><path d="M30.4,-15.8 L31.1,-21.2 L33.4,-17.8 L34.1,-23.2 L36.4,-19.8" fill="none" stroke="#e88018" stroke-width="1.8" stroke-linejoin="round" stroke-linecap="round"/><path d="M20.2,-13.3 Q22.5,-12.8 22.8,-11.1" fill="none" stroke="#f26c14" stroke-width="1.2" stroke-linecap="round"/><path d="M19.6,-17.1 Q21.6,-16.5 21.7,-13.2" fill="none" stroke="#25c6e8" stroke-width="1.9" stroke-linecap="round"/><path d="M11.3,-23.1 Q9.0,-22.6 7.7,-17.2" fill="none" stroke="#1fd0ae" stroke-width="1.2" stroke-linecap="round"/><path d="M21.7,-17.3 Q22.5,-17.6 25.4,-14.5" fill="none" stroke="#f26c14" stroke-width="1.5" stroke-linecap="round"/><path d="M18.6,-14.4 Q16.1,-12.8 16.6,-10.4" fill="none" stroke="#20c0c0" stroke-width="1.8" stroke-linecap="round"/><path d="M1.8,-17.0 Q5.0,-15.6 7.8,-13.5" fill="none" stroke="#25c6e8" stroke-width="1.3" stroke-linecap="round"/><path d="M9.7,-10.4 Q15.4,-11.5 16.1,-8.8" fill="none" stroke="#20c0c0" stroke-width="1.9" stroke-linecap="round"/><path d="M11.6,-9.5 Q8.5,-8.5 8.1,-10.1" fill="none" stroke="#30a0e8" stroke-width="1.3" stroke-linecap="round"/><path d="M16.6,-8.5 Q14.2,-9.6 13.9,-11.6" fill="none" stroke="#30a0e8" stroke-width="1.5" stroke-linecap="round"/><path d="M18.9,-15.3 Q20.8,-13.2 21.5,-12.5" fill="none" stroke="#1fd0ae" stroke-width="1.4" stroke-linecap="round"/><path d="M9.5,-18.7 Q6.5,-21.2 5.8,-23.3" fill="none" stroke="#20c0c0" stroke-width="1.8" stroke-linecap="round"/><path d="M11.5,-18.2 Q14.4,-19.9 15.6,-21.9" fill="none" stroke="#f26c14" stroke-width="1.1" stroke-linecap="round"/><path d="M22.7,-17.8 Q20.3,-17.6 18.0,-20.8" fill="none" stroke="#f26c14" stroke-width="1.3" stroke-linecap="round"/><path d="M8.4,-10.2 Q9.7,-6.7 11.6,-6.7" fill="none" stroke="#20c0c0" stroke-width="1.3" stroke-linecap="round"/><path d="M0.9,-19.1 Q2.3,-17.4 4.6,-13.4" fill="none" stroke="#f26c14" stroke-width="1.7" stroke-linecap="round"/><path d="M13.1,-11.3 Q10.7,-10.0 7.2,-11.5" fill="none" stroke="#20c0c0" stroke-width="1.6" stroke-linecap="round"/><path d="M20.1,-15.5 Q17.2,-16.3 15.2,-15.0" fill="none" stroke="#1fd0ae" stroke-width="1.5" stroke-linecap="round"/><path d="M1.7,-21.4 Q3.5,-20.3 8.0,-22.5" fill="none" stroke="#1fd0ae" stroke-width="1.4" stroke-linecap="round"/><path d="M17.7,-22.9 Q17.9,-21.2 17.2,-19.9" fill="none" stroke="#f26c14" stroke-width="1.4" stroke-linecap="round"/><path d="M13.8,-23.0 Q16.2,-20.3 18.1,-20.1" fill="none" stroke="#1fd0ae" stroke-width="1.9" stroke-linecap="round"/><path d="M16.9,-27.0 Q13.5,-27.2 12.6,-24.9" fill="none" stroke="#20c0c0" stroke-width="1.5" stroke-linecap="round"/><path d="M15.0,-10.3 Q10.6,-8.7 10.0,-9.6" fill="none" stroke="#f26c14" stroke-width="1.6" stroke-linecap="round"/><path d="M22.7,-10.6 Q22.6,-16.2 21.4,-16.8" fill="none" stroke="#30a0e8" stroke-width="2.0" stroke-linecap="round"/><path d="M11.3,-25.2 Q9.4,-25.3 9.0,-22.8" fill="none" stroke="#30a0e8" stroke-width="1.1" stroke-linecap="round"/><path d="M-12.4,27.5 Q-16.6,28.9 -17.1,31.3" fill="none" stroke="#e6dc22" stroke-width="1.0" stroke-linecap="round"/><path d="M-7.4,20.2 Q-8.8,21.7 -10.0,21.9" fill="none" stroke="#c8b818" stroke-width="1.3" stroke-linecap="round"/><path d="M3.7,22.7 Q3.9,21.3 0.7,17.9" fill="none" stroke="#d8d070" stroke-width="1.3" stroke-linecap="round"/><path d="M-13.6,26.8 Q-16.7,25.3 -15.0,20.5" fill="none" stroke="#e6dc22" stroke-width="1.1" stroke-linecap="round"/><path d="M-16.2,22.8 Q-18.0,22.7 -18.5,25.5" fill="none" stroke="#e6dc22" stroke-width="1.3" stroke-linecap="round"/><path d="M-1.9,24.2 Q0.8,23.4 1.2,18.4" fill="none" stroke="#d8d070" stroke-width="0.9" stroke-linecap="round"/><path d="M-0.1,26.7 Q-3.4,29.2 -6.2,27.6" fill="none" stroke="#98d622" stroke-width="1.5" stroke-linecap="round"/><path d="M-5.2,21.1 Q-11.1,19.8 -11.7,18.6" fill="none" stroke="#8a9a20" stroke-width="1.4" stroke-linecap="round"/><path d="M-18.6,20.0 Q-17.6,20.9 -17.5,25.5" fill="none" stroke="#c8b818" stroke-width="1.1" stroke-linecap="round"/><path d="M-11.4,31.2 Q-10.4,27.9 -10.6,27.0" fill="none" stroke="#98d622" stroke-width="1.4" stroke-linecap="round"/><path d="M2.1,30.9 Q1.4,30.4 0.7,27.9" fill="none" stroke="#e6dc22" stroke-width="1.1" stroke-linecap="round"/><path d="M-14.2,17.1 Q-15.3,16.9 -17.3,18.1" fill="none" stroke="#c8b818" stroke-width="1.4" stroke-linecap="round"/><path d="M-1.8,11.8 Q-4.7,13.9 -5.1,15.1" fill="none" stroke="#d8d070" stroke-width="0.9" stroke-linecap="round"/><path d="M-9.4,18.4 Q-12.0,17.6 -11.4,14.0" fill="none" stroke="#c8b818" stroke-width="0.8" stroke-linecap="round"/><path d="M4.4,25.3 Q5.9,25.2 7.7,22.5" fill="none" stroke="#98d622" stroke-width="1.0" stroke-linecap="round"/><path d="M-3.6,29.9 Q-5.2,29.4 -8.0,27.9" fill="none" stroke="#d8d070" stroke-width="1.5" stroke-linecap="round"/><path d="M-11.5,15.0 Q-9.3,11.3 -10.4,10.5" fill="none" stroke="#8a9a20" stroke-width="1.1" stroke-linecap="round"/><path d="M-18.3,28.0 Q-18.0,27.4 -15.6,26.2" fill="none" stroke="#c8b818" stroke-width="1.1" stroke-linecap="round"/><path d="M-12.7,17.9 Q-13.4,23.0 -14.3,23.4" fill="none" stroke="#98d622" stroke-width="1.4" stroke-linecap="round"/><path d="M2.5,25.9 Q3.5,23.9 4.6,22.9" fill="none" stroke="#98d622" stroke-width="0.9" stroke-linecap="round"/><path d="M-9.7,18.5 Q-7.3,16.1 -5.8,16.4" fill="none" stroke="#d8d070" stroke-width="1.4" stroke-linecap="round"/><path d="M2.9,26.0 Q-0.1,26.3 -1.1,27.1" fill="none" stroke="#d8d070" stroke-width="1.0" stroke-linecap="round"/><path d="M-34.5,-19.8 Q-33.9,-21.6 -30.2,-22.5" fill="none" stroke="#d01818" stroke-width="1.8" stroke-linecap="round"/><path d="M-13.9,-17.3 Q-16.6,-15.6 -19.3,-17.3" fill="none" stroke="#ffffff" stroke-width="1.3" stroke-linecap="round"/><path d="M-29.2,-4.0 Q-29.9,-1.1 -25.7,1.8" fill="none" stroke="#8c1010" stroke-width="1.5" stroke-linecap="round"/><path d="M-31.2,-12.1 Q-27.1,-13.6 -25.4,-11.5" fill="none" stroke="#ffffff" stroke-width="1.3" stroke-linecap="round"/><path d="M-15.4,15.1 Q-15.0,10.9 -12.3,9.9" fill="none" stroke="#8c1010" stroke-width="1.3" stroke-linecap="round"/><path d="M-28.8,-16.7 Q-24.3,-17.5 -22.6,-18.1" fill="none" stroke="#d01818" stroke-width="1.9" stroke-linecap="round"/><path d="M-16.4,5.6 Q-14.7,4.5 -12.0,2.8" fill="none" stroke="#8c1010" stroke-width="1.5" stroke-linecap="round"/><path d="M-35.9,5.6 Q-34.9,5.0 -32.1,3.6" fill="none" stroke="#ea1d1d" stroke-width="1.8" stroke-linecap="round"/><path d="M-12.7,-4.0 Q-14.4,-1.4 -14.7,0.1" fill="none" stroke="#ffffff" stroke-width="1.3" stroke-linecap="round"/><path d="M-21.2,-18.0 Q-20.0,-19.0 -17.0,-17.9" fill="none" stroke="#ffffff" stroke-width="1.6" stroke-linecap="round"/><path d="M-33.5,6.7 Q-33.2,9.5 -29.7,11.3" fill="none" stroke="#ffffff" stroke-width="1.7" stroke-linecap="round"/><path d="M-16.0,-4.6 Q-13.3,-8.4 -12.2,-8.6" fill="none" stroke="#d01818" stroke-width="1.6" stroke-linecap="round"/><path d="M-10.5,3.1 Q-11.5,2.6 -13.0,-1.9" fill="none" stroke="#ea1d1d" stroke-width="1.3" stroke-linecap="round"/><path d="M-18.8,0.4 Q-20.7,-1.5 -21.2,-3.1" fill="none" stroke="#ffffff" stroke-width="1.6" stroke-linecap="round"/><path d="M-24.9,-18.6 Q-26.5,-19.0 -30.2,-20.3" fill="none" stroke="#ea1d1d" stroke-width="1.9" stroke-linecap="round"/><path d="M-33.8,-6.7 Q-33.9,-2.4 -31.9,-1.2" fill="none" stroke="#8c1010" stroke-width="1.1" stroke-linecap="round"/><path d="M-26.0,3.7 Q-27.7,2.0 -28.1,1.5" fill="none" stroke="#f03030" stroke-width="1.4" stroke-linecap="round"/><path d="M-28.5,-7.0 Q-29.8,-6.2 -32.0,-6.7" fill="none" stroke="#f03030" stroke-width="1.9" stroke-linecap="round"/><path d="M-26.4,-4.6 Q-26.6,-1.7 -24.6,1.2" fill="none" stroke="#d01818" stroke-width="1.4" stroke-linecap="round"/><path d="M-16.4,2.0 Q-16.9,0.1 -19.7,-3.9" fill="none" stroke="#ffffff" stroke-width="1.9" stroke-linecap="round"/><path d="M-18.6,8.3 Q-18.2,6.3 -20.9,4.8" fill="none" stroke="#f03030" stroke-width="1.5" stroke-linecap="round"/><path d="M-11.1,5.0 Q-14.8,6.0 -17.8,6.3" fill="none" stroke="#d01818" stroke-width="1.3" stroke-linecap="round"/><path d="M-34.6,8.3 Q-34.9,7.7 -37.6,4.1" fill="none" stroke="#d01818" stroke-width="1.0" stroke-linecap="round"/><path d="M-16.4,0.6 Q-16.5,2.6 -14.2,3.2" fill="none" stroke="#f03030" stroke-width="1.4" stroke-linecap="round"/><path d="M-35.8,-23.1 Q-33.1,-20.3 -29.7,-22.4" fill="none" stroke="#ffffff" stroke-width="1.6" stroke-linecap="round"/><path d="M-12.0,3.9 Q-9.6,4.1 -7.1,3.0" fill="none" stroke="#ffffff" stroke-width="1.3" stroke-linecap="round"/><path d="M-16.3,-2.3 Q-14.5,-1.9 -9.4,-2.0" fill="none" stroke="#8c1010" stroke-width="1.3" stroke-linecap="round"/><path d="M-29.0,4.9 Q-28.5,9.5 -28.7,10.6" fill="none" stroke="#f03030" stroke-width="1.2" stroke-linecap="round"/><path d="M-23.0,-19.3 Q-23.9,-19.4 -26.9,-17.7" fill="none" stroke="#8c1010" stroke-width="1.8" stroke-linecap="round"/><path d="M-7.0,-14.5 Q-6.5,-12.5 -7.0,-10.3" fill="none" stroke="#ea1d1d" stroke-width="1.5" stroke-linecap="round"/><path d="M-16.0,-23.3 Q-19.6,-27.1 -19.2,-28.9" fill="none" stroke="#d01818" stroke-width="1.5" stroke-linecap="round"/><path d="M-10.8,-13.5 Q-8.3,-14.2 -7.8,-14.6" fill="none" stroke="#ea1d1d" stroke-width="1.1" stroke-linecap="round"/><path d="M-9.3,-5.9 Q-11.7,-5.4 -11.9,-3.8" fill="none" stroke="#ffffff" stroke-width="1.5" stroke-linecap="round"/><path d="M-22.2,-15.8 Q-20.1,-14.8 -18.1,-13.4" fill="none" stroke="#8c1010" stroke-width="1.7" stroke-linecap="round"/><path d="M-23.0,-24.6 Q-21.1,-24.3 -19.6,-24.8" fill="none" stroke="#ffffff" stroke-width="1.6" stroke-linecap="round"/><path d="M-20.0,3.9 Q-21.7,0.2 -22.4,-0.6" fill="none" stroke="#ea1d1d" stroke-width="1.0" stroke-linecap="round"/><path d="M-20.4,-9.2 Q-17.8,-8.3 -15.6,-10.4" fill="none" stroke="#f03030" stroke-width="1.3" stroke-linecap="round"/><path d="M-31.2,-8.6 Q-30.9,-5.0 -31.3,-4.5" fill="none" stroke="#ffffff" stroke-width="1.3" stroke-linecap="round"/><path d="M-13.6,-27.2 Q-15.9,-27.3 -19.2,-24.4" fill="none" stroke="#d01818" stroke-width="1.7" stroke-linecap="round"/><path d="M-13.2,-12.5 Q-10.1,-8.3 -12.1,-5.8" fill="none" stroke="#ffffff" stroke-width="1.8" stroke-linecap="round"/><path d="M-11.2,-5.4 Q-8.0,-7.4 -8.0,-8.1" fill="none" stroke="#8c1010" stroke-width="1.8" stroke-linecap="round"/><path d="M-9.1,3.1 Q-6.7,5.3 -5.4,4.9" fill="none" stroke="#ffffff" stroke-width="1.5" stroke-linecap="round"/><path d="M-14.4,-8.5 Q-14.3,-12.1 -13.0,-14.8" fill="none" stroke="#ffffff" stroke-width="1.3" stroke-linecap="round"/><path d="M-22.5,15.4 Q-22.9,11.4 -27.5,12.0" fill="none" stroke="#ea1d1d" stroke-width="1.1" stroke-linecap="round"/><path d="M-32.4,7.3 Q-32.4,5.5 -32.3,1.8" fill="none" stroke="#f03030" stroke-width="2.0" stroke-linecap="round"/><path d="M-24.3,-9.7 Q-27.1,-11.6 -28.5,-11.5" fill="none" stroke="#d01818" stroke-width="1.4" stroke-linecap="round"/><path d="M-27.7,6.3 Q-28.4,7.6 -31.4,6.5" fill="none" stroke="#ea1d1d" stroke-width="1.8" stroke-linecap="round"/><path d="M-24.4,-24.2 Q-30.1,-26.1 -31.3,-24.1" fill="none" stroke="#8c1010" stroke-width="1.5" stroke-linecap="round"/><path d="M-19.1,1.4 Q-22.7,3.5 -25.8,2.5" fill="none" stroke="#ffffff" stroke-width="1.6" stroke-linecap="round"/><path d="M-18.5,8.6 Q-19.2,5.7 -19.4,4.9" fill="none" stroke="#ea1d1d" stroke-width="1.7" stroke-linecap="round"/><path d="M-19.9,5.9 Q-17.6,3.1 -19.1,-0.4" fill="none" stroke="#f03030" stroke-width="1.7" stroke-linecap="round"/><path d="M-21.2,4.2 Q-18.9,0.5 -21.1,-1.6" fill="none" stroke="#ffffff" stroke-width="1.9" stroke-linecap="round"/><path d="M-20.3,0.8 Q-19.3,3.8 -16.2,5.7" fill="none" stroke="#ffffff" stroke-width="1.5" stroke-linecap="round"/><path d="M-16.6,-14.6 Q-14.9,-13.8 -12.6,-13.7" fill="none" stroke="#ffffff" stroke-width="1.2" stroke-linecap="round"/><path d="M-13.8,6.2 Q-12.6,7.5 -10.8,7.9" fill="none" stroke="#ea1d1d" stroke-width="1.9" stroke-linecap="round"/><path d="M-3.3,-7.3 Q-5.9,-5.1 -7.6,-5.0" fill="none" stroke="#ffffff" stroke-width="1.3" stroke-linecap="round"/><path d="M0.1,1.3 Q1.7,3.6 1.7,5.9" fill="none" stroke="#8c1010" stroke-width="1.3" stroke-linecap="round"/><path d="M-5.7,11.0 Q-6.1,7.6 -5.7,6.7" fill="none" stroke="#8c1010" stroke-width="1.2" stroke-linecap="round"/><path d="M-0.2,4.5 Q-0.2,6.0 -0.5,6.5" fill="none" stroke="#20c0c0" stroke-width="1.6" stroke-linecap="round"/><path d="M-1.7,3.4 Q-0.3,1.2 1.0,1.2" fill="none" stroke="#22d022" stroke-width="1.5" stroke-linecap="round"/><path d="M0.5,12.5 Q-0.5,11.8 -2.3,10.4" fill="none" stroke="#f26c14" stroke-width="1.6" stroke-linecap="round"/><path d="M-1.4,-2.2 Q0.4,-2.4 2.4,-2.5" fill="none" stroke="#f26c14" stroke-width="1.8" stroke-linecap="round"/><path d="M-3.8,-2.2 Q-4.0,-2.9 -3.7,-6.2" fill="none" stroke="#8c1010" stroke-width="1.9" stroke-linecap="round"/><path d="M-1.6,5.1 Q1.1,5.2 2.4,5.6" fill="none" stroke="#22d022" stroke-width="1.3" stroke-linecap="round"/><path d="M-1.9,4.1 Q-0.6,3.1 1.2,3.9" fill="none" stroke="#8c1010" stroke-width="1.1" stroke-linecap="round"/><path d="M0.6,-12.2 Q1.5,-8.9 2.4,-7.7" fill="none" stroke="#ea1d1d" stroke-width="1.4" stroke-linecap="round"/><path d="M-2.1,-8.6 Q-0.7,-7.8 0.1,-8.7" fill="none" stroke="#ea1d1d" stroke-width="1.3" stroke-linecap="round"/><path d="M1.4,12.1 Q0.5,12.3 -0.8,10.6" fill="none" stroke="#20c0c0" stroke-width="1.6" stroke-linecap="round"/><path d="M25.1,-14.4 Q27.1,-10.0 27.3,-8.4" fill="none" stroke="#f0a060" stroke-width="1.1" stroke-linecap="round"/><path d="M28.1,-6.7 Q27.5,-8.5 26.2,-10.5" fill="none" stroke="#e88018" stroke-width="0.8" stroke-linecap="round"/><path d="M32.1,1.6 Q32.5,-0.6 35.1,-2.6" fill="none" stroke="#f26c14" stroke-width="1.2" stroke-linecap="round"/><path d="M31.7,-16.4 Q31.9,-20.3 32.3,-22.2" fill="none" stroke="#f0a060" stroke-width="1.4" stroke-linecap="round"/><path d="M34.9,-9.8 Q36.4,-6.7 35.2,-6.0" fill="none" stroke="#f26c14" stroke-width="1.2" stroke-linecap="round"/><path d="M33.0,-8.8 Q32.5,-11.6 31.4,-12.5" fill="none" stroke="#f26c14" stroke-width="0.8" stroke-linecap="round"/><path d="M36.7,-1.5 Q39.3,-0.8 39.2,2.3" fill="none" stroke="#e88018" stroke-width="0.9" stroke-linecap="round"/><path d="M28.9,-1.5 Q30.3,-2.3 34.7,-2.4" fill="none" stroke="#f26c14" stroke-width="1.1" stroke-linecap="round"/><path d="M33.7,5.2 Q37.0,4.5 35.9,-1.4" fill="none" stroke="#f26c14" stroke-width="1.1" stroke-linecap="round"/><path d="M30.4,-6.7 Q32.4,-1.3 29.7,-0.3" fill="none" stroke="#f26c14" stroke-width="1.2" stroke-linecap="round"/><g transform="translate(72,11)"><g filter="url(#bl2)"><ellipse cx="-4" cy="-11" rx="9" ry="8" transform="rotate(0 -4 -11)" fill="#f4a224" opacity="0.3"/><ellipse cx="5" cy="12" rx="9" ry="6" transform="rotate(0 5 12)" fill="#1fc46a" opacity="0.3"/></g><circle cx="-12.0" cy="-18.0" r="1.7" fill="#f4a224"/><circle cx="-7.4" cy="-18.0" r="1.7" fill="#f4a224"/><circle cx="-2.8" cy="-18.0" r="1.7" fill="#f4a224"/><circle cx="1.8" cy="-18.0" r="1.7" fill="#f4a224"/><circle cx="-11.2" cy="-13.4" r="1.7" fill="#f0b830"/><circle cx="-6.6" cy="-13.4" r="1.7" fill="#f0b830"/><circle cx="-2.0" cy="-13.4" r="1.7" fill="#f0b830"/><circle cx="2.6" cy="-13.4" r="1.7" fill="#f0b830"/><circle cx="-10.4" cy="-8.8" r="1.7" fill="#f09030"/><circle cx="-5.8" cy="-8.8" r="1.7" fill="#f09030"/><circle cx="-1.2" cy="-8.8" r="1.7" fill="#f09030"/><circle cx="3.4" cy="-8.8" r="1.7" fill="#f09030"/><line x1="-8.0" y1="-4.0" x2="2.0" y2="-2.0" stroke="#b95319" stroke-width="3.8" stroke-dasharray="2.2 1.4" opacity="0.8"/><path d="M-9.2,-2.4 L-4.8,-5.2 L-5.2,-1.6 L-0.8,-4.4 L-1.2,-0.8 L3.2,-3.6" fill="none" stroke="#e86820" stroke-width="1.6" stroke-linejoin="round" stroke-linecap="round"/><line x1="0.0" y1="-3.0" x2="-1.6" y2="-9.0" stroke="#a01818" stroke-width="1.2"/><line x1="2.3" y1="-2.4" x2="0.7" y2="-8.4" stroke="#a01818" stroke-width="1.2"/><line x1="4.6" y1="-1.8" x2="3.0" y2="-7.8" stroke="#a01818" stroke-width="1.2"/><line x1="6.9" y1="-1.2" x2="5.3" y2="-7.2" stroke="#a01818" stroke-width="1.2"/><line x1="9.2" y1="-0.6" x2="7.6" y2="-6.6" stroke="#a01818" stroke-width="1.2"/><line x1="-16.0" y1="8.0" x2="-6.0" y2="10.0" stroke="#2039a6" stroke-width="4.2" stroke-dasharray="2.1 1.3" opacity="0.8"/><path d="M-17.3,9.8 L-12.7,6.6 L-13.3,10.6 L-8.7,7.4 L-9.3,11.4 L-4.7,8.2" fill="none" stroke="#2848d0" stroke-width="1.6" stroke-linejoin="round" stroke-linecap="round"/><line x1="-4.0" y1="14.0" x2="8.0" y2="18.0" stroke="#189c54" stroke-width="4.2" stroke-dasharray="2.2 1.4" opacity="0.8"/><path d="M-5.5,15.6 L-0.8,13.0 L-2.1,16.8 L2.6,14.1 L1.4,17.9 L6.1,15.2 L4.8,19.0 L9.5,16.4" fill="none" stroke="#1fc46a" stroke-width="1.7" stroke-linejoin="round" stroke-linecap="round"/><line x1="2.0" y1="8.0" x2="16.0" y2="12.0" stroke="#19a073" stroke-width="4.6" stroke-dasharray="2.2 1.4" opacity="0.8"/><path d="M0.5,9.9 L5.2,6.6 L4.0,10.9 L8.7,7.6 L7.5,11.9 L12.2,8.6 L11.0,12.9 L15.7,9.6 L14.5,13.9" fill="none" stroke="#20c890" stroke-width="1.8" stroke-linejoin="round" stroke-linecap="round"/><line x1="-2.0" y1="6.0" x2="6.0" y2="2.0" stroke="#2086b3" stroke-width="3.2" stroke-dasharray="2.2 1.4" opacity="0.8"/><path d="M-2.1,7.7 L0.1,3.3 L1.9,5.7 L4.1,1.3 L5.9,3.7" fill="none" stroke="#28a8e0" stroke-width="1.4" stroke-linejoin="round" stroke-linecap="round"/><path d="M6.0,20.0 Q10.0,24.0 12.0,22.0 L14.0,20.0" fill="none" stroke="#20b080" stroke-width="0.9" stroke-linecap="round" opacity="1"/></g><path d="M44.0,2.0 Q50.0,6.0 50.0,9.0 Q50.0,12.0 52.0,14.0 L54.0,16.0" fill="none" stroke="#7080e0" stroke-width="1.0" stroke-linecap="round" opacity="1"/></g>
<g transform="translate(202,228)"><line x1="6.5" y1="25" x2="10.3" y2="35" stroke="#1c6fd6" stroke-width="1.3"/><line x1="9.2" y1="23.7" x2="12.9" y2="32.5" stroke="#1c6fd6" stroke-width="1.3"/><line x1="12.2" y1="23.7" x2="14.7" y2="29.4" stroke="#1c6fd6" stroke-width="1.3"/><line x1="19.8" y1="19.9" x2="22.3" y2="29.4" stroke="#1c6fd6" stroke-width="1.3"/><line x1="22.9" y1="16.1" x2="26.1" y2="29.4" stroke="#141414" stroke-width="1.3"/><line x1="26.7" y1="13.6" x2="29.2" y2="27.5" stroke="#1c6fd6" stroke-width="1.3"/><line x1="29.9" y1="13.6" x2="32.4" y2="23.7" stroke="#141414" stroke-width="1.3"/><line x1="36.8" y1="7.3" x2="40" y2="16.1" stroke="#141414" stroke-width="1.3"/><line x1="39.6" y1="5.4" x2="43.1" y2="16.1" stroke="#141414" stroke-width="1.3"/><path d="M1.5,26.9 C4,23.5 10,21.5 15.4,25 C19,27.5 21,30.5 24.5,30 C28,29.5 31.5,25 34.9,13.6 C36,8 37,4 38.3,1.6" fill="none" stroke="#1c6fd6" stroke-width="2.3" stroke-linecap="round"/><path d="M11,40.1 C13,37 14,33 15.5,29 C17.5,23 20,12.5 26.1,11.2 C31,10.5 33,13 35.5,14.8 C39,17 43.5,18 46.9,14.6" fill="none" stroke="#141414" stroke-width="2.2" stroke-linecap="round"/></g>
<g transform="translate(149,524)"><g filter="url(#bl2)"><ellipse cx="28" cy="32" rx="26" ry="11" transform="rotate(-12 28 32)" fill="#f26c14" opacity="0.33"/><ellipse cx="62" cy="30" rx="14" ry="14" transform="rotate(0 62 30)" fill="#ea1d1d" opacity="0.36"/><ellipse cx="70" cy="47" rx="22" ry="10" transform="rotate(10 70 47)" fill="#22d022" opacity="0.33"/><ellipse cx="105" cy="30" rx="14" ry="14" transform="rotate(0 105 30)" fill="#25c6e8" opacity="0.3"/><ellipse cx="95" cy="38" rx="8" ry="8" transform="rotate(0 95 38)" fill="#2a48e0" opacity="0.3"/></g><path d="M40.0,8.0 Q48.0,2.0 54.0,4.0 Q60.0,6.0 61.0,10.0 Q62.0,14.0 59.0,16.0 L56.0,18.0" fill="none" stroke="#f04050" stroke-width="1.0" stroke-linecap="round" opacity="1"/><path d="M2.0,44.0 Q0.0,50.0 5.0,51.0 Q10.0,52.0 12.0,49.0 L14.0,46.0" fill="none" stroke="#f08040" stroke-width="1.0" stroke-linecap="round" opacity="1"/><path d="M38.0,48.0 Q34.0,54.0 38.0,56.0 Q42.0,58.0 44.0,55.0 L46.0,52.0" fill="none" stroke="#40d0a0" stroke-width="1.0" stroke-linecap="round" opacity="1"/><path d="M84.0,12.0 Q80.0,4.0 85.0,2.0 Q90.0,0.0 93.0,3.0 Q96.0,6.0 94.0,9.0 Q92.0,12.0 96.0,11.0 L100.0,10.0" fill="none" stroke="#60d0c8" stroke-width="1.0" stroke-linecap="round" opacity="1"/><path d="M124.0,30.0 Q132.0,34.0 133.0,39.0 Q134.0,44.0 130.0,45.0 Q126.0,46.0 123.0,43.0 L120.0,40.0" fill="none" stroke="#7090e0" stroke-width="1.0" stroke-linecap="round" opacity="1"/><path d="M78.0,56.0 Q82.0,60.0 84.0,57.0 L86.0,54.0" fill="none" stroke="#8080d0" stroke-width="1.0" stroke-linecap="round" opacity="1"/><line x1="8.0" y1="30.0" x2="40.0" y2="20.0" stroke="#c05313" stroke-width="5.0" stroke-dasharray="2.2 1.4" opacity="0.8"/><path d="M7.9,32.6 L9.9,26.9 L11.4,31.4 L13.5,25.8 L15.0,30.3 L17.0,24.7 L18.5,29.2 L20.6,23.6 L22.1,28.1 L24.1,22.4 L25.6,27.0 L27.7,21.3 L29.2,25.9 L31.3,20.2 L32.7,24.8 L34.8,19.1 L36.3,23.7 L38.4,18.0 L39.9,22.6" fill="none" stroke="#f06818" stroke-width="2.0" stroke-linejoin="round" stroke-linecap="round"/><line x1="4.0" y1="40.0" x2="44.0" y2="30.0" stroke="#c15610" stroke-width="5.0" stroke-dasharray="2.2 1.4" opacity="0.8"/><path d="M3.7,42.5 L6.1,37.0 L7.3,41.6 L9.7,36.1 L11.0,40.7 L13.4,35.2 L14.6,39.8 L17.0,34.3 L18.3,38.9 L20.7,33.4 L21.9,38.0 L24.3,32.5 L25.5,37.1 L27.9,31.5 L29.2,36.2 L31.6,30.6 L32.8,35.3 L35.2,29.7 L36.4,34.4 L38.8,28.8 L40.1,33.5 L42.5,27.9 L43.7,32.5" fill="none" stroke="#f26c14" stroke-width="2.0" stroke-linejoin="round" stroke-linecap="round"/><line x1="10.0" y1="48.0" x2="40.0" y2="38.0" stroke="#c06613" stroke-width="4.6" stroke-dasharray="2.2 1.4" opacity="0.8"/><path d="M9.8,50.4 L11.9,45.0 L13.4,49.2 L15.5,43.9 L16.9,48.0 L19.0,42.7 L20.4,46.8 L22.5,41.5 L24.0,45.7 L26.0,40.3 L27.5,44.5 L29.6,39.2 L31.0,43.3 L33.1,38.0 L34.5,42.1 L36.6,36.8 L38.1,41.0 L40.2,35.6" fill="none" stroke="#f08018" stroke-width="1.9" stroke-linejoin="round" stroke-linecap="round"/><line x1="40.0" y1="36.0" x2="66.0" y2="30.0" stroke="#c3811c" stroke-width="4.2" stroke-dasharray="2.2 1.4" opacity="0.8"/><path d="M39.6,38.2 L42.3,33.4 L43.3,37.3 L46.0,32.6 L47.0,36.4 L49.7,31.7 L50.7,35.6 L53.4,30.8 L54.4,34.7 L57.1,30.0 L58.1,33.9 L60.9,29.1 L61.9,33.0 L64.6,28.3 L65.6,32.2" fill="none" stroke="#f4a224" stroke-width="1.8" stroke-linejoin="round" stroke-linecap="round"/><line x1="30.0" y1="24.0" x2="44.0" y2="18.0" stroke="#b93913" stroke-width="4.6" stroke-dasharray="2.2 1.4" opacity="0.8"/><path d="M30.0,26.4 L31.7,20.9 L33.5,24.9 L35.2,19.4 L37.0,23.4 L38.7,17.9 L40.5,21.9 L42.2,16.4 L44.0,20.4" fill="none" stroke="#e84818" stroke-width="1.9" stroke-linejoin="round" stroke-linecap="round"/><line x1="52.1" y1="28.5" x2="54.5" y2="38.1" stroke="#bb1717" stroke-width="4.1" stroke-dasharray="2.2 1.4" opacity="0.8"/><path d="M50.0,28.1 L54.7,30.8 L51.0,31.9 L55.6,34.7 L51.9,35.8 L56.6,38.5" fill="none" stroke="#ea1d1d" stroke-width="1.9" stroke-linejoin="round" stroke-linecap="round"/><path d="M67.2,32.0 Q58.7,29.2 64.5,34.4 Q70.2,39.7 69.3,38.8 Q68.4,37.8 62.0,35.7 L55.7,33.5" fill="none" stroke="#ea1d1d" stroke-width="0.9" stroke-linecap="round" opacity="1"/><line x1="63.8" y1="13.0" x2="60.0" y2="21.4" stroke="#bb1717" stroke-width="3.5" stroke-dasharray="2.2 1.4" opacity="0.8"/><path d="M62.7,11.5 L64.2,16.2 L61.2,14.9 L62.7,19.6 L59.7,18.3 L61.2,22.9" fill="none" stroke="#ea1d1d" stroke-width="1.9" stroke-linejoin="round" stroke-linecap="round"/><path d="M56.7,31.9 Q55.8,31.6 56.7,34.9 Q57.6,38.1 56.6,37.5 Q55.6,36.9 54.8,36.7 L54.0,36.6" fill="none" stroke="#e03818" stroke-width="0.9" stroke-linecap="round" opacity="1"/><line x1="52.8" y1="23.3" x2="51.5" y2="31.4" stroke="#bb1717" stroke-width="4.0" stroke-dasharray="2.2 1.4" opacity="0.8"/><path d="M51.1,22.1 L54.2,26.5 L50.5,26.1 L53.6,30.6 L49.8,30.2" fill="none" stroke="#ea1d1d" stroke-width="1.9" stroke-linejoin="round" stroke-linecap="round"/><line x1="54.0" y1="21.9" x2="63.0" y2="31.3" stroke="#bb1717" stroke-width="4.6" stroke-dasharray="2.2 1.4" opacity="0.8"/><path d="M51.8,22.8 L57.5,22.4 L54.4,25.5 L60.1,25.1 L56.9,28.2 L62.6,27.8 L59.5,30.8 L65.2,30.5" fill="none" stroke="#ea1d1d" stroke-width="1.9" stroke-linejoin="round" stroke-linecap="round"/><line x1="54.8" y1="30.9" x2="51.5" y2="37.1" stroke="#bb1717" stroke-width="4.5" stroke-dasharray="2.2 1.4" opacity="0.8"/><path d="M53.3,29.2 L55.1,34.8 L51.1,33.3 L52.9,38.9" fill="none" stroke="#ea1d1d" stroke-width="1.9" stroke-linejoin="round" stroke-linecap="round"/><line x1="52.7" y1="26.1" x2="56.9" y2="36.0" stroke="#bb1717" stroke-width="4.3" stroke-dasharray="2.2 1.4" opacity="0.8"/><path d="M50.4,26.1 L55.7,28.1 L52.1,30.0 L57.4,32.1 L53.8,34.0 L59.1,36.0" fill="none" stroke="#ea1d1d" stroke-width="1.9" stroke-linejoin="round" stroke-linecap="round"/><line x1="70.8" y1="17.0" x2="70.5" y2="29.6" stroke="#bb1717" stroke-width="3.5" stroke-dasharray="2.2 1.4" opacity="0.8"/><path d="M69.2,16.1 L72.4,20.1 L69.1,20.3 L72.3,24.2 L69.0,24.5 L72.2,28.4 L68.9,28.7" fill="none" stroke="#ea1d1d" stroke-width="1.9" stroke-linejoin="round" stroke-linecap="round"/><line x1="66.2" y1="31.8" x2="74.1" y2="39.7" stroke="#b32c13" stroke-width="4.3" stroke-dasharray="2.2 1.4" opacity="0.8"/><path d="M64.1,32.7 L69.6,32.3 L66.8,35.3 L72.2,34.9 L69.4,37.9 L74.9,37.6 L72.0,40.5" fill="none" stroke="#e03818" stroke-width="1.9" stroke-linejoin="round" stroke-linecap="round"/><line x1="49.9" y1="37.8" x2="60.7" y2="41.6" stroke="#bb1717" stroke-width="4.1" stroke-dasharray="2.2 1.4" opacity="0.8"/><path d="M48.4,39.3 L53.2,36.9 L52.0,40.6 L56.8,38.2 L55.6,41.9 L60.4,39.4 L59.2,43.1" fill="none" stroke="#ea1d1d" stroke-width="1.9" stroke-linejoin="round" stroke-linecap="round"/><line x1="59.8" y1="17.1" x2="57.7" y2="24.8" stroke="#bb1717" stroke-width="4.0" stroke-dasharray="2.2 1.4" opacity="0.8"/><path d="M58.2,15.7 L60.9,20.4 L57.2,19.6 L59.8,24.2 L56.1,23.4" fill="none" stroke="#ea1d1d" stroke-width="1.9" stroke-linejoin="round" stroke-linecap="round"/><circle cx="46" cy="12" r="2" fill="#ea1d1d"/><line x1="51.9" y1="39.3" x2="55.0" y2="35.7" stroke="#b8b01b" stroke-width="2.7" stroke-dasharray="2.2 1.4" opacity="0.8"/><path d="M52.3,40.8 L53.1,36.0 L55.4,37.3" fill="none" stroke="#e6dc22" stroke-width="1.5" stroke-linejoin="round" stroke-linecap="round"/><line x1="61.4" y1="35.2" x2="56.5" y2="32.4" stroke="#b8b01b" stroke-width="2.6" stroke-dasharray="2.2 1.4" opacity="0.8"/><path d="M62.7,34.6 L58.4,34.9 L59.5,32.7 L55.2,33.0" fill="none" stroke="#e6dc22" stroke-width="1.5" stroke-linejoin="round" stroke-linecap="round"/><line x1="62.6" y1="37.6" x2="57.5" y2="36.3" stroke="#b8b01b" stroke-width="2.9" stroke-dasharray="2.2 1.4" opacity="0.8"/><path d="M63.8,36.5 L58.8,38.1 L58.7,35.2" fill="none" stroke="#e6dc22" stroke-width="1.5" stroke-linejoin="round" stroke-linecap="round"/><path d="M59.5,51.6 Q62.9,50.9 59.0,49.7 Q55.0,48.5 59.7,51.8 Q64.4,55.1 58.9,49.7 L53.4,44.3" fill="none" stroke="#28c030" stroke-width="0.9" stroke-linecap="round" opacity="1"/><line x1="64.8" y1="33.6" x2="69.5" y2="43.5" stroke="#1ba61b" stroke-width="4.7" stroke-dasharray="2.2 1.4" opacity="0.8"/><path d="M62.3,33.8 L68.0,35.1 L63.9,37.1 L69.6,38.4 L65.5,40.4 L71.2,41.7 L67.1,43.7" fill="none" stroke="#22d022" stroke-width="1.9" stroke-linejoin="round" stroke-linecap="round"/><line x1="59.2" y1="50.6" x2="65.9" y2="55.2" stroke="#1ba61b" stroke-width="4.5" stroke-dasharray="2.2 1.4" opacity="0.8"/><path d="M57.3,51.9 L62.8,50.5 L60.6,54.2 L66.2,52.8 L64.0,56.5" fill="none" stroke="#22d022" stroke-width="1.9" stroke-linejoin="round" stroke-linecap="round"/><line x1="72.4" y1="47.8" x2="83.1" y2="51.8" stroke="#1ba61b" stroke-width="3.4" stroke-dasharray="2.2 1.4" opacity="0.8"/><path d="M71.0,49.0 L75.6,47.3 L74.6,50.3 L79.2,48.6 L78.1,51.7 L82.8,50.0 L81.7,53.0" fill="none" stroke="#22d022" stroke-width="1.9" stroke-linejoin="round" stroke-linecap="round"/><line x1="65.6" y1="34.0" x2="70.6" y2="40.3" stroke="#209926" stroke-width="4.8" stroke-dasharray="2.2 1.4" opacity="0.8"/><path d="M63.3,34.7 L69.2,34.9 L65.8,37.9 L71.7,38.0 L68.2,41.0" fill="none" stroke="#28c030" stroke-width="1.9" stroke-linejoin="round" stroke-linecap="round"/><line x1="67.4" y1="52.3" x2="75.2" y2="50.8" stroke="#209926" stroke-width="3.8" stroke-dasharray="2.2 1.4" opacity="0.8"/><path d="M66.8,54.2 L69.9,50.0 L70.7,53.5 L73.8,49.3 L74.6,52.8" fill="none" stroke="#28c030" stroke-width="1.9" stroke-linejoin="round" stroke-linecap="round"/><path d="M68.8,45.4 Q68.1,45.1 68.6,47.2 Q69.1,49.3 67.1,48.7 Q65.1,48.1 65.7,46.2 L66.4,44.3" fill="none" stroke="#28c030" stroke-width="0.9" stroke-linecap="round" opacity="1"/><path d="M54.9,49.9 Q49.6,47.9 46.4,48.0 Q43.3,48.2 46.4,47.3 Q49.5,46.3 49.1,45.5 L48.7,44.6" fill="none" stroke="#28c030" stroke-width="0.9" stroke-linecap="round" opacity="1"/><line x1="62.0" y1="36.4" x2="70.5" y2="44.7" stroke="#209926" stroke-width="4.5" stroke-dasharray="2.2 1.4" opacity="0.8"/><path d="M59.9,37.3 L65.6,36.9 L62.7,40.1 L68.4,39.7 L65.5,42.9 L71.3,42.4 L68.4,45.6" fill="none" stroke="#28c030" stroke-width="1.9" stroke-linejoin="round" stroke-linecap="round"/><path d="M64.3,41.8 Q67.9,47.8 68.3,45.8 Q68.8,43.8 68.6,44.1 Q68.5,44.4 69.2,44.7 L70.0,44.9" fill="none" stroke="#28c030" stroke-width="0.9" stroke-linecap="round" opacity="1"/><line x1="74.5" y1="37.9" x2="77.7" y2="46.6" stroke="#209926" stroke-width="4.1" stroke-dasharray="2.2 1.4" opacity="0.8"/><path d="M72.3,37.7 L77.3,39.8 L73.6,41.2 L78.6,43.3 L74.9,44.7 L79.8,46.8" fill="none" stroke="#28c030" stroke-width="1.9" stroke-linejoin="round" stroke-linecap="round"/><line x1="71.1" y1="57.0" x2="78.8" y2="54.1" stroke="#1ba61b" stroke-width="3.5" stroke-dasharray="2.2 1.4" opacity="0.8"/><path d="M70.8,58.8 L73.2,54.4 L74.6,57.4 L77.1,52.9 L78.5,56.0" fill="none" stroke="#22d022" stroke-width="1.9" stroke-linejoin="round" stroke-linecap="round"/><line x1="51.3" y1="41.6" x2="58.9" y2="46.8" stroke="#209926" stroke-width="3.5" stroke-dasharray="2.2 1.4" opacity="0.8"/><path d="M49.6,42.4 L54.5,41.7 L52.7,44.5 L57.6,43.8 L55.7,46.6 L60.6,45.9" fill="none" stroke="#28c030" stroke-width="1.9" stroke-linejoin="round" stroke-linecap="round"/><line x1="80.9" y1="54.4" x2="89.6" y2="52.0" stroke="#209926" stroke-width="3.6" stroke-dasharray="2.2 1.4" opacity="0.8"/><path d="M80.5,56.3 L83.1,52.0 L84.0,55.3 L86.5,51.0 L87.5,54.4 L90.0,50.1" fill="none" stroke="#28c030" stroke-width="1.9" stroke-linejoin="round" stroke-linecap="round"/><line x1="65.5" y1="48.8" x2="68.5" y2="60.9" stroke="#209926" stroke-width="4.2" stroke-dasharray="2.2 1.4" opacity="0.8"/><path d="M63.4,48.5 L68.2,51.2 L64.4,52.5 L69.2,55.3 L65.4,56.5 L70.2,59.3 L66.3,60.5" fill="none" stroke="#28c030" stroke-width="1.9" stroke-linejoin="round" stroke-linecap="round"/><line x1="58.2" y1="37.4" x2="61.1" y2="46.8" stroke="#1ba61b" stroke-width="4.3" stroke-dasharray="2.2 1.4" opacity="0.8"/><path d="M56.0,37.1 L61.0,39.5 L57.1,40.9 L62.2,43.3 L58.3,44.6 L63.3,47.0" fill="none" stroke="#22d022" stroke-width="1.9" stroke-linejoin="round" stroke-linecap="round"/><line x1="78.0" y1="44.0" x2="94.0" y2="30.0" stroke="#2139b3" stroke-width="4.6" stroke-dasharray="2.2 1.4" opacity="0.8"/><path d="M78.8,46.2 L78.7,40.5 L81.7,43.7 L81.6,37.9 L84.6,41.2 L84.5,35.4 L87.5,38.6 L87.4,32.8 L90.4,36.1 L90.3,30.3 L93.3,33.5 L93.2,27.8" fill="none" stroke="#2a48e0" stroke-width="1.9" stroke-linejoin="round" stroke-linecap="round"/><line x1="100.0" y1="44.0" x2="114.0" y2="40.0" stroke="#202ca6" stroke-width="5.5" stroke-dasharray="2.0 1.2" opacity="0.8"/><path d="M99.8,46.7 L101.7,40.8 L103.0,45.9 L104.8,39.9 L106.1,45.0 L107.9,39.0 L109.2,44.1 L111.0,38.1 L112.3,43.2 L114.2,37.3" fill="none" stroke="#2838d0" stroke-width="1.6" stroke-linejoin="round" stroke-linecap="round"/><path d="M98.0,26.0 Q105.0,33.0 112.0,40.0" fill="none" stroke="#2050e0" stroke-width="2.2" stroke-linecap="butt"/><line x1="106.0" y1="24.0" x2="118.0" y2="22.0" stroke="#2139b3" stroke-width="3.8" stroke-dasharray="2.2 1.4" opacity="0.8"/><path d="M105.4,25.9 L108.6,21.7 L109.4,25.3 L112.6,21.1 L113.4,24.6 L116.6,20.4 L117.4,23.9" fill="none" stroke="#2a48e0" stroke-width="1.7" stroke-linejoin="round" stroke-linecap="round"/><path d="M111.8,36.7 Q110.4,24.7 109.1,24.9 Q107.7,25.0 108.4,29.3 Q109.1,33.6 106.7,29.1 L104.3,24.6" fill="none" stroke="#25c6e8" stroke-width="0.9" stroke-linecap="round" opacity="1"/><path d="M105.9,25.9 Q104.1,25.0 103.3,22.3 Q102.6,19.7 106.2,18.6 Q109.8,17.5 107.9,21.1 L105.9,24.8" fill="none" stroke="#25c6e8" stroke-width="0.9" stroke-linecap="round" opacity="1"/><line x1="108.9" y1="28.5" x2="102.9" y2="26.3" stroke="#1d9eb9" stroke-width="4.0" stroke-dasharray="2.2 1.4" opacity="0.8"/><path d="M110.3,27.0 L105.4,29.3 L106.4,25.6 L101.4,27.8" fill="none" stroke="#25c6e8" stroke-width="1.7" stroke-linejoin="round" stroke-linecap="round"/><line x1="112.2" y1="18.7" x2="107.2" y2="26.1" stroke="#19a699" stroke-width="3.9" stroke-dasharray="2.2 1.4" opacity="0.8"/><path d="M111.2,16.9 L112.3,21.9 L109.2,19.8 L110.2,24.9 L107.1,22.8 L108.2,27.9" fill="none" stroke="#20d0c0" stroke-width="1.7" stroke-linejoin="round" stroke-linecap="round"/><line x1="104.8" y1="25.2" x2="110.9" y2="18.3" stroke="#1d9eb9" stroke-width="3.1" stroke-dasharray="2.2 1.4" opacity="0.8"/><path d="M105.4,26.9 L105.5,22.2 L107.8,24.1 L108.0,19.4 L110.2,21.3 L110.4,16.6" fill="none" stroke="#25c6e8" stroke-width="1.7" stroke-linejoin="round" stroke-linecap="round"/><path d="M95.2,26.2 Q97.0,27.3 93.7,26.6 Q90.4,25.9 91.8,25.9 Q93.2,26.0 92.5,25.8 L91.8,25.5" fill="none" stroke="#25c6e8" stroke-width="0.9" stroke-linecap="round" opacity="1"/><line x1="110.9" y1="29.5" x2="117.1" y2="23.7" stroke="#19a699" stroke-width="3.7" stroke-dasharray="2.2 1.4" opacity="0.8"/><path d="M111.4,31.4 L111.9,26.2 L114.5,28.5 L115.0,23.3 L117.7,25.7" fill="none" stroke="#20d0c0" stroke-width="1.7" stroke-linejoin="round" stroke-linecap="round"/><line x1="108.8" y1="19.4" x2="104.8" y2="24.9" stroke="#1d9eb9" stroke-width="4.2" stroke-dasharray="2.2 1.4" opacity="0.8"/><path d="M107.7,17.5 L108.6,23.1 L105.0,21.2 L106.0,26.8" fill="none" stroke="#25c6e8" stroke-width="1.7" stroke-linejoin="round" stroke-linecap="round"/><line x1="106.8" y1="27.1" x2="109.1" y2="18.7" stroke="#1d9eb9" stroke-width="3.5" stroke-dasharray="2.2 1.4" opacity="0.8"/><path d="M108.2,28.4 L106.0,23.7 L109.3,24.2 L107.1,19.5 L110.5,20.0" fill="none" stroke="#25c6e8" stroke-width="1.7" stroke-linejoin="round" stroke-linecap="round"/><path d="M96.2,30.2 Q94.6,26.6 91.5,26.4" fill="none" stroke="#2a48e0" stroke-width="1.3" stroke-linecap="round"/><path d="M104.1,32.3 Q104.2,30.5 107.4,29.3" fill="none" stroke="#20d0c0" stroke-width="1.4" stroke-linecap="round"/><path d="M105.9,34.9 Q105.1,35.9 99.7,31.8" fill="none" stroke="#25c6e8" stroke-width="2.0" stroke-linecap="round"/><path d="M104.1,28.3 Q104.2,32.9 105.3,33.3" fill="none" stroke="#28b0e8" stroke-width="1.2" stroke-linecap="round"/><path d="M92.6,26.8 Q91.9,25.2 88.8,22.1" fill="none" stroke="#28b0e8" stroke-width="1.3" stroke-linecap="round"/><path d="M108.7,20.2 Q108.1,19.7 105.6,20.7" fill="none" stroke="#28b0e8" stroke-width="1.6" stroke-linecap="round"/><path d="M106.9,34.2 Q105.8,30.1 106.1,27.3" fill="none" stroke="#25c6e8" stroke-width="1.8" stroke-linecap="round"/><path d="M107.1,24.0 Q108.2,23.4 109.5,19.8" fill="none" stroke="#2a48e0" stroke-width="1.7" stroke-linecap="round"/><path d="M89.3,20.6 Q87.5,23.6 86.1,24.8" fill="none" stroke="#25c6e8" stroke-width="1.9" stroke-linecap="round"/><path d="M105.0,20.4 Q106.5,25.6 105.0,26.6" fill="none" stroke="#20d0c0" stroke-width="1.6" stroke-linecap="round"/><path d="M93.4,35.0 Q92.1,33.8 93.3,31.0" fill="none" stroke="#28b0e8" stroke-width="1.2" stroke-linecap="round"/><path d="M103.0,29.1 Q102.0,28.9 99.5,28.8" fill="none" stroke="#25c6e8" stroke-width="1.7" stroke-linecap="round"/><path d="M94.7,27.6 Q92.3,27.7 92.1,30.4" fill="none" stroke="#2a48e0" stroke-width="1.2" stroke-linecap="round"/><path d="M108.7,28.3 Q103.7,29.2 101.7,27.8" fill="none" stroke="#2a48e0" stroke-width="1.6" stroke-linecap="round"/><path d="M112.8,25.6 Q110.3,22.8 109.1,21.4" fill="none" stroke="#2a48e0" stroke-width="1.7" stroke-linecap="round"/><path d="M96.3,23.2 Q94.4,27.0 97.3,29.3" fill="none" stroke="#2a48e0" stroke-width="1.9" stroke-linecap="round"/><path d="M105.7,36.2 Q104.5,32.3 105.7,31.9" fill="none" stroke="#28b0e8" stroke-width="1.4" stroke-linecap="round"/><path d="M91.4,19.7 Q92.1,20.7 95.0,20.9" fill="none" stroke="#20d0c0" stroke-width="1.3" stroke-linecap="round"/><path d="M85.4,25.2 Q88.1,25.6 88.9,28.2" fill="none" stroke="#20d0c0" stroke-width="1.6" stroke-linecap="round"/><path d="M87.8,21.8 Q85.6,21.1 85.0,19.9" fill="none" stroke="#25c6e8" stroke-width="1.5" stroke-linecap="round"/><path d="M105.5,32.4 Q101.3,33.3 100.9,35.0" fill="none" stroke="#2a48e0" stroke-width="1.3" stroke-linecap="round"/><path d="M103.0,24.7 Q104.7,27.2 105.3,28.5" fill="none" stroke="#2a48e0" stroke-width="1.9" stroke-linecap="round"/><path d="M94.3,19.6 Q93.5,16.9 90.1,17.1" fill="none" stroke="#20d0c0" stroke-width="1.4" stroke-linecap="round"/><path d="M96.4,24.4 Q92.5,22.7 93.5,18.4" fill="none" stroke="#2a48e0" stroke-width="1.6" stroke-linecap="round"/><path d="M90.3,35.2 Q90.4,33.9 89.9,32.1" fill="none" stroke="#2a48e0" stroke-width="1.3" stroke-linecap="round"/><path d="M109.1,23.0 Q108.9,25.4 110.1,26.0" fill="none" stroke="#28b0e8" stroke-width="1.1" stroke-linecap="round"/><path d="M43.5,37.8 Q45.0,38.5 47.4,36.9" fill="none" stroke="#f08018" stroke-width="1.4" stroke-linecap="round"/><path d="M37.2,41.6 Q35.7,40.8 35.5,37.0" fill="none" stroke="#f08018" stroke-width="1.4" stroke-linecap="round"/><path d="M43.7,36.3 Q42.4,35.2 43.4,33.0" fill="none" stroke="#e85010" stroke-width="1.4" stroke-linecap="round"/><path d="M25.1,42.8 Q26.7,43.9 27.4,46.7" fill="none" stroke="#e85010" stroke-width="1.3" stroke-linecap="round"/><path d="M12.7,29.7 Q14.2,29.1 16.5,30.3" fill="none" stroke="#f08018" stroke-width="2.0" stroke-linecap="round"/><path d="M38.6,32.5 Q36.2,30.3 36.4,28.9" fill="none" stroke="#f08018" stroke-width="1.7" stroke-linecap="round"/><path d="M39.3,22.7 Q39.6,23.6 43.1,25.9" fill="none" stroke="#f08018" stroke-width="1.6" stroke-linecap="round"/><path d="M20.0,37.8 Q19.0,36.4 18.9,33.3" fill="none" stroke="#f26c14" stroke-width="1.4" stroke-linecap="round"/><path d="M49.8,36.9 Q48.6,36.4 43.3,38.4" fill="none" stroke="#e85010" stroke-width="1.2" stroke-linecap="round"/><path d="M25.9,42.2 Q25.7,43.4 22.6,46.6" fill="none" stroke="#f08018" stroke-width="1.1" stroke-linecap="round"/><path d="M21.4,28.0 Q18.9,30.5 19.2,31.1" fill="none" stroke="#f08018" stroke-width="1.4" stroke-linecap="round"/><path d="M36.4,24.9 Q38.7,26.9 39.4,28.0" fill="none" stroke="#f08018" stroke-width="1.2" stroke-linecap="round"/><path d="M50.7,23.0 Q50.4,25.8 50.7,26.8" fill="none" stroke="#e85010" stroke-width="1.8" stroke-linecap="round"/><path d="M41.2,24.2 Q40.1,27.4 39.4,28.1" fill="none" stroke="#f26c14" stroke-width="1.7" stroke-linecap="round"/><path d="M50.8,31.5 Q48.3,29.5 49.2,25.0" fill="none" stroke="#f4a224" stroke-width="2.0" stroke-linecap="round"/><path d="M13.4,43.1 Q8.3,43.6 6.8,43.7" fill="none" stroke="#f26c14" stroke-width="1.7" stroke-linecap="round"/><path d="M55.0,29.8 Q55.7,29.2 54.5,26.8" fill="none" stroke="#f4a224" stroke-width="1.2" stroke-linecap="round"/><path d="M25.7,46.9 Q27.6,43.4 29.7,42.2" fill="none" stroke="#e85010" stroke-width="1.7" stroke-linecap="round"/><path d="M54.7,32.8 Q51.3,32.9 49.0,30.6" fill="none" stroke="#e85010" stroke-width="1.6" stroke-linecap="round"/><path d="M14.8,31.0 Q14.8,33.2 12.6,34.5" fill="none" stroke="#f4a224" stroke-width="1.4" stroke-linecap="round"/><path d="M16.0,36.8 Q14.9,38.9 13.9,41.7" fill="none" stroke="#f08018" stroke-width="1.7" stroke-linecap="round"/><path d="M52.1,27.1 Q50.6,26.3 48.8,21.0" fill="none" stroke="#f26c14" stroke-width="1.9" stroke-linecap="round"/><path d="M18.4,44.1 Q14.8,44.4 13.1,44.7" fill="none" stroke="#f26c14" stroke-width="1.9" stroke-linecap="round"/><path d="M36.3,33.3 Q39.4,33.7 39.4,36.1" fill="none" stroke="#f08018" stroke-width="1.7" stroke-linecap="round"/><path d="M27.8,35.5 Q29.5,34.6 33.8,34.4" fill="none" stroke="#f4a224" stroke-width="2.0" stroke-linecap="round"/><path d="M48.4,28.9 Q46.1,28.3 45.7,26.4" fill="none" stroke="#f4a224" stroke-width="1.5" stroke-linecap="round"/><path d="M50.7,29.2 Q51.3,31.6 50.3,35.1" fill="none" stroke="#e85010" stroke-width="1.6" stroke-linecap="round"/><path d="M23.7,31.3 Q20.8,34.0 21.2,35.3" fill="none" stroke="#f08018" stroke-width="1.9" stroke-linecap="round"/><path d="M9.2,43.0 Q11.0,41.5 12.3,41.0" fill="none" stroke="#f26c14" stroke-width="1.1" stroke-linecap="round"/><path d="M7.0,45.3 Q6.9,44.9 9.4,40.7" fill="none" stroke="#f4a224" stroke-width="1.8" stroke-linecap="round"/><path d="M25.0,23.9 Q26.2,26.0 26.9,27.2" fill="none" stroke="#f4a224" stroke-width="1.2" stroke-linecap="round"/><path d="M42.6,26.0 Q45.3,29.4 46.8,29.9" fill="none" stroke="#f26c14" stroke-width="1.2" stroke-linecap="round"/><path d="M22.0,26.7 Q20.1,29.9 17.8,30.5" fill="none" stroke="#f4a224" stroke-width="1.3" stroke-linecap="round"/><path d="M49.7,28.2 Q49.6,31.7 52.8,32.3" fill="none" stroke="#f4a224" stroke-width="1.5" stroke-linecap="round"/><path d="M39.2,41.4 Q41.0,37.7 39.6,34.9" fill="none" stroke="#f26c14" stroke-width="1.8" stroke-linecap="round"/><path d="M42.4,30.4 Q42.8,32.6 42.6,34.4" fill="none" stroke="#f08018" stroke-width="1.8" stroke-linecap="round"/><path d="M20.1,33.6 Q21.5,31.7 26.3,31.3" fill="none" stroke="#e85010" stroke-width="1.8" stroke-linecap="round"/><path d="M17.2,36.1 Q18.2,36.1 20.4,35.3" fill="none" stroke="#f4a224" stroke-width="2.0" stroke-linecap="round"/><path d="M27.7,40.4 Q28.9,39.2 32.0,39.6" fill="none" stroke="#f08018" stroke-width="1.3" stroke-linecap="round"/><path d="M42.2,21.0 Q40.7,24.3 39.0,24.3" fill="none" stroke="#f4a224" stroke-width="1.5" stroke-linecap="round"/><path d="M80.6,50.1 Q82.0,54.9 84.4,55.0" fill="none" stroke="#e6dc22" stroke-width="1.3" stroke-linecap="round"/><path d="M79.3,41.8 Q80.3,39.6 80.5,39.0" fill="none" stroke="#18b028" stroke-width="1.6" stroke-linecap="round"/><path d="M72.4,51.2 Q68.2,47.7 66.3,48.5" fill="none" stroke="#18b028" stroke-width="1.9" stroke-linecap="round"/><path d="M73.1,55.1 Q75.4,51.4 78.5,52.0" fill="none" stroke="#e6dc22" stroke-width="1.8" stroke-linecap="round"/><path d="M66.2,51.5 Q63.4,55.1 61.0,55.9" fill="none" stroke="#22d022" stroke-width="1.6" stroke-linecap="round"/><path d="M52.7,44.1 Q54.6,46.1 58.4,46.0" fill="none" stroke="#28c030" stroke-width="2.0" stroke-linecap="round"/><path d="M81.7,50.7 Q81.5,49.0 84.1,46.3" fill="none" stroke="#28c030" stroke-width="1.8" stroke-linecap="round"/><path d="M72.7,53.7 Q73.2,52.6 73.9,49.5" fill="none" stroke="#18b028" stroke-width="1.2" stroke-linecap="round"/><path d="M59.7,42.2 Q59.7,44.0 58.2,44.8" fill="none" stroke="#e6dc22" stroke-width="2.0" stroke-linecap="round"/><path d="M53.3,41.8 Q52.7,40.9 49.3,42.3" fill="none" stroke="#18b028" stroke-width="1.8" stroke-linecap="round"/><path d="M71.4,46.5 Q67.9,43.4 67.3,41.7" fill="none" stroke="#e6dc22" stroke-width="1.4" stroke-linecap="round"/><path d="M57.7,41.7 Q59.3,40.1 61.7,40.5" fill="none" stroke="#28c030" stroke-width="1.9" stroke-linecap="round"/><path d="M59.0,37.7 Q54.5,37.3 52.8,36.0" fill="none" stroke="#18b028" stroke-width="1.2" stroke-linecap="round"/><path d="M66.5,48.7 Q67.9,51.2 69.6,53.4" fill="none" stroke="#e6dc22" stroke-width="1.5" stroke-linecap="round"/><path d="M71.9,39.3 Q71.8,37.4 75.4,35.7" fill="none" stroke="#e6dc22" stroke-width="1.4" stroke-linecap="round"/><path d="M62.6,36.5 Q63.6,36.4 65.9,34.1" fill="none" stroke="#28c030" stroke-width="1.2" stroke-linecap="round"/><path d="M59.0,46.1 Q58.6,47.5 56.9,49.2" fill="none" stroke="#e6dc22" stroke-width="1.3" stroke-linecap="round"/><path d="M75.3,39.6 Q74.1,39.5 72.2,37.2" fill="none" stroke="#22d022" stroke-width="1.4" stroke-linecap="round"/><path d="M76.7,54.1 Q80.4,52.0 79.9,50.1" fill="none" stroke="#18b028" stroke-width="1.2" stroke-linecap="round"/><path d="M59.4,46.9 Q61.6,44.1 61.5,42.3" fill="none" stroke="#18b028" stroke-width="1.6" stroke-linecap="round"/><path d="M46.9,44.2 Q46.3,45.4 49.7,49.3" fill="none" stroke="#e6dc22" stroke-width="1.2" stroke-linecap="round"/><path d="M72.5,43.8 Q70.1,41.5 70.2,41.5" fill="none" stroke="#e6dc22" stroke-width="1.5" stroke-linecap="round"/><path d="M48.3,38.9 Q44.4,40.7 43.5,41.2" fill="none" stroke="#22d022" stroke-width="2.0" stroke-linecap="round"/><path d="M70.0,45.1 Q67.4,48.2 66.6,50.2" fill="none" stroke="#22d022" stroke-width="1.4" stroke-linecap="round"/><path d="M58.9,47.0 Q62.5,48.3 63.8,49.2" fill="none" stroke="#e6dc22" stroke-width="1.4" stroke-linecap="round"/><path d="M70.7,43.9 Q73.5,44.0 74.2,43.4" fill="none" stroke="#e6dc22" stroke-width="1.9" stroke-linecap="round"/><path d="M58.3,47.6 Q56.6,48.6 53.9,46.6" fill="none" stroke="#22d022" stroke-width="1.4" stroke-linecap="round"/><path d="M61.9,51.8 Q63.5,51.3 66.4,47.3" fill="none" stroke="#28c030" stroke-width="1.4" stroke-linecap="round"/><path d="M81.0,49.6 Q81.1,50.8 83.7,52.9" fill="none" stroke="#28c030" stroke-width="1.4" stroke-linecap="round"/><path d="M49.8,44.3 Q52.6,46.4 54.4,49.1" fill="none" stroke="#22d022" stroke-width="1.3" stroke-linecap="round"/><path d="M67.1,36.4 Q68.0,35.0 73.1,37.8" fill="none" stroke="#18b028" stroke-width="1.7" stroke-linecap="round"/><path d="M81.7,51.5 Q82.1,54.8 82.5,55.3" fill="none" stroke="#28c030" stroke-width="1.5" stroke-linecap="round"/><path d="M50.6,35.3 Q47.4,36.1 45.0,37.7" fill="none" stroke="#18b028" stroke-width="1.8" stroke-linecap="round"/><path d="M58.2,38.3 Q55.1,40.3 54.6,41.4" fill="none" stroke="#28c030" stroke-width="1.2" stroke-linecap="round"/><path d="M79.4,46.9 Q79.3,46.2 78.8,43.5" fill="none" stroke="#18b028" stroke-width="1.7" stroke-linecap="round"/><path d="M58.2,36.9 Q56.4,36.0 56.1,34.3" fill="none" stroke="#18b028" stroke-width="1.9" stroke-linecap="round"/><path d="M94.5,13.8 L99.3,10.8 L97.9,14.9 L102.7,11.9 L101.3,16.1 L106.1,13.1 L104.7,17.2 L109.5,14.2" fill="none" stroke="#1a9a80" stroke-width="1.4" stroke-linejoin="round" stroke-linecap="round"/><circle cx="118" cy="50" r="1.3" fill="#c0c020"/></g>
<use href="#fclB" transform="translate(477,556) scale(0.92,0.92)"/>
<g transform="translate(699,552)"><g filter="url(#bl2)"><ellipse cx="2" cy="4" rx="8" ry="14" transform="rotate(35 2 4)" fill="#f07030" opacity="0.3"/></g><path d="M-19.0,-23.0 Q-12.0,-19.0 -8.5,-17.5 Q-5.0,-16.0 -6.5,-12.0 Q-8.0,-8.0 -10.5,-5.5 L-13.0,-3.0" fill="none" stroke="#40c8c0" stroke-width="1.1" stroke-linecap="round" opacity="1"/><path d="M-9.0,-2.0 Q-15.0,3.0 -17.0,6.5 Q-19.0,10.0 -18.0,13.0 Q-17.0,16.0 -13.0,16.0 L-9.0,16.0" fill="none" stroke="#c03028" stroke-width="1.1" stroke-linecap="round" opacity="1"/><path d="M-10.0,21.0 Q4.2,6.5 16.0,-10.0" fill="none" stroke="#ea1d1d" stroke-width="2.6" stroke-linecap="butt"/><path d="M-7.5,19.5 Q-3.8,2.8 5.0,-12.0" fill="none" stroke="#f26c14" stroke-width="2.3" stroke-linecap="butt"/><path d="M-7.0,-1.0 Q-3.6,-7.4 2.0,-12.0" fill="none" stroke="#f0b030" stroke-width="2.0" stroke-linecap="butt"/><path d="M-4.0,12.0 Q3.0,2.0 10.0,-8.0" fill="none" stroke="#e84818" stroke-width="2.0" stroke-linecap="butt"/><path d="M13.0,-10.0 Q16.0,-11.0 19.0,-12.0" fill="none" stroke="#ea1d1d" stroke-width="3.4" stroke-linecap="butt"/><path d="M17.0,-14.0 Q17.5,-10.0 18.0,-6.0" fill="none" stroke="#d82020" stroke-width="1.4" stroke-linecap="butt"/><path d="M-2.0,11.0 Q-3.0,16.5 -4.0,22.0" fill="none" stroke="#e8c030" stroke-width="1.8" stroke-linecap="butt"/><path d="M2.0,14.0 Q1.5,18.0 1.0,22.0" fill="none" stroke="#f0a040" stroke-width="1.4" stroke-linecap="butt"/><line x1="5.0" y1="17.0" x2="11.0" y2="9.0" stroke="#209333" stroke-width="5.0" stroke-dasharray="1.9 1.1" opacity="0.8"/><path d="M6.4,19.2 L4.6,13.5 L8.4,16.5 L6.6,10.8 L10.4,13.8 L8.6,8.2 L12.4,11.2" fill="none" stroke="#28b840" stroke-width="1.5" stroke-linejoin="round" stroke-linecap="round"/><path d="M2.0,20.0 Q5.0,23.0 6.5,21.5 L8.0,20.0" fill="none" stroke="#80d060" stroke-width="1.0" stroke-linecap="round" opacity="1"/></g>
<g transform="translate(820,554)"><g filter="url(#bl2)"><ellipse cx="4" cy="-9" rx="7" ry="6" transform="rotate(0 4 -9)" fill="#f4a224" opacity="0.3"/><ellipse cx="3" cy="10" rx="9" ry="5" transform="rotate(0 3 10)" fill="#1fc46a" opacity="0.3"/></g><path d="M-13.0,-15.0 Q-14.0,-9.0 -13.5,-6.5 L-13.0,-4.0" fill="none" stroke="#a0a8d8" stroke-width="1.0" stroke-linecap="round" opacity="1"/><circle cx="-2.0" cy="-14.0" r="1.5" fill="#f4a224"/><circle cx="1.7" cy="-14.0" r="1.5" fill="#f4a224"/><circle cx="5.4" cy="-14.0" r="1.5" fill="#f4a224"/><circle cx="9.1" cy="-14.0" r="1.5" fill="#f4a224"/><circle cx="-1.5" cy="-10.6" r="1.5" fill="#f0c030"/><circle cx="2.2" cy="-10.6" r="1.5" fill="#f0c030"/><circle cx="5.9" cy="-10.6" r="1.5" fill="#f0c030"/><circle cx="9.6" cy="-10.6" r="1.5" fill="#f0c030"/><circle cx="-1.0" cy="-7.2" r="1.5" fill="#f09030"/><circle cx="2.7" cy="-7.2" r="1.5" fill="#f09030"/><circle cx="6.4" cy="-7.2" r="1.5" fill="#f09030"/><circle cx="10.1" cy="-7.2" r="1.5" fill="#f09030"/><line x1="2.0" y1="2.5" x2="1.0" y2="-2.5" stroke="#a01818" stroke-width="1.2"/><line x1="4.2" y1="2.0" x2="3.2" y2="-3.0" stroke="#a01818" stroke-width="1.2"/><line x1="6.4" y1="1.5" x2="5.4" y2="-3.5" stroke="#a01818" stroke-width="1.2"/><line x1="8.6" y1="1.0" x2="7.6" y2="-4.0" stroke="#a01818" stroke-width="1.2"/><line x1="10.8" y1="0.5" x2="9.8" y2="-4.5" stroke="#a01818" stroke-width="1.2"/><line x1="-14.0" y1="1.0" x2="-6.0" y2="-2.0" stroke="#2039a6" stroke-width="3.8" stroke-dasharray="2.0 1.2" opacity="0.8"/><path d="M-14.2,3.0 L-12.2,-1.6 L-11.0,1.8 L-9.0,-2.8 L-7.8,0.6 L-5.8,-4.0" fill="none" stroke="#2848d0" stroke-width="1.5" stroke-linejoin="round" stroke-linecap="round"/><line x1="-8.0" y1="3.0" x2="-3.0" y2="9.0" stroke="#269933" stroke-width="3.8" stroke-dasharray="2.2 1.4" opacity="0.8"/><path d="M-10.0,3.5 L-4.8,4.0 L-7.5,6.5 L-2.3,7.0 L-5.0,9.5" fill="none" stroke="#30c040" stroke-width="1.5" stroke-linejoin="round" stroke-linecap="round"/><line x1="-4.0" y1="10.0" x2="12.0" y2="13.0" stroke="#19a080" stroke-width="4.2" stroke-dasharray="2.2 1.4" opacity="0.8"/><path d="M-5.3,11.8 L-1.0,8.5 L-1.7,12.5 L2.6,9.2 L1.9,13.1 L6.1,9.9 L5.4,13.8 L9.7,10.5 L9.0,14.5 L13.3,11.2" fill="none" stroke="#20c8a0" stroke-width="1.7" stroke-linejoin="round" stroke-linecap="round"/><line x1="-2.0" y1="15.0" x2="10.0" y2="16.0" stroke="#2093ac" stroke-width="2.9" stroke-dasharray="2.2 1.4" opacity="0.8"/><path d="M-3.0,16.3 L1.0,13.8 L1.0,16.7 L5.0,14.2 L5.0,17.0 L9.0,14.5 L9.0,17.3" fill="none" stroke="#28b8d8" stroke-width="1.4" stroke-linejoin="round" stroke-linecap="round"/><line x1="4.0" y1="6.0" x2="12.0" y2="8.0" stroke="#189c54" stroke-width="3.4" stroke-dasharray="2.2 1.4" opacity="0.8"/><path d="M2.7,7.3 L7.3,5.2 L6.7,8.3 L11.3,6.2 L10.7,9.3" fill="none" stroke="#1fc46a" stroke-width="1.5" stroke-linejoin="round" stroke-linecap="round"/></g>
<path d="M933,553 q4,-3 8,0 t8,0" fill="none" stroke="#262626" stroke-width="1.2"/>
<path d="M950.0,557 q1,-6 3.4,-5 q2,2 1.2,5" fill="none" stroke="#262626" stroke-width="1.3"/>
<path d="M954.6,557 q1,-6 3.4,-5 q2,2 1.2,5" fill="none" stroke="#262626" stroke-width="1.3"/>
<path d="M959.2,557 q1,-6 3.4,-5 q2,2 1.2,5" fill="none" stroke="#262626" stroke-width="1.3"/>
<path d="M963.8,557 q1,-6 3.4,-5 q2,2 1.2,5" fill="none" stroke="#262626" stroke-width="1.3"/>
<path d="M968.4,557 q1,-6 3.4,-5 q2,2 1.2,5" fill="none" stroke="#262626" stroke-width="1.3"/>
<path d="M973.0,557 q1,-6 3.4,-5 q2,2 1.2,5" fill="none" stroke="#262626" stroke-width="1.3"/>
<path d="M977,555 q3,-2 5,-4 M982,551 l-1,-3 M982,551 l5,1" fill="none" stroke="#262626" stroke-width="1.2"/>
</g>
<g stroke="#111" fill="none" stroke-width="1.8">
<line x1="180" y1="277.2" x2="279" y2="277.2"/>
<line x1="494.5" y1="276.5" x2="629" y2="276.5"/>
<path d="M651.8,117.5 A282,282 0 0 1 649.5,436"/>
<path d="M1029.6,124 A280.5,280.5 0 0 0 1019,440"/>
</g>
<polygon fill="#111" points="285.0,277.2 278.0,280.5 278.0,273.9"/>
<polygon fill="#111" points="635.5,276.5 628.5,279.8 628.5,273.2"/>
<polygon fill="#111" points="651.2,115.2 657.2,119.3 651.6,122.4"/>
<polygon fill="#111" points="648.7,438.3 649.1,431.1 654.7,434.2"/>
<polygon fill="#111" points="1030.6,121.6 1029.9,128.8 1024.4,125.4"/>
<polygon fill="#111" points="1020.0,442.0 1014.0,438.0 1019.5,434.8"/>
<text x="494.5" y="267.0" font-size="21.5" font-weight="bold" text-anchor="start" fill="#111" >self-assembly</text>
<text x="536.5" y="301.0" font-size="21.6" font-weight="bold" text-anchor="start" fill="#111" >in <tspan font-style="italic">vivo</tspan></text>
<text x="994.3" y="105.7" font-size="19.5" font-weight="bold" text-anchor="start" fill="#111" >Cinnamoyl-CoA</text>
<text x="994.0" y="210.3" font-size="19.5" font-weight="bold" text-anchor="start" fill="#111" >Cinnamic acid</text>
<text x="982.8" y="286.1" font-size="19.5" font-weight="bold" text-anchor="start" fill="#111" >phenylalanine</text>
<text x="987.4" y="366.0" font-size="19.5" font-weight="bold" text-anchor="start" fill="#111" >Cinnamic acid</text>
<text x="994.7" y="471.2" font-size="19.5" font-weight="bold" text-anchor="start" fill="#111" >Cinnamoyl-CoA</text>
<rect x="124" y="505.7" width="998.3" height="99.7" rx="12" ry="15.5" fill="none" stroke="#2b3f78" stroke-width="1.5" stroke-dasharray="5.8 4.9"/>
<text x="287.2" y="564.2" font-size="19.4" font-weight="bold" text-anchor="start" fill="#111" >Subunit of PAL</text>
<text x="524.2" y="566.2" font-size="19.4" font-weight="bold" text-anchor="start" fill="#111" >Subunit of 4CL</text>
<text x="728.5" y="566.6" font-size="19.4" font-weight="bold" text-anchor="start" fill="#111" >PDZ</text>
<text x="849.8" y="562.8" font-size="19.4" font-weight="bold" text-anchor="start" fill="#111" >PDZlig</text>
<text x="1006.0" y="563.8" font-size="19.4" font-weight="bold" text-anchor="start" fill="#111" >Rigid linker</text>
<rect x="239.2" y="951.4" width="40.1" height="38.2" fill="#3899d0"/>
<rect x="279.3" y="938.1" width="40.8" height="51.5" fill="#fba45a"/>
<rect x="320.1" y="987.9" width="39.3" height="1.7" fill="#858585"/>
<rect x="410.9" y="740.4" width="40.8" height="249.2" fill="#3899d0"/>
<rect x="451.7" y="980.4" width="39.3" height="9.2" fill="#fba45a"/>
<rect x="491.0" y="933.1" width="40.9" height="56.5" fill="#858585"/>
<g stroke="#3a3a3a" stroke-width="1.5" fill="none">
<path d="M213.8,711.7 V989.6 H555.9 V711.7"/>
<line x1="208.5" x2="213.8" y1="989.6" y2="989.6"/>
<line x1="208.5" x2="213.8" y1="920.1" y2="920.1"/>
<line x1="208.5" x2="213.8" y1="850.7" y2="850.7"/>
<line x1="208.5" x2="213.8" y1="781.2" y2="781.2"/>
<line x1="208.5" x2="213.8" y1="711.7" y2="711.7"/>
<line x1="211" x2="213.8" y1="954.9" y2="954.9" stroke-width="1"/>
<line x1="211" x2="213.8" y1="885.4" y2="885.4" stroke-width="1"/>
<line x1="211" x2="213.8" y1="815.9" y2="815.9" stroke-width="1"/>
<line x1="211" x2="213.8" y1="746.4" y2="746.4" stroke-width="1"/>
<line x1="555.9" x2="561" y1="989.6" y2="989.6"/>
<line x1="555.9" x2="561" y1="949.9" y2="949.9"/>
<line x1="555.9" x2="561" y1="910.2" y2="910.2"/>
<line x1="555.9" x2="561" y1="870.5" y2="870.5"/>
<line x1="555.9" x2="561" y1="830.8" y2="830.8"/>
<line x1="555.9" x2="561" y1="791.1" y2="791.1"/>
<line x1="555.9" x2="561" y1="751.4" y2="751.4"/>
<line x1="555.9" x2="561" y1="711.7" y2="711.7"/>
<line x1="555.9" x2="558.5" y1="969.8" y2="969.8" stroke-width="1"/>
<line x1="555.9" x2="558.5" y1="930.1" y2="930.1" stroke-width="1"/>
<line x1="555.9" x2="558.5" y1="890.4" y2="890.4" stroke-width="1"/>
<line x1="555.9" x2="558.5" y1="850.7" y2="850.7" stroke-width="1"/>
<line x1="555.9" x2="558.5" y1="811.0" y2="811.0" stroke-width="1"/>
<line x1="555.9" x2="558.5" y1="771.2" y2="771.2" stroke-width="1"/>
<line x1="555.9" x2="558.5" y1="731.5" y2="731.5" stroke-width="1"/>
<line x1="299.5" x2="299.5" y1="989.6" y2="994.6"/>
<line x1="471.2" x2="471.2" y1="989.6" y2="994.6"/>
<line x1="384.5" x2="384.5" y1="989.6" y2="992.4" stroke-width="1"/>
</g>
<path d="M259.3,942.7 V961.1 M256.1,942.7 H262.5 M256.1,961.1 H262.5" stroke="#222" stroke-width="1.1" fill="none"/>
<path d="M299.7,933.1 V943.1 M296.5,933.1 H302.9 M296.5,943.1 H302.9" stroke="#222" stroke-width="1.1" fill="none"/>
<path d="M339.7,987.3 V988.5 M336.5,987.3 H342.9 M336.5,988.5 H342.9" stroke="#222" stroke-width="1.1" fill="none"/>
<path d="M431.3,733.6 V747.2 M428.1,733.6 H434.5 M428.1,747.2 H434.5" stroke="#222" stroke-width="1.1" fill="none"/>
<path d="M471.3,980.7 V981.7 M468.1,980.7 H474.5 M468.1,981.7 H474.5" stroke="#222" stroke-width="1.1" fill="none"/>
<path d="M511.5,923.3 V942.9 M508.3,923.3 H514.7 M508.3,942.9 H514.7" stroke="#222" stroke-width="1.1" fill="none"/>
<path d="M300.0,744.2 V756.6 M296.6,744.2 H303.4 M296.6,756.6 H303.4" stroke="#111" stroke-width="1.2" fill="none"/>
<circle cx="300" cy="750.4" r="4.3" fill="#0a0a0a"/>
<circle cx="471.3" cy="742.7" r="4.3" fill="#0a0a0a"/>
<rect x="217.4" y="670.5" width="32.6" height="16.4" fill="#3899d0"/>
<rect x="217.4" y="688.1" width="32.6" height="16.4" fill="#fba45a"/>
<rect x="217.4" y="706.8" width="32.6" height="16.2" fill="#858585"/>
<circle cx="233.9" cy="732" r="4.2" fill="#0a0a0a"/>
<text x="254.8" y="683.6" font-size="14.2" font-weight="bold" text-anchor="start" fill="#111" >baicalein</text>
<text x="254.8" y="702.2" font-size="14.2" font-weight="bold" text-anchor="start" fill="#111" >cinnamaic acid</text>
<text x="254.8" y="719.9" font-size="14.2" font-weight="bold" text-anchor="start" fill="#111" >chrysin</text>
<text x="254.8" y="737.2" font-size="14.2" font-weight="bold" text-anchor="start" fill="#111" >OD<tspan font-size="9.5" dy="3.6">600</tspan></text>
<text x="204.8" y="995.4" font-size="16.5" font-weight="bold" text-anchor="end" fill="#111" >0</text>
<text x="204.8" y="925.9" font-size="16.5" font-weight="bold" text-anchor="end" fill="#111" >40</text>
<text x="204.8" y="856.5" font-size="16.5" font-weight="bold" text-anchor="end" fill="#111" >80</text>
<text x="204.8" y="787.0" font-size="16.5" font-weight="bold" text-anchor="end" fill="#111" >120</text>
<text x="204.8" y="717.5" font-size="16.5" font-weight="bold" text-anchor="end" fill="#111" >160</text>
<text x="563.3" y="995.4" font-size="16.5" font-weight="bold" text-anchor="start" fill="#111" >0</text>
<text x="563.3" y="955.7" font-size="16.5" font-weight="bold" text-anchor="start" fill="#111" >1</text>
<text x="563.3" y="916.0" font-size="16.5" font-weight="bold" text-anchor="start" fill="#111" >2</text>
<text x="563.3" y="876.3" font-size="16.5" font-weight="bold" text-anchor="start" fill="#111" >3</text>
<text x="563.3" y="836.6" font-size="16.5" font-weight="bold" text-anchor="start" fill="#111" >4</text>
<text x="563.3" y="796.9" font-size="16.5" font-weight="bold" text-anchor="start" fill="#111" >5</text>
<text x="563.3" y="757.2" font-size="16.5" font-weight="bold" text-anchor="start" fill="#111" >6</text>
<text x="563.3" y="717.5" font-size="16.5" font-weight="bold" text-anchor="start" fill="#111" >7</text>
<text transform="translate(170.8,850.5) rotate(-90)" font-size="17" font-weight="bold" text-anchor="middle" fill="#111">Titer(mg/L)</text>
<text transform="translate(590.6,851) rotate(-90)" font-size="16.5" font-weight="bold" text-anchor="middle" fill="#111">OD<tspan font-size="11" dy="4">600</tspan></text>
<text x="299.5" y="1011.8" font-size="16.3" font-weight="bold" text-anchor="middle" fill="#111" >DN-1</text>
<text x="471.2" y="1011.8" font-size="16.3" font-weight="bold" text-anchor="middle" fill="#111" >DN-7</text>
<g stroke="#3a3a3a" stroke-width="1.3" fill="none">
<path d="M605.7,986.8 H952.6 L1063.2,854.9 V708.9"/>
<line x1="605.7" x2="605.7" y1="986.8" y2="990.0" stroke-width="1.3"/>
<line x1="628.8" x2="628.8" y1="986.8" y2="988.6999999999999" stroke-width="1"/>
<line x1="652.0" x2="652.0" y1="986.8" y2="988.6999999999999" stroke-width="1"/>
<line x1="675.1" x2="675.1" y1="986.8" y2="988.6999999999999" stroke-width="1"/>
<line x1="698.2" x2="698.2" y1="986.8" y2="988.6999999999999" stroke-width="1"/>
<line x1="721.3" x2="721.3" y1="986.8" y2="990.0" stroke-width="1.3"/>
<line x1="744.5" x2="744.5" y1="986.8" y2="988.6999999999999" stroke-width="1"/>
<line x1="767.6" x2="767.6" y1="986.8" y2="988.6999999999999" stroke-width="1"/>
<line x1="790.7" x2="790.7" y1="986.8" y2="988.6999999999999" stroke-width="1"/>
<line x1="813.8" x2="813.8" y1="986.8" y2="988.6999999999999" stroke-width="1"/>
<line x1="837.0" x2="837.0" y1="986.8" y2="990.0" stroke-width="1.3"/>
<line x1="860.1" x2="860.1" y1="986.8" y2="988.6999999999999" stroke-width="1"/>
<line x1="883.2" x2="883.2" y1="986.8" y2="988.6999999999999" stroke-width="1"/>
<line x1="906.3" x2="906.3" y1="986.8" y2="988.6999999999999" stroke-width="1"/>
<line x1="929.5" x2="929.5" y1="986.8" y2="988.6999999999999" stroke-width="1"/>
<line x1="952.6" x2="952.6" y1="986.8" y2="990.0" stroke-width="1.3"/>
<line x1="1063.2" x2="1066.8" y1="854.9" y2="854.9"/>
<line x1="1063.2" x2="1066.8" y1="825.7" y2="825.7"/>
<line x1="1063.2" x2="1066.8" y1="796.5" y2="796.5"/>
<line x1="1063.2" x2="1066.8" y1="767.3" y2="767.3"/>
<line x1="1063.2" x2="1066.8" y1="738.1" y2="738.1"/>
<line x1="1063.2" x2="1066.8" y1="708.9" y2="708.9"/>
<line x1="1063.2" x2="1065.7" y1="849.1" y2="849.1" stroke-width="0.9"/>
<line x1="1063.2" x2="1065.7" y1="843.2" y2="843.2" stroke-width="0.9"/>
<line x1="1063.2" x2="1065.7" y1="837.4" y2="837.4" stroke-width="0.9"/>
<line x1="1063.2" x2="1065.7" y1="831.5" y2="831.5" stroke-width="0.9"/>
<line x1="1063.2" x2="1065.7" y1="819.9" y2="819.9" stroke-width="0.9"/>
<line x1="1063.2" x2="1065.7" y1="814.0" y2="814.0" stroke-width="0.9"/>
<line x1="1063.2" x2="1065.7" y1="808.2" y2="808.2" stroke-width="0.9"/>
<line x1="1063.2" x2="1065.7" y1="802.3" y2="802.3" stroke-width="0.9"/>
<line x1="1063.2" x2="1065.7" y1="790.7" y2="790.7" stroke-width="0.9"/>
<line x1="1063.2" x2="1065.7" y1="784.8" y2="784.8" stroke-width="0.9"/>
<line x1="1063.2" x2="1065.7" y1="779.0" y2="779.0" stroke-width="0.9"/>
<line x1="1063.2" x2="1065.7" y1="773.1" y2="773.1" stroke-width="0.9"/>
<line x1="1063.2" x2="1065.7" y1="761.5" y2="761.5" stroke-width="0.9"/>
<line x1="1063.2" x2="1065.7" y1="755.6" y2="755.6" stroke-width="0.9"/>
<line x1="1063.2" x2="1065.7" y1="749.8" y2="749.8" stroke-width="0.9"/>
<line x1="1063.2" x2="1065.7" y1="743.9" y2="743.9" stroke-width="0.9"/>
<line x1="1063.2" x2="1065.7" y1="732.3" y2="732.3" stroke-width="0.9"/>
<line x1="1063.2" x2="1065.7" y1="726.4" y2="726.4" stroke-width="0.9"/>
<line x1="1063.2" x2="1065.7" y1="720.6" y2="720.6" stroke-width="0.9"/>
<line x1="1063.2" x2="1065.7" y1="714.7" y2="714.7" stroke-width="0.9"/>
</g>
<text x="605.7" y="1004.7" font-size="15.5" font-weight="bold" text-anchor="middle" fill="#111" textLength="14.5" lengthAdjust="spacingAndGlyphs">15</text>
<text x="721.3" y="1004.7" font-size="15.5" font-weight="bold" text-anchor="middle" fill="#111" textLength="14.5" lengthAdjust="spacingAndGlyphs">20</text>
<text x="837.0" y="1004.7" font-size="15.5" font-weight="bold" text-anchor="middle" fill="#111" textLength="14.5" lengthAdjust="spacingAndGlyphs">25</text>
<text x="952.6" y="1004.7" font-size="15.5" font-weight="bold" text-anchor="middle" fill="#111" textLength="14.5" lengthAdjust="spacingAndGlyphs">30</text>
<text x="779.4" y="1022.8" font-size="15.2" font-weight="bold" text-anchor="middle" fill="#111" >Time(min)</text>
<text x="1069.2" y="860.3" font-size="15.3" font-weight="bold" text-anchor="start" fill="#111" textLength="8.2" lengthAdjust="spacingAndGlyphs">0</text>
<text x="1069.2" y="831.1" font-size="15.3" font-weight="bold" text-anchor="start" fill="#111" textLength="24.6" lengthAdjust="spacingAndGlyphs">500</text>
<text x="1069.2" y="801.9" font-size="15.3" font-weight="bold" text-anchor="start" fill="#111" textLength="32.8" lengthAdjust="spacingAndGlyphs">1000</text>
<text x="1069.2" y="772.7" font-size="15.3" font-weight="bold" text-anchor="start" fill="#111" textLength="32.8" lengthAdjust="spacingAndGlyphs">1500</text>
<text x="1069.2" y="743.5" font-size="15.3" font-weight="bold" text-anchor="start" fill="#111" textLength="32.8" lengthAdjust="spacingAndGlyphs">2000</text>
<text x="1069.2" y="714.3" font-size="15.3" font-weight="bold" text-anchor="start" fill="#111" textLength="32.8" lengthAdjust="spacingAndGlyphs">2500</text>
<g fill="none" stroke-width="1.7" stroke-dasharray="5 3">
<line x1="636" y1="986.8" x2="739.8" y2="863.4" stroke="#2f6fbe"/>
<line x1="712.6" y1="986.8" x2="817.7" y2="860.9" stroke="#d8262c"/>
<line x1="883.6" y1="986.8" x2="989.1" y2="863.4" stroke="#2f7f35"/>
</g>
<path d="M624.0,963.8 L624.3,963.8 L624.7,963.8 L625.0,963.8 L625.3,963.8 L625.7,963.8 L626.0,963.8 L626.3,963.8 L626.7,963.8 L627.0,963.8 L627.3,963.8 L627.7,963.8 L628.0,963.8 L628.3,963.8 L628.7,963.8 L629.0,963.8 L629.3,963.8 L629.7,963.8 L630.0,963.8 L630.3,963.8 L630.7,963.8 L631.0,963.8 L631.3,963.8 L631.7,963.8 L632.0,963.8 L632.3,963.8 L632.7,963.8 L633.0,963.8 L633.3,963.8 L633.7,963.8 L634.0,963.8 L634.3,963.8 L634.7,963.8 L635.0,963.8 L635.3,963.8 L635.7,963.8 L636.0,963.8 L636.3,963.8 L636.7,963.8 L637.0,963.8 L637.3,963.8 L637.7,963.8 L638.0,963.8 L638.3,963.8 L638.7,963.8 L639.0,963.8 L639.3,963.8 L639.7,963.8 L640.0,963.8 L640.3,963.8 L640.7,963.8 L641.0,963.8 L641.3,963.8 L641.7,963.8 L642.0,963.8 L642.3,963.8 L642.7,963.8 L643.0,963.8 L643.3,963.8 L643.7,963.8 L644.0,963.8 L644.3,963.8 L644.7,963.8 L645.0,963.8 L645.3,963.8 L645.7,963.8 L646.0,963.8 L646.3,963.8 L646.7,963.7 L647.0,963.6 L647.3,963.3 L647.7,962.8 L648.0,961.9 L648.3,960.4 L648.7,958.0 L649.0,954.3 L649.4,949.0 L649.7,942.0 L650.0,933.1 L650.4,922.8 L650.7,911.7 L651.0,900.9 L651.4,891.6 L651.7,884.9 L652.0,881.9 L652.4,882.5 L652.7,885.6 L653.0,891.0 L653.4,898.0 L653.7,906.2 L654.0,914.9 L654.4,923.5 L654.7,931.7 L655.0,939.0 L655.4,945.2 L655.7,950.3 L656.0,954.3 L656.4,957.3 L656.7,959.5 L657.0,961.0 L657.4,962.1 L657.7,962.8 L658.0,963.2 L658.4,963.4 L658.7,963.6 L659.0,963.7 L659.4,963.7 L659.7,963.7 L660.0,963.7 L660.4,963.7 L660.7,963.7 L661.0,963.7 L661.4,963.7 L661.7,963.6 L662.0,963.6 L662.4,963.6 L662.7,963.5 L663.0,963.5 L663.4,963.4 L663.7,963.4 L664.0,963.3 L664.4,963.3 L664.7,963.2 L665.0,963.1 L665.4,963.1 L665.7,963.0 L666.0,963.0 L666.4,962.9 L666.7,962.9 L667.0,962.8 L667.4,962.8 L667.7,962.8 L668.0,962.8 L668.4,962.8 L668.7,962.8 L669.0,962.8 L669.4,962.9 L669.7,962.9 L670.0,962.9 L670.4,962.9 L670.7,963.0 L671.0,963.0 L671.4,963.1 L671.7,963.1 L672.0,963.2 L672.4,963.2 L672.7,963.3 L673.0,963.3 L673.4,963.4 L673.7,963.4 L674.0,963.4 L674.4,963.5 L674.7,963.5 L675.0,963.6 L675.4,963.6 L675.7,963.6 L676.0,963.6 L676.4,963.7 L676.7,963.7 L677.0,963.7 L677.4,963.7 L677.7,963.7 L678.0,963.7 L678.4,963.8 L678.7,963.8 L679.0,963.8 L679.4,963.8 L679.7,963.8 L680.0,963.8 L680.4,963.8 L680.7,963.8 L681.0,963.8 L681.4,963.8 L681.7,963.8 L682.0,963.8 L682.4,963.8 L682.7,963.8 L683.0,963.8 L683.4,963.8 L683.7,963.8 L684.0,963.8 L684.4,963.8 L684.7,963.8 L685.0,963.8 L685.4,963.8 L685.7,963.8 L686.0,963.8 L686.4,963.8 L686.7,963.8 L687.0,963.8 L687.4,963.8 L687.7,963.8 L688.0,963.8 L688.4,963.8 L688.7,963.8 L689.0,963.7 L689.4,963.7 L689.7,963.7 L690.0,963.6 L690.4,963.6 L690.7,963.5 L691.0,963.4 L691.4,963.4 L691.7,963.3 L692.0,963.2 L692.4,963.1 L692.7,963.0 L693.0,963.0 L693.4,962.9 L693.7,962.9 L694.0,962.9 L694.4,962.9 L694.7,962.9 L695.0,963.0 L695.4,963.0 L695.7,963.1 L696.0,963.1 L696.4,963.2 L696.7,963.2 L697.0,963.3 L697.4,963.4 L697.7,963.4 L698.0,963.5 L698.4,963.5 L698.7,963.6 L699.1,963.6 L699.4,963.7 L699.7,963.7 L700.1,963.7 L700.4,963.7 L700.7,963.7 L701.1,963.8 L701.4,963.8 L701.7,963.8 L702.1,963.8 L702.4,963.8 L702.7,963.8 L703.1,963.8 L703.4,963.8 L703.7,963.8 L704.1,963.8 L704.4,963.8 L704.7,963.8 L705.1,963.8 L705.4,963.8 L705.7,963.8 L706.1,963.8 L706.4,963.8 L706.7,963.8 L707.1,963.8 L707.4,963.8 L707.7,963.8 L708.1,963.8 L708.4,963.8 L708.7,963.8 L709.1,963.8 L709.4,963.8 L709.7,963.8 L710.1,963.8 L710.4,963.8 L710.7,963.8 L711.1,963.8 L711.4,963.8 L711.7,963.8 L712.1,963.8 L712.4,963.8 L712.7,963.8 L713.1,963.8 L713.4,963.8 L713.7,963.8 L714.1,963.8 L714.4,963.8 L714.7,963.8 L715.1,963.8 L715.4,963.8 L715.7,963.8 L716.1,963.8 L716.4,963.8 L716.7,963.8 L717.1,963.8 L717.4,963.8 L717.7,963.8 L718.1,963.8 L718.4,963.8 L718.7,963.8 L719.1,963.8 L719.4,963.8 L719.7,963.8 L720.1,963.8 L720.4,963.8 L720.7,963.7 L721.1,963.6 L721.4,963.5 L721.7,963.4 L722.1,963.2 L722.4,962.9 L722.7,962.7 L723.1,962.4 L723.4,962.2 L723.7,962.0 L724.1,962.0 L724.4,962.1 L724.7,962.2 L725.1,962.3 L725.4,962.5 L725.7,962.7 L726.1,962.9 L726.4,963.1 L726.7,963.3 L727.1,963.3 L727.4,963.3 L727.7,963.1 L728.1,962.8 L728.4,962.2 L728.7,961.2 L729.1,959.7 L729.4,957.7 L729.7,955.2 L730.1,952.0 L730.4,948.5 L730.7,944.9 L731.1,941.4 L731.4,938.5 L731.7,936.6 L732.1,935.8 L732.4,936.1 L732.7,937.3 L733.1,939.0 L733.4,941.4 L733.7,944.1 L734.1,946.9 L734.4,949.8 L734.7,952.5 L735.1,954.9 L735.4,957.1 L735.7,958.8 L736.1,960.2 L736.4,961.3 L736.7,962.1 L737.1,962.7 L737.4,963.1 L737.7,963.4 L738.1,963.5 L738.4,963.6 L738.7,963.7 L739.1,963.7 L739.4,963.6 L739.7,963.5 L740.1,963.4 L740.4,963.1 L740.7,962.6 L741.1,962.0 L741.4,961.1 L741.7,960.0 L742.1,958.7 L742.4,957.3 L742.7,955.9 L743.1,954.6 L743.4,953.6 L743.7,952.9 L744.1,952.8 L744.4,953.0 L744.7,953.6 L745.1,954.4 L745.4,955.3 L745.7,956.4 L746.1,957.5 L746.4,958.7 L746.7,959.7 L747.1,960.6 L747.4,961.4 L747.7,962.0 L748.1,962.5 L748.4,962.9 L748.8,963.2 L749.1,963.4 L749.4,963.6 L749.8,963.7 L750.1,963.7 L750.4,963.7 L750.8,963.8 L751.1,963.8 L751.4,963.8 L751.8,963.8 L752.1,963.8 L752.4,963.8 L752.8,963.8 L753.1,963.8 L753.4,963.8 L753.8,963.8 L754.1,963.8 L754.4,963.8 L754.8,963.8 L755.1,963.8 L755.4,963.8 L755.8,963.8 L756.1,963.8 L756.4,963.8 L756.8,963.8 L757.1,963.8 L757.4,963.8 L757.8,963.8 L758.1,963.8 L758.4,963.8 L758.8,963.8 L759.1,963.8 L759.4,963.8 L759.8,963.8 L760.1,963.8 L760.4,963.8 L760.8,963.8 L761.1,963.8 L761.4,963.8 L761.8,963.8 L762.1,963.8 L762.4,963.8 L762.8,963.8 L763.1,963.8 L763.4,963.8 L763.8,963.8 L764.1,963.8 L764.4,963.8 L764.8,963.8 L765.1,963.8 L765.4,963.7 L765.8,963.7 L766.1,963.7 L766.4,963.6 L766.8,963.5 L767.1,963.4 L767.4,963.3 L767.8,963.1 L768.1,962.9 L768.4,962.8 L768.8,962.7 L769.1,962.6 L769.4,962.5 L769.8,962.5 L770.1,962.5 L770.4,962.6 L770.8,962.7 L771.1,962.8 L771.4,962.9 L771.8,963.0 L772.1,963.2 L772.4,963.3 L772.8,963.4 L773.1,963.5 L773.4,963.6 L773.8,963.6 L774.1,963.7 L774.4,963.7 L774.8,963.7 L775.1,963.8 L775.4,963.8 L775.8,963.8 L776.1,963.8 L776.4,963.8 L776.8,963.8 L777.1,963.8 L777.4,963.8 L777.8,963.8 L778.1,963.8 L778.4,963.8 L778.8,963.8 L779.1,963.8 L779.4,963.8 L779.8,963.8 L780.1,963.8 L780.4,963.8 L780.8,963.8 L781.1,963.8 L781.4,963.8 L781.8,963.8 L782.1,963.8 L782.4,963.8 L782.8,963.8 L783.1,963.8 L783.4,963.8 L783.8,963.8 L784.1,963.8 L784.4,963.8 L784.8,963.8 L785.1,963.8 L785.4,963.8 L785.8,963.8 L786.1,963.8 L786.4,963.8 L786.8,963.8 L787.1,963.8 L787.4,963.8 L787.8,963.8 L788.1,963.8 L788.4,963.8 L788.8,963.8 L789.1,963.8 L789.4,963.8 L789.8,963.8 L790.1,963.8 L790.4,963.8 L790.8,963.8 L791.1,963.8 L791.4,963.8 L791.8,963.8 L792.1,963.8 L792.4,963.8 L792.8,963.8 L793.1,963.8 L793.4,963.8 L793.8,963.8 L794.1,963.8 L794.4,963.8 L794.8,963.8 L795.1,963.8 L795.4,963.8 L795.8,963.8 L796.1,963.8 L796.4,963.8 L796.8,963.8 L797.1,963.8 L797.5,963.8 L797.8,963.8 L798.1,963.8 L798.5,963.8 L798.8,963.8 L799.1,963.8 L799.5,963.8 L799.8,963.8 L800.1,963.8 L800.5,963.8 L800.8,963.8 L801.1,963.8 L801.5,963.8 L801.8,963.8 L802.1,963.8 L802.5,963.8 L802.8,963.8 L803.1,963.8 L803.5,963.8 L803.8,963.8 L804.1,963.8 L804.5,963.8 L804.8,963.8 L805.1,963.8 L805.5,963.8 L805.8,963.8 L806.1,963.8 L806.5,963.8 L806.8,963.8 L807.1,963.8 L807.5,963.8 L807.8,963.8 L808.1,963.8 L808.5,963.8 L808.8,963.8 L809.1,963.8 L809.5,963.8 L809.8,963.8 L810.1,963.8 L810.5,963.8 L810.8,963.8 L811.1,963.8 L811.5,963.8 L811.8,963.8 L812.1,963.8 L812.5,963.8 L812.8,963.8 L813.1,963.8 L813.5,963.8 L813.8,963.8 L814.1,963.8 L814.5,963.8 L814.8,963.8 L815.1,963.8 L815.5,963.8 L815.8,963.8 L816.1,963.8 L816.5,963.8 L816.8,963.8 L817.1,963.8 L817.5,963.8 L817.8,963.8 L818.1,963.8 L818.5,963.8 L818.8,963.8 L819.1,963.8 L819.5,963.8 L819.8,963.8 L820.1,963.8 L820.5,963.8 L820.8,963.8 L821.1,963.8 L821.5,963.8 L821.8,963.8 L822.1,963.8 L822.5,963.8 L822.8,963.8 L823.1,963.8 L823.5,963.8 L823.8,963.8 L824.1,963.8 L824.5,963.8 L824.8,963.8 L825.1,963.8 L825.5,963.8 L825.8,963.8 L826.1,963.8 L826.5,963.8 L826.8,963.8 L827.1,963.8 L827.5,963.8 L827.8,963.8 L828.1,963.8 L828.5,963.8 L828.8,963.8 L829.1,963.8 L829.5,963.8 L829.8,963.8 L830.1,963.8 L830.5,963.8 L830.8,963.8 L831.1,963.8 L831.5,963.8 L831.8,963.8 L832.1,963.8 L832.5,963.8 L832.8,963.8 L833.1,963.8 L833.5,963.8 L833.8,963.8 L834.1,963.8 L834.5,963.8 L834.8,963.8 L835.1,963.8 L835.5,963.8 L835.8,963.8 L836.1,963.8 L836.5,963.8 L836.8,963.8 L837.1,963.8 L837.5,963.8 L837.8,963.8 L838.1,963.8 L838.5,963.7 L838.8,963.7 L839.1,963.5 L839.5,963.3 L839.8,962.9 L840.1,962.3 L840.5,961.5 L840.8,960.3 L841.1,958.7 L841.5,956.8 L841.8,954.6 L842.1,952.3 L842.5,950.0 L842.8,948.0 L843.1,946.6 L843.5,945.9 L843.8,945.9 L844.1,946.5 L844.5,947.5 L844.8,948.9 L845.1,950.6 L845.5,952.4 L845.8,954.3 L846.1,956.1 L846.5,957.7 L846.8,959.1 L847.2,960.3 L847.5,961.3 L847.8,962.0 L848.2,962.6 L848.5,963.0 L848.8,963.3 L849.2,963.5 L849.5,963.6 L849.8,963.7 L850.2,963.7 L850.5,963.8 L850.8,963.8 L851.2,963.8 L851.5,963.8 L851.8,963.8 L852.2,963.8 L852.5,963.8 L852.8,963.8 L853.2,963.8 L853.5,963.8 L853.8,963.8 L854.2,963.8 L854.5,963.8 L854.8,963.8 L855.2,963.8 L855.5,963.8 L855.8,963.8 L856.2,963.8 L856.5,963.8 L856.8,963.8 L857.2,963.8 L857.5,963.8 L857.8,963.8 L858.2,963.8 L858.5,963.8 L858.8,963.8 L859.2,963.8 L859.5,963.8 L859.8,963.8 L860.2,963.8 L860.5,963.8 L860.8,963.8 L861.2,963.8 L861.5,963.8 L861.8,963.8 L862.2,963.8 L862.5,963.8 L862.8,963.8 L863.2,963.8 L863.5,963.8 L863.8,963.8 L864.2,963.8 L864.5,963.8 L864.8,963.8 L865.2,963.8 L865.5,963.8 L865.8,963.8 L866.2,963.8 L866.5,963.8 L866.8,963.8 L867.2,963.8 L867.5,963.8 L867.8,963.8 L868.2,963.8 L868.5,963.8 L868.8,963.8 L869.2,963.8 L869.5,963.8 L869.8,963.8 L870.2,963.8 L870.5,963.8 L870.8,963.8 L871.2,963.8 L871.5,963.8 L871.8,963.8 L872.2,963.8 L872.5,963.8 L872.8,963.8 L873.2,963.8 L873.5,963.8 L873.8,963.8 L874.2,963.8 L874.5,963.8 L874.8,963.8 L875.2,963.8 L875.5,963.8 L875.8,963.8 L876.2,963.8 L876.5,963.8 L876.8,963.8 L877.2,963.8 L877.5,963.8 L877.8,963.8 L878.2,963.8 L878.5,963.8 L878.8,963.8 L879.2,963.8 L879.5,963.8 L879.8,963.8 L880.2,963.8 L880.5,963.8 L880.8,963.8 L881.2,963.8 L881.5,963.8 L881.8,963.8 L882.2,963.8 L882.5,963.8 L882.8,963.8 L883.2,963.8 L883.5,963.8 L883.8,963.8 L884.2,963.8 L884.5,963.8 L884.8,963.8 L885.2,963.8 L885.5,963.8 L885.8,963.8 L886.2,963.8 L886.5,963.8 L886.8,963.8 L887.2,963.8 L887.5,963.8 L887.8,963.8 L888.2,963.8 L888.5,963.8 L888.8,963.8 L889.2,963.8 L889.5,963.8 L889.8,963.8 L890.2,963.8 L890.5,963.8 L890.8,963.8 L891.2,963.8 L891.5,963.8 L891.8,963.8 L892.2,963.8 L892.5,963.8 L892.8,963.8 L893.2,963.8 L893.5,963.8 L893.8,963.8 L894.2,963.8 L894.5,963.8 L894.8,963.8 L895.2,963.8 L895.5,963.8 L895.8,963.7 L896.2,963.7 L896.5,963.7 L896.9,963.6 L897.2,963.6 L897.5,963.5 L897.9,963.5 L898.2,963.4 L898.5,963.3 L898.9,963.2 L899.2,963.1 L899.5,963.0 L899.9,962.9 L900.2,962.8 L900.5,962.7 L900.9,962.6 L901.2,962.5 L901.5,962.4 L901.9,962.3 L902.2,962.2 L902.5,962.2 L902.9,962.2 L903.2,962.2 L903.5,962.2 L903.9,962.3 L904.2,962.3 L904.5,962.4 L904.9,962.5 L905.2,962.5 L905.5,962.6 L905.9,962.7 L906.2,962.8 L906.5,962.9 L906.9,963.0 L907.2,963.1 L907.5,963.2 L907.9,963.2 L908.2,963.3 L908.5,963.4 L908.9,963.4 L909.2,963.5 L909.5,963.5 L909.9,963.6 L910.2,963.6 L910.5,963.7 L910.9,963.7 L911.2,963.7 L911.5,963.7 L911.9,963.7 L912.2,963.8 L912.5,963.8 L912.9,963.8 L913.2,963.8 L913.5,963.8 L913.9,963.8 L914.2,963.8 L914.5,963.8 L914.9,963.8 L915.2,963.8 L915.5,963.8 L915.9,963.8 L916.2,963.8 L916.5,963.8 L916.9,963.8 L917.2,963.8 L917.5,963.8 L917.9,963.8 L918.2,963.8 L918.5,963.8 L918.9,963.8 L919.2,963.8 L919.5,963.8 L919.9,963.8 L920.2,963.8 L920.5,963.8 L920.9,963.8 L921.2,963.8 L921.5,963.8 L921.9,963.8 L922.2,963.8 L922.5,963.8 L922.9,963.8 L923.2,963.8 L923.5,963.8 L923.9,963.8 L924.2,963.8 L924.5,963.8 L924.9,963.8 L925.2,963.8 L925.5,963.8 L925.9,963.8 L926.2,963.8 L926.5,963.8 L926.9,963.8 L927.2,963.8 L927.5,963.8 L927.9,963.8 L928.2,963.8 L928.5,963.8 L928.9,963.8 L929.2,963.8 L929.5,963.8 L929.9,963.8 L930.2,963.8 L930.5,963.8 L930.9,963.8 L931.2,963.8 L931.5,963.8 L931.9,963.8 L932.2,963.8 L932.5,963.8 L932.9,963.8 L933.2,963.8 L933.5,963.8 L933.9,963.8 L934.2,963.8 L934.5,963.8 L934.9,963.8 L935.2,963.8 L935.5,963.8 L935.9,963.8 L936.2,963.8 L936.5,963.8 L936.9,963.8 L937.2,963.8 L937.5,963.8 L937.9,963.8 L938.2,963.8 L938.5,963.8 L938.9,963.8 L939.2,963.8 L939.5,963.8 L939.9,963.8 L940.2,963.8 L940.5,963.8 L940.9,963.8 L941.2,963.8 L941.5,963.8 L941.9,963.8 L942.2,963.8 L942.5,963.8 L942.9,963.8 L943.2,963.8 L943.5,963.8 L943.9,963.8 L944.2,963.8 L944.5,963.8 L944.9,963.8 L945.2,963.8 L945.5,963.8 L945.9,963.8 L946.2,963.8 L946.6,963.8 L946.9,963.8 L947.2,963.8 L947.6,963.8 L947.9,963.8 L948.2,963.8 L948.6,963.8 L948.9,963.8 L949.2,963.8 L949.6,963.8 L949.9,963.8 L950.2,963.8 L950.6,963.8 L950.9,963.8 L951.2,963.8 L951.6,963.8 L951.9,963.8 L952.2,963.8 L952.6,963.8 L952.9,963.8 L953.2,963.8 L953.6,963.8 L953.9,963.8 L954.2,963.8 L954.6,963.8 L954.9,963.8 L955.2,963.8 L955.6,963.8 L955.9,963.8 L956.2,963.8 L956.6,963.8 L956.9,963.8 L957.2,963.8 L957.6,963.8 L957.9,963.8 L958.2,963.8 L958.6,963.8 L958.9,963.8 L959.2,963.8 L959.6,963.8 L959.9,963.8 L960.2,963.8 L960.6,963.8 L960.9,963.8 L961.2,963.8 L961.6,963.8 L961.9,963.8 L962.2,963.8 L962.6,963.8 L962.9,963.8 L963.2,963.8 L963.6,963.8 L963.9,963.8 L964.2,963.8 L964.6,963.8 L964.9,963.8 L965.2,963.8 L965.6,963.8 L965.9,963.8 L966.2,963.8 L966.6,963.8 L966.9,963.8 L967.2,963.8 L967.6,963.8 L967.9,963.8 L968.2,963.8 L968.6,963.8 L968.9,963.8 L969.2,963.8 L969.6,963.8 L969.9,963.8 L970.2,963.8 L970.6,963.8 L970.9,963.8" fill="none" stroke="#e0282e" stroke-width="1.6" stroke-linejoin="round"/>
<path d="M661.5,919.6 L661.8,919.6 L662.2,919.6 L662.5,919.6 L662.8,919.6 L663.2,919.6 L663.5,919.6 L663.8,919.6 L664.2,919.6 L664.5,919.6 L664.8,919.6 L665.2,919.6 L665.5,919.6 L665.8,919.6 L666.2,919.6 L666.5,919.6 L666.8,919.6 L667.2,919.6 L667.5,919.6 L667.8,919.6 L668.2,919.6 L668.5,919.6 L668.8,919.6 L669.2,919.6 L669.5,919.6 L669.8,919.6 L670.2,919.6 L670.5,919.6 L670.8,919.6 L671.2,919.6 L671.5,919.6 L671.8,919.6 L672.2,919.6 L672.5,919.6 L672.8,919.6 L673.2,919.6 L673.5,919.6 L673.8,919.6 L674.2,919.6 L674.5,919.6 L674.8,919.6 L675.2,919.6 L675.5,919.6 L675.8,919.6 L676.2,919.6 L676.5,919.6 L676.8,919.6 L677.2,919.6 L677.5,919.6 L677.8,919.6 L678.2,919.6 L678.5,919.6 L678.8,919.6 L679.2,919.6 L679.5,919.6 L679.8,919.6 L680.2,919.6 L680.5,919.6 L680.8,919.6 L681.2,919.6 L681.5,919.6 L681.8,919.6 L682.2,919.6 L682.5,919.6 L682.8,919.6 L683.2,919.6 L683.5,919.6 L683.9,919.6 L684.2,919.6 L684.5,919.5 L684.9,919.5 L685.2,919.3 L685.5,919.1 L685.9,918.7 L686.2,918.1 L686.5,917.2 L686.9,916.1 L687.2,914.7 L687.5,913.3 L687.9,911.9 L688.2,910.9 L688.5,910.3 L688.9,910.2 L689.2,910.6 L689.5,911.3 L689.9,912.2 L690.2,913.3 L690.5,914.4 L690.9,915.5 L691.2,916.5 L691.5,917.3 L691.9,918.0 L692.2,918.5 L692.5,918.9 L692.9,919.2 L693.2,919.3 L693.5,919.4 L693.9,919.5 L694.2,919.6 L694.5,919.6 L694.9,919.6 L695.2,919.6 L695.5,919.6 L695.9,919.6 L696.2,919.6 L696.5,919.6 L696.9,919.6 L697.2,919.6 L697.5,919.6 L697.9,919.6 L698.2,919.6 L698.5,919.6 L698.9,919.6 L699.2,919.6 L699.5,919.6 L699.9,919.6 L700.2,919.6 L700.5,919.6 L700.9,919.6 L701.2,919.6 L701.5,919.6 L701.9,919.6 L702.2,919.6 L702.5,919.6 L702.9,919.6 L703.2,919.6 L703.5,919.6 L703.9,919.6 L704.2,919.6 L704.5,919.6 L704.9,919.6 L705.2,919.6 L705.5,919.6 L705.9,919.6 L706.2,919.6 L706.5,919.6 L706.9,919.6 L707.2,919.6 L707.5,919.6 L707.9,919.6 L708.2,919.6 L708.5,919.6 L708.9,919.6 L709.2,919.6 L709.5,919.6 L709.9,919.6 L710.2,919.6 L710.5,919.6 L710.9,919.6 L711.2,919.6 L711.5,919.6 L711.9,919.6 L712.2,919.6 L712.5,919.6 L712.9,919.5 L713.2,919.5 L713.5,919.4 L713.9,919.3 L714.2,919.2 L714.5,919.0 L714.9,918.8 L715.2,918.5 L715.5,918.3 L715.9,918.1 L716.2,917.9 L716.5,917.8 L716.9,917.8 L717.2,917.8 L717.5,917.9 L717.9,918.1 L718.2,918.2 L718.5,918.4 L718.9,918.6 L719.2,918.8 L719.5,918.9 L719.9,919.1 L720.2,919.2 L720.5,919.3 L720.9,919.4 L721.2,919.5 L721.5,919.5 L721.9,919.5 L722.2,919.6 L722.5,919.6 L722.9,919.6 L723.2,919.6 L723.5,919.6 L723.9,919.6 L724.2,919.6 L724.5,919.6 L724.9,919.6 L725.2,919.6 L725.5,919.6 L725.9,919.6 L726.2,919.6 L726.5,919.6 L726.9,919.6 L727.2,919.6 L727.6,919.6 L727.9,919.6 L728.2,919.6 L728.6,919.5 L728.9,919.5 L729.2,919.4 L729.6,919.2 L729.9,918.9 L730.2,918.4 L730.6,917.8 L730.9,917.0 L731.2,916.1 L731.6,915.0 L731.9,913.9 L732.2,913.0 L732.6,912.3 L732.9,911.9 L733.2,912.0 L733.6,912.3 L733.9,912.8 L734.2,913.5 L734.6,914.3 L734.9,915.1 L735.2,915.9 L735.6,916.7 L735.9,917.4 L736.2,918.0 L736.6,918.5 L736.9,918.8 L737.2,919.1 L737.6,919.3 L737.9,919.4 L738.2,919.5 L738.6,919.5 L738.9,919.6 L739.2,919.6 L739.6,919.6 L739.9,919.6 L740.2,919.6 L740.6,919.6 L740.9,919.6 L741.2,919.6 L741.6,919.6 L741.9,919.6 L742.2,919.6 L742.6,919.6 L742.9,919.6 L743.2,919.6 L743.6,919.6 L743.9,919.6 L744.2,919.6 L744.6,919.6 L744.9,919.6 L745.2,919.6 L745.6,919.6 L745.9,919.6 L746.2,919.6 L746.6,919.6 L746.9,919.6 L747.2,919.6 L747.6,919.6 L747.9,919.6 L748.2,919.6 L748.6,919.6 L748.9,919.6 L749.2,919.6 L749.6,919.6 L749.9,919.6 L750.2,919.6 L750.6,919.6 L750.9,919.6 L751.2,919.6 L751.6,919.6 L751.9,919.6 L752.2,919.6 L752.6,919.6 L752.9,919.6 L753.2,919.6 L753.6,919.6 L753.9,919.6 L754.2,919.6 L754.6,919.6 L754.9,919.6 L755.2,919.6 L755.6,919.6 L755.9,919.6 L756.2,919.6 L756.6,919.6 L756.9,919.6 L757.2,919.6 L757.6,919.6 L757.9,919.5 L758.2,919.5 L758.6,919.3 L758.9,919.2 L759.2,918.9 L759.6,918.6 L759.9,918.1 L760.2,917.7 L760.6,917.3 L760.9,916.9 L761.2,916.7 L761.6,916.6 L761.9,916.7 L762.2,916.9 L762.6,917.2 L762.9,917.5 L763.2,917.9 L763.6,918.2 L763.9,918.5 L764.2,918.8 L764.6,919.0 L764.9,919.1 L765.2,919.2 L765.6,919.0 L765.9,918.6 L766.2,917.8 L766.6,916.2 L766.9,913.5 L767.2,909.2 L767.6,902.7 L767.9,893.5 L768.2,881.5 L768.6,867.0 L768.9,850.7 L769.2,834.2 L769.6,819.4 L769.9,808.2 L770.3,802.2 L770.6,802.2 L770.9,806.3 L771.3,813.8 L771.6,824.1 L771.9,836.3 L772.3,849.3 L772.6,862.2 L772.9,874.3 L773.3,885.0 L773.6,894.1 L773.9,901.4 L774.3,907.1 L774.6,911.2 L774.9,914.2 L775.3,916.2 L775.6,917.6 L775.9,918.4 L776.3,918.9 L776.6,919.2 L776.9,919.4 L777.3,919.4 L777.6,919.4 L777.9,919.3 L778.3,919.0 L778.6,918.6 L778.9,918.0 L779.3,917.0 L779.6,915.8 L779.9,914.1 L780.3,912.1 L780.6,909.9 L780.9,907.5 L781.3,905.3 L781.6,903.4 L781.9,902.1 L782.3,901.6 L782.6,901.8 L782.9,902.5 L783.3,903.6 L783.6,905.1 L783.9,906.8 L784.3,908.7 L784.6,910.5 L784.9,912.3 L785.3,913.9 L785.6,915.2 L785.9,916.4 L786.3,917.3 L786.6,918.0 L786.9,918.5 L787.3,918.9 L787.6,919.1 L787.9,919.3 L788.3,919.4 L788.6,919.5 L788.9,919.5 L789.3,919.6 L789.6,919.6 L789.9,919.6 L790.3,919.6 L790.6,919.6 L790.9,919.6 L791.3,919.6 L791.6,919.6 L791.9,919.6 L792.3,919.6 L792.6,919.6 L792.9,919.6 L793.3,919.6 L793.6,919.6 L793.9,919.6 L794.3,919.6 L794.6,919.6 L794.9,919.6 L795.3,919.6 L795.6,919.6 L795.9,919.6 L796.3,919.6 L796.6,919.6 L796.9,919.6 L797.3,919.6 L797.6,919.6 L797.9,919.6 L798.3,919.6 L798.6,919.6 L798.9,919.6 L799.3,919.6 L799.6,919.6 L799.9,919.6 L800.3,919.6 L800.6,919.6 L800.9,919.6 L801.3,919.6 L801.6,919.6 L801.9,919.6 L802.3,919.6 L802.6,919.6 L802.9,919.6 L803.3,919.5 L803.6,919.5 L803.9,919.5 L804.3,919.4 L804.6,919.3 L804.9,919.2 L805.3,919.1 L805.6,918.9 L805.9,918.7 L806.3,918.6 L806.6,918.4 L806.9,918.2 L807.3,918.1 L807.6,918.0 L807.9,918.0 L808.3,918.0 L808.6,918.1 L808.9,918.2 L809.3,918.3 L809.6,918.4 L809.9,918.5 L810.3,918.7 L810.6,918.8 L810.9,919.0 L811.3,919.1 L811.6,919.2 L811.9,919.3 L812.3,919.4 L812.6,919.4 L812.9,919.5 L813.3,919.5 L813.6,919.5 L814.0,919.6 L814.3,919.6 L814.6,919.6 L815.0,919.6 L815.3,919.6 L815.6,919.6 L816.0,919.6 L816.3,919.6 L816.6,919.6 L817.0,919.6 L817.3,919.6 L817.6,919.6 L818.0,919.6 L818.3,919.6 L818.6,919.6 L819.0,919.6 L819.3,919.6 L819.6,919.6 L820.0,919.6 L820.3,919.6 L820.6,919.6 L821.0,919.6 L821.3,919.6 L821.6,919.6 L822.0,919.6 L822.3,919.6 L822.6,919.6 L823.0,919.6 L823.3,919.6 L823.6,919.6 L824.0,919.6 L824.3,919.6 L824.6,919.6 L825.0,919.6 L825.3,919.6 L825.6,919.6 L826.0,919.6 L826.3,919.6 L826.6,919.6 L827.0,919.6 L827.3,919.6 L827.6,919.6 L828.0,919.6 L828.3,919.6 L828.6,919.6 L829.0,919.6 L829.3,919.6 L829.6,919.6 L830.0,919.6 L830.3,919.6 L830.6,919.6 L831.0,919.6 L831.3,919.6 L831.6,919.6 L832.0,919.6 L832.3,919.6 L832.6,919.6 L833.0,919.6 L833.3,919.6 L833.6,919.6 L834.0,919.6 L834.3,919.6 L834.6,919.6 L835.0,919.6 L835.3,919.6 L835.6,919.6 L836.0,919.6 L836.3,919.6 L836.6,919.6 L837.0,919.6 L837.3,919.6 L837.6,919.6 L838.0,919.6 L838.3,919.6 L838.6,919.6 L839.0,919.6 L839.3,919.6 L839.6,919.6 L840.0,919.6 L840.3,919.6 L840.6,919.6 L841.0,919.6 L841.3,919.6 L841.6,919.6 L842.0,919.6 L842.3,919.6 L842.6,919.6 L843.0,919.6 L843.3,919.6 L843.6,919.6 L844.0,919.6 L844.3,919.6 L844.6,919.6 L845.0,919.6 L845.3,919.6 L845.6,919.6 L846.0,919.6 L846.3,919.6 L846.6,919.6 L847.0,919.6 L847.3,919.5 L847.6,919.5 L848.0,919.5 L848.3,919.4 L848.6,919.3 L849.0,919.2 L849.3,919.1 L849.6,919.0 L850.0,918.9 L850.3,918.9 L850.6,918.8 L851.0,918.8 L851.3,918.8 L851.6,918.8 L852.0,918.9 L852.3,918.9 L852.6,919.0 L853.0,919.1 L853.3,919.2 L853.6,919.2 L854.0,919.3 L854.3,919.4 L854.6,919.4 L855.0,919.5 L855.3,919.5 L855.6,919.5 L856.0,919.6 L856.3,919.6 L856.6,919.6 L857.0,919.6 L857.3,919.6 L857.7,919.6 L858.0,919.6 L858.3,919.6 L858.7,919.6 L859.0,919.6 L859.3,919.6 L859.7,919.6 L860.0,919.6 L860.3,919.6 L860.7,919.6 L861.0,919.6 L861.3,919.6 L861.7,919.6 L862.0,919.6 L862.3,919.6 L862.7,919.6 L863.0,919.6 L863.3,919.6 L863.7,919.6 L864.0,919.6 L864.3,919.6 L864.7,919.6 L865.0,919.6 L865.3,919.6 L865.7,919.6 L866.0,919.6 L866.3,919.6 L866.7,919.6 L867.0,919.6 L867.3,919.6 L867.7,919.6 L868.0,919.6 L868.3,919.6 L868.7,919.6 L869.0,919.6 L869.3,919.6 L869.7,919.6 L870.0,919.6 L870.3,919.6 L870.7,919.6 L871.0,919.6 L871.3,919.6 L871.7,919.6 L872.0,919.6 L872.3,919.6 L872.7,919.6 L873.0,919.6 L873.3,919.6 L873.7,919.6 L874.0,919.6 L874.3,919.6 L874.7,919.6 L875.0,919.6 L875.3,919.6 L875.7,919.6 L876.0,919.6 L876.3,919.6 L876.7,919.5 L877.0,919.4 L877.3,919.3 L877.7,919.0 L878.0,918.6 L878.3,918.0 L878.7,917.1 L879.0,916.0 L879.3,914.5 L879.7,912.9 L880.0,911.1 L880.3,909.4 L880.7,907.8 L881.0,906.7 L881.3,906.1 L881.7,906.1 L882.0,906.4 L882.3,907.2 L882.7,908.2 L883.0,909.5 L883.3,910.8 L883.7,912.2 L884.0,913.6 L884.3,914.8 L884.7,915.9 L885.0,916.9 L885.3,917.6 L885.7,918.2 L886.0,918.6 L886.3,919.0 L886.7,919.2 L887.0,919.3 L887.3,919.4 L887.7,919.5 L888.0,919.5 L888.3,919.6 L888.7,919.6 L889.0,919.6 L889.3,919.6 L889.7,919.6 L890.0,919.6 L890.3,919.6 L890.7,919.6 L891.0,919.6 L891.3,919.6 L891.7,919.6 L892.0,919.6 L892.3,919.6 L892.7,919.6 L893.0,919.6 L893.3,919.6 L893.7,919.6 L894.0,919.6 L894.3,919.6 L894.7,919.6 L895.0,919.6 L895.3,919.6 L895.7,919.6 L896.0,919.6 L896.3,919.6 L896.7,919.6 L897.0,919.6 L897.3,919.6 L897.7,919.6 L898.0,919.6 L898.3,919.6 L898.7,919.6 L899.0,919.6 L899.3,919.6 L899.7,919.6 L900.0,919.6 L900.3,919.6 L900.7,919.6 L901.0,919.6 L901.4,919.6 L901.7,919.6 L902.0,919.6 L902.4,919.6 L902.7,919.6 L903.0,919.6 L903.4,919.6 L903.7,919.6 L904.0,919.6 L904.4,919.6 L904.7,919.6 L905.0,919.6 L905.4,919.6 L905.7,919.6 L906.0,919.6 L906.4,919.6 L906.7,919.6 L907.0,919.6 L907.4,919.6 L907.7,919.6 L908.0,919.6 L908.4,919.6 L908.7,919.6 L909.0,919.6 L909.4,919.6 L909.7,919.6 L910.0,919.6 L910.4,919.6 L910.7,919.6 L911.0,919.6 L911.4,919.6 L911.7,919.6 L912.0,919.6 L912.4,919.6 L912.7,919.6 L913.0,919.6 L913.4,919.6 L913.7,919.6 L914.0,919.6 L914.4,919.6 L914.7,919.6 L915.0,919.6 L915.4,919.6 L915.7,919.6 L916.0,919.6 L916.4,919.6 L916.7,919.6 L917.0,919.6 L917.4,919.6 L917.7,919.6 L918.0,919.6 L918.4,919.6 L918.7,919.6 L919.0,919.6 L919.4,919.6 L919.7,919.6 L920.0,919.6 L920.4,919.6 L920.7,919.6 L921.0,919.6 L921.4,919.6 L921.7,919.6 L922.0,919.6 L922.4,919.6 L922.7,919.6 L923.0,919.6 L923.4,919.6 L923.7,919.6 L924.0,919.6 L924.4,919.6 L924.7,919.6 L925.0,919.6 L925.4,919.6 L925.7,919.6 L926.0,919.6 L926.4,919.6 L926.7,919.6 L927.0,919.6 L927.4,919.6 L927.7,919.6 L928.0,919.6 L928.4,919.6 L928.7,919.6 L929.0,919.6 L929.4,919.6 L929.7,919.6 L930.0,919.6 L930.4,919.6 L930.7,919.6 L931.0,919.6 L931.4,919.6 L931.7,919.6 L932.0,919.6 L932.4,919.6 L932.7,919.6 L933.0,919.6 L933.4,919.6 L933.7,919.6 L934.0,919.6 L934.4,919.6 L934.7,919.6 L935.0,919.6 L935.4,919.6 L935.7,919.5 L936.0,919.5 L936.4,919.4 L936.7,919.1 L937.0,918.8 L937.4,918.2 L937.7,917.4 L938.0,916.2 L938.4,914.5 L938.7,912.3 L939.0,909.5 L939.4,906.2 L939.7,902.6 L940.0,898.8 L940.4,895.3 L940.7,892.3 L941.0,890.1 L941.4,889.1 L941.7,889.2 L942.0,890.0 L942.4,891.6 L942.7,893.7 L943.0,896.3 L943.4,899.1 L943.7,902.1 L944.1,905.0 L944.4,907.7 L944.7,910.1 L945.1,912.3 L945.4,914.1 L945.7,915.5 L946.1,916.7 L946.4,917.6 L946.7,918.2 L947.1,918.7 L947.4,919.0 L947.7,919.2 L948.1,919.4 L948.4,919.5 L948.7,919.5 L949.1,919.6 L949.4,919.6 L949.7,919.6 L950.1,919.6 L950.4,919.6 L950.7,919.6 L951.1,919.6 L951.4,919.6 L951.7,919.6 L952.1,919.6 L952.4,919.6 L952.7,919.6 L953.1,919.6 L953.4,919.6 L953.7,919.6 L954.1,919.6 L954.4,919.6 L954.7,919.6 L955.1,919.6 L955.4,919.6 L955.7,919.6 L956.1,919.6 L956.4,919.6 L956.7,919.6 L957.1,919.6 L957.4,919.6 L957.7,919.6 L958.1,919.6 L958.4,919.6 L958.7,919.6 L959.1,919.6 L959.4,919.6 L959.7,919.6 L960.1,919.6 L960.4,919.6 L960.7,919.6 L961.1,919.6 L961.4,919.6 L961.7,919.6 L962.1,919.6 L962.4,919.6 L962.7,919.6 L963.1,919.6 L963.4,919.6 L963.7,919.6 L964.1,919.6 L964.4,919.6 L964.7,919.6 L965.1,919.6 L965.4,919.6 L965.7,919.6 L966.1,919.6 L966.4,919.6 L966.7,919.6 L967.1,919.6 L967.4,919.6 L967.7,919.6 L968.1,919.6 L968.4,919.6 L968.7,919.6 L969.1,919.6 L969.4,919.6 L969.7,919.6 L970.1,919.6 L970.4,919.6 L970.7,919.6 L971.1,919.6 L971.4,919.6 L971.7,919.6 L972.1,919.6 L972.4,919.6 L972.7,919.6 L973.1,919.6 L973.4,919.6 L973.7,919.6 L974.1,919.6 L974.4,919.6 L974.7,919.6 L975.1,919.6 L975.4,919.6 L975.7,919.6 L976.1,919.6 L976.4,919.6 L976.7,919.6 L977.1,919.6 L977.4,919.6 L977.7,919.6 L978.1,919.6 L978.4,919.6 L978.7,919.6 L979.1,919.6 L979.4,919.6 L979.7,919.6 L980.1,919.6 L980.4,919.6 L980.7,919.6 L981.1,919.6 L981.4,919.6 L981.7,919.6 L982.1,919.6 L982.4,919.6 L982.7,919.6 L983.1,919.6 L983.4,919.6 L983.7,919.6 L984.1,919.6 L984.4,919.6 L984.7,919.6 L985.1,919.6 L985.4,919.6 L985.7,919.6 L986.1,919.6 L986.4,919.6 L986.7,919.6 L987.1,919.6 L987.4,919.6 L987.8,919.6 L988.1,919.6 L988.4,919.6 L988.8,919.6 L989.1,919.6 L989.4,919.6 L989.8,919.6 L990.1,919.6 L990.4,919.6 L990.8,919.6 L991.1,919.6 L991.4,919.6 L991.8,919.6 L992.1,919.6 L992.4,919.6 L992.8,919.6 L993.1,919.6 L993.4,919.6 L993.8,919.6 L994.1,919.6 L994.4,919.6 L994.8,919.6 L995.1,919.6 L995.4,919.6 L995.8,919.6 L996.1,919.6 L996.4,919.6 L996.8,919.6 L997.1,919.6 L997.4,919.6 L997.8,919.6 L998.1,919.6 L998.4,919.6 L998.8,919.6 L999.1,919.6 L999.4,919.6 L999.8,919.6 L1000.1,919.6 L1000.4,919.6 L1000.8,919.6 L1001.1,919.6 L1001.4,919.6 L1001.8,919.6 L1002.1,919.6 L1002.4,919.6 L1002.8,919.6 L1003.1,919.6 L1003.4,919.6 L1003.8,919.6 L1004.1,919.6 L1004.4,919.6 L1004.8,919.6 L1005.1,919.6 L1005.4,919.6 L1005.8,919.6 L1006.1,919.6 L1006.4,919.6 L1006.8,919.6 L1007.1,919.6 L1007.4,919.6 L1007.8,919.6 L1008.1,919.6 L1008.4,919.6 L1008.8,919.6 L1009.1,919.6" fill="none" stroke="#3596cf" stroke-width="1.6" stroke-linejoin="round"/>
<path d="M697.7,876.2 L698.0,876.2 L698.4,876.2 L698.7,876.2 L699.0,876.2 L699.4,876.2 L699.7,876.2 L700.0,876.2 L700.4,876.2 L700.7,876.2 L701.0,876.2 L701.4,876.2 L701.7,876.2 L702.0,876.2 L702.4,876.2 L702.7,876.2 L703.0,876.2 L703.4,876.2 L703.7,876.2 L704.0,876.2 L704.4,876.2 L704.7,876.2 L705.0,876.2 L705.4,876.2 L705.7,876.2 L706.0,876.2 L706.4,876.2 L706.7,876.2 L707.0,876.2 L707.4,876.2 L707.7,876.2 L708.0,876.2 L708.4,876.2 L708.7,876.2 L709.0,876.2 L709.4,876.2 L709.7,876.2 L710.0,876.2 L710.4,876.2 L710.7,876.2 L711.0,876.2 L711.4,876.2 L711.7,876.2 L712.0,876.2 L712.4,876.2 L712.7,876.2 L713.0,876.2 L713.4,876.2 L713.7,876.2 L714.0,876.2 L714.4,876.2 L714.7,876.2 L715.0,876.2 L715.4,876.2 L715.7,876.2 L716.0,876.2 L716.4,876.2 L716.7,876.2 L717.0,876.2 L717.4,876.2 L717.7,876.2 L718.0,876.2 L718.4,876.2 L718.7,876.2 L719.0,876.2 L719.4,876.2 L719.7,876.2 L720.0,876.2 L720.4,876.2 L720.7,876.2 L721.0,876.1 L721.4,876.0 L721.7,875.9 L722.0,875.6 L722.4,875.3 L722.7,874.7 L723.0,874.0 L723.4,873.1 L723.7,872.1 L724.0,871.0 L724.4,870.0 L724.7,869.1 L725.0,868.6 L725.4,868.5 L725.7,868.7 L726.0,869.1 L726.4,869.7 L726.7,870.5 L727.0,871.3 L727.4,872.2 L727.7,873.0 L728.0,873.7 L728.4,874.3 L728.7,874.9 L729.0,875.3 L729.4,875.6 L729.7,875.8 L730.0,875.9 L730.4,876.0 L730.7,876.1 L731.0,876.1 L731.4,876.2 L731.7,876.2 L732.0,876.2 L732.4,876.2 L732.7,876.2 L733.0,876.2 L733.4,876.2 L733.7,876.2 L734.0,876.2 L734.4,876.2 L734.7,876.2 L735.0,876.2 L735.4,876.2 L735.7,876.2 L736.0,876.2 L736.4,876.2 L736.7,876.2 L737.0,876.2 L737.4,876.2 L737.7,876.2 L738.0,876.2 L738.4,876.2 L738.7,876.2 L739.0,876.2 L739.4,876.2 L739.7,876.2 L740.0,876.2 L740.4,876.2 L740.7,876.2 L741.0,876.2 L741.4,876.2 L741.7,876.2 L742.0,876.2 L742.4,876.2 L742.7,876.2 L743.0,876.2 L743.4,876.2 L743.7,876.2 L744.0,876.2 L744.4,876.2 L744.7,876.2 L745.0,876.2 L745.4,876.2 L745.7,876.2 L746.0,876.2 L746.4,876.2 L746.7,876.2 L747.0,876.2 L747.4,876.2 L747.7,876.2 L748.0,876.2 L748.4,876.2 L748.7,876.2 L749.0,876.2 L749.4,876.2 L749.7,876.2 L750.0,876.2 L750.4,876.2 L750.7,876.2 L751.0,876.2 L751.4,876.2 L751.7,876.2 L752.0,876.2 L752.4,876.2 L752.7,876.2 L753.0,876.2 L753.4,876.2 L753.7,876.2 L754.0,876.2 L754.4,876.2 L754.7,876.2 L755.0,876.2 L755.4,876.2 L755.7,876.2 L756.0,876.2 L756.4,876.2 L756.7,876.2 L757.0,876.2 L757.4,876.2 L757.7,876.2 L758.0,876.2 L758.4,876.2 L758.7,876.2 L759.0,876.2 L759.4,876.2 L759.7,876.2 L760.0,876.2 L760.4,876.2 L760.7,876.2 L761.0,876.2 L761.4,876.2 L761.7,876.2 L762.0,876.2 L762.4,876.2 L762.7,876.2 L763.0,876.2 L763.4,876.2 L763.7,876.2 L764.0,876.2 L764.4,876.2 L764.7,876.2 L765.0,876.2 L765.4,876.2 L765.7,876.2 L766.0,876.2 L766.4,876.2 L766.7,876.2 L767.0,876.2 L767.4,876.2 L767.7,876.2 L768.0,876.2 L768.4,876.2 L768.7,876.2 L769.0,876.2 L769.4,876.2 L769.7,876.2 L770.0,876.2 L770.4,876.2 L770.7,876.2 L771.0,876.2 L771.4,876.2 L771.7,876.2 L772.0,876.2 L772.4,876.2 L772.7,876.2 L773.0,876.2 L773.4,876.2 L773.7,876.2 L774.0,876.2 L774.4,876.2 L774.7,876.2 L775.0,876.2 L775.4,876.2 L775.7,876.2 L776.0,876.2 L776.4,876.2 L776.7,876.2 L777.0,876.2 L777.4,876.2 L777.7,876.2 L778.0,876.2 L778.4,876.2 L778.7,876.2 L779.0,876.2 L779.4,876.2 L779.7,876.2 L780.0,876.2 L780.4,876.2 L780.7,876.2 L781.0,876.2 L781.4,876.2 L781.7,876.2 L782.0,876.2 L782.4,876.2 L782.7,876.2 L783.0,876.2 L783.4,876.2 L783.7,876.2 L784.0,876.2 L784.4,876.2 L784.7,876.2 L785.0,876.2 L785.4,876.2 L785.7,876.2 L786.0,876.2 L786.4,876.2 L786.7,876.2 L787.0,876.2 L787.4,876.2 L787.7,876.2 L788.0,876.2 L788.4,876.2 L788.7,876.2 L789.0,876.2 L789.4,876.2 L789.7,876.2 L790.0,876.2 L790.4,876.2 L790.7,876.2 L791.0,876.2 L791.4,876.2 L791.7,876.2 L792.0,876.2 L792.4,876.2 L792.7,876.2 L793.0,876.2 L793.4,876.2 L793.7,876.2 L794.0,876.2 L794.4,876.2 L794.7,876.2 L795.0,876.2 L795.4,876.2 L795.7,876.2 L796.0,876.2 L796.4,876.2 L796.7,876.2 L797.0,876.2 L797.4,876.2 L797.7,876.2 L798.0,876.2 L798.4,876.2 L798.7,876.2 L799.0,876.2 L799.4,876.2 L799.7,876.2 L800.0,876.2 L800.4,876.2 L800.7,876.1 L801.0,876.1 L801.4,875.9 L801.7,875.6 L802.0,874.9 L802.4,873.6 L802.7,871.5 L803.0,867.9 L803.4,862.4 L803.7,854.3 L804.0,843.1 L804.4,828.7 L804.7,811.4 L805.0,792.1 L805.4,772.5 L805.7,754.5 L806.0,740.5 L806.4,732.2 L806.7,730.8 L807.0,734.6 L807.4,742.4 L807.7,753.7 L808.0,767.4 L808.4,782.6 L808.7,798.2 L809.0,813.1 L809.4,826.7 L809.7,838.6 L810.0,848.5 L810.4,856.4 L810.7,862.5 L811.0,867.0 L811.4,870.2 L811.7,872.4 L812.0,873.9 L812.4,874.8 L812.7,875.4 L813.0,875.7 L813.4,875.9 L813.7,876.0 L814.0,876.0 L814.4,876.0 L814.7,875.9 L815.0,875.7 L815.4,875.5 L815.7,875.2 L816.0,874.9 L816.4,874.5 L816.7,874.0 L817.0,873.5 L817.4,873.0 L817.7,872.6 L818.0,872.3 L818.4,872.2 L818.7,872.2 L819.0,872.3 L819.4,872.5 L819.7,872.8 L820.0,873.1 L820.4,873.5 L820.7,873.9 L821.0,874.3 L821.4,874.6 L821.7,875.0 L822.0,875.2 L822.4,875.5 L822.7,875.7 L823.0,875.8 L823.4,875.9 L823.7,876.0 L824.0,876.1 L824.4,876.1 L824.7,876.1 L825.0,876.2 L825.4,876.2 L825.7,876.2 L826.0,876.2 L826.4,876.2 L826.7,876.2 L827.0,876.2 L827.4,876.2 L827.7,876.2 L828.0,876.2 L828.4,876.2 L828.7,876.2 L829.0,876.2 L829.4,876.2 L829.7,876.2 L830.0,876.2 L830.4,876.2 L830.7,876.2 L831.0,876.2 L831.4,876.2 L831.7,876.2 L832.0,876.2 L832.4,876.2 L832.7,876.2 L833.0,876.2 L833.4,876.2 L833.7,876.2 L834.0,876.2 L834.4,876.2 L834.7,876.2 L835.0,876.2 L835.4,876.2 L835.7,876.2 L836.0,876.2 L836.4,876.2 L836.7,876.2 L837.0,876.2 L837.4,876.2 L837.7,876.2 L838.0,876.2 L838.4,876.2 L838.7,876.2 L839.0,876.2 L839.4,876.2 L839.7,876.2 L840.0,876.1 L840.4,876.1 L840.7,876.0 L841.0,876.0 L841.4,875.9 L841.7,875.7 L842.0,875.6 L842.4,875.5 L842.7,875.3 L843.0,875.2 L843.4,875.1 L843.7,875.0 L844.0,875.0 L844.4,875.0 L844.7,875.1 L845.0,875.1 L845.4,875.2 L845.7,875.3 L846.0,875.5 L846.4,875.6 L846.7,875.7 L847.0,875.8 L847.4,875.9 L847.7,875.9 L848.0,876.0 L848.4,876.1 L848.7,876.1 L849.0,876.1 L849.4,876.2 L849.7,876.2 L850.0,876.2 L850.4,876.2 L850.7,876.2 L851.0,876.2 L851.4,876.2 L851.7,876.2 L852.0,876.2 L852.4,876.2 L852.7,876.2 L853.0,876.2 L853.4,876.2 L853.7,876.2 L854.0,876.2 L854.4,876.2 L854.7,876.2 L855.0,876.2 L855.4,876.2 L855.7,876.2 L856.0,876.2 L856.4,876.2 L856.7,876.2 L857.0,876.2 L857.4,876.2 L857.7,876.2 L858.0,876.2 L858.4,876.2 L858.7,876.2 L859.0,876.2 L859.4,876.2 L859.7,876.2 L860.0,876.2 L860.4,876.2 L860.7,876.2 L861.0,876.2 L861.4,876.2 L861.7,876.2 L862.0,876.2 L862.4,876.2 L862.7,876.2 L863.0,876.2 L863.4,876.2 L863.7,876.2 L864.0,876.2 L864.4,876.2 L864.7,876.2 L865.0,876.2 L865.4,876.2 L865.7,876.2 L866.0,876.2 L866.4,876.2 L866.7,876.2 L867.0,876.2 L867.4,876.2 L867.7,876.2 L868.0,876.2 L868.4,876.2 L868.7,876.2 L869.0,876.2 L869.4,876.2 L869.7,876.2 L870.0,876.2 L870.4,876.2 L870.7,876.2 L871.0,876.2 L871.4,876.2 L871.7,876.2 L872.0,876.2 L872.4,876.2 L872.7,876.2 L873.1,876.2 L873.4,876.2 L873.7,876.2 L874.1,876.2 L874.4,876.2 L874.7,876.2 L875.1,876.2 L875.4,876.2 L875.7,876.2 L876.1,876.2 L876.4,876.2 L876.7,876.2 L877.1,876.2 L877.4,876.2 L877.7,876.2 L878.1,876.2 L878.4,876.2 L878.7,876.2 L879.1,876.2 L879.4,876.2 L879.7,876.2 L880.1,876.2 L880.4,876.2 L880.7,876.2 L881.1,876.2 L881.4,876.2 L881.7,876.2 L882.1,876.2 L882.4,876.2 L882.7,876.2 L883.1,876.2 L883.4,876.2 L883.7,876.2 L884.1,876.2 L884.4,876.2 L884.7,876.2 L885.1,876.2 L885.4,876.2 L885.7,876.2 L886.1,876.2 L886.4,876.2 L886.7,876.2 L887.1,876.2 L887.4,876.2 L887.7,876.2 L888.1,876.2 L888.4,876.2 L888.7,876.2 L889.1,876.2 L889.4,876.2 L889.7,876.2 L890.1,876.2 L890.4,876.2 L890.7,876.2 L891.1,876.2 L891.4,876.2 L891.7,876.2 L892.1,876.2 L892.4,876.2 L892.7,876.2 L893.1,876.2 L893.4,876.2 L893.7,876.2 L894.1,876.2 L894.4,876.2 L894.7,876.2 L895.1,876.2 L895.4,876.2 L895.7,876.2 L896.1,876.2 L896.4,876.2 L896.7,876.2 L897.1,876.2 L897.4,876.2 L897.7,876.2 L898.1,876.2 L898.4,876.2 L898.7,876.2 L899.1,876.2 L899.4,876.2 L899.7,876.2 L900.1,876.2 L900.4,876.2 L900.7,876.2 L901.1,876.2 L901.4,876.2 L901.7,876.2 L902.1,876.2 L902.4,876.2 L902.7,876.2 L903.1,876.2 L903.4,876.2 L903.7,876.2 L904.1,876.2 L904.4,876.2 L904.7,876.2 L905.1,876.2 L905.4,876.2 L905.7,876.2 L906.1,876.2 L906.4,876.2 L906.7,876.2 L907.1,876.2 L907.4,876.2 L907.7,876.2 L908.1,876.2 L908.4,876.2 L908.7,876.2 L909.1,876.2 L909.4,876.2 L909.7,876.2 L910.1,876.2 L910.4,876.2 L910.7,876.2 L911.1,876.2 L911.4,876.2 L911.7,876.2 L912.1,876.2 L912.4,876.2 L912.7,876.2 L913.1,876.2 L913.4,876.1 L913.7,876.0 L914.1,875.9 L914.4,875.8 L914.7,875.5 L915.1,875.2 L915.4,874.8 L915.7,874.3 L916.1,873.8 L916.4,873.2 L916.7,872.7 L917.1,872.3 L917.4,872.0 L917.7,871.9 L918.1,872.0 L918.4,872.2 L918.7,872.4 L919.1,872.8 L919.4,873.2 L919.7,873.7 L920.1,874.1 L920.4,874.5 L920.7,874.9 L921.1,875.2 L921.4,875.5 L921.7,875.7 L922.1,875.8 L922.4,876.0 L922.7,876.0 L923.1,876.1 L923.4,876.1 L923.7,876.2 L924.1,876.2 L924.4,876.2 L924.7,876.2 L925.1,876.2 L925.4,876.2 L925.7,876.2 L926.1,876.2 L926.4,876.2 L926.7,876.2 L927.1,876.2 L927.4,876.2 L927.7,876.2 L928.1,876.2 L928.4,876.2 L928.7,876.2 L929.1,876.2 L929.4,876.2 L929.7,876.2 L930.1,876.2 L930.4,876.2 L930.7,876.2 L931.1,876.2 L931.4,876.2 L931.7,876.2 L932.1,876.2 L932.4,876.2 L932.7,876.2 L933.1,876.2 L933.4,876.2 L933.7,876.2 L934.1,876.2 L934.4,876.2 L934.7,876.2 L935.1,876.2 L935.4,876.2 L935.7,876.2 L936.1,876.2 L936.4,876.2 L936.7,876.2 L937.1,876.2 L937.4,876.2 L937.7,876.2 L938.1,876.2 L938.4,876.2 L938.7,876.2 L939.1,876.2 L939.4,876.2 L939.7,876.2 L940.1,876.2 L940.4,876.2 L940.7,876.2 L941.1,876.2 L941.4,876.2 L941.7,876.2 L942.1,876.2 L942.4,876.2 L942.7,876.2 L943.1,876.2 L943.4,876.2 L943.7,876.2 L944.1,876.2 L944.4,876.2 L944.7,876.2 L945.1,876.2 L945.4,876.2 L945.7,876.2 L946.1,876.2 L946.4,876.2 L946.7,876.2 L947.1,876.2 L947.4,876.2 L947.7,876.2 L948.1,876.2 L948.4,876.2 L948.7,876.2 L949.1,876.2 L949.4,876.2 L949.7,876.2 L950.1,876.2 L950.4,876.2 L950.7,876.2 L951.1,876.2 L951.4,876.2 L951.7,876.2 L952.1,876.2 L952.4,876.2 L952.7,876.2 L953.1,876.2 L953.4,876.2 L953.7,876.2 L954.1,876.2 L954.4,876.2 L954.7,876.2 L955.1,876.2 L955.4,876.2 L955.7,876.2 L956.1,876.2 L956.4,876.2 L956.7,876.2 L957.1,876.2 L957.4,876.2 L957.7,876.2 L958.1,876.2 L958.4,876.2 L958.7,876.2 L959.1,876.2 L959.4,876.2 L959.7,876.2 L960.1,876.2 L960.4,876.2 L960.7,876.2 L961.1,876.2 L961.4,876.2 L961.7,876.2 L962.1,876.2 L962.4,876.2 L962.7,876.2 L963.1,876.2 L963.4,876.2 L963.7,876.2 L964.1,876.2 L964.4,876.2 L964.7,876.2 L965.1,876.2 L965.4,876.2 L965.7,876.2 L966.1,876.2 L966.4,876.2 L966.7,876.2 L967.1,876.2 L967.4,876.2 L967.7,876.2 L968.1,876.2 L968.4,876.2 L968.7,876.2 L969.1,876.2 L969.4,876.2 L969.7,876.2 L970.1,876.2 L970.4,876.2 L970.7,876.2 L971.1,876.2 L971.4,876.2 L971.7,876.1 L972.1,876.1 L972.4,875.9 L972.7,875.6 L973.1,875.0 L973.4,874.0 L973.7,872.2 L974.1,869.4 L974.4,865.1 L974.7,859.0 L975.1,850.7 L975.4,840.1 L975.7,827.4 L976.1,813.2 L976.4,798.8 L976.7,785.3 L977.1,774.4 L977.4,767.4 L977.7,765.2 L978.1,767.1 L978.4,771.9 L978.7,779.4 L979.1,789.0 L979.4,799.8 L979.7,811.2 L980.1,822.4 L980.4,833.0 L980.7,842.5 L981.1,850.7 L981.4,857.4 L981.7,862.8 L982.1,866.9 L982.4,869.9 L982.7,872.1 L983.1,873.6 L983.4,874.6 L983.7,875.2 L984.1,875.6 L984.4,875.9 L984.7,876.0 L985.1,876.1 L985.4,876.1 L985.7,876.2 L986.1,876.2 L986.4,876.2 L986.7,876.2 L987.1,876.2 L987.4,876.2 L987.7,876.2 L988.1,876.2 L988.4,876.2 L988.7,876.2 L989.1,876.2 L989.4,876.2 L989.7,876.2 L990.1,876.2 L990.4,876.2 L990.7,876.2 L991.1,876.2 L991.4,876.2 L991.7,876.2 L992.1,876.2 L992.4,876.2 L992.7,876.2 L993.1,876.2 L993.4,876.2 L993.7,876.2 L994.1,876.2 L994.4,876.2 L994.7,876.2 L995.1,876.2 L995.4,876.2 L995.7,876.2 L996.1,876.2 L996.4,876.2 L996.7,876.2 L997.1,876.2 L997.4,876.2 L997.7,876.2 L998.1,876.2 L998.4,876.2 L998.7,876.2 L999.1,876.2 L999.4,876.2 L999.7,876.2 L1000.1,876.2 L1000.4,876.2 L1000.7,876.2 L1001.1,876.2 L1001.4,876.2 L1001.7,876.2 L1002.1,876.2 L1002.4,876.2 L1002.7,876.2 L1003.1,876.2 L1003.4,876.2 L1003.7,876.2 L1004.1,876.2 L1004.4,876.2 L1004.7,876.2 L1005.1,876.2 L1005.4,876.2 L1005.7,876.2 L1006.1,876.2 L1006.4,876.2 L1006.7,876.2 L1007.1,876.2 L1007.4,876.2 L1007.7,876.2 L1008.1,876.2 L1008.4,876.2 L1008.7,876.2 L1009.1,876.2 L1009.4,876.2 L1009.7,876.2 L1010.1,876.2 L1010.4,876.2 L1010.7,876.2 L1011.1,876.2 L1011.4,876.2 L1011.7,876.2 L1012.1,876.2 L1012.4,876.2 L1012.7,876.2 L1013.1,876.2 L1013.4,876.2 L1013.7,876.2 L1014.1,876.2 L1014.4,876.2 L1014.7,876.2 L1015.1,876.2 L1015.4,876.2 L1015.7,876.2 L1016.1,876.2 L1016.4,876.2 L1016.7,876.2 L1017.1,876.2 L1017.4,876.2 L1017.7,876.2 L1018.1,876.2 L1018.4,876.2 L1018.7,876.2 L1019.1,876.2 L1019.4,876.2 L1019.7,876.2 L1020.1,876.2 L1020.4,876.2 L1020.7,876.2 L1021.1,876.2 L1021.4,876.2 L1021.7,876.2 L1022.1,876.2 L1022.4,876.2 L1022.7,876.2 L1023.1,876.2 L1023.4,876.2 L1023.7,876.2 L1024.1,876.2 L1024.4,876.2 L1024.7,876.2 L1025.1,876.2 L1025.4,876.2 L1025.7,876.2 L1026.1,876.2 L1026.4,876.2 L1026.7,876.2 L1027.1,876.2 L1027.4,876.2 L1027.7,876.2 L1028.1,876.2 L1028.4,876.2 L1028.7,876.2 L1029.1,876.2 L1029.4,876.2 L1029.7,876.2 L1030.1,876.2 L1030.4,876.2 L1030.7,876.2 L1031.1,876.2 L1031.4,876.2 L1031.7,876.2 L1032.1,876.2 L1032.4,876.2 L1032.7,876.2 L1033.1,876.2 L1033.4,876.2 L1033.7,876.2 L1034.1,876.2 L1034.4,876.2 L1034.7,876.2 L1035.1,876.2 L1035.4,876.2 L1035.7,876.2 L1036.1,876.2 L1036.4,876.2 L1036.7,876.2 L1037.1,876.2 L1037.4,876.2 L1037.7,876.2 L1038.1,876.2 L1038.4,876.2 L1038.7,876.2 L1039.1,876.2 L1039.4,876.2 L1039.7,876.2 L1040.1,876.2 L1040.4,876.2 L1040.7,876.2 L1041.1,876.2 L1041.4,876.2 L1041.7,876.2 L1042.1,876.2 L1042.4,876.2 L1042.7,876.2 L1043.1,876.2 L1043.4,876.2 L1043.7,876.2 L1044.1,876.2 L1044.4,876.2 L1044.7,876.2 L1045.1,876.2 L1045.4,876.2 L1045.7,876.2 L1046.1,876.2 L1046.4,876.2 L1046.7,876.2 L1047.1,876.2 L1047.4,876.2" fill="none" stroke="#f6c21c" stroke-width="1.6" stroke-linejoin="round"/>
<text x="980.6" y="970.8" font-size="15.5" font-weight="bold" text-anchor="start" fill="#111" >DN-1</text>
<text x="1017.7" y="928.2" font-size="15.5" font-weight="bold" text-anchor="start" fill="#111" >DN-7</text>
<text x="1058.0" y="881.3" font-size="14.3" font-weight="bold" text-anchor="start" fill="#111" >residue</text>
<text x="727.4" y="855.7" font-size="23" font-weight="normal" text-anchor="middle" fill="#111" >1</text>
<text x="807.0" y="724.0" font-size="24.5" font-weight="bold" text-anchor="middle" fill="#111" >3</text>
<text x="978.0" y="760.2" font-size="24.5" font-weight="bold" text-anchor="middle" fill="#111" >2</text>
<text x="617.7" y="704.8" font-size="18.2" font-weight="bold" text-anchor="start" fill="#111" >1 cinnamic acid</text>
<text x="617.7" y="727.3" font-size="18.2" font-weight="bold" text-anchor="start" fill="#111" >2 chrysin</text>
<text x="617.7" y="749.5" font-size="18.2" font-weight="bold" text-anchor="start" fill="#111" >3 baicalein</text>
</svg>
</body></html>
